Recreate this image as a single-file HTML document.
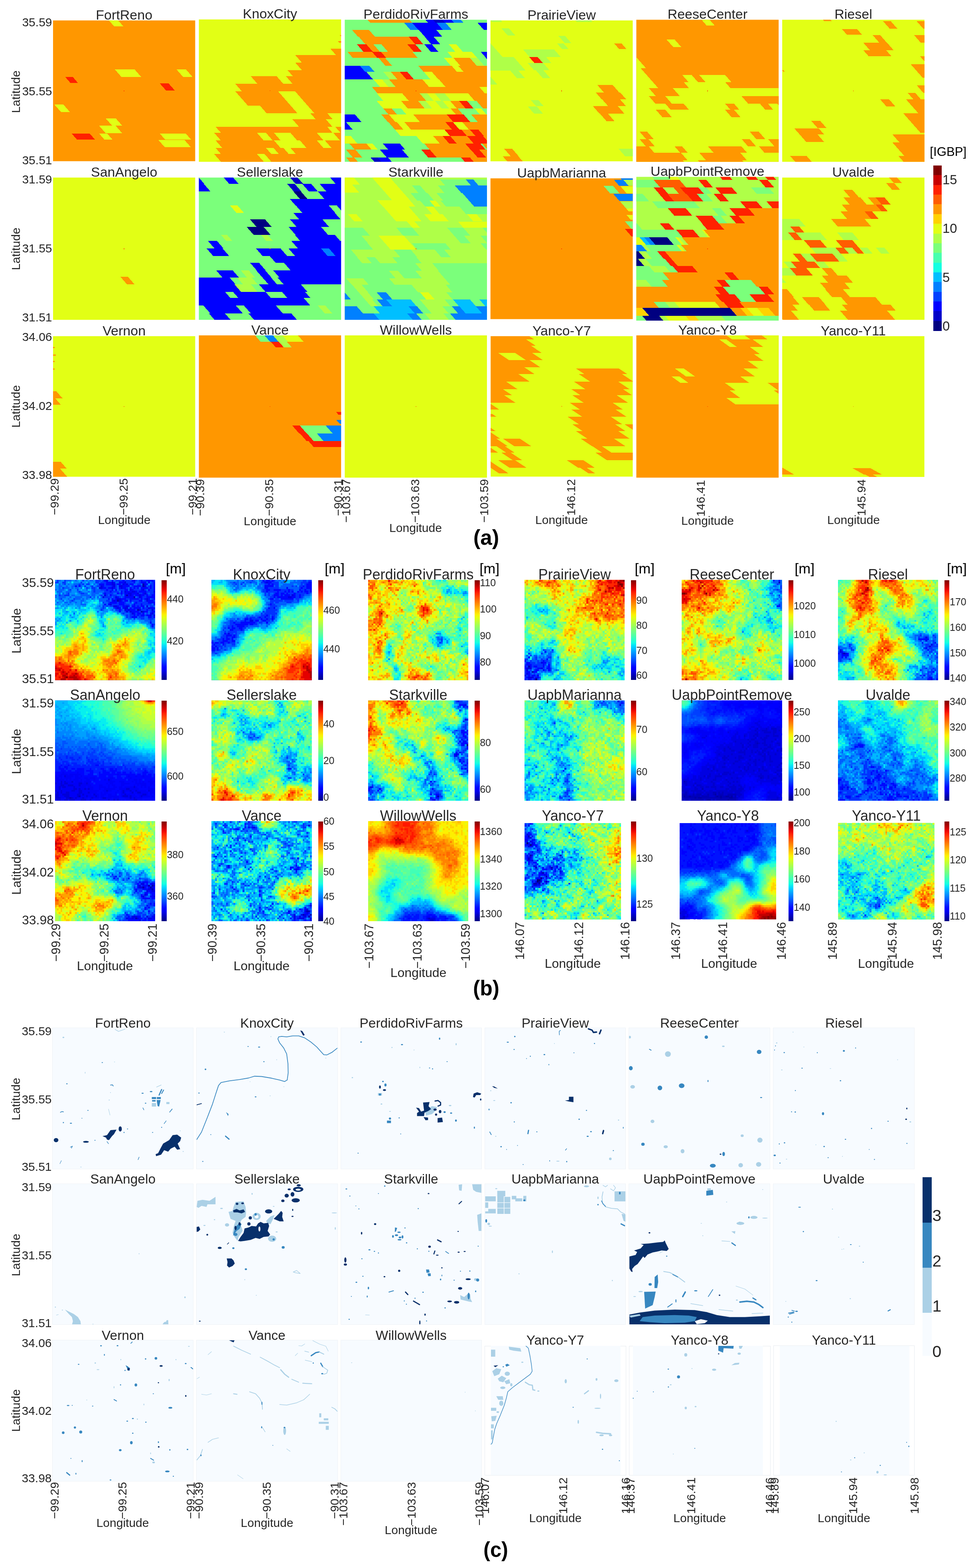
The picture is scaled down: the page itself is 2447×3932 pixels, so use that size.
<!DOCTYPE html>
<html><head><meta charset="utf-8"><title>Figure</title>
<style>html,body{margin:0;padding:0;background:#fff}svg{display:block}text{font-family:"Liberation Sans",Arial,sans-serif}</style>
</head><body>
<svg xmlns="http://www.w3.org/2000/svg" width="2447" height="3932" viewBox="0 0 2447 3932" shape-rendering="crispEdges">
<svg x="133" y="51.2" width="356.4" height="353.1" viewBox="0 0.8 1509.5 1495.5" preserveAspectRatio="none">
<rect x="-50" y="-50" width="1700" height="1700" fill="#ff9700"/>
<path fill="#e2ff15" d="M575 -20H673L748 65H650ZM655 520H865L935 600H725ZM1310 520H1410L1480 600H1380ZM15 895H110L178 972H83ZM558 1040H665L734 1118H627ZM490 1120H665L735 1200H560ZM490 1203H575L632 1268H547ZM1135 1203H1410L1467 1268H1192ZM1118 1270H1395L1464 1348H1187Z"/>
<path fill="#ff2100" d="M130 602H210L265 665H185ZM1132 668H1225L1293 745H1200ZM198 1203H390L447 1268H255Z"/>
<rect x="751.7" y="745.6" width="7" height="7" fill="#ff4000"/>
</svg>
<svg x="498.6" y="48.8" width="356.6" height="357" viewBox="2.5 -9.3 1510.3 1512" preserveAspectRatio="none">
<rect x="-50" y="-50" width="1700" height="1700" fill="#e2ff15"/>
<path fill="#ff9700" d="M1495 155H1600L1613 170H1508ZM1480 222H1600L1613 237H1493ZM1398 300H1600L1660 368H1458ZM1025 368H1600L1670 448H1095ZM1025 448H1600L1672 530H1097ZM945 530H1600L1657 595H1002ZM928 595H1600L1670 675H998ZM555 595H830L900 675H625ZM390 675H1600L1670 755H460ZM390 755H1600L1732 905H522ZM650 905H1600L1670 985H720ZM1185 985H1365L1422 1050H1242ZM995 1050H1350L1420 1130H1065ZM180 1130H1365L1422 1195H237ZM1450 1130H1600L1657 1195H1507ZM165 1195H1600L1670 1275H235ZM180 1275H1600L1670 1355H250ZM180 1355H1600L1657 1420H237ZM165 1420H1600L1701 1535H266Z"/>
<path fill="#e2ff15" d="M845 755H1025L1227 985H1047ZM620 1195H715L785 1275H690ZM800 1195H975L1045 1275H870ZM1255 1195H1430L1500 1275H1325ZM800 1275H1075L1145 1355H870ZM1255 1275H1340L1410 1355H1325ZM715 1355H795L852 1420H772ZM900 1355H975L1032 1420H957ZM620 1420H700L801 1535H721Z"/>
<rect x="754.7" y="743.7" width="7" height="7" fill="#ff4000"/>
</svg>
<svg x="864.4" y="49.5" width="356.5" height="356.3" viewBox="1.7 -2.1 1509.9 1509" preserveAspectRatio="none">
<rect x="-50" y="-50" width="1700" height="1700" fill="#7bff7b"/>
<path fill="#ff9700" d="M228 -20H673L715 28H270Z"/>
<path fill="#0000ff" d="M843 -20H923L965 28H885Z"/>
<path fill="#0000c8" d="M923 -20H1023L1065 28H965Z"/>
<path fill="#0000ff" d="M1023 -20H1118L1160 28H1065Z"/>
<path fill="#0080ff" d="M1118 -20H1218L1260 28H1160ZM630 28H715L785 108H700Z"/>
<path fill="#0000ff" d="M715 28H975L1045 108H785Z"/>
<path fill="#0080ff" d="M975 28H1070L1140 108H1045Z"/>
<path fill="#0000ff" d="M1410 28H1600L1670 108H1480Z"/>
<path fill="#ff9700" d="M80 108H260L322 178H142Z"/>
<path fill="#0000ff" d="M790 108H975L1037 178H852Z"/>
<path fill="#ff9700" d="M150 178H680L750 258H220Z"/>
<path fill="#ff2100" d="M680 178H765L835 258H750Z"/>
<path fill="#0000ff" d="M850 178H945L1015 258H920Z"/>
<path fill="#ff2100" d="M130 258H230L300 338H200Z"/>
<path fill="#ff9700" d="M230 258H305L375 338H300ZM390 258H665L735 338H460Z"/>
<path fill="#ff2100" d="M665 258H750L820 338H735Z"/>
<path fill="#0000ff" d="M845 258H925L995 338H915Z"/>
<path fill="#e2ff15" d="M1105 258H1185L1255 338H1175Z"/>
<path fill="#ff9700" d="M30 338H290L347 403H87Z"/>
<path fill="#ff2100" d="M290 338H385L442 403H347Z"/>
<path fill="#ff9700" d="M385 338H720L777 403H442Z"/>
<path fill="#e2ff15" d="M1090 338H1350L1407 403H1147Z"/>
<path fill="#0000ff" d="M1445 338H1600L1657 403H1502Z"/>
<path fill="#ff9700" d="M360 403H430L502 485H432Z"/>
<path fill="#e2ff15" d="M1055 403H1155L1227 485H1127Z"/>
<path fill="#ff9700" d="M1155 403H1330L1402 485H1227Z"/>
<path fill="#afff48" d="M1330 403H1410L1482 485H1402Z"/>
<path fill="#0000ff" d="M1500 403H1600L1672 485H1572ZM-80 485H160L217 550H-23Z"/>
<path fill="#0080ff" d="M160 485H260L317 550H217Z"/>
<path fill="#ff9700" d="M780 485H1135L1192 550H837Z"/>
<path fill="#e2ff15" d="M1135 485H1205L1262 550H1192Z"/>
<path fill="#ff9700" d="M1205 485H1600L1657 550H1262Z"/>
<path fill="#0000ff" d="M-80 550H230L300 630H-10Z"/>
<path fill="#afff48" d="M410 550H490L560 630H480Z"/>
<path fill="#ff9700" d="M490 550H585L655 630H560Z"/>
<path fill="#ff2100" d="M585 550H665L735 630H655Z"/>
<path fill="#e2ff15" d="M840 550H925L995 630H910Z"/>
<path fill="#ff9700" d="M925 550H1600L1670 630H995Z"/>
<path fill="#e2ff15" d="M305 630H395L467 712H377Z"/>
<path fill="#afff48" d="M395 630H470L542 712H467Z"/>
<path fill="#ff9700" d="M470 630H825L897 712H542Z"/>
<path fill="#e2ff15" d="M825 630H1000L1072 712H897Z"/>
<path fill="#ff9700" d="M1000 630H1600L1672 712H1072ZM290 712H1430L1488 778H348Z"/>
<path fill="#e2ff15" d="M1430 712H1600L1658 778H1488ZM340 778H610L682 860H412Z"/>
<path fill="#ff9700" d="M610 778H795L867 860H682Z"/>
<path fill="#afff48" d="M795 778H875L947 860H867Z"/>
<path fill="#e2ff15" d="M875 778H955L1027 860H947Z"/>
<path fill="#afff48" d="M955 778H1060L1132 860H1027Z"/>
<path fill="#e2ff15" d="M1060 778H1310L1382 860H1132Z"/>
<path fill="#ff9700" d="M1310 778H1600L1672 860H1382Z"/>
<path fill="#e2ff15" d="M340 860H600L670 940H410Z"/>
<path fill="#ff9700" d="M600 860H780L850 940H670Z"/>
<path fill="#afff48" d="M780 860H860L930 940H850Z"/>
<path fill="#e2ff15" d="M860 860H960L1030 940H930Z"/>
<path fill="#afff48" d="M960 860H1040L1110 940H1030Z"/>
<path fill="#e2ff15" d="M1040 860H1120L1190 940H1110Z"/>
<path fill="#ff9700" d="M1120 860H1215L1285 940H1190Z"/>
<path fill="#ff2100" d="M1215 860H1300L1370 940H1285Z"/>
<path fill="#ff9700" d="M1400 860H1600L1670 940H1470ZM410 940H500L557 1005H467Z"/>
<path fill="#e2ff15" d="M600 940H1125L1182 1005H657Z"/>
<path fill="#ff9700" d="M1125 940H1200L1257 1005H1182Z"/>
<path fill="#e2ff15" d="M1380 940H1450L1507 1005H1437Z"/>
<path fill="#0000ff" d="M-80 1005H110L180 1085H-10Z"/>
<path fill="#ff9700" d="M390 1005H470L540 1085H460Z"/>
<path fill="#e2ff15" d="M470 1005H730L800 1085H540Z"/>
<path fill="#ff9700" d="M730 1005H1085L1155 1085H800Z"/>
<path fill="#ff2100" d="M1085 1005H1265L1335 1085H1155Z"/>
<path fill="#ff9700" d="M1345 1005H1600L1670 1085H1415Z"/>
<path fill="#0000ff" d="M-80 1085H15L85 1165H-10Z"/>
<path fill="#ff9700" d="M465 1085H555L625 1165H535Z"/>
<path fill="#e2ff15" d="M555 1085H635L705 1165H625Z"/>
<path fill="#ff9700" d="M635 1085H1070L1140 1165H705Z"/>
<path fill="#ff2100" d="M1070 1085H1150L1220 1165H1140Z"/>
<path fill="#e2ff15" d="M1150 1085H1250L1320 1165H1220Z"/>
<path fill="#ff9700" d="M1250 1085H1600L1670 1165H1320Z"/>
<path fill="#e2ff15" d="M535 1165H1060L1119 1232H594Z"/>
<path fill="#ff2100" d="M1060 1165H1240L1299 1232H1119Z"/>
<path fill="#ff9700" d="M1240 1165H1330L1389 1232H1299Z"/>
<path fill="#ff2100" d="M1330 1165H1420L1479 1232H1389Z"/>
<path fill="#ff9700" d="M1420 1165H1600L1659 1232H1479Z"/>
<path fill="#e2ff15" d="M-80 1232H65L135 1312H-10ZM760 1232H940L1010 1312H830Z"/>
<path fill="#ff9700" d="M940 1232H1040L1110 1312H1010Z"/>
<path fill="#ff2100" d="M1040 1232H1120L1190 1312H1110Z"/>
<path fill="#ff9700" d="M1120 1232H1300L1370 1312H1190Z"/>
<path fill="#ff2100" d="M1300 1232H1470L1540 1312H1370Z"/>
<path fill="#ff9700" d="M1470 1232H1600L1670 1312H1540ZM50 1312H230L288 1378H108Z"/>
<path fill="#e2ff15" d="M230 1312H295L353 1378H288Z"/>
<path fill="#0000ff" d="M405 1312H585L643 1378H463Z"/>
<path fill="#ff9700" d="M845 1312H1280L1338 1378H903Z"/>
<path fill="#ff2100" d="M1280 1312H1440L1498 1378H1338Z"/>
<path fill="#ff9700" d="M1460 1312H1600L1658 1378H1518ZM15 1378H115L187 1460H87Z"/>
<path fill="#0000ff" d="M375 1378H610L682 1460H447Z"/>
<path fill="#ff2100" d="M815 1378H905L977 1460H887Z"/>
<path fill="#ff9700" d="M905 1378H1340L1412 1460H977Z"/>
<path fill="#ff2100" d="M1340 1378H1430L1502 1460H1412Z"/>
<path fill="#ff9700" d="M1430 1378H1600L1672 1460H1502ZM15 1460H100L166 1535H81Z"/>
<path fill="#0000c8" d="M275 1460H350L416 1535H341Z"/>
<path fill="#0000ff" d="M350 1460H460L526 1535H416Z"/>
<path fill="#ff2100" d="M1235 1460H1330L1396 1535H1301Z"/>
<path fill="#ff9700" d="M1330 1460H1600L1666 1535H1396Z"/>
<rect x="753.6" y="749.4" width="7" height="7" fill="#ff4000"/>
</svg>
<svg x="1229.7" y="51.3" width="356.7" height="353.3" viewBox="-1.3 1.3 1510.7 1496.3" preserveAspectRatio="none">
<rect x="-50" y="-50" width="1700" height="1700" fill="#e2ff15"/>
<path fill="#afff48" d="M-17 -20H93L124 15H14ZM883 -20H1048L1079 15H914ZM115 85H195L261 160H181ZM720 165H790L856 240H786ZM705 245H775L828 305H758ZM-300 245H0L128 390H-172ZM-300 390H245L373 535H-172ZM210 535H295L365 615H280ZM-80 600H0L70 680H-10ZM345 310H675L745 390H415ZM500 390H590L647 455H557ZM395 455H560L626 530H461ZM480 530H560L635 615H555ZM425 845H505L562 910H482ZM395 915H490L556 990H461ZM1360 1365H1600L1670 1445H1430Z"/>
<path fill="#ff2100" d="M410 390H500L557 455H467Z"/>
<path fill="#ff9700" d="M1312 245H1390L1443 305H1365ZM1132 685H1295L1365 765H1202ZM1115 765H1375L1441 840H1181ZM1185 840H1375L1437 910H1247ZM1085 910H1350L1420 990H1155ZM1160 990H1245L1315 1070H1230ZM145 1365H230L300 1445H215ZM130 1445H295L374 1535H209Z"/>
<rect x="751.1" y="746.4" width="7" height="7" fill="#ff4000"/>
</svg>
<svg x="1595.4" y="49.5" width="356.8" height="356.3" viewBox="-2.5 -6.4 1511.2 1509" preserveAspectRatio="none">
<rect x="-50" y="-50" width="1700" height="1700" fill="#ff9700"/>
<path fill="#e2ff15" d="M678 -20H763L829 55H744ZM320 205H405L473 282H388ZM-300 395H0L101 510H-199ZM-300 510H45L230 720H-115ZM485 580H585L651 655H551ZM665 580H940L1006 655H731ZM500 655H940L997 720H557ZM0 720H1512V1535H0Z"/>
<path fill="#ff9700" d="M130 720H385L460 805H205ZM130 805H305L375 885H200ZM1115 805H1600L1670 885H1185ZM305 885H500L557 950H362ZM940 885H1035L1092 950H997ZM1310 885H1395L1452 950H1367ZM1495 885H1600L1657 950H1552ZM205 950H305L375 1030H275ZM940 950H1035L1105 1030H1010ZM30 1180H110L180 1260H100ZM1200 1180H1295L1365 1260H1270ZM30 1260H125L195 1340H100ZM1115 1260H1200L1270 1340H1185ZM1395 1260H1600L1670 1340H1465ZM-80 1340H130L187 1405H-23ZM405 1340H485L542 1405H462ZM760 1340H1115L1172 1405H817ZM1300 1340H1600L1657 1405H1357ZM-80 1405H470L540 1485H-10ZM665 1405H1100L1170 1485H735ZM-80 1485H490L534 1535H-36ZM650 1485H1120L1164 1535H694Z"/>
<rect x="750" y="745.2" width="7" height="7" fill="#ff4000"/>
</svg>
<svg x="1961.1" y="49.5" width="356.7" height="356.3" viewBox="-3.8 -6.4 1510.7 1509" preserveAspectRatio="none">
<rect x="-50" y="-50" width="1700" height="1700" fill="#e2ff15"/>
<path fill="#ff9700" d="M418 -20H498L523 8H443ZM1068 10H1150L1219 88H1137ZM1425 10H1600L1669 88H1494ZM630 92H790L843 152H683ZM955 155H1035L1108 238H1028ZM1395 155H1600L1673 238H1468ZM858 238H1110L1180 318H928ZM858 318H1100L1155 380H913ZM1460 382H1600L1642 430H1502ZM1360 465H1600L1728 610H1488ZM1425 690H1600L1670 770H1495ZM1330 772H1410L1470 840H1390ZM1312 840H1600L1728 985H1440ZM1035 838H1130L1198 915H1103ZM1280 985H1600L1785 1195H1465ZM1165 1210H1600L1675 1295H1240ZM1165 1295H1600L1728 1440H1293ZM1230 1440H1600L1684 1535H1314ZM305 1068H400L468 1145H373ZM125 1148H385L440 1210H180ZM180 1210H370L442 1292H252ZM80 1440H255L339 1535H164ZM-5 530H10L23 545H8Z"/>
<rect x="748.6" y="745.2" width="7" height="7" fill="#ff4000"/>
</svg>
<svg x="133" y="445.2" width="356.4" height="356.9" viewBox="0 0.8 1509.5 1511.6" preserveAspectRatio="none">
<rect x="-50" y="-50" width="1700" height="1700" fill="#e2ff15"/>
<path fill="#ff9700" d="M715 1055H795L865 1135H785Z"/>
<rect x="751.7" y="753.6" width="7" height="7" fill="#ff4000"/>
</svg>
<svg x="498.6" y="445.2" width="356.6" height="356.9" viewBox="2.5 0.8 1510.3 1511.6" preserveAspectRatio="none">
<rect x="-50" y="-50" width="1700" height="1700" fill="#7bff7b"/>
<path fill="#0000ff" d="M-97 -20H-17L60 68H-20ZM248 -20H348L425 68H325Z"/>
<path fill="#0000c8" d="M953 -20H1033L1110 68H1030Z"/>
<path fill="#0000ff" d="M1378 -20H1583L1660 68H1455ZM-80 68H55L125 148H-10Z"/>
<path fill="#0000c8" d="M940 68H1020L1090 148H1010Z"/>
<path fill="#0000ff" d="M1100 68H1195L1265 148H1170ZM1285 68H1600L1670 148H1355Z"/>
<path fill="#000080" d="M1005 148H1085L1157 230H1077Z"/>
<path fill="#0000ff" d="M1265 148H1600L1672 230H1337ZM970 230H1600L1657 295H1027Z"/>
<path fill="#e2ff15" d="M330 295H410L480 375H400Z"/>
<path fill="#0000ff" d="M1030 295H1380L1450 375H1100ZM1465 295H1600L1670 375H1535ZM1005 375H1445L1507 445H1067ZM1530 375H1600L1662 445H1592Z"/>
<path fill="#000080" d="M545 445H705L775 525H615Z"/>
<path fill="#0000ff" d="M970 445H1315L1385 525H1040Z"/>
<path fill="#000080" d="M510 525H690L763 608H583Z"/>
<path fill="#0000ff" d="M955 525H1300L1373 608H1028Z"/>
<path fill="#afff48" d="M235 608H300L359 675H294ZM660 608H730L789 675H719Z"/>
<path fill="#0000ff" d="M1020 608H1445L1504 675H1079ZM100 675H195L265 755H170ZM985 675H1600L1670 755H1055ZM85 755H255L325 835H155ZM610 755H870L940 835H680ZM955 755H1300L1370 835H1025Z"/>
<path fill="#0080ff" d="M1300 755H1385L1455 835H1370Z"/>
<path fill="#0000ff" d="M1385 755H1600L1670 835H1455ZM755 835H1600L1662 905H817ZM545 905H640L710 985H615ZM905 905H1600L1670 985H975ZM185 985H360L430 1065H255Z"/>
<path fill="#afff48" d="M445 985H530L600 1065H515Z"/>
<path fill="#0000ff" d="M610 985H705L775 1065H680ZM790 985H1600L1670 1065H860ZM-80 1065H330L392 1135H-18Z"/>
<path fill="#afff48" d="M410 1065H565L627 1135H472Z"/>
<path fill="#0000ff" d="M680 1065H770L832 1135H742ZM840 1065H1600L1662 1135H902ZM-80 1135H380L450 1215H-10Z"/>
<path fill="#afff48" d="M380 1135H555L625 1215H450Z"/>
<path fill="#0000ff" d="M640 1135H1085L1155 1215H710ZM-80 1215H280L337 1280H-23ZM365 1215H710L767 1280H422ZM885 1215H1130L1187 1280H942ZM-80 1280H1115L1185 1360H-10ZM50 1360H395L470 1445H125ZM480 1360H820L895 1445H555Z"/>
<path fill="#afff48" d="M1265 1360H1345L1420 1445H1340Z"/>
<path fill="#0000ff" d="M110 1445H280L359 1535H189ZM530 1445H985L1064 1535H609Z"/>
<rect x="754.7" y="753.6" width="7" height="7" fill="#ff4000"/>
</svg>
<svg x="864.4" y="445.2" width="356.5" height="356.9" viewBox="1.7 0.8 1509.9 1511.6" preserveAspectRatio="none">
<rect x="-50" y="-50" width="1700" height="1700" fill="#afff48"/>
<path fill="#e2ff15" d="M-97 -20H78L162 75H-13ZM-80 75H80L155 160H-5ZM273 -20H463L692 240H502ZM345 240H690L752 310H407ZM410 310H680L750 390H480ZM480 390H750L816 465H546ZM660 465H740L802 535H722ZM875 245H965L1022 310H932ZM860 310H940L1010 390H930ZM845 390H1040L1106 465H911ZM35 390H125L191 465H101ZM1300 390H1400L1466 465H1366ZM1205 470H1600L1657 535H1262ZM360 620H630L758 765H488Z"/>
<path fill="#7bff7b" d="M1010 20H1285L1342 85H1067Z"/>
<path fill="#0080ff" d="M1285 20H1365L1422 85H1342Z"/>
<path fill="#7bff7b" d="M1365 20H1600L1657 85H1422ZM990 85H1170L1240 165H1060Z"/>
<path fill="#0080ff" d="M1170 85H1600L1670 165H1240Z"/>
<path fill="#7bff7b" d="M715 85H800L870 165H785ZM975 165H1250L1320 245H1045Z"/>
<path fill="#0080ff" d="M1250 165H1600L1670 245H1320Z"/>
<path fill="#7bff7b" d="M700 165H880L950 245H770ZM1020 245H1320L1377 310H1077Z"/>
<path fill="#0080ff" d="M1320 245H1600L1657 310H1377Z"/>
<path fill="#7bff7b" d="M800 245H900L957 310H857ZM1220 310H1600L1670 390H1290ZM-80 535H195L270 620H-5ZM550 535H720L795 620H625ZM1090 535H1260L1335 620H1165ZM1465 535H1600L1675 620H1540ZM-80 620H180L250 700H-10ZM1165 620H1270L1340 700H1235ZM1445 620H1600L1670 700H1515ZM-80 700H245L302 765H-23ZM715 700H1070L1127 765H772ZM1445 700H1600L1657 765H1502ZM-80 765H65L135 845H-10ZM520 765H700L770 845H590ZM955 765H1055L1125 845H1025ZM-80 845H130L187 910H-23ZM230 845H320L377 910H287ZM505 845H760L817 910H562ZM-80 910H750L820 990H-10ZM930 910H1600L1670 990H1000ZM-80 990H470L540 1070H-10ZM565 990H750L820 1070H635ZM990 990H1600L1670 1070H1060ZM-80 1070H15L77 1140H-18ZM195 1070H470L532 1140H257ZM1060 1070H1600L1662 1140H1122ZM-80 1140H80L150 1220H-10ZM180 1140H710L780 1220H250ZM1075 1140H1600L1670 1220H1145Z"/>
<path fill="#0080ff" d="M-80 1220H0L66 1295H-14Z"/>
<path fill="#7bff7b" d="M0 1220H150L216 1295H66ZM245 1220H340L406 1295H311Z"/>
<path fill="#0080ff" d="M340 1220H440L506 1295H406Z"/>
<path fill="#7bff7b" d="M440 1220H800L866 1295H506Z"/>
<path fill="#e2ff15" d="M800 1220H890L956 1295H866Z"/>
<path fill="#7bff7b" d="M1080 1220H1600L1666 1295H1146ZM-80 1295H215L281 1370H-14ZM290 1295H340L406 1370H356Z"/>
<path fill="#0080ff" d="M340 1295H440L506 1370H406Z"/>
<path fill="#00bfff" d="M440 1295H700L766 1370H506Z"/>
<path fill="#7bff7b" d="M700 1295H795L861 1370H766ZM1060 1295H1150L1216 1370H1126Z"/>
<path fill="#00bfff" d="M1150 1295H1330L1396 1370H1216Z"/>
<path fill="#7bff7b" d="M1330 1295H1430L1496 1370H1396Z"/>
<path fill="#00bfff" d="M1430 1295H1600L1666 1370H1496Z"/>
<path fill="#0080ff" d="M-80 1370H130L196 1445H-14Z"/>
<path fill="#7bff7b" d="M130 1370H310L376 1445H196Z"/>
<path fill="#00bfff" d="M310 1370H680L746 1445H376Z"/>
<path fill="#0080ff" d="M680 1370H770L836 1445H746Z"/>
<path fill="#7bff7b" d="M770 1370H860L926 1445H836ZM1040 1370H1140L1206 1445H1106Z"/>
<path fill="#0080ff" d="M1140 1370H1220L1286 1445H1206Z"/>
<path fill="#00bfff" d="M1220 1370H1395L1461 1445H1286Z"/>
<path fill="#0080ff" d="M1395 1370H1600L1666 1445H1461ZM-80 1445H310L389 1535H-1Z"/>
<path fill="#00bfff" d="M310 1445H665L744 1535H389Z"/>
<path fill="#0080ff" d="M665 1445H760L839 1535H744Z"/>
<path fill="#7bff7b" d="M760 1445H850L929 1535H839ZM1050 1445H1120L1199 1535H1129Z"/>
<path fill="#0080ff" d="M1120 1445H1600L1679 1535H1199Z"/>
<rect x="753.6" y="753.6" width="7" height="7" fill="#ff4000"/>
</svg>
<svg x="1229.7" y="447.2" width="356.7" height="353" viewBox="-1.3 9.3 1510.7 1495.1" preserveAspectRatio="none">
<rect x="-50" y="-50" width="1700" height="1700" fill="#ff9700"/>
<path fill="#0080ff" d="M1380 10H1600L1613 25H1393ZM1310 25H1410L1467 90H1367Z"/>
<path fill="#afff48" d="M1410 25H1600L1657 90H1467Z"/>
<path fill="#7bff7b" d="M1200 90H1300L1370 170H1270Z"/>
<path fill="#e2ff15" d="M1380 95H1600L1666 170H1446Z"/>
<path fill="#0080ff" d="M1300 172H1600L1669 250H1369Z"/>
<path fill="#afff48" d="M1375 255H1600L1666 330H1441Z"/>
<path fill="#e2ff15" d="M1440 330H1600L1626 360H1466ZM1445 400H1600L1644 450H1489Z"/>
<path fill="#7bff7b" d="M1425 465H1600L1670 545H1495Z"/>
<path fill="#ff2100" d="M1425 545H1600L1670 625H1495Z"/>
<rect x="751.1" y="753.8" width="7" height="7" fill="#ff4000"/>
</svg>
<svg x="1595.4" y="443.5" width="356.8" height="360.5" viewBox="-2.5 -6.4 1511.2 1526.8" preserveAspectRatio="none">
<rect x="-50" y="-50" width="1700" height="1700" fill="#afff48"/>
<path fill="#7bff7b" d="M153 -20H323L363 25H193Z"/>
<path fill="#e2ff15" d="M323 -20H423L463 25H363Z"/>
<path fill="#ff2100" d="M873 -20H978L1018 25H913ZM1148 -20H1253L1293 25H1188ZM1353 -20H1443L1483 25H1393Z"/>
<path fill="#7bff7b" d="M-80 25H180L250 105H-10Z"/>
<path fill="#ff5c00" d="M180 25H455L525 105H250Z"/>
<path fill="#ff2100" d="M655 25H740L810 105H725ZM1300 25H1390L1460 105H1370ZM180 105H275L337 175H242Z"/>
<path fill="#ff5c00" d="M390 105H460L522 175H452Z"/>
<path fill="#ff2100" d="M460 105H655L717 175H522Z"/>
<path fill="#7bff7b" d="M655 105H740L802 175H717Z"/>
<path fill="#ff2100" d="M835 105H1010L1072 175H897Z"/>
<path fill="#7bff7b" d="M1215 105H1400L1462 175H1277ZM-80 175H65L135 255H-10Z"/>
<path fill="#ff2100" d="M240 175H330L400 255H310Z"/>
<path fill="#ff5c00" d="M330 175H530L600 255H400Z"/>
<path fill="#ff2100" d="M530 175H640L710 255H600Z"/>
<path fill="#7bff7b" d="M640 175H740L810 255H710Z"/>
<path fill="#ff2100" d="M820 175H910L980 255H890Z"/>
<path fill="#7bff7b" d="M165 255H610L672 325H227Z"/>
<path fill="#ff2100" d="M1100 255H1275L1337 325H1162ZM1380 255H1600L1662 325H1442ZM330 325H520L590 405H400Z"/>
<path fill="#7bff7b" d="M800 325H890L960 405H870Z"/>
<path fill="#ff2100" d="M985 325H1185L1255 405H1055Z"/>
<path fill="#ff9700" d="M1185 325H1600L1670 405H1255Z"/>
<path fill="#ff2100" d="M625 405H800L870 485H695Z"/>
<path fill="#7bff7b" d="M800 405H890L960 485H870Z"/>
<path fill="#ff2100" d="M985 405H1080L1150 485H1055Z"/>
<path fill="#ff9700" d="M1080 405H1600L1670 485H1150Z"/>
<path fill="#7bff7b" d="M-80 485H0L62 555H-18Z"/>
<path fill="#ff2100" d="M245 485H340L402 555H307ZM690 485H870L932 555H752Z"/>
<path fill="#ff9700" d="M870 485H1600L1662 555H932Z"/>
<path fill="#7bff7b" d="M-80 555H420L490 635H-10Z"/>
<path fill="#ff2100" d="M420 555H600L670 635H490Z"/>
<path fill="#e2ff15" d="M690 555H720L790 635H760Z"/>
<path fill="#ff9700" d="M710 555H1600L1670 635H780Z"/>
<path fill="#e2ff15" d="M-80 635H30L100 715H-10Z"/>
<path fill="#00bfff" d="M30 635H80L150 715H100Z"/>
<path fill="#0080ff" d="M80 635H130L200 715H150Z"/>
<path fill="#000080" d="M130 635H325L395 715H200Z"/>
<path fill="#7bff7b" d="M325 635H410L480 715H395Z"/>
<path fill="#e2ff15" d="M410 635H440L510 715H480Z"/>
<path fill="#ff9700" d="M480 635H1600L1670 715H550Z"/>
<path fill="#0080ff" d="M-80 715H50L112 785H-18Z"/>
<path fill="#7bff7b" d="M90 715H420L482 785H152Z"/>
<path fill="#e2ff15" d="M420 715H450L512 785H482Z"/>
<path fill="#ff9700" d="M470 715H1600L1662 785H532Z"/>
<path fill="#000080" d="M-80 785H20L90 865H-10Z"/>
<path fill="#7bff7b" d="M95 785H220L290 865H165Z"/>
<path fill="#ff2100" d="M220 785H300L370 865H290Z"/>
<path fill="#ff9700" d="M300 785H1600L1670 865H370Z"/>
<path fill="#000080" d="M-80 865H15L81 940H-14Z"/>
<path fill="#7bff7b" d="M95 865H300L366 940H161Z"/>
<path fill="#ff2100" d="M300 865H370L436 940H366Z"/>
<path fill="#ff9700" d="M370 865H1600L1666 940H436Z"/>
<path fill="#7bff7b" d="M-80 940H130L192 1010H-18ZM300 940H380L442 1010H362Z"/>
<path fill="#ff2100" d="M380 940H590L652 1010H442Z"/>
<path fill="#ff9700" d="M590 940H1600L1662 1010H652Z"/>
<path fill="#7bff7b" d="M-80 1010H280L350 1090H-10Z"/>
<path fill="#ff9700" d="M280 1010H1600L1670 1090H350Z"/>
<path fill="#ff2100" d="M935 1010H1020L1090 1090H1005Z"/>
<path fill="#7bff7b" d="M100 1090H270L332 1160H162Z"/>
<path fill="#ff9700" d="M270 1090H1600L1662 1160H332Z"/>
<path fill="#ff2100" d="M850 1090H935L997 1160H912Z"/>
<path fill="#7bff7b" d="M935 1090H1215L1277 1160H997Z"/>
<path fill="#ff9700" d="M-80 1160H1600L1670 1240H-10Z"/>
<path fill="#ff2100" d="M820 1160H915L985 1240H890Z"/>
<path fill="#7bff7b" d="M915 1160H1295L1365 1240H985Z"/>
<path fill="#ff2100" d="M1295 1160H1390L1460 1240H1365Z"/>
<path fill="#ff9700" d="M-80 1240H1600L1670 1320H-10Z"/>
<path fill="#ff2100" d="M835 1240H1040L1110 1320H905Z"/>
<path fill="#7bff7b" d="M1040 1240H1195L1265 1320H1110Z"/>
<path fill="#ff2100" d="M1200 1240H1390L1460 1320H1270Z"/>
<path fill="#ff9700" d="M-80 1320H180L237 1385H-23Z"/>
<path fill="#7bff7b" d="M180 1320H300L357 1385H237Z"/>
<path fill="#e2ff15" d="M400 1320H830L887 1385H457Z"/>
<path fill="#ff9700" d="M830 1320H920L977 1385H887Z"/>
<path fill="#ff2100" d="M920 1320H1090L1147 1385H977Z"/>
<path fill="#ff9700" d="M1090 1320H1600L1657 1385H1147Z"/>
<path fill="#ffd200" d="M-80 1385H60L135 1470H-5Z"/>
<path fill="#000080" d="M60 1385H990L1065 1470H135Z"/>
<path fill="#ff9700" d="M990 1385H1100L1175 1470H1065Z"/>
<path fill="#ffd200" d="M1100 1385H1170L1245 1470H1175Z"/>
<path fill="#e2ff15" d="M1170 1385H1280L1355 1470H1245Z"/>
<path fill="#ffd200" d="M1280 1385H1400L1475 1470H1355Z"/>
<path fill="#ff9700" d="M1400 1385H1600L1675 1470H1475Z"/>
<path fill="#7bff7b" d="M-80 1470H60L117 1535H-23Z"/>
<path fill="#000080" d="M60 1470H240L297 1535H117Z"/>
<path fill="#e2ff15" d="M300 1470H520L577 1535H357Z"/>
<path fill="#ffd200" d="M520 1470H620L677 1535H577Z"/>
<path fill="#7bff7b" d="M900 1470H1600L1657 1535H957Z"/>
<rect x="750" y="754.1" width="7" height="7" fill="#ff4000"/>
</svg>
<svg x="1961.1" y="445.2" width="356.7" height="356.9" viewBox="-3.8 0.8 1510.7 1511.6" preserveAspectRatio="none">
<rect x="-50" y="-50" width="1700" height="1700" fill="#e2ff15"/>
<path fill="#ff9700" d="M1113 -20H1198L1268 60H1183ZM1100 60H1185L1247 130H1162ZM645 130H740L810 210H715ZM645 210H825L895 290H715ZM905 210H985L1055 290H975Z"/>
<path fill="#ff5c00" d="M985 210H1080L1150 290H1055Z"/>
<path fill="#ff9700" d="M630 290H990L1052 360H692Z"/>
<path fill="#ff5c00" d="M990 290H1055L1117 360H1052Z"/>
<path fill="#ff9700" d="M615 360H870L940 440H685Z"/>
<path fill="#ff5c00" d="M870 360H950L1020 440H940Z"/>
<path fill="#afff48" d="M-80 440H175L245 520H-10Z"/>
<path fill="#ff9700" d="M515 440H870L940 520H585Z"/>
<path fill="#afff48" d="M-80 520H80L137 585H-23Z"/>
<path fill="#ff5c00" d="M80 520H175L232 585H137Z"/>
<path fill="#afff48" d="M-80 585H60L130 665H-10Z"/>
<path fill="#ff5c00" d="M60 585H140L210 665H130Z"/>
<path fill="#afff48" d="M140 585H400L470 665H210ZM580 585H740L810 665H650Z"/>
<path fill="#ff5c00" d="M225 665H400L470 745H295ZM565 665H740L810 745H635Z"/>
<path fill="#afff48" d="M300 745H560L617 810H357Z"/>
<path fill="#ff5c00" d="M560 745H650L707 810H617Z"/>
<path fill="#afff48" d="M650 745H740L797 810H707Z"/>
<path fill="#ff5c00" d="M740 745H810L867 810H797Z"/>
<path fill="#afff48" d="M820 745H900L957 810H877ZM990 745H1080L1137 810H1047Z"/>
<path fill="#ff5c00" d="M110 810H190L265 895H185Z"/>
<path fill="#afff48" d="M190 810H290L365 895H265Z"/>
<path fill="#ff5c00" d="M290 810H530L605 895H365Z"/>
<path fill="#afff48" d="M530 810H620L695 895H605ZM10 895H90L147 960H67Z"/>
<path fill="#ff5c00" d="M90 895H340L397 960H147Z"/>
<path fill="#afff48" d="M350 895H440L497 960H407ZM-80 960H75L145 1040H-10Z"/>
<path fill="#ff5c00" d="M75 960H250L320 1040H145Z"/>
<path fill="#ff9700" d="M415 960H515L585 1040H485Z"/>
<path fill="#afff48" d="M-80 1040H-30L40 1120H-10Z"/>
<path fill="#ff9700" d="M415 1040H680L750 1120H485ZM400 1120H660L717 1185H457ZM-80 1185H45L120 1270H-5ZM450 1185H640L715 1270H525ZM-80 1270H110L180 1350H-10ZM205 1270H385L455 1350H275ZM620 1270H985L1055 1350H690ZM-80 1350H105L162 1415H-23ZM280 1350H450L507 1415H337ZM630 1350H1145L1202 1415H687ZM-80 1415H90L196 1535H26ZM610 1415H1110L1216 1535H716Z"/>
<rect x="748.6" y="753.6" width="7" height="7" fill="#ff4000"/>
</svg>
<svg x="133" y="843" width="356.4" height="352.6" viewBox="0 12.7 1509.5 1493.4" preserveAspectRatio="none">
<rect x="-50" y="-50" width="1700" height="1700" fill="#e2ff15"/>
<path fill="#ff9700" d="M-80 598H35L103 675H-12ZM-80 675H25L82 740H-23ZM-80 1345H80L146 1420H-14ZM-80 1420H75L176 1535H21ZM0 125H15V140H0ZM0 208H30V222H0ZM0 275H15V288H0ZM0 355H15V368H0Z"/>
<rect x="751.7" y="756.4" width="7" height="7" fill="#ff4000"/>
</svg>
<svg x="498.6" y="841" width="356.6" height="356.8" viewBox="2.5 4.2 1510.3 1511.2" preserveAspectRatio="none">
<rect x="-50" y="-50" width="1700" height="1700" fill="#ff9700"/>
<path fill="#7bff7b" d="M600 5H700L757 70H657Z"/>
<path fill="#0080ff" d="M700 5H790L847 70H757Z"/>
<path fill="#afff48" d="M790 5H890L947 70H847Z"/>
<path fill="#e2ff15" d="M890 5H1055L1112 70H947Z"/>
<path fill="#ff2100" d="M765 70H850L905 132H820Z"/>
<path fill="#afff48" d="M850 70H935L990 132H905Z"/>
<path fill="#ff2100" d="M1460 818H1600L1626 848H1486Z"/>
<path fill="#0080ff" d="M1460 900H1600L1640 945H1500Z"/>
<path fill="#ff2100" d="M995 963H1075L1147 1045H1067Z"/>
<path fill="#7bff7b" d="M1075 963H1350L1422 1045H1147Z"/>
<path fill="#0080ff" d="M1350 963H1600L1672 1045H1422Z"/>
<path fill="#ff2100" d="M1075 1045H1150L1220 1125H1145Z"/>
<path fill="#7bff7b" d="M1150 1045H1255L1325 1125H1220Z"/>
<path fill="#0080ff" d="M1255 1045H1600L1670 1125H1325Z"/>
<path fill="#ff2100" d="M1165 1125H1600L1657 1190H1222Z"/>
<rect x="754.7" y="756.8" width="7" height="7" fill="#ff4000"/>
</svg>
<svg x="864.4" y="841" width="356.5" height="356.8" viewBox="1.7 4.2 1509.9 1511.2" preserveAspectRatio="none">
<rect x="-50" y="-50" width="1700" height="1700" fill="#e2ff15"/>
<rect x="753.6" y="756.8" width="7" height="7" fill="#ff4000"/>
</svg>
<svg x="1230.2" y="843" width="356.2" height="352.3" viewBox="0.8 12.7 1508.6 1492.1" preserveAspectRatio="none">
<rect x="-50" y="-50" width="1700" height="1700" fill="#e2ff15"/>
<path fill="#ff9700" d="M-300 12H410L460 45H-250ZM-300 45H375L480 115H-195ZM-300 115H430L542 190H-188ZM-300 190H440L552 265H-188Z"/>
<path fill="#e2ff15" d="M80 190H260L372 265H192Z"/>
<path fill="#ff9700" d="M-300 265H410L530 345H-180ZM-300 345H360L465 415H-195ZM-300 415H295L415 495H-180ZM-300 495H165L285 575H-180ZM-300 575H130L228 640H-202ZM-300 640H145L265 720H-180ZM-300 720H-17L88 790H-195ZM-300 840H20L65 870H-255ZM-300 985H0L52 1020H-248ZM-300 1020H-20L100 1100H-180ZM-300 1100H60L180 1180H-180ZM130 1100H310L430 1180H250ZM-300 1180H-25L80 1250H-195ZM60 1180H150L255 1250H165ZM115 1250H215L335 1330H235ZM-300 1330H-20L100 1410H-180ZM80 1330H260L380 1410H200ZM0 1410H100L190 1470H90ZM905 355H1360L1450 415H995ZM935 415H1395L1515 495H1055ZM885 495H1355L1475 575H1005ZM855 575H1405L1503 640H953ZM870 640H1340L1460 720H990ZM840 720H1295L1400 790H945ZM855 790H1325L1445 870H975ZM820 870H1280L1400 950H940ZM870 950H1325L1430 1020H975ZM1425 950H1600L1705 1020H1530ZM905 1020H1355L1475 1100H1025ZM955 1100H1310L1430 1180H1075ZM1080 1180H1180L1285 1250H1185ZM1115 1250H1600L1720 1330H1235ZM810 1330H985L1105 1410H930ZM950 1410H1020L1110 1470H1040Z"/>
<rect x="752.2" y="755.8" width="7" height="7" fill="#ff4000"/>
</svg>
<svg x="1595.4" y="841" width="356.8" height="356.8" viewBox="-2.5 4.2 1511.2 1511.2" preserveAspectRatio="none">
<rect x="-50" y="-50" width="1700" height="1700" fill="#ff9700"/>
<path fill="#e2ff15" d="M955 5H1150L1206 45H1011ZM1330 5H1600L1656 45H1386ZM875 45H950L1062 125H987ZM1230 45H1600L1712 125H1342ZM1200 125H1600L1712 205H1312ZM1250 205H1600L1698 275H1348ZM1180 275H1600L1712 355H1292ZM1135 355H1600L1719 440H1254ZM405 355H500L619 440H524ZM1100 440H1600L1698 510H1198ZM370 440H455L553 510H468ZM940 510H1395L1507 590H1052ZM990 590H1460L1572 670H1102ZM955 670H1600L1691 735H1046Z"/>
<rect x="750" y="756.8" width="7" height="7" fill="#ff4000"/>
</svg>
<svg x="1961.1" y="843" width="356.5" height="353" viewBox="-3.8 12.7 1509.9 1495.1" preserveAspectRatio="none">
<rect x="-50" y="-50" width="1700" height="1700" fill="#e2ff15"/>
<path fill="#ff9700" d="M-300 1410H0L124 1483H-176ZM740 1413H930L1056 1483H866ZM880 1483H960L1054 1535H974Z"/>
<rect x="748.1" y="757.2" width="7" height="7" fill="#ff4000"/>
</svg>
<text x="311.2" y="48.800000000000004" font-size="34" text-anchor="middle" fill="#262626">FortReno</text>
<text x="676.9000000000001" y="46.4" font-size="34" text-anchor="middle" fill="#262626">KnoxCity</text>
<text x="1042.65" y="47.1" font-size="34" text-anchor="middle" fill="#262626">PerdidoRivFarms</text>
<text x="1408.0500000000002" y="48.9" font-size="34" text-anchor="middle" fill="#262626">PrairieView</text>
<text x="1773.8000000000002" y="47.1" font-size="34" text-anchor="middle" fill="#262626">ReeseCenter</text>
<text x="2139.45" y="47.1" font-size="34" text-anchor="middle" fill="#262626">Riesel</text>
<text x="311.2" y="442.8" font-size="34" text-anchor="middle" fill="#262626">SanAngelo</text>
<text x="676.9000000000001" y="442.8" font-size="34" text-anchor="middle" fill="#262626">Sellerslake</text>
<text x="1042.65" y="442.8" font-size="34" text-anchor="middle" fill="#262626">Starkville</text>
<text x="1408.0500000000002" y="444.8" font-size="34" text-anchor="middle" fill="#262626">UapbMarianna</text>
<text x="1773.8000000000002" y="441.1" font-size="34" text-anchor="middle" fill="#262626">UapbPointRemove</text>
<text x="2139.45" y="442.8" font-size="34" text-anchor="middle" fill="#262626">Uvalde</text>
<text x="311.2" y="840.6" font-size="34" text-anchor="middle" fill="#262626">Vernon</text>
<text x="676.9000000000001" y="838.6" font-size="34" text-anchor="middle" fill="#262626">Vance</text>
<text x="1042.65" y="838.6" font-size="34" text-anchor="middle" fill="#262626">WillowWells</text>
<text x="1408.3000000000002" y="840.6" font-size="34" text-anchor="middle" fill="#262626">Yanco-Y7</text>
<text x="1773.8000000000002" y="838.6" font-size="34" text-anchor="middle" fill="#262626">Yanco-Y8</text>
<text x="2139.35" y="840.6" font-size="34" text-anchor="middle" fill="#262626">Yanco-Y11</text>
<text x="130.5" y="65.5" font-size="30" text-anchor="end" fill="#262626">35.59</text>
<text x="130.5" y="238.7" font-size="30" text-anchor="end" fill="#262626">35.55</text>
<text x="130.5" y="411.7" font-size="30" text-anchor="end" fill="#262626">35.51</text>
<text x="49.5" y="230" font-size="30" text-anchor="middle" transform="rotate(-90 49.5 230)" fill="#262626">Latitude</text>
<text x="130.5" y="459.7" font-size="30" text-anchor="end" fill="#262626">31.59</text>
<text x="130.5" y="632.7" font-size="30" text-anchor="end" fill="#262626">31.55</text>
<text x="130.5" y="805.7" font-size="30" text-anchor="end" fill="#262626">31.51</text>
<text x="49.5" y="624" font-size="30" text-anchor="middle" transform="rotate(-90 49.5 624)" fill="#262626">Latitude</text>
<text x="130.5" y="854.7" font-size="30" text-anchor="end" fill="#262626">34.06</text>
<text x="130.5" y="1027.7" font-size="30" text-anchor="end" fill="#262626">34.02</text>
<text x="130.5" y="1200.7" font-size="30" text-anchor="end" fill="#262626">33.98</text>
<text x="49.5" y="1019" font-size="30" text-anchor="middle" transform="rotate(-90 49.5 1019)" fill="#262626">Latitude</text>
<text x="147" y="1199.1999999999998" font-size="30" text-anchor="end" transform="rotate(-90 147 1199.1999999999998)" fill="#262626">−99.29</text>
<text x="320" y="1199.1999999999998" font-size="30" text-anchor="end" transform="rotate(-90 320 1199.1999999999998)" fill="#262626">−99.25</text>
<text x="493" y="1199.1999999999998" font-size="30" text-anchor="end" transform="rotate(-90 493 1199.1999999999998)" fill="#262626">−99.21</text>
<text x="512.5" y="1201.3999999999999" font-size="30" text-anchor="end" transform="rotate(-90 512.5 1201.3999999999999)" fill="#262626">−90.39</text>
<text x="685.5" y="1201.3999999999999" font-size="30" text-anchor="end" transform="rotate(-90 685.5 1201.3999999999999)" fill="#262626">−90.35</text>
<text x="858.5" y="1201.3999999999999" font-size="30" text-anchor="end" transform="rotate(-90 858.5 1201.3999999999999)" fill="#262626">−90.31</text>
<text x="878.3" y="1201.3999999999999" font-size="30" text-anchor="end" transform="rotate(-90 878.3 1201.3999999999999)" fill="#262626">−103.67</text>
<text x="1051.3" y="1201.3999999999999" font-size="30" text-anchor="end" transform="rotate(-90 1051.3 1201.3999999999999)" fill="#262626">−103.63</text>
<text x="1224.3" y="1201.3999999999999" font-size="30" text-anchor="end" transform="rotate(-90 1224.3 1201.3999999999999)" fill="#262626">−103.59</text>
<text x="1441.9" y="1201.3" font-size="30" text-anchor="end" transform="rotate(-90 1441.9 1201.3)" fill="#262626">146.12</text>
<text x="1767.3" y="1203.8" font-size="30" text-anchor="end" transform="rotate(-90 1767.3 1203.8)" fill="#262626">146.41</text>
<text x="2169.7" y="1202" font-size="30" text-anchor="end" transform="rotate(-90 2169.7 1202)" fill="#262626">145.94</text>
<text x="311.6" y="1314" font-size="30" text-anchor="middle" fill="#262626">Longitude</text>
<text x="677" y="1316.7" font-size="30" text-anchor="middle" fill="#262626">Longitude</text>
<text x="1042" y="1333.5" font-size="30" text-anchor="middle" fill="#262626">Longitude</text>
<text x="1408" y="1314" font-size="30" text-anchor="middle" fill="#262626">Longitude</text>
<text x="1774" y="1316" font-size="30" text-anchor="middle" fill="#262626">Longitude</text>
<text x="2140" y="1314" font-size="30" text-anchor="middle" fill="#262626">Longitude</text>
<rect x="2340.3" y="415" width="20.3" height="24.9" fill="#800000"/>
<rect x="2340.3" y="439.4" width="20.3" height="24.9" fill="#c80000"/>
<rect x="2340.3" y="463.7" width="20.3" height="24.9" fill="#ff2100"/>
<rect x="2340.3" y="488.1" width="20.3" height="24.9" fill="#ff5c00"/>
<rect x="2340.3" y="512.4" width="20.3" height="24.9" fill="#ff9700"/>
<rect x="2340.3" y="536.8" width="20.3" height="24.9" fill="#ffd200"/>
<rect x="2340.3" y="561.1" width="20.3" height="24.9" fill="#e2ff15"/>
<rect x="2340.3" y="585.5" width="20.3" height="24.9" fill="#afff48"/>
<rect x="2340.3" y="609.8" width="20.3" height="24.9" fill="#7bff7b"/>
<rect x="2340.3" y="634.2" width="20.3" height="24.9" fill="#48ffaf"/>
<rect x="2340.3" y="658.5" width="20.3" height="24.9" fill="#15ffe2"/>
<rect x="2340.3" y="682.9" width="20.3" height="24.9" fill="#00bfff"/>
<rect x="2340.3" y="707.2" width="20.3" height="24.9" fill="#0080ff"/>
<rect x="2340.3" y="731.6" width="20.3" height="24.9" fill="#0040ff"/>
<rect x="2340.3" y="755.9" width="20.3" height="24.9" fill="#0000ff"/>
<rect x="2340.3" y="780.3" width="20.3" height="24.9" fill="#0000c8"/>
<rect x="2340.3" y="804.6" width="20.3" height="24.9" fill="#000080"/>
<text x="2363" y="461.8" font-size="33" text-anchor="start" fill="#262626">15</text>
<text x="2363" y="583.8" font-size="33" text-anchor="start" fill="#262626">10</text>
<text x="2363" y="706.8" font-size="33" text-anchor="start" fill="#262626">5</text>
<text x="2363" y="829.1999999999999" font-size="33" text-anchor="start" fill="#262626">0</text>
<text x="2377.3" y="391" font-size="31" text-anchor="middle" fill="#000" textLength="92" lengthAdjust="spacingAndGlyphs">[IGBP]</text>
<text x="1219" y="1366" font-size="54" text-anchor="middle" font-weight="bold" fill="#000" textLength="64.5" lengthAdjust="spacingAndGlyphs">(a)</text>
<defs><linearGradient id="jetg" x1="0" y1="1" x2="0" y2="0"><stop offset="0.0000" stop-color="#000080"/><stop offset="0.0312" stop-color="#0000a4"/><stop offset="0.0625" stop-color="#0000c8"/><stop offset="0.0938" stop-color="#0000ec"/><stop offset="0.1250" stop-color="#0000ff"/><stop offset="0.1562" stop-color="#0020ff"/><stop offset="0.1875" stop-color="#0040ff"/><stop offset="0.2188" stop-color="#0060ff"/><stop offset="0.2500" stop-color="#0080ff"/><stop offset="0.2812" stop-color="#009fff"/><stop offset="0.3125" stop-color="#00bfff"/><stop offset="0.3438" stop-color="#00dffc"/><stop offset="0.3750" stop-color="#15ffe2"/><stop offset="0.4062" stop-color="#2effc9"/><stop offset="0.4375" stop-color="#48ffaf"/><stop offset="0.4688" stop-color="#62ff95"/><stop offset="0.5000" stop-color="#7bff7b"/><stop offset="0.5312" stop-color="#95ff62"/><stop offset="0.5625" stop-color="#afff48"/><stop offset="0.5938" stop-color="#c9ff2e"/><stop offset="0.6250" stop-color="#e2ff15"/><stop offset="0.6562" stop-color="#fcf000"/><stop offset="0.6875" stop-color="#ffd200"/><stop offset="0.7188" stop-color="#ffb500"/><stop offset="0.7500" stop-color="#ff9700"/><stop offset="0.7812" stop-color="#ff7a00"/><stop offset="0.8125" stop-color="#ff5c00"/><stop offset="0.8438" stop-color="#ff3f00"/><stop offset="0.8750" stop-color="#ff2100"/><stop offset="0.9062" stop-color="#ec0400"/><stop offset="0.9375" stop-color="#c80000"/><stop offset="0.9688" stop-color="#a40000"/><stop offset="1.0000" stop-color="#800000"/></linearGradient></defs>
<svg x="137.9" y="1453.9" width="251.5" height="251.8" viewBox="0 0 55 55" preserveAspectRatio="none">
<rect width="55" height="55" fill="#0032ff"/>
<g transform="translate(0 .5)" stroke-width="1.06" fill="none">
<path stroke="#0000b2" d="M48 2h1M48 3h1M39 8h1M43 9h1M34 11h1M45 16h1M47 17h1"/>
<path stroke="#0000e4" d="M28 0h1M43 0h1M31 1h1M38 1h1M31 2h2M37 2h1M39 2h1M25 3h1M32 3h1M35 3h2M49 3h1M24 4h2M31 4h1M36 4h1M41 5h1M48 5h1M38 6h1M42 6h2M54 6h1M40 7h2M45 7h1M49 7h1M27 8h1M41 8h1M46 8h1M26 9h1M33 9h1M46 9h1M34 10h2M50 10h1M32 11h1M35 11h1M50 11h1M30 13h1M32 14h2M39 14h1M50 14h1M34 15h1M38 15h2M51 15h1M38 16h1M40 16h1M46 16h1M53 16h1M39 17h1M41 17h1M48 17h1M42 18h1M53 18h1M52 19h1M54 19h1"/>
<path stroke="#0006ff" d="M27 0h1M31 0h1M37 0h1M42 0h1M47 0h1M50 0h4M28 1h3M32 1h1M35 1h3M43 1h1M47 1h3M51 1h1M54 1h1M24 2h3M28 2h3M34 2h2M38 2h1M41 2h2M49 2h2M54 2h1M11 3h1M13 3h1M26 3h1M31 3h1M37 3h4M43 3h4M52 3h1M54 3h1M26 4h2M29 4h2M32 4h1M35 4h1M37 4h2M41 4h1M43 4h1M45 4h1M47 4h4M52 4h1M54 4h1M28 5h1M31 5h1M33 5h1M38 5h2M42 5h1M47 5h1M51 5h1M54 5h1M30 6h1M36 6h1M39 6h3M44 6h1M46 6h4M27 7h1M34 7h1M36 7h1M38 7h2M42 7h3M48 7h1M54 7h1M30 8h1M38 8h1M40 8h1M42 8h1M44 8h2M47 8h2M50 8h1M53 8h2M34 9h1M38 9h5M47 9h1M50 9h5M29 10h1M31 10h1M33 10h1M36 10h3M41 10h5M47 10h1M49 10h1M51 10h1M54 10h1M31 11h1M33 11h1M36 11h1M38 11h2M41 11h1M46 11h2M51 11h3M30 12h4M35 12h3M44 12h1M51 12h4M27 13h1M29 13h1M35 13h3M43 13h1M47 13h1M54 13h1M34 14h1M37 14h2M40 14h1M42 14h2M45 14h1M47 14h2M33 15h1M35 15h1M37 15h1M41 15h1M43 15h4M48 15h1M52 15h3M35 16h1M39 16h1M41 16h3M50 16h1M35 17h1M42 17h4M49 17h2M53 17h2M43 18h1M45 18h2M48 18h1M52 18h1M43 19h1M45 19h1M47 19h2M50 19h2M42 20h3M51 20h2M54 20h1M52 23h1M53 24h1M53 25h1"/>
<path stroke="#005eff" d="M2 0h1M6 0h3M11 0h1M17 0h1M19 0h2M25 0h1M29 0h2M32 0h1M45 0h1M18 1h1M24 1h1M33 1h2M44 1h2M50 1h1M52 1h1M2 2h1M4 2h1M7 2h1M10 2h3M14 2h1M21 2h1M23 2h1M43 2h2M47 2h1M2 3h2M6 3h1M9 3h2M12 3h1M14 3h1M19 3h1M22 3h1M34 3h1M41 3h1M50 3h1M2 4h1M5 4h3M9 4h1M11 4h2M14 4h1M18 4h1M22 4h1M34 4h1M40 4h1M46 4h1M0 5h1M2 5h3M7 5h1M17 5h1M20 5h1M22 5h3M32 5h1M34 5h1M40 5h1M50 5h1M1 6h3M6 6h3M12 6h1M14 6h1M18 6h1M20 6h1M22 6h5M35 6h1M2 7h1M4 7h1M6 7h1M13 7h1M16 7h2M20 7h4M32 7h2M51 7h1M0 8h1M3 8h2M9 8h2M14 8h5M20 8h2M24 8h1M26 8h1M29 8h1M34 8h2M37 8h1M0 9h1M2 9h4M8 9h1M11 9h4M17 9h2M21 9h1M23 9h1M25 9h1M31 9h1M36 9h1M44 9h1M2 10h1M7 10h1M11 10h3M15 10h1M17 10h1M20 10h1M24 10h5M30 10h1M52 10h1M4 11h1M8 11h1M10 11h1M14 11h2M24 11h4M30 11h1M40 11h1M48 11h1M1 12h1M5 12h2M8 12h1M11 12h1M14 12h1M27 12h2M39 12h2M7 13h1M14 13h3M26 13h1M28 13h1M41 13h1M53 13h1M24 14h1M27 14h1M29 14h1M41 14h1M49 14h1M51 14h1M54 14h1M25 15h1M27 15h1M36 15h1M40 15h1M47 15h1M26 16h1M31 16h1M37 16h1M23 17h1M34 17h1M36 17h2M51 17h1M10 18h1M36 18h1M38 18h3M49 18h1M51 18h1M38 19h1M40 19h1M40 20h1M45 20h1M49 20h2M40 21h2M45 21h2M49 21h2M54 21h1M49 22h3M53 22h2M51 23h1M53 23h2M52 24h1M52 25h1M54 25h1M53 26h2"/>
<path stroke="#008bff" d="M0 0h1M3 0h2M9 0h2M12 0h1M14 0h1M16 0h1M18 0h1M21 0h1M2 1h2M6 1h1M8 1h1M10 1h4M15 1h2M19 1h3M0 2h1M3 2h1M6 2h1M8 2h2M16 2h1M19 2h1M22 2h1M51 2h1M0 3h2M4 3h2M7 3h2M15 3h1M17 3h2M21 3h1M0 4h2M3 4h1M8 4h1M10 4h1M13 4h1M16 4h1M19 4h1M23 4h1M1 5h1M5 5h1M9 5h3M13 5h1M15 5h2M4 6h2M9 6h3M15 6h3M19 6h1M1 7h1M5 7h1M8 7h3M12 7h1M19 7h1M24 7h2M1 8h1M8 8h1M11 8h3M19 8h1M22 8h2M1 9h1M6 9h2M9 9h2M15 9h2M20 9h1M1 10h1M4 10h3M8 10h2M14 10h1M16 10h1M18 10h1M21 10h1M23 10h1M0 11h1M2 11h2M6 11h2M11 11h3M16 11h1M2 12h2M7 12h1M9 12h2M12 12h2M16 12h2M24 12h1M42 12h1M0 13h3M4 13h3M8 13h2M11 13h3M24 13h2M3 14h2M6 14h1M12 14h2M15 14h2M23 14h1M25 14h1M0 15h2M5 15h1M11 15h1M13 15h1M22 15h3M29 15h3M24 16h1M27 16h2M30 16h1M32 16h1M6 17h1M26 17h3M32 17h2M25 18h2M34 18h1M8 19h1M25 19h1M37 19h1M9 20h1M25 20h1M38 20h1M0 21h1M2 21h1M38 21h2M42 21h1M44 21h1M1 22h1M8 22h1M37 22h1M40 22h1M42 22h2M46 22h3M0 23h1M39 23h1M47 23h4M0 24h1M26 24h1M50 24h2M26 25h1M52 26h1"/>
<path stroke="#00b7ff" d="M13 0h1M7 1h1M17 1h1M1 2h1M20 2h1M6 5h1M14 5h1M18 5h2M0 6h1M3 7h1M11 7h1M18 7h1M22 9h1M24 9h1M0 10h1M19 10h1M22 10h1M1 11h1M5 11h1M17 11h3M21 11h1M0 12h1M4 12h1M15 12h1M18 12h1M25 12h1M3 13h1M10 13h1M17 13h1M20 13h2M23 13h1M1 14h1M5 14h1M7 14h5M14 14h1M19 14h2M22 14h1M2 15h2M6 15h1M9 15h1M12 15h1M18 15h1M21 15h1M4 16h2M13 16h4M22 16h2M29 16h1M4 17h2M7 17h1M9 17h3M14 17h1M24 17h2M31 17h1M2 18h1M5 18h2M13 18h1M23 18h2M27 18h1M35 18h1M4 19h1M10 19h1M12 19h1M23 19h2M26 19h1M36 19h1M1 20h1M3 20h1M8 20h1M10 20h1M1 21h1M11 21h1M37 21h1M0 22h1M2 22h2M12 22h1M24 22h2M39 22h1M41 22h1M44 22h2M6 23h1M25 23h2M40 23h4M46 23h1M37 24h1M27 25h1M50 25h2M51 26h1M53 27h2M54 28h1M24 29h1M52 29h1M54 31h1M54 34h1M52 35h1M54 35h1M53 37h1M53 38h2M51 39h2M54 39h1M51 40h1M46 47h1"/>
<path stroke="#00e3f9" d="M9 1h1M15 4h1M0 7h1M20 11h1M22 11h2M19 12h2M23 12h1M18 13h2M22 13h1M2 14h1M17 14h2M21 14h1M4 15h1M8 15h1M10 15h1M14 15h2M17 15h1M20 15h1M28 15h1M0 16h3M8 16h3M12 16h1M17 16h2M21 16h1M0 17h2M13 17h1M15 17h3M22 17h1M29 17h2M0 18h1M4 18h1M7 18h3M11 18h1M15 18h2M22 18h1M30 18h2M33 18h1M5 19h2M9 19h1M11 19h1M28 19h1M0 20h1M2 20h1M4 20h2M7 20h1M11 20h2M15 20h1M23 20h1M26 20h1M37 20h1M3 21h3M8 21h3M14 21h1M24 21h4M4 22h2M7 22h1M9 22h1M26 22h2M38 22h1M2 23h1M4 23h1M12 23h1M24 23h1M36 23h3M44 23h1M1 24h1M3 24h1M5 24h1M25 24h1M38 24h3M42 24h1M48 24h2M0 25h1M2 25h3M25 25h1M38 25h4M0 26h2M4 26h1M6 26h1M27 26h1M24 27h3M52 27h1M22 28h1M3 29h1M23 29h1M26 29h1M53 29h2M22 30h4M52 30h3M26 32h1M54 32h1M51 33h2M54 33h1M52 34h2M51 35h1M52 36h1M54 37h1M51 38h2M49 39h2M53 39h1M49 40h2M52 40h1M47 41h1M49 41h3M46 42h3M50 42h3M49 43h1M51 43h1M48 44h2M49 45h1"/>
<path stroke="#22ffd5" d="M21 12h2M0 14h1M7 15h1M16 15h1M19 15h1M3 16h1M6 16h2M11 16h1M19 16h2M2 17h2M8 17h1M12 17h1M18 17h1M21 17h1M1 18h1M3 18h1M12 18h1M14 18h1M28 18h2M32 18h1M0 19h4M7 19h1M13 19h2M22 19h1M27 19h1M29 19h2M33 19h3M6 20h1M24 20h1M28 20h1M35 20h1M6 21h2M12 21h2M23 21h1M36 21h1M10 22h2M13 22h1M15 22h1M23 22h1M36 22h1M1 23h1M3 23h1M5 23h1M7 23h1M11 23h1M13 23h2M28 23h1M45 23h1M12 24h1M24 24h1M27 24h1M36 24h1M41 24h1M43 24h1M45 24h1M5 25h1M11 25h1M24 25h1M36 25h2M43 25h1M45 25h1M49 25h1M2 26h2M5 26h1M24 26h3M28 26h1M33 26h1M36 26h1M40 26h1M50 26h1M0 27h7M23 27h1M27 27h1M34 27h2M51 27h1M0 28h1M3 28h1M5 28h1M23 28h3M27 28h1M31 28h1M52 28h2M2 29h1M4 29h1M22 29h1M25 29h1M32 29h1M21 30h1M26 30h2M51 30h1M23 31h1M25 31h2M52 31h2M27 32h1M50 32h4M26 33h1M53 33h1M51 34h1M53 35h1M51 36h1M53 36h2M52 37h1M49 38h2M47 40h1M53 40h2M45 41h2M52 41h3M45 42h1M49 42h1M53 42h1M45 43h4M50 43h1M52 43h1M46 44h2M50 44h1M44 45h1M46 45h2M50 45h1M43 46h1M45 46h3M49 46h1M44 47h1M47 47h2M43 48h1M44 49h1"/>
<path stroke="#46ffb1" d="M19 17h2M17 18h2M21 18h1M15 19h1M17 19h1M31 19h2M13 20h2M16 20h2M21 20h2M27 20h1M29 20h4M34 20h1M36 20h1M15 21h1M30 21h2M35 21h1M6 22h1M14 22h1M28 22h1M31 22h1M8 23h3M23 23h1M27 23h1M30 23h1M32 23h1M34 23h2M2 24h1M4 24h1M9 24h3M13 24h2M22 24h2M30 24h2M33 24h3M44 24h1M46 24h2M1 25h1M6 25h1M10 25h1M23 25h1M28 25h1M42 25h1M44 25h1M46 25h1M7 26h1M11 26h1M21 26h2M31 26h1M35 26h1M37 26h3M41 26h2M45 26h1M7 27h1M28 27h1M30 27h1M33 27h1M38 27h2M41 27h1M49 27h1M1 28h2M4 28h1M6 28h3M21 28h1M26 28h1M28 28h1M32 28h5M48 28h1M50 28h2M0 29h2M5 29h3M20 29h2M27 29h4M33 29h2M50 29h2M0 30h3M6 30h1M20 30h1M28 30h1M30 30h1M6 31h1M22 31h1M24 31h1M27 31h2M32 31h1M50 31h2M24 32h2M50 33h1M26 34h1M50 34h1M45 35h1M49 35h2M25 36h1M50 37h1M48 38h1M45 40h2M48 40h1M44 41h1M48 41h1M44 42h1M54 42h1M44 43h1M44 44h2M51 44h1M42 45h1M45 45h1M48 45h1M44 46h1M48 46h1M41 47h2M45 47h1M42 48h1M45 48h3M43 49h1M46 49h1M43 50h1M45 50h1"/>
<path stroke="#6aff8d" d="M19 18h2M16 19h1M20 20h1M33 20h1M16 21h1M18 21h1M22 21h1M28 21h1M34 21h1M22 22h1M29 22h2M32 22h4M15 23h1M21 23h2M31 23h1M6 24h2M28 24h2M32 24h1M7 25h3M12 25h1M19 25h4M29 25h7M47 25h2M9 26h1M20 26h1M23 26h1M30 26h1M32 26h1M34 26h1M43 26h2M46 26h2M8 27h1M20 27h3M29 27h1M31 27h2M36 27h2M9 28h1M29 28h2M37 28h3M49 28h1M8 29h2M19 29h1M31 29h1M35 29h2M48 29h1M3 30h2M7 30h3M19 30h1M29 30h1M31 30h5M39 30h1M0 31h1M2 31h1M5 31h1M7 31h1M18 31h2M21 31h1M29 31h1M31 31h1M33 31h2M2 32h1M4 32h2M20 32h4M28 32h1M31 32h3M49 32h1M5 33h1M22 33h4M27 33h1M25 34h1M27 34h1M45 34h2M49 34h1M20 35h2M24 35h2M48 35h1M1 36h1M24 36h1M48 36h1M50 36h1M24 37h2M46 37h2M49 37h1M51 37h1M21 38h1M25 38h2M45 39h2M48 39h1M44 40h1M43 41h1M43 42h1M42 43h2M54 43h1M43 44h1M52 44h2M43 45h1M51 45h1M53 45h1M40 46h1M42 46h1M52 46h1M40 47h1M43 47h1M49 47h1M40 48h2M44 48h1M48 48h1M41 49h2M42 50h1M44 51h1M46 51h1"/>
<path stroke="#8dff6a" d="M18 19h4M18 20h1M20 21h2M32 21h2M16 22h2M21 22h1M29 23h1M33 23h1M8 24h1M15 24h1M18 24h4M13 25h2M18 25h1M8 26h1M10 26h1M13 26h2M29 26h1M49 26h1M9 27h1M11 27h1M13 27h1M40 27h1M42 27h5M48 27h1M50 27h1M11 28h2M18 28h3M40 28h2M44 28h1M47 28h1M10 29h2M37 29h4M42 29h2M47 29h1M5 30h1M12 30h1M48 30h3M1 31h1M3 31h1M8 31h2M20 31h1M30 31h1M35 31h2M48 31h2M1 32h1M3 32h1M6 32h2M19 32h1M29 32h1M46 32h1M1 33h1M4 33h1M6 33h2M21 33h1M28 33h2M32 33h1M45 33h2M2 34h1M4 34h2M20 34h1M22 34h3M44 34h1M1 35h1M3 35h2M6 35h1M23 35h1M26 35h2M30 35h1M47 35h1M26 36h2M29 36h2M43 36h4M49 36h1M19 37h2M22 37h1M26 37h1M28 37h1M45 37h1M48 37h1M20 38h1M22 38h3M27 38h1M29 38h1M44 38h1M46 38h2M19 39h1M21 39h1M23 39h1M28 39h2M43 39h2M47 39h1M20 40h1M42 40h2M18 41h1M20 41h1M22 41h1M18 42h2M21 42h1M42 42h1M16 43h2M53 43h1M14 44h1M16 44h2M42 44h1M40 45h2M52 45h1M54 45h1M41 46h1M50 46h2M53 46h1M51 47h3M50 48h2M40 49h1M45 49h1M48 49h1M50 49h2M40 50h2M44 50h1M46 50h4M51 50h1M41 51h1M43 51h1M45 51h1M48 51h2M44 52h2M47 52h1M42 53h1M42 54h3M46 54h2"/>
<path stroke="#b1ff46" d="M19 20h1M17 21h1M29 21h1M16 23h3M20 23h1M15 25h1M12 26h1M15 26h2M19 26h1M48 26h1M10 27h1M12 27h1M17 27h1M19 27h1M47 27h1M42 28h1M45 28h2M12 29h1M41 29h1M45 29h1M49 29h1M10 30h2M18 30h1M36 30h3M41 30h2M45 30h3M4 31h1M11 31h1M40 31h1M44 31h4M0 32h1M8 32h1M10 32h1M34 32h1M36 32h1M45 32h1M47 32h2M0 33h1M2 33h2M8 33h1M19 33h2M30 33h2M33 33h1M44 33h1M47 33h1M49 33h1M0 34h2M3 34h1M6 34h3M18 34h2M28 34h2M42 34h2M47 34h2M0 35h1M2 35h1M7 35h2M22 35h1M28 35h2M43 35h2M46 35h1M19 36h4M28 36h1M42 36h1M47 36h1M2 37h1M21 37h1M23 37h1M27 37h1M29 37h2M43 37h2M0 38h2M3 38h1M28 38h1M30 38h1M43 38h1M45 38h1M0 39h2M3 39h1M20 39h1M24 39h1M26 39h2M40 39h1M16 40h1M19 40h1M21 40h2M24 40h1M29 40h1M16 41h2M19 41h1M29 41h1M41 41h2M15 42h1M17 42h1M20 42h1M22 42h1M41 42h1M12 43h2M18 43h3M41 43h1M15 44h1M18 44h1M20 44h2M41 44h1M54 44h1M14 45h5M22 45h1M37 45h1M17 46h1M20 46h2M38 46h2M54 46h1M19 47h2M37 47h1M50 47h1M54 47h1M37 48h3M49 48h1M52 48h3M37 49h3M47 49h1M49 49h1M38 50h2M50 50h1M52 50h2M47 51h1M51 51h1M41 52h1M43 52h1M46 52h1M54 52h1M43 53h4M40 54h2M48 54h1M51 54h1"/>
<path stroke="#d5ff22" d="M19 21h1M18 22h3M19 23h1M16 24h2M17 25h1M17 26h2M14 27h3M18 27h1M10 28h1M16 28h2M43 28h1M16 29h3M44 29h1M46 29h1M17 30h1M40 30h1M43 30h2M13 31h1M17 31h1M37 31h1M41 31h3M9 32h1M11 32h1M18 32h1M30 32h1M35 32h1M41 32h1M43 32h2M10 33h1M13 33h1M18 33h1M40 33h1M43 33h1M48 33h1M13 34h1M21 34h1M30 34h1M32 34h3M41 34h1M5 35h1M18 35h2M41 35h2M0 36h1M2 36h2M5 36h3M18 36h1M23 36h1M41 36h1M0 37h2M3 37h1M18 37h1M31 37h1M41 37h2M2 38h1M18 38h2M31 38h1M42 38h1M2 39h1M15 39h1M18 39h1M22 39h1M25 39h1M30 39h1M41 39h1M1 40h2M15 40h1M17 40h2M23 40h1M25 40h4M30 40h1M40 40h2M14 41h2M21 41h1M23 41h3M28 41h1M13 42h2M16 42h1M40 42h1M14 43h2M21 43h4M11 44h1M19 44h1M22 44h3M37 44h4M12 45h2M19 45h1M21 45h1M24 45h1M38 45h2M16 46h1M18 46h2M22 46h2M36 46h1M22 47h1M36 47h1M39 47h1M21 48h1M24 48h1M36 48h1M20 49h1M22 49h1M52 49h3M36 50h1M23 51h1M39 51h2M42 51h1M54 51h1M25 52h1M40 52h1M42 52h1M48 52h3M53 52h1M24 53h2M39 53h3M47 53h2M50 53h1M39 54h1M45 54h1M49 54h1M52 54h1"/>
<path stroke="#f9f400" d="M16 25h1M13 28h3M13 29h1M13 30h4M10 31h1M12 31h1M16 31h1M38 31h2M12 32h1M17 32h1M37 32h1M39 32h1M42 32h1M9 33h1M11 33h1M14 33h2M17 33h1M34 33h1M36 33h2M41 33h2M9 34h1M14 34h1M17 34h1M31 34h1M35 34h1M16 35h2M31 35h1M33 35h1M4 36h1M8 36h1M31 36h2M4 37h2M36 37h2M4 38h1M17 38h1M38 38h2M41 38h1M4 39h1M16 39h1M38 39h2M42 39h1M0 40h1M3 40h1M39 40h1M0 41h3M26 41h2M40 41h1M12 42h1M23 42h2M28 42h1M11 43h1M36 43h2M39 43h2M12 44h2M25 44h1M36 44h1M11 45h1M20 45h1M23 45h1M35 45h2M13 46h3M25 46h1M35 46h1M37 46h1M14 47h1M16 47h1M18 47h1M21 47h1M23 47h3M33 47h1M35 47h1M38 47h1M13 48h1M15 48h1M17 48h4M22 48h2M25 48h1M35 48h1M21 49h1M24 49h2M36 49h1M22 50h3M37 50h1M54 50h1M25 51h3M35 51h1M38 51h1M50 51h1M52 51h2M23 52h2M27 52h1M39 52h1M51 52h2M22 53h2M49 53h1M51 53h4M23 54h2M26 54h2M50 54h1M54 54h1"/>
<path stroke="#ffca00" d="M15 29h1M14 31h1M13 32h4M40 32h1M12 33h1M35 33h1M39 33h1M10 34h3M15 34h2M36 34h2M39 34h2M9 35h1M12 35h3M32 35h1M35 35h2M40 35h1M9 36h1M13 36h2M16 36h2M36 36h2M39 36h2M6 37h4M14 37h1M16 37h2M32 37h3M38 37h3M5 38h3M9 38h1M13 38h2M16 38h1M32 38h1M37 38h1M40 38h1M5 39h2M13 39h2M17 39h1M31 39h3M4 40h3M13 40h1M31 40h1M38 40h1M3 41h2M10 41h1M12 41h2M30 41h1M34 41h1M39 41h1M4 42h1M11 42h1M25 42h3M29 42h1M33 42h2M39 42h1M5 43h2M9 43h2M25 43h1M34 43h1M38 43h1M6 44h1M8 44h1M35 44h1M10 45h1M25 45h1M34 45h1M12 46h1M24 46h1M32 46h1M34 46h1M10 47h1M13 47h1M15 47h1M17 47h1M26 47h2M31 47h1M34 47h1M16 48h1M26 48h3M31 48h4M17 49h1M19 49h1M23 49h1M29 49h1M33 49h1M35 49h1M20 50h1M25 50h2M35 50h1M21 51h2M24 51h1M36 51h2M22 52h1M26 52h1M28 52h1M35 52h4M26 53h2M38 53h1M21 54h2M25 54h1M28 54h1M36 54h1M38 54h1M53 54h1"/>
<path stroke="#ffa100" d="M14 29h1M15 31h1M38 32h1M16 33h1M38 33h1M10 35h2M15 35h1M34 35h1M38 35h2M10 36h1M12 36h1M15 36h1M33 36h2M38 36h1M10 37h4M15 37h1M35 37h1M8 38h1M12 38h1M15 38h1M33 38h1M35 38h2M37 39h1M9 40h1M14 40h1M32 40h2M35 40h3M5 41h2M11 41h1M31 41h1M35 41h1M37 41h2M1 42h1M5 42h2M8 42h3M30 42h3M35 42h1M37 42h2M1 43h1M4 43h1M8 43h1M26 43h3M30 43h2M33 43h1M35 43h1M5 44h1M10 44h1M26 44h1M30 44h1M33 44h1M7 45h1M26 45h3M9 46h1M11 46h1M26 46h2M29 46h1M33 46h1M11 47h2M28 47h1M32 47h1M9 48h4M29 48h2M13 49h2M16 49h1M18 49h1M27 49h1M30 49h1M32 49h1M34 49h1M16 50h1M19 50h1M21 50h1M27 50h4M34 50h1M15 51h1M19 51h1M28 51h1M31 51h1M16 52h1M21 52h1M32 52h1M34 52h1M28 53h1M35 53h3M32 54h1M34 54h2M37 54h1"/>
<path stroke="#ff7800" d="M38 34h1M37 35h1M11 36h1M35 36h1M10 38h2M34 38h1M7 39h1M9 39h4M36 39h1M7 40h1M10 40h3M34 40h1M7 41h3M32 41h2M36 41h1M0 42h1M2 42h2M7 42h1M36 42h1M0 43h1M3 43h1M7 43h1M29 43h1M32 43h1M0 44h5M9 44h1M27 44h3M31 44h1M34 44h1M4 45h1M6 45h1M8 45h2M29 45h4M7 46h1M10 46h1M28 46h1M30 46h2M29 47h2M14 48h1M12 49h1M15 49h1M26 49h1M28 49h1M31 49h1M14 50h1M17 50h2M31 50h3M16 51h3M20 51h1M29 51h2M32 51h1M34 51h1M29 52h1M31 52h1M16 53h1M20 53h1M29 53h1M31 53h4M19 54h2M30 54h2M33 54h1"/>
<path stroke="#ff4f00" d="M8 39h1M34 39h2M8 40h1M2 43h1M7 44h1M32 44h1M0 45h2M3 45h1M5 45h1M33 45h1M5 46h2M8 46h1M2 47h1M9 47h1M8 48h1M9 49h2M12 50h2M15 50h1M2 51h1M13 51h1M33 51h1M15 52h1M17 52h4M30 52h1M33 52h1M17 53h3M21 53h1M15 54h1M18 54h1M29 54h1"/>
<path stroke="#ff2600" d="M0 46h5M1 47h1M3 47h5M4 48h4M3 49h1M5 49h3M0 50h3M6 50h1M8 50h4M7 51h2M14 51h1M1 52h3M7 52h1M13 52h2M0 53h2M3 53h1M14 53h2M30 53h1M0 54h3M6 54h1M14 54h1M17 54h1"/>
<path stroke="#e40000" d="M2 45h1M0 47h1M8 47h1M1 48h3M0 49h2M4 49h1M8 49h1M11 49h1M3 50h1M5 50h1M7 50h1M0 51h2M3 51h3M9 51h2M12 51h1M0 52h1M6 52h1M8 52h2M11 52h2M2 53h1M4 53h1M7 53h1M12 53h2M7 54h3M13 54h1M16 54h1"/>
<path stroke="#b20000" d="M0 48h1M2 49h1M4 50h1M6 51h1M11 51h1M4 52h2M10 52h1M5 53h1M8 53h4M3 54h3M10 54h3"/>
<path stroke="#800000" d="M6 53h1"/>
</g></svg>
<rect x="405.4" y="1454.9" width="12.3" height="250.5" fill="url(#jetg)"/>
<text x="418.4" y="1511.3" font-size="25" text-anchor="start" fill="#262626">440</text>
<text x="418.4" y="1616.4" font-size="25" text-anchor="start" fill="#262626">420</text>
<text x="263.6" y="1452.9" font-size="36" text-anchor="middle" fill="#262626">FortReno</text>
<svg x="530.2" y="1453.9" width="251.5" height="251.8" viewBox="0 0 55 55" preserveAspectRatio="none">
<rect width="55" height="55" fill="#0032ff"/>
<g transform="translate(0 .5)" stroke-width="1.06" fill="none">
<path stroke="#0000e4" d="M30 1h1M44 8h1M42 9h2M21 22h2M9 29h1"/>
<path stroke="#0006ff" d="M28 0h1M30 0h2M33 0h1M29 1h1M31 1h2M53 1h2M31 2h1M33 2h1M52 2h3M29 3h5M50 3h1M52 3h3M29 4h2M41 4h1M49 4h1M52 4h3M30 5h2M34 5h4M42 5h1M48 5h1M51 5h1M54 5h1M30 6h1M36 6h1M40 6h1M42 6h1M44 6h1M47 6h1M49 6h1M51 6h2M54 6h1M35 7h2M38 7h2M41 7h1M45 7h1M52 7h1M34 8h3M38 8h1M40 8h3M45 8h1M48 8h1M34 9h1M36 9h6M44 9h2M48 9h1M32 10h2M38 10h7M32 13h1M31 15h1M34 15h1M30 19h1M26 20h1M29 20h1M33 20h1M18 21h2M21 21h1M27 21h1M30 21h1M33 21h1M18 22h1M24 22h2M28 22h2M12 23h1M16 23h8M30 23h1M13 24h7M21 24h2M11 25h1M14 25h4M9 26h1M11 26h2M15 26h2M10 27h2M16 27h1M7 29h1M8 30h3M12 30h1M8 31h1M11 31h2M6 32h1M8 32h2M11 32h1M6 33h3M11 33h2M0 34h1M2 34h2M5 34h2M9 34h1M1 35h1M6 35h1M0 36h1M2 36h1M0 37h2M3 37h1M0 38h2M3 38h1"/>
<path stroke="#005eff" d="M14 0h1M18 0h4M23 0h1M26 0h2M35 0h3M39 0h1M45 0h1M47 0h3M52 0h1M10 1h2M13 1h2M16 1h1M19 1h2M22 1h3M38 1h1M43 1h6M11 2h2M14 2h1M18 2h1M24 2h1M26 2h3M39 2h6M47 2h2M50 2h1M12 3h1M14 3h1M17 3h2M25 3h2M28 3h1M34 3h1M38 3h6M45 3h1M13 4h2M25 4h4M37 4h4M42 4h6M12 5h2M27 5h1M45 5h3M27 6h1M45 6h2M30 7h1M32 7h2M54 7h1M30 8h1M32 8h1M51 8h3M30 9h2M50 9h1M34 10h1M37 10h1M45 10h1M48 10h2M39 11h1M45 11h2M30 12h2M34 12h1M37 12h4M44 12h4M30 13h1M35 13h6M31 14h1M36 14h2M29 15h2M35 15h2M36 16h1M29 17h1M35 17h2M28 18h1M19 19h2M22 19h1M24 19h3M32 19h1M35 19h1M18 20h1M20 20h1M24 20h1M32 20h1M35 20h1M8 21h1M10 21h3M15 21h1M17 21h1M9 22h1M12 22h1M14 22h2M26 22h1M32 22h1M7 23h3M25 23h1M28 23h2M31 23h2M8 24h2M25 24h1M27 24h1M30 24h2M6 25h3M20 25h6M30 25h1M6 26h1M8 26h1M20 26h1M7 27h3M5 28h2M8 28h1M14 28h4M5 29h2M12 29h1M14 29h2M5 30h1M14 30h1M2 31h1M14 31h1M2 32h1M12 32h2M1 33h3M14 34h1M5 35h1M8 35h3M6 36h1M8 36h5M4 37h1M6 37h3M10 37h1M5 38h2M8 38h1M2 39h4M0 40h2M3 40h1"/>
<path stroke="#008bff" d="M8 0h6M15 0h3M24 0h1M38 0h1M40 0h2M43 0h2M46 0h1M9 1h1M15 1h1M18 1h1M26 1h1M37 1h1M39 1h2M9 2h2M15 2h1M17 2h1M19 2h3M23 2h1M37 2h2M45 2h2M10 3h2M13 3h1M15 3h2M20 3h2M23 3h1M27 3h1M37 3h1M47 3h1M11 4h1M15 4h2M24 4h1M14 5h2M25 5h2M13 6h1M28 7h1M28 8h1M54 8h1M29 9h1M51 9h3M28 10h3M50 10h2M29 11h3M48 11h2M29 13h1M41 13h4M30 14h1M39 14h2M43 14h2M37 15h1M28 16h2M26 17h1M12 18h1M24 18h3M36 18h1M12 19h2M17 19h1M21 19h1M23 19h1M36 19h1M11 20h7M9 21h1M13 21h1M16 21h1M35 21h1M8 22h1M34 22h2M6 23h1M33 23h2M6 24h2M26 24h1M28 24h2M26 25h4M5 26h1M19 26h1M21 26h2M27 26h3M5 27h1M18 27h2M4 28h1M4 29h1M16 29h2M4 30h1M0 31h2M3 31h2M15 31h1M0 32h2M14 32h1M13 33h2M13 34h1M13 35h1M13 36h1M9 37h1M9 38h2M6 39h1M4 40h1M0 41h2M3 41h2"/>
<path stroke="#00b7ff" d="M0 0h2M5 0h1M7 0h1M25 0h1M42 0h1M0 1h1M4 1h2M8 1h1M25 1h1M41 1h2M8 2h1M22 2h1M25 2h1M8 3h2M19 3h1M22 3h1M24 3h1M10 4h1M12 4h1M17 4h6M10 5h2M16 5h1M19 5h1M23 5h2M10 6h3M14 6h1M24 6h1M26 6h1M26 7h2M27 8h1M27 9h2M54 9h1M52 10h3M51 11h2M54 11h1M29 12h1M48 12h2M51 12h1M53 12h1M45 13h3M28 14h2M38 14h1M41 14h2M45 14h1M28 15h1M38 15h2M41 15h3M45 15h1M37 16h1M13 17h1M27 17h1M37 17h1M10 18h2M15 18h1M17 18h2M23 18h1M37 18h1M10 19h2M14 19h3M18 19h1M7 20h4M36 20h2M7 21h1M36 21h1M6 22h2M5 23h1M5 24h1M32 24h2M5 25h1M31 25h2M23 26h1M25 26h1M30 26h3M35 26h1M21 27h2M28 27h2M3 28h1M3 29h1M0 30h4M15 30h3M16 31h1M15 32h3M15 33h1M15 34h1M14 35h2M14 36h1M11 37h2M7 39h4M5 40h2M8 40h1M2 41h1M0 43h1"/>
<path stroke="#00e3f9" d="M2 0h3M6 0h1M1 1h3M6 1h2M0 2h8M7 3h1M8 4h2M23 4h1M9 5h1M17 5h2M20 5h1M22 5h1M15 6h1M21 6h1M25 6h1M11 7h1M24 7h2M26 8h1M27 10h1M28 11h1M50 11h1M53 11h1M28 12h1M50 12h1M54 12h1M28 13h1M48 13h4M53 13h2M46 14h1M27 15h1M40 15h1M44 15h1M27 16h1M41 16h4M14 17h3M24 17h2M40 17h1M8 18h2M13 18h2M16 18h1M19 18h4M7 19h3M37 19h1M6 20h1M6 21h1M37 21h1M5 22h1M36 22h1M35 23h1M4 24h1M34 24h2M4 25h1M33 25h2M36 25h1M3 26h2M24 26h1M26 26h1M33 26h1M2 27h3M20 27h1M26 27h2M30 27h3M18 28h3M29 28h2M0 29h3M18 29h1M18 30h1M17 31h1M16 33h1M16 34h1M15 36h1M13 37h2M11 38h1M7 40h1M9 40h1M5 41h3M0 42h5M1 44h1"/>
<path stroke="#22ffd5" d="M0 3h3M1 4h1M21 5h1M9 6h1M16 6h2M20 6h1M23 6h1M10 7h1M12 7h1M14 7h2M25 8h1M27 11h1M27 12h1M52 12h1M52 13h1M47 14h2M50 14h3M46 15h1M12 16h4M26 16h1M38 16h3M45 16h2M9 17h4M17 17h4M23 17h1M39 17h1M41 17h2M44 17h2M7 18h1M38 18h4M6 19h1M38 19h1M41 19h1M45 19h1M38 20h1M45 20h1M5 21h1M53 21h1M4 22h1M37 22h1M4 23h1M36 23h1M38 23h1M44 23h1M47 23h1M36 24h1M38 24h1M43 24h1M45 24h1M48 24h1M3 25h1M35 25h1M37 25h1M42 25h1M34 26h1M1 27h1M23 27h3M33 27h2M1 28h2M21 28h8M32 28h1M35 28h1M19 29h2M29 29h1M33 29h1M19 30h1M33 30h1M18 32h1M21 32h1M17 33h1M23 33h1M17 34h1M16 35h1M15 37h1M12 38h3M17 38h1M11 39h2M10 40h1M11 41h1M5 42h1M7 42h1M1 43h5M0 44h1M2 44h2M0 45h1M3 45h1"/>
<path stroke="#46ffb1" d="M3 3h4M0 4h1M2 4h4M7 4h1M8 5h1M8 6h1M18 6h2M22 6h1M9 7h1M13 7h1M16 7h2M20 7h2M23 7h1M11 8h1M24 8h1M26 9h1M26 11h1M27 13h1M26 14h2M49 14h1M54 14h1M12 15h3M26 15h1M47 15h5M53 15h1M10 16h2M16 16h1M25 16h1M47 16h4M53 16h2M7 17h2M21 17h2M38 17h1M43 17h1M46 17h4M52 17h1M54 17h1M42 18h8M52 18h1M39 19h2M42 19h3M46 19h2M51 19h3M3 20h2M43 20h2M46 20h1M48 20h2M51 20h2M54 20h1M3 21h2M38 21h2M43 21h1M47 21h5M54 21h1M38 22h3M42 22h2M46 22h2M49 22h1M3 23h1M37 23h1M40 23h1M43 23h1M45 23h1M48 23h1M2 24h2M37 24h1M39 24h2M42 24h1M44 24h1M46 24h2M49 24h1M38 25h4M43 25h2M46 25h2M49 25h1M0 26h3M36 26h7M46 26h2M0 27h1M35 27h2M38 27h1M40 27h1M47 27h1M0 28h1M31 28h1M33 28h2M21 29h1M23 29h4M28 29h1M30 29h3M34 29h1M20 30h1M24 30h4M31 30h1M34 30h1M18 31h2M21 31h1M23 31h3M30 31h1M19 32h2M22 32h1M24 32h2M18 33h3M22 33h1M25 33h1M18 34h1M20 34h3M26 34h1M17 35h4M24 35h2M16 36h1M18 36h4M23 36h2M16 37h1M18 37h4M16 38h1M18 38h3M22 38h1M13 39h3M12 40h4M8 41h3M6 42h1M8 42h1M6 43h2M4 44h2M1 45h2M0 46h1M0 47h3M0 48h4M0 49h3M0 50h2M1 51h2M0 52h2M1 53h2M1 54h1"/>
<path stroke="#6aff8d" d="M6 4h1M1 5h3M5 5h3M8 7h1M19 7h1M22 7h1M12 8h4M23 8h1M12 9h2M24 9h2M26 10h1M26 12h1M25 13h2M24 14h2M53 14h1M9 15h3M15 15h2M23 15h3M52 15h1M54 15h1M7 16h3M17 16h4M23 16h2M51 16h2M6 17h1M50 17h2M53 17h1M6 18h1M50 18h2M53 18h2M4 19h2M48 19h2M5 20h1M39 20h4M47 20h1M50 20h1M53 20h1M40 21h1M42 21h1M44 21h3M52 21h1M0 22h1M2 22h2M41 22h1M44 22h2M48 22h1M50 22h5M0 23h3M39 23h1M41 23h2M46 23h1M49 23h1M52 23h1M0 24h2M41 24h1M0 25h3M45 25h1M48 25h1M50 25h1M43 26h1M45 26h1M48 26h2M37 27h1M39 27h1M41 27h6M48 27h1M36 28h2M45 28h2M53 28h1M22 29h1M27 29h1M35 29h3M22 30h2M28 30h1M30 30h1M32 30h1M20 31h1M22 31h1M26 31h4M31 31h5M37 31h1M23 32h1M26 32h2M29 32h1M34 32h1M21 33h1M24 33h1M26 33h4M19 34h1M23 34h3M28 34h1M21 35h3M26 35h2M17 36h1M22 36h1M25 36h1M17 37h1M22 37h3M15 38h1M21 38h1M23 38h1M16 39h7M11 40h1M16 40h1M18 40h1M21 40h1M12 41h4M20 41h1M29 41h1M10 42h1M19 42h2M8 43h1M10 43h1M20 43h1M6 44h2M4 45h3M1 46h4M3 47h2M5 48h1M3 49h2M2 50h2M0 51h1M2 52h1M0 53h1M0 54h1M2 54h2"/>
<path stroke="#8dff6a" d="M0 5h1M4 5h1M2 6h3M6 6h2M3 7h1M7 7h1M18 7h1M9 8h2M17 8h2M20 8h2M23 9h1M13 10h1M22 10h1M25 10h1M25 11h1M25 12h1M9 13h1M12 14h2M15 14h2M22 14h1M7 15h1M18 15h2M21 16h2M3 19h1M50 19h1M54 19h1M2 20h1M1 21h2M41 21h1M1 22h1M50 23h2M53 23h2M50 24h5M51 25h1M44 26h1M50 26h1M52 26h3M49 27h1M51 27h4M38 28h2M41 28h4M47 28h1M50 28h3M54 28h1M39 29h1M49 29h1M52 29h1M54 29h1M21 30h1M29 30h1M36 30h2M39 30h1M42 30h1M53 30h1M36 31h1M38 31h1M28 32h1M30 32h4M35 32h1M37 32h2M30 33h2M33 33h2M27 34h1M29 34h1M29 35h1M26 36h4M25 37h2M29 37h1M24 38h1M28 38h1M30 38h1M23 39h1M29 39h3M17 40h1M19 40h2M22 40h9M16 41h4M21 41h5M9 42h1M11 42h6M18 42h1M24 42h2M28 42h3M9 43h1M11 43h3M18 43h2M24 43h2M28 43h1M8 44h1M10 44h2M13 44h1M18 44h1M20 44h1M29 44h1M7 45h1M9 45h5M20 45h1M5 46h4M5 47h2M9 47h2M4 48h1M9 48h2M5 49h2M4 50h1M3 51h2M3 52h2M3 53h1"/>
<path stroke="#b1ff46" d="M0 6h2M5 6h1M4 7h1M6 7h1M6 8h3M16 8h1M19 8h1M22 8h1M9 9h3M14 9h2M17 9h1M19 9h1M21 9h2M12 10h1M23 10h2M18 11h1M24 11h1M23 12h1M19 13h1M22 13h3M7 14h5M14 14h1M17 14h2M21 14h1M23 14h1M6 15h1M8 15h1M17 15h1M20 15h3M6 16h1M5 17h1M4 18h2M1 19h2M0 20h2M0 21h1M52 25h3M51 26h1M50 27h1M40 28h1M48 28h2M38 29h1M40 29h9M50 29h2M53 29h1M35 30h1M38 30h1M41 30h1M44 30h1M46 30h2M51 30h2M54 30h1M39 31h1M41 31h3M46 31h1M52 31h1M54 31h1M36 32h1M40 32h2M43 32h1M47 32h1M52 32h1M54 32h1M32 33h1M35 33h4M40 33h1M50 33h1M30 34h1M32 34h6M39 34h1M28 35h1M30 35h1M32 35h2M35 35h4M31 36h8M41 36h1M27 37h2M30 37h7M25 38h2M29 38h1M31 38h7M41 38h1M24 39h2M27 39h2M32 39h2M35 39h1M31 40h5M26 41h3M30 41h2M33 41h2M17 42h1M21 42h3M26 42h1M14 43h4M21 43h1M23 43h1M29 43h2M9 44h1M12 44h1M15 44h1M19 44h1M21 44h5M27 44h2M8 45h1M15 45h2M21 45h2M24 45h1M27 45h1M9 46h4M19 46h1M7 47h2M11 47h4M6 48h1M11 48h3M8 49h3M5 50h1M8 50h1M7 51h1M5 52h1M4 53h1M4 54h1"/>
<path stroke="#d5ff22" d="M0 7h3M5 7h1M0 8h1M3 8h3M4 9h3M8 9h1M16 9h1M18 9h1M20 9h1M8 10h1M11 10h1M14 10h6M21 10h1M11 11h2M14 11h1M19 11h1M22 11h2M7 12h3M13 12h1M17 12h1M19 12h2M22 12h1M24 12h1M5 13h4M11 13h4M16 13h1M20 13h2M5 14h2M19 14h2M5 16h1M2 17h3M2 18h1M0 19h1M40 30h1M43 30h1M45 30h1M48 30h2M40 31h1M44 31h2M47 31h2M50 31h2M53 31h1M39 32h1M42 32h1M44 32h1M46 32h1M50 32h2M53 32h1M39 33h1M41 33h2M47 33h1M49 33h1M51 33h1M53 33h2M31 34h1M38 34h1M41 34h1M43 34h1M47 34h1M31 35h1M34 35h1M39 35h6M46 35h1M30 36h1M39 36h1M42 36h3M46 36h1M38 37h1M42 37h4M27 38h1M39 38h1M45 38h2M26 39h1M34 39h1M36 39h1M38 39h1M36 40h1M38 40h1M32 41h1M35 41h2M38 41h2M27 42h1M31 42h3M38 42h2M22 43h1M26 43h2M31 43h1M33 43h2M14 44h1M16 44h2M26 44h1M30 44h1M32 44h1M36 44h2M14 45h1M18 45h2M23 45h1M25 45h2M28 45h6M13 46h4M18 46h1M20 46h4M25 46h1M28 46h2M31 46h3M35 46h1M18 47h2M21 47h1M23 47h1M28 47h2M32 47h1M34 47h1M7 48h2M29 48h3M7 49h1M11 49h2M29 49h2M6 50h2M9 50h5M29 50h1M5 51h2M8 51h1M11 51h1M27 51h1M8 52h1M10 52h1M26 52h3M5 53h1M5 54h1"/>
<path stroke="#f9f400" d="M1 8h2M0 9h1M3 9h1M7 9h1M4 10h2M7 10h1M9 10h2M20 10h1M5 11h6M15 11h3M20 11h2M6 12h1M10 12h3M14 12h3M18 12h1M21 12h1M10 13h1M15 13h1M17 13h2M5 15h1M4 16h1M0 18h1M3 18h1M50 30h1M49 31h1M45 32h1M48 32h2M43 33h4M48 33h1M52 33h1M42 34h1M45 34h2M49 34h6M48 35h1M53 35h1M40 36h1M45 36h1M47 36h2M51 36h1M37 37h1M40 37h2M46 37h3M38 38h1M40 38h1M42 38h2M47 38h3M37 39h1M39 39h1M41 39h2M46 39h2M39 40h1M41 40h3M37 41h1M40 41h1M42 41h1M34 42h4M41 42h1M32 43h1M35 43h2M38 43h4M31 44h1M33 44h3M38 44h2M17 45h1M35 45h1M38 45h1M17 46h1M24 46h1M26 46h2M30 46h1M34 46h1M36 46h1M15 47h2M20 47h1M22 47h1M27 47h1M30 47h2M33 47h1M35 47h2M14 48h2M17 48h2M20 48h4M28 48h1M32 48h5M13 49h2M16 49h1M18 49h1M22 49h7M31 49h2M35 49h1M14 50h1M24 50h5M30 50h3M9 51h2M12 51h3M24 51h1M30 51h1M6 52h2M11 52h2M25 52h1M29 52h2M6 53h3M11 53h1M26 53h1M28 53h2M6 54h8M23 54h1M25 54h1M27 54h2M30 54h1"/>
<path stroke="#ffca00" d="M2 9h1M0 10h1M3 10h1M6 10h1M2 11h3M13 11h1M4 12h2M4 13h1M3 14h2M3 15h2M2 16h2M0 17h2M1 18h1M40 34h1M44 34h1M48 34h1M45 35h1M47 35h1M49 35h4M54 35h1M49 36h2M52 36h3M39 37h1M49 37h3M54 37h1M44 38h1M50 38h1M40 39h1M43 39h3M48 39h2M37 40h1M40 40h1M47 40h2M50 40h1M43 41h3M40 42h1M44 42h1M37 43h1M40 44h2M34 45h1M36 45h2M39 45h2M37 46h2M17 47h1M24 47h3M37 47h2M16 48h1M19 48h1M24 48h4M37 48h1M17 49h1M19 49h2M33 49h2M36 49h1M15 50h1M20 50h1M22 50h2M33 50h1M18 51h2M22 51h2M25 51h2M28 51h2M31 51h1M33 51h2M9 52h1M13 52h2M20 52h1M23 52h2M31 52h2M9 53h1M12 53h2M18 53h1M22 53h4M27 53h1M30 53h2M33 53h1M24 54h1M26 54h1M29 54h1M31 54h1"/>
<path stroke="#ffa100" d="M1 9h1M1 10h2M0 11h2M0 12h4M0 13h1M3 13h1M1 15h2M0 16h2M52 37h2M51 38h1M53 38h2M50 39h2M53 39h2M44 40h3M49 40h1M53 40h2M41 41h1M46 41h2M42 42h2M46 42h1M42 43h2M42 44h2M41 45h1M39 46h4M39 47h2M38 48h1M15 49h1M21 49h1M37 49h2M16 50h4M21 50h1M34 50h3M39 50h1M15 51h3M20 51h2M32 51h1M35 51h1M37 51h2M15 52h1M17 52h3M34 52h1M36 52h2M10 53h1M14 53h1M16 53h1M19 53h1M21 53h1M32 53h1M34 53h1M14 54h5M20 54h3M32 54h3M37 54h1M39 54h1"/>
<path stroke="#ff7800" d="M1 13h2M0 14h3M0 15h1M52 38h1M52 39h1M51 40h2M48 41h2M51 41h3M47 42h3M52 42h1M44 43h1M47 43h1M50 43h1M44 44h1M46 44h1M42 45h4M41 47h2M39 48h1M42 48h1M39 49h2M48 49h1M37 50h2M40 50h1M48 50h1M36 51h1M39 51h2M47 51h2M16 52h1M21 52h2M33 52h1M35 52h1M38 52h3M15 53h1M17 53h1M20 53h1M35 53h3M39 53h1M19 54h1M35 54h2M38 54h1M40 54h1M47 54h1"/>
<path stroke="#ff4f00" d="M50 41h1M54 41h1M45 42h1M50 42h2M53 42h2M45 43h1M48 43h1M51 43h2M45 44h1M47 44h1M52 44h2M46 45h1M48 45h1M43 46h1M45 46h1M47 46h2M46 47h3M40 48h2M48 48h1M41 49h1M46 49h2M41 50h1M45 50h2M49 50h1M41 51h5M41 52h4M46 52h3M38 53h1M40 53h6M47 53h2M41 54h3M45 54h2"/>
<path stroke="#ff2600" d="M46 43h1M49 43h1M53 43h2M48 44h4M54 44h1M47 45h1M49 45h3M53 45h2M44 46h1M46 46h1M49 46h1M52 46h1M54 46h1M43 47h1M45 47h1M49 47h1M54 47h1M43 48h5M49 48h1M42 49h4M49 49h3M42 50h3M47 50h1M46 51h1M49 51h1M45 52h1M49 52h1M46 53h1M44 54h1M48 54h3"/>
<path stroke="#e40000" d="M52 45h1M50 46h2M53 46h1M44 47h1M51 47h1M53 47h1M50 48h2M53 48h2M54 49h1M50 50h3M50 51h4M50 52h4M49 53h5M51 54h4"/>
<path stroke="#b20000" d="M50 47h1M52 47h1M52 48h1M52 49h2M53 50h2M54 51h1M54 52h1M54 53h1"/>
</g></svg>
<rect x="797.7" y="1454.9" width="12.3" height="250.5" fill="url(#jetg)"/>
<text x="810.7" y="1538.7" font-size="25" text-anchor="start" fill="#262626">460</text>
<text x="810.7" y="1635.9" font-size="25" text-anchor="start" fill="#262626">440</text>
<text x="656" y="1452.9" font-size="36" text-anchor="middle" fill="#262626">KnoxCity</text>
<svg x="922.7" y="1453.9" width="251.5" height="251.8" viewBox="0 0 55 55" preserveAspectRatio="none">
<rect width="55" height="55" fill="#b1ff46"/>
<g transform="translate(0 .5)" stroke-width="1.06" fill="none">
<path stroke="#0032ff" d="M40 32h1M40 33h1M39 34h1"/>
<path stroke="#005eff" d="M38 31h1M40 31h1M38 32h2M40 34h1"/>
<path stroke="#008bff" d="M44 5h1M43 6h1M53 6h1M52 7h2M37 29h3M37 31h1M39 31h1M42 32h1M38 33h2M43 33h1M43 34h1M38 35h1M38 36h1M51 36h1M11 39h1M54 40h1M11 43h1"/>
<path stroke="#00b7ff" d="M43 5h1M44 6h2M49 6h1M52 6h1M43 7h1M45 7h1M47 7h1M54 7h1M52 8h1M52 20h1M51 21h1M50 27h1M39 30h1M41 31h1M35 32h1M37 32h1M41 32h1M44 32h1M35 34h1M37 34h2M39 35h2M12 36h1M39 36h1M54 38h1M53 39h2M11 40h1M14 48h2M15 49h1"/>
<path stroke="#00e3f9" d="M39 0h1M41 0h2M43 3h1M46 3h1M44 4h2M41 5h1M45 5h1M47 5h2M51 5h1M41 6h1M47 6h2M51 6h1M54 6h1M42 7h1M48 7h4M44 8h1M53 8h2M54 11h1M50 23h1M49 26h2M38 28h2M36 30h1M38 30h1M40 30h1M50 30h1M34 31h1M42 31h2M43 32h1M35 33h3M41 33h2M44 33h1M41 34h2M44 34h1M53 34h1M11 35h1M36 35h2M41 35h1M44 35h1M52 35h3M11 36h1M52 36h1M11 37h1M40 37h1M54 37h1M12 38h1M53 38h1M10 39h1M12 39h1M10 40h1M11 41h1M13 41h1M10 42h1M10 44h1M14 47h2M34 47h1M16 48h1M14 49h1M16 49h1M15 50h1M17 51h1M17 52h1M16 53h1M14 54h3"/>
<path stroke="#22ffd5" d="M37 0h2M42 3h1M44 3h1M40 4h3M46 4h2M50 4h1M42 5h1M46 5h1M50 5h1M52 5h2M42 6h1M46 6h1M41 7h1M44 7h1M46 7h1M42 8h1M45 8h1M48 8h1M51 9h1M53 9h2M53 11h1M54 12h1M53 18h1M53 19h1M54 20h1M49 21h2M53 21h1M49 22h1M51 22h2M51 23h1M53 23h1M15 24h1M49 24h1M54 24h1M16 25h2M49 25h1M52 25h2M51 26h1M25 27h1M40 27h1M51 27h1M36 28h1M40 28h2M48 28h3M40 29h1M42 29h1M47 29h1M49 29h1M33 30h1M41 30h2M49 30h1M52 30h1M33 31h1M36 31h1M45 31h2M49 31h1M18 32h1M34 32h1M36 32h1M47 32h2M50 32h1M52 32h1M33 33h2M45 33h1M36 34h1M45 34h1M51 34h1M54 34h1M31 35h1M42 35h1M50 35h1M10 36h1M36 36h2M40 36h1M42 36h1M50 36h1M10 37h1M12 37h1M31 37h1M39 37h1M41 37h1M43 37h1M53 37h1M10 38h2M50 38h1M9 39h1M52 39h1M12 40h1M51 40h1M53 40h1M10 41h1M9 43h1M13 46h1M15 46h1M35 47h1M35 48h1M16 50h2M16 51h1M14 52h3M14 53h2M17 53h1M39 53h1"/>
<path stroke="#46ffb1" d="M30 1h1M37 1h7M30 2h1M35 2h1M38 2h1M43 2h1M45 3h1M51 3h2M51 4h4M49 5h1M54 5h1M40 6h1M50 6h1M18 7h1M40 7h1M43 8h1M46 8h1M49 8h3M42 9h1M45 9h1M49 9h1M46 10h1M53 10h2M42 11h1M50 11h1M52 12h1M23 14h1M24 15h1M22 16h1M39 16h1M44 16h1M39 17h1M54 18h1M50 19h1M54 19h1M43 20h1M51 20h1M53 20h1M45 22h1M53 22h2M40 23h1M44 23h1M52 23h1M37 24h1M39 24h1M42 24h2M50 24h1M53 24h1M12 25h1M25 25h1M42 25h1M48 25h1M50 25h1M54 25h1M15 26h2M47 26h2M54 26h1M14 27h1M16 27h1M35 27h1M41 27h2M44 27h1M49 27h1M53 27h1M27 28h1M37 28h1M44 28h1M51 28h1M28 29h1M35 29h1M41 29h1M46 29h1M51 29h1M53 29h1M17 30h1M34 30h2M37 30h1M43 30h2M48 30h1M16 31h2M35 31h1M44 31h1M47 31h2M50 31h1M54 31h1M33 32h1M45 32h1M49 32h1M53 32h2M13 33h1M48 33h3M52 33h2M11 34h3M34 34h1M50 34h1M30 35h1M35 35h1M43 35h1M45 35h1M49 35h1M51 35h1M32 36h1M41 36h1M49 36h1M53 36h2M13 37h1M36 37h2M44 37h2M48 37h1M50 37h3M30 38h1M51 38h2M45 39h1M50 39h1M13 40h1M52 40h1M12 41h1M14 41h1M54 41h1M12 42h2M26 42h1M23 43h1M45 43h1M9 44h1M11 44h2M45 44h1M47 44h1M11 45h1M13 45h1M11 46h2M18 46h1M29 46h1M33 46h1M40 46h1M13 47h1M32 47h1M36 47h1M43 47h1M9 48h1M32 48h2M36 48h2M32 49h1M37 49h1M45 49h1M14 50h1M38 50h3M13 51h2M38 51h1M42 52h1M38 53h1M43 53h1M17 54h1M37 54h2"/>
<path stroke="#6aff8d" d="M33 0h1M35 0h2M40 0h1M51 0h1M53 0h1M31 1h1M35 1h2M36 2h2M39 2h1M41 2h2M47 2h1M31 3h1M38 3h1M40 3h2M48 3h1M53 3h1M32 4h5M38 4h2M43 4h1M49 4h1M32 5h1M39 5h2M20 8h1M40 8h2M47 8h1M24 9h1M34 9h1M36 9h1M46 9h1M50 9h1M52 9h1M44 10h1M47 10h4M52 10h1M18 11h1M45 11h3M49 11h1M51 11h2M19 12h1M21 12h1M50 12h2M53 12h1M18 13h1M23 13h1M25 13h1M51 13h1M53 13h2M22 14h1M24 14h1M41 14h1M52 14h1M54 14h1M21 15h2M38 15h1M43 15h1M50 15h1M20 16h1M23 16h1M43 16h1M50 16h1M23 17h1M44 17h1M53 17h1M39 18h2M45 18h1M50 18h1M18 19h1M51 19h2M19 20h1M23 20h1M14 21h1M20 21h1M42 21h1M45 21h1M52 21h1M39 22h2M42 22h1M44 22h1M48 22h1M50 22h1M16 23h1M18 23h1M26 23h1M38 23h1M46 23h2M54 23h1M13 24h1M16 24h2M24 24h1M26 24h1M35 24h1M52 24h1M13 25h2M24 25h1M31 25h1M37 25h1M46 25h1M14 26h1M17 26h1M24 26h1M26 26h1M33 26h3M41 26h3M45 26h1M52 26h2M17 27h1M30 27h1M32 27h1M37 27h3M43 27h1M45 27h1M47 27h1M52 27h1M54 27h1M15 28h1M17 28h1M26 28h1M33 28h3M43 28h1M54 28h1M16 29h3M29 29h1M33 29h2M36 29h1M45 29h1M48 29h1M50 29h1M16 30h1M32 30h1M45 30h2M51 30h1M53 30h1M18 31h1M51 31h3M12 32h1M46 32h1M51 32h1M10 33h3M14 33h1M25 33h2M47 33h1M10 34h1M14 34h1M17 34h1M24 34h1M26 34h1M31 34h1M52 34h1M10 35h1M12 35h1M14 36h1M30 36h1M34 36h1M43 36h3M23 37h1M26 37h2M38 37h1M42 37h1M9 38h1M23 38h2M35 38h3M39 38h2M42 38h1M48 38h2M27 39h1M39 39h1M46 39h4M51 39h1M9 40h1M22 40h1M44 40h1M46 40h1M9 41h1M22 41h1M40 41h1M50 41h1M52 41h1M11 42h1M24 42h1M49 42h3M10 43h1M13 43h1M50 43h1M8 44h1M13 44h1M23 44h1M14 45h1M32 45h2M39 45h1M44 45h1M46 45h3M14 46h1M31 46h1M35 46h1M42 46h2M16 47h2M29 47h3M38 47h1M10 48h1M17 48h1M31 48h1M43 48h2M48 48h1M34 49h1M36 49h1M40 49h1M43 49h1M46 49h1M13 50h1M18 50h2M36 50h1M41 50h1M43 50h1M46 50h2M15 51h1M39 51h1M41 51h2M13 52h1M37 52h4M37 53h1M40 53h1M39 54h2"/>
<path stroke="#8dff6a" d="M31 0h1M34 0h1M43 0h1M46 0h3M52 0h1M44 1h1M47 1h1M31 2h1M40 2h1M44 2h3M30 3h1M32 3h2M37 3h1M39 3h1M47 3h1M50 3h1M54 3h1M31 4h1M48 4h1M7 5h1M19 5h1M36 5h1M18 6h3M38 6h2M20 7h1M13 8h1M17 8h1M19 8h1M34 8h1M22 9h1M25 9h1M27 9h1M31 9h1M41 9h1M43 9h1M47 9h2M17 10h1M19 10h1M22 10h1M25 10h1M35 10h1M41 10h2M45 10h1M20 11h1M22 11h1M34 11h1M43 11h1M48 11h1M23 12h1M42 12h1M46 12h4M20 13h1M36 13h1M42 13h1M46 13h1M19 14h1M21 14h1M37 14h1M39 14h1M45 14h1M48 14h3M53 14h1M23 15h1M40 15h3M44 15h2M49 15h1M52 15h1M19 16h1M21 16h1M24 16h1M38 16h1M40 16h2M45 16h1M0 17h1M21 17h2M46 17h1M50 17h1M54 17h1M20 18h1M43 18h2M47 18h1M49 18h1M52 18h1M17 19h1M20 19h1M24 19h1M39 19h2M42 19h1M45 19h2M49 19h1M14 20h1M17 20h1M22 20h1M25 20h1M41 20h2M44 20h1M50 20h1M15 21h4M23 21h2M28 21h1M43 21h1M46 21h3M54 21h1M10 22h1M15 22h1M17 22h1M22 22h1M25 22h1M27 22h2M43 22h1M14 23h2M33 23h1M36 23h2M39 23h1M43 23h1M48 23h2M14 24h1M20 24h2M27 24h1M30 24h1M36 24h1M38 24h1M40 24h2M45 24h3M51 24h1M15 25h1M18 25h1M20 25h1M26 25h2M33 25h1M36 25h1M38 25h1M40 25h1M43 25h2M47 25h1M51 25h1M18 26h1M21 26h1M25 26h1M31 26h2M36 26h5M44 26h1M13 27h1M15 27h1M18 27h1M24 27h1M27 27h2M31 27h1M34 27h1M46 27h1M48 27h1M7 28h1M14 28h1M16 28h1M18 28h2M28 28h5M42 28h1M45 28h3M52 28h1M25 29h3M31 29h2M43 29h2M52 29h1M54 29h1M24 30h2M27 30h2M30 30h1M54 30h1M14 31h2M24 31h2M29 31h1M32 31h1M14 32h1M16 32h2M24 32h1M32 32h1M24 33h1M46 33h1M51 33h1M54 33h1M15 34h2M21 34h1M25 34h1M27 34h1M29 34h1M32 34h1M48 34h2M14 35h2M26 35h1M28 35h1M32 35h3M48 35h1M9 36h1M13 36h1M15 36h1M25 36h1M27 36h1M31 36h1M33 36h1M35 36h1M46 36h3M9 37h1M16 37h1M25 37h1M49 37h1M8 38h1M13 38h2M21 38h2M26 38h1M33 38h1M45 38h2M13 39h2M21 39h1M25 39h2M29 39h1M2 40h1M14 40h1M21 40h1M24 40h2M32 40h1M34 40h1M39 40h1M45 40h1M21 41h1M23 41h1M26 41h1M39 41h1M41 41h1M47 41h1M49 41h1M9 42h1M14 42h1M21 42h1M23 42h1M28 42h1M39 42h1M41 42h1M48 42h1M53 42h1M12 43h1M20 43h1M24 43h2M31 43h1M39 43h1M42 43h1M47 43h1M49 43h1M16 44h1M24 44h1M29 44h1M31 44h1M35 44h1M40 44h2M46 44h1M49 44h1M10 45h1M12 45h1M15 45h1M28 45h3M41 45h1M16 46h1M27 46h2M30 46h1M32 46h1M34 46h1M36 46h3M44 46h1M48 46h2M1 47h2M12 47h1M18 47h1M25 47h1M37 47h1M40 47h1M42 47h1M44 47h1M48 47h1M13 48h1M38 48h1M40 48h1M45 48h1M11 49h1M13 49h1M17 49h3M35 49h1M39 49h1M41 49h1M44 49h1M48 49h1M5 50h1M12 50h1M34 50h1M37 50h1M42 50h1M37 51h1M40 51h1M43 51h1M46 51h2M49 51h1M18 52h1M36 52h1M41 52h1M44 52h1M47 52h1M36 53h1M41 53h2M44 53h1M47 53h1M51 53h1M42 54h1"/>
<path stroke="#d5ff22" d="M25 0h3M32 0h1M19 1h1M27 1h1M29 1h1M33 1h1M49 1h2M15 2h1M20 2h1M28 2h1M32 2h1M53 2h2M7 3h3M15 3h1M18 3h2M22 3h1M24 3h1M29 3h1M34 3h1M49 3h1M6 4h1M8 4h1M10 4h1M18 4h1M21 4h2M29 4h2M6 5h1M8 5h1M17 5h1M22 5h1M30 5h1M34 5h1M37 5h1M12 6h1M16 6h1M22 6h1M28 6h1M31 6h2M36 6h1M7 7h1M11 7h1M16 7h1M21 7h1M29 7h1M32 7h1M35 7h3M39 7h1M11 8h1M16 8h1M18 8h1M21 8h1M27 8h1M31 8h1M33 8h1M35 8h1M38 8h1M8 9h1M11 9h1M13 9h1M15 9h1M30 9h1M32 9h2M37 9h1M4 10h1M7 10h3M14 10h2M23 10h2M26 10h1M30 10h1M38 10h1M51 10h1M8 11h1M13 11h1M16 11h1M19 11h1M23 11h1M25 11h2M33 11h1M41 11h1M16 12h2M33 12h1M36 12h1M39 12h3M4 13h1M13 13h1M16 13h1M26 13h1M37 13h1M39 13h3M45 13h1M47 13h1M52 13h1M0 14h1M16 14h3M26 14h1M36 14h1M38 14h1M47 14h1M1 15h1M13 15h1M18 15h1M34 15h1M36 15h1M39 15h1M2 16h1M12 16h1M27 16h1M52 16h1M11 17h1M13 17h1M15 17h1M25 17h2M36 17h2M40 17h1M42 17h1M48 17h1M51 17h1M0 18h1M12 18h1M14 18h1M16 18h2M21 18h2M24 18h2M35 18h2M38 18h1M42 18h1M21 19h2M25 19h2M34 19h1M37 19h1M41 19h1M47 19h1M3 20h1M8 20h1M18 20h1M21 20h1M24 20h1M27 20h1M32 20h1M34 20h1M40 20h1M47 20h2M0 21h1M2 21h1M11 21h1M13 21h1M26 21h2M29 21h1M34 21h1M36 21h3M12 22h2M20 22h1M26 22h1M30 22h1M33 22h5M46 22h2M20 23h2M27 23h1M29 23h3M34 23h2M10 24h3M22 24h1M33 24h1M10 25h1M21 25h1M35 25h1M20 26h1M23 26h1M27 26h1M29 26h1M10 27h2M20 27h1M23 27h1M8 28h1M22 28h1M24 28h1M2 29h1M23 29h2M5 30h1M11 30h2M14 30h1M29 30h1M12 31h1M23 31h1M31 31h1M2 32h1M8 32h1M10 32h1M21 32h1M23 32h1M28 32h1M31 32h1M3 33h1M9 33h1M17 33h1M20 33h1M22 33h2M27 33h1M31 33h2M20 34h1M19 35h1M21 35h1M27 35h1M29 35h1M16 36h1M20 36h1M28 36h2M8 37h1M14 37h2M21 37h2M24 37h1M28 37h1M1 38h2M15 38h1M19 38h1M28 38h1M0 39h2M16 39h2M19 39h2M23 39h1M28 39h1M36 39h1M40 39h1M42 39h2M7 40h1M20 40h1M26 40h2M30 40h1M40 40h2M49 40h1M1 41h2M8 41h1M18 41h1M27 41h1M31 41h1M33 41h1M43 41h2M48 41h1M8 42h1M17 42h2M25 42h1M30 42h2M34 42h2M40 42h1M46 42h2M2 43h1M5 43h1M14 43h2M18 43h1M32 43h1M34 43h2M40 43h2M44 43h1M46 43h1M54 43h1M6 44h2M19 44h1M21 44h1M25 44h1M34 44h1M39 44h1M43 44h1M4 45h1M7 45h1M16 45h2M22 45h1M26 45h1M31 45h1M34 45h1M42 45h2M45 45h1M50 45h1M4 46h1M6 46h1M9 46h1M17 46h1M24 46h2M41 46h1M46 46h1M0 47h1M20 47h1M26 47h1M45 47h1M50 47h2M2 48h1M7 48h2M11 48h2M21 48h1M42 48h1M50 48h1M53 48h1M0 49h1M6 49h1M21 49h1M30 49h2M50 49h1M3 50h2M6 50h3M10 50h1M20 50h2M28 50h2M49 50h1M4 51h2M8 51h1M12 51h1M19 51h1M45 51h1M4 52h2M46 52h1M1 53h1M5 53h2M9 53h1M11 53h1M20 53h1M34 53h1M46 53h1M48 53h2M53 53h1M11 54h1M13 54h1M19 54h2M45 54h1M48 54h2M53 54h1"/>
<path stroke="#f9f400" d="M5 0h1M14 0h1M16 0h1M20 0h1M22 0h2M28 0h1M30 0h1M5 1h1M21 1h1M23 1h1M26 1h1M28 1h1M4 2h1M7 2h2M14 2h1M19 2h1M21 2h1M29 2h1M11 3h1M13 3h1M16 3h2M20 3h1M26 3h3M5 4h1M23 4h6M4 5h1M9 5h1M26 5h1M29 5h1M7 6h2M15 6h1M29 6h1M4 7h1M8 7h1M13 7h1M15 7h1M22 7h1M24 7h3M28 7h1M30 7h1M3 8h2M7 8h1M12 8h1M22 8h1M24 8h3M29 8h1M32 8h1M39 8h1M3 9h2M9 9h1M14 9h1M23 9h1M28 9h2M40 9h1M10 10h1M12 10h1M31 10h2M36 10h2M0 11h1M2 11h1M11 11h2M14 11h2M17 11h1M27 11h1M30 11h2M36 11h1M7 12h2M12 12h2M15 12h1M22 12h1M27 12h1M29 12h2M32 12h1M34 12h1M1 13h2M5 13h1M12 13h1M17 13h1M27 13h1M30 13h1M35 13h1M38 13h1M43 13h2M2 14h1M4 14h1M8 14h1M12 14h4M25 14h1M42 14h3M2 15h1M9 15h1M12 15h1M14 15h3M19 15h1M47 15h1M9 16h3M13 16h2M26 16h1M35 16h1M1 17h2M10 17h1M38 17h1M41 17h1M1 18h1M10 18h2M13 18h1M18 18h2M23 18h1M26 18h1M37 18h1M41 18h1M12 19h1M23 19h1M27 19h1M35 19h2M43 19h1M2 20h1M11 20h1M13 20h1M28 20h1M33 20h1M35 20h2M8 21h2M32 21h2M9 22h1M24 22h1M29 22h1M31 22h1M23 23h1M28 23h1M3 24h1M25 24h1M29 24h1M8 25h1M22 25h1M28 25h1M30 25h1M32 25h1M5 26h1M10 26h1M6 27h4M21 27h1M5 28h1M9 28h1M11 28h3M21 28h1M25 28h1M5 29h2M8 29h1M12 29h1M14 29h2M20 29h2M0 30h1M3 30h2M6 30h1M13 30h1M19 30h3M1 31h1M3 31h1M8 31h2M26 31h2M6 32h1M26 32h2M29 32h1M2 33h1M21 33h1M3 34h1M22 34h2M46 34h1M4 35h1M8 35h2M24 35h1M47 35h1M0 36h3M17 36h1M19 36h1M21 36h1M17 37h1M16 38h1M18 38h1M20 38h1M2 39h1M15 39h1M41 39h1M4 40h1M8 40h1M15 40h1M19 40h1M31 40h1M35 40h3M42 40h1M4 41h2M15 41h1M19 41h1M24 41h1M29 41h2M34 41h1M36 41h1M42 41h1M45 41h2M2 42h1M15 42h1M29 42h1M38 42h1M43 42h1M45 42h1M6 43h2M16 43h2M19 43h1M21 43h1M36 43h1M43 43h1M0 44h1M2 44h4M14 44h2M36 44h1M51 44h2M3 45h1M19 45h1M21 45h1M51 45h2M0 46h1M2 46h1M7 46h1M20 46h2M23 46h1M47 46h1M50 46h1M54 46h1M3 47h1M7 47h1M52 47h2M0 48h2M5 48h2M25 48h1M27 48h2M52 48h1M54 48h1M3 49h2M7 49h1M10 49h1M23 49h1M26 49h1M29 49h1M49 49h1M51 49h1M53 49h2M1 50h2M9 50h1M22 50h1M31 50h2M51 50h1M0 51h3M6 51h2M9 51h1M20 51h2M25 51h1M30 51h1M34 51h1M44 51h1M50 51h1M54 51h1M0 52h4M50 52h3M7 53h1M12 53h1M21 53h1M45 53h1M52 53h1M1 54h2M4 54h1M8 54h2M12 54h1M18 54h1M35 54h1M46 54h1M50 54h3"/>
<path stroke="#ffca00" d="M6 0h3M18 0h1M21 0h1M24 0h1M4 1h1M6 1h1M10 1h1M17 1h1M20 1h1M22 1h1M24 1h1M1 2h1M5 2h2M9 2h2M13 2h1M16 2h1M18 2h1M22 2h2M27 2h1M33 2h1M0 3h1M4 3h2M12 3h1M14 3h1M21 3h1M23 3h1M14 4h1M16 4h1M19 4h2M1 5h1M3 5h1M5 5h1M10 5h2M14 5h1M24 5h2M27 5h2M0 6h4M5 6h2M9 6h3M14 6h1M25 6h2M1 7h2M9 7h2M23 7h1M31 7h1M5 8h2M9 8h2M28 8h1M2 9h1M6 9h2M10 9h1M12 9h1M38 9h1M2 10h1M11 10h1M13 10h1M27 10h1M39 10h1M1 11h1M5 11h2M9 11h2M24 11h1M28 11h2M32 11h1M38 11h1M0 12h1M11 12h1M31 12h1M3 13h1M6 13h1M8 13h3M15 13h1M28 13h2M32 13h3M1 14h1M5 14h1M7 14h1M9 14h3M28 14h1M34 14h1M4 15h1M6 15h3M10 15h2M27 15h1M35 15h1M3 16h2M8 16h1M15 16h1M17 16h1M37 16h1M9 17h1M12 17h1M14 17h1M16 17h2M19 17h1M35 17h1M3 18h1M15 18h1M3 19h1M9 19h1M11 19h1M16 19h1M5 20h1M12 20h1M37 20h1M1 21h1M12 21h1M31 21h1M8 22h1M8 23h2M7 24h1M23 24h1M4 25h1M6 25h1M1 26h1M3 26h1M6 26h4M28 26h1M0 28h4M6 28h1M10 28h1M20 28h1M23 28h1M0 29h2M11 29h1M13 29h1M22 29h1M2 30h1M8 30h1M23 30h1M2 31h1M4 31h2M7 31h1M11 31h1M20 31h1M22 31h1M0 32h2M3 32h1M5 32h1M7 32h1M20 32h1M0 33h2M4 33h1M8 33h1M19 33h1M0 34h3M4 34h1M8 34h2M19 34h1M0 35h1M2 35h1M20 35h1M3 36h1M7 36h2M0 37h2M3 37h1M7 37h1M19 37h1M0 38h1M3 38h1M17 38h1M18 39h1M31 39h1M0 40h1M18 40h1M3 41h1M6 41h2M16 41h2M28 41h1M35 41h1M37 41h1M1 42h1M3 42h1M7 42h1M36 42h2M42 42h1M0 43h2M3 43h1M33 43h1M38 43h1M53 43h1M1 44h1M18 44h1M27 44h1M37 44h2M0 45h2M5 45h1M20 45h1M53 45h1M1 46h1M22 46h1M53 46h1M22 47h2M54 47h1M22 48h3M26 48h1M51 48h1M1 49h1M27 49h2M52 49h1M24 50h2M33 50h1M50 50h1M52 50h1M11 51h1M22 51h1M28 51h1M31 51h1M52 51h2M6 52h1M8 52h1M21 52h1M33 52h1M49 52h1M53 52h1M3 53h2M33 53h1M0 54h1M3 54h1M7 54h1M21 54h2M26 54h1M34 54h1M44 54h1M47 54h1"/>
<path stroke="#ffa100" d="M1 0h4M9 0h2M13 0h1M15 0h1M19 0h1M0 1h1M7 1h1M9 1h1M12 1h2M16 1h1M25 1h1M17 2h1M24 2h2M10 3h1M3 4h1M9 4h1M13 4h1M15 4h1M17 4h1M0 5h1M13 5h1M4 6h1M13 6h1M23 6h1M30 6h1M0 7h1M3 7h1M5 7h2M14 7h1M1 8h2M8 8h1M15 8h1M5 9h1M39 9h1M0 10h1M5 10h2M16 10h1M3 11h2M37 11h1M1 12h3M5 12h2M10 12h1M28 12h1M0 13h1M27 14h1M33 14h1M5 15h1M17 15h1M26 15h1M6 16h1M34 16h1M36 16h1M3 17h2M18 17h1M27 17h1M2 18h1M8 18h2M27 18h3M1 19h2M4 19h1M8 19h1M31 19h3M0 20h1M9 20h1M30 20h2M30 21h1M2 22h1M0 23h3M24 23h1M32 23h1M1 24h1M5 24h1M8 24h1M2 25h2M0 26h1M2 26h1M2 27h1M4 27h2M4 28h1M3 29h2M10 29h1M1 30h1M7 30h1M10 30h1M22 30h1M21 31h1M5 33h1M7 33h1M6 34h1M5 35h1M4 36h1M18 36h1M4 37h1M18 37h1M7 38h1M3 39h2M7 39h1M3 40h1M5 40h1M16 40h1M0 41h1M0 42h1M4 42h3M16 42h1M32 42h2M37 43h1M23 45h1M6 47h1M22 49h1M25 49h1M26 50h2M53 50h1M10 51h1M24 51h1M27 51h1M51 51h1M7 52h1M9 52h3M20 52h1M23 52h3M29 52h3M34 52h1M54 52h1M0 53h1M2 53h1M8 53h1M10 53h1M23 53h1M28 53h1M30 53h1M32 53h1M54 53h1M5 54h2M29 54h1M33 54h1M54 54h1"/>
<path stroke="#ff7800" d="M12 0h1M1 1h3M8 1h1M11 1h1M14 1h2M18 1h1M2 2h1M11 2h1M26 2h1M3 3h1M0 4h1M4 4h1M12 4h1M12 5h1M15 5h1M24 6h1M27 6h1M27 7h1M0 9h1M4 12h1M7 13h1M11 13h1M30 14h1M32 14h1M28 15h1M33 15h1M5 16h1M18 16h1M28 16h1M5 17h1M28 17h1M31 17h1M33 17h2M4 18h2M33 18h2M5 19h1M28 19h1M4 20h1M7 20h1M10 20h1M29 20h1M5 21h1M7 21h1M0 22h2M3 22h3M32 22h1M4 23h1M7 23h1M0 24h1M4 24h1M0 25h2M7 25h1M4 26h1M0 27h1M9 29h1M6 31h1M10 31h1M4 32h1M9 32h1M3 35h1M6 35h2M6 36h1M6 37h1M4 38h2M5 39h2M6 40h1M2 45h1M52 46h1M2 49h1M24 49h1M23 50h1M54 50h1M23 51h1M26 51h1M32 51h2M22 52h1M28 52h1M27 53h1M23 54h2M27 54h2M32 54h1"/>
<path stroke="#ff4f00" d="M0 0h1M0 2h1M3 2h1M1 3h2M25 3h1M1 4h2M11 4h1M2 5h1M16 5h1M0 8h1M1 9h1M1 10h1M31 13h1M6 14h1M31 14h1M29 15h1M7 16h1M29 16h1M33 16h1M7 17h2M29 17h1M31 18h2M7 19h1M10 19h1M29 19h1M6 20h1M3 21h2M6 21h1M6 22h2M3 23h1M5 23h2M2 24h1M5 25h1M1 27h1M9 30h1M6 33h1M7 34h1M5 36h1M6 38h1M26 52h1M32 52h1M22 53h1M24 53h1M29 53h1M31 53h1M25 54h1M30 54h2"/>
<path stroke="#ff2600" d="M12 2h1M29 14h1M31 15h2M31 16h1M6 17h1M30 17h1M32 17h1M6 18h1M30 18h1M6 19h1M30 19h1M6 24h1M3 27h1M5 34h1M5 37h1M27 52h1M25 53h2"/>
<path stroke="#e40000" d="M11 0h1M30 15h1M30 16h1M32 16h1"/>
<path stroke="#b20000" d="M7 18h1"/>
</g></svg>
<rect x="1190.2" y="1454.9" width="12.3" height="250.5" fill="url(#jetg)"/>
<text x="1203.2" y="1469.9" font-size="25" text-anchor="start" fill="#262626">110</text>
<text x="1203.2" y="1536.2" font-size="25" text-anchor="start" fill="#262626">100</text>
<text x="1203.2" y="1602.6" font-size="25" text-anchor="start" fill="#262626">90</text>
<text x="1203.2" y="1668.9" font-size="25" text-anchor="start" fill="#262626">80</text>
<text x="1048.5" y="1452.9" font-size="36" text-anchor="middle" fill="#262626">PerdidoRivFarms</text>
<svg x="1314.8" y="1453.9" width="251.5" height="251.8" viewBox="0 0 55 55" preserveAspectRatio="none">
<rect width="55" height="55" fill="#b1ff46"/>
<g transform="translate(0 .5)" stroke-width="1.06" fill="none">
<path stroke="#000080" d="M6 54h1"/>
<path stroke="#0000b2" d="M2 47h1M4 50h1"/>
<path stroke="#0000e4" d="M9 45h1M1 48h3M9 48h1M1 49h1M1 51h1M0 52h1M7 52h1M2 53h3M2 54h1"/>
<path stroke="#0006ff" d="M11 39h1M2 42h1M12 43h1M0 44h1M10 44h1M1 45h2M10 45h2M1 46h3M10 46h1M13 46h1M0 47h1M3 47h1M5 47h2M10 47h1M13 47h1M0 48h1M7 48h2M12 48h2M6 49h2M10 49h1M13 49h1M1 50h2M5 50h2M2 51h1M2 52h1M4 52h2M1 53h1M6 53h2M0 54h1M3 54h1M5 54h1"/>
<path stroke="#0032ff" d="M10 38h1M15 38h1M2 40h1M9 40h1M3 41h1M6 42h1M13 42h2M0 43h2M6 43h1M9 43h1M3 44h1M7 44h1M9 44h1M11 44h2M3 45h3M7 45h2M13 45h1M0 46h1M4 46h6M11 46h1M1 47h1M4 47h1M7 47h3M12 47h1M6 48h1M10 48h1M14 48h1M0 49h1M3 49h1M5 49h1M11 49h1M14 49h1M0 50h1M0 51h1M3 51h1M5 51h1M7 51h1M1 52h1M3 52h1M6 52h1M0 53h1M5 53h1M8 53h1M1 54h1M4 54h1M7 54h1"/>
<path stroke="#005eff" d="M11 38h1M14 39h2M13 40h2M1 41h1M5 41h2M12 41h3M5 42h1M8 42h1M10 42h1M12 42h1M4 43h2M10 43h2M14 43h1M1 44h1M4 44h3M8 44h1M13 44h2M0 45h1M6 45h1M12 45h1M14 45h1M14 46h1M11 47h1M14 47h1M4 48h2M11 48h1M2 49h1M8 49h2M12 49h1M17 49h1M3 50h1M9 50h1M11 50h1M13 50h2M4 51h1M6 51h1M8 51h1M8 54h1"/>
<path stroke="#008bff" d="M10 16h1M9 17h1M2 38h1M12 38h2M9 39h1M12 39h2M3 40h1M10 40h2M8 41h3M1 42h1M4 42h1M7 42h1M9 42h1M11 42h1M18 42h1M7 43h2M13 43h1M2 44h1M43 44h1M45 44h1M18 45h1M43 45h2M12 46h1M17 46h1M15 48h1M42 48h1M4 49h1M16 49h1M18 49h1M8 50h1M10 50h1M12 50h1M15 50h1M46 50h1M54 50h1M15 51h1M52 51h1M8 52h1M53 52h1M16 54h1"/>
<path stroke="#00b7ff" d="M7 16h2M12 16h1M8 17h1M11 17h2M12 18h1M1 20h1M16 23h1M15 33h2M14 34h2M9 35h1M3 37h1M9 37h1M12 37h1M14 37h1M9 38h1M14 38h1M1 39h3M8 39h1M10 39h1M16 39h1M6 40h1M12 40h1M15 40h1M0 41h1M2 41h1M4 41h1M7 41h1M11 41h1M15 41h1M0 42h1M15 42h1M46 42h1M2 43h1M15 43h1M18 43h1M45 43h1M50 43h2M15 44h1M17 44h1M44 44h1M46 44h1M17 45h1M45 45h1M49 45h1M18 46h1M40 46h1M42 46h1M44 46h1M48 46h1M15 47h1M17 47h1M39 47h1M41 47h1M43 47h1M50 47h2M16 48h2M38 48h1M45 48h2M53 48h1M15 49h1M53 49h2M7 50h1M16 50h1M52 50h2M9 51h1M11 51h2M14 51h1M19 51h3M51 51h1M54 51h1M9 52h1M13 52h2M18 52h1M52 52h1M17 53h1M19 53h1M17 54h2"/>
<path stroke="#00e3f9" d="M6 13h1M6 14h1M11 14h1M6 15h1M8 15h2M11 15h2M9 16h1M11 16h1M13 16h1M4 17h1M10 17h1M6 18h1M10 18h2M16 18h1M1 21h1M11 24h1M13 25h2M16 25h1M15 26h1M9 34h1M13 34h1M10 35h1M13 35h1M16 35h2M1 36h2M9 36h1M1 37h1M7 37h1M10 37h1M13 37h1M0 38h1M6 38h1M16 38h1M0 39h1M4 39h1M6 39h1M43 39h1M0 40h1M4 40h2M7 40h2M16 40h2M43 40h1M16 41h1M18 41h1M44 41h1M17 42h1M42 42h1M45 42h1M49 42h1M16 43h2M42 43h3M47 43h3M54 43h1M16 44h1M18 44h2M35 44h1M49 44h1M52 44h1M15 45h1M19 45h1M42 45h1M50 45h1M52 45h1M15 46h1M19 46h1M34 46h1M38 46h1M41 46h1M43 46h1M47 46h1M52 46h3M16 47h1M18 47h2M37 47h1M42 47h1M44 47h4M19 48h1M37 48h1M39 48h2M44 48h1M47 48h1M52 48h1M54 48h1M38 49h1M42 49h1M46 49h2M17 50h1M19 50h3M43 50h1M51 50h1M10 51h1M13 51h1M44 51h1M11 52h1M15 52h1M17 52h1M19 52h1M22 52h1M54 52h1M9 53h1M18 53h1M48 53h1M53 53h1M19 54h2M42 54h1M53 54h2"/>
<path stroke="#22ffd5" d="M0 10h1M7 13h1M4 14h2M12 14h1M3 15h3M7 15h1M10 15h1M1 16h1M3 16h4M5 17h3M13 17h3M1 18h1M5 18h1M7 18h3M13 18h1M6 19h3M11 19h2M2 20h1M7 20h1M16 20h1M5 21h1M8 21h1M15 21h1M13 22h1M15 22h1M10 23h1M12 23h2M12 24h2M15 24h1M15 25h1M14 26h1M16 26h1M1 27h1M0 28h1M2 30h1M1 31h3M2 32h1M14 32h2M2 33h1M10 33h1M14 33h1M7 34h1M10 34h1M16 34h3M0 35h1M8 35h1M14 35h2M0 36h1M4 36h1M7 36h2M10 36h2M14 36h2M2 37h1M6 37h1M8 37h1M15 37h2M45 37h1M1 38h1M4 38h2M7 38h2M36 38h1M7 39h1M17 39h1M44 39h1M1 40h1M18 40h1M33 40h1M44 40h1M39 41h1M42 41h1M47 41h1M3 42h1M36 42h1M43 42h2M48 42h1M50 42h2M3 43h1M19 43h1M23 43h1M35 43h1M33 44h1M42 44h1M47 44h2M50 44h2M53 44h2M16 45h1M46 45h3M51 45h1M53 45h1M16 46h1M33 46h1M37 46h1M39 46h1M45 46h2M50 46h2M36 47h1M38 47h1M40 47h1M48 47h2M52 47h2M18 48h1M35 48h1M41 48h1M43 48h1M49 48h3M19 49h1M40 49h2M43 49h1M45 49h1M48 49h3M52 49h1M22 50h1M38 50h2M41 50h1M44 50h1M16 51h2M40 51h1M46 51h2M53 51h1M10 52h1M20 52h2M24 52h1M38 52h1M50 52h2M10 53h1M12 53h5M23 53h1M50 53h1M52 53h1M54 53h1M9 54h3M15 54h1M22 54h1M24 54h1M39 54h1M51 54h2"/>
<path stroke="#46ffb1" d="M5 6h1M7 6h1M2 7h1M4 7h1M0 13h1M4 13h1M8 13h1M12 13h1M0 14h1M7 14h2M10 14h1M2 15h1M14 15h1M0 16h1M14 16h1M19 16h1M0 17h4M16 17h1M2 18h3M15 18h1M1 19h3M5 19h1M15 19h1M18 19h1M4 20h1M6 20h1M14 20h2M17 20h1M3 21h1M11 21h4M16 21h1M0 22h1M5 22h1M12 22h1M14 22h1M0 23h1M9 23h1M14 23h2M16 24h1M19 24h1M12 25h1M17 25h1M1 26h2M12 26h1M17 26h1M15 27h1M1 28h1M1 29h1M1 30h1M3 30h1M15 31h1M51 31h1M1 32h1M3 32h1M7 32h1M11 32h1M16 32h1M34 32h1M9 33h1M12 33h2M18 33h1M39 33h1M1 34h1M8 34h1M11 34h2M43 34h1M2 35h1M4 35h1M6 35h2M11 35h2M36 35h1M40 35h1M44 35h1M5 36h2M12 36h2M17 36h1M0 37h1M4 37h2M11 37h1M17 37h1M46 37h1M17 38h1M41 38h1M45 38h1M5 39h1M18 39h1M35 39h2M38 39h1M42 39h1M19 40h1M36 40h1M38 40h1M47 40h1M51 40h1M17 41h1M19 41h1M35 41h2M41 41h1M43 41h1M45 41h1M49 41h2M52 41h1M16 42h1M34 42h2M41 42h1M47 42h1M52 42h2M20 43h2M33 43h2M36 43h1M46 43h1M22 44h2M32 44h1M36 44h2M39 44h3M34 45h5M40 45h2M54 45h1M20 46h1M32 46h1M49 46h1M34 47h2M54 47h1M20 48h1M29 48h1M36 48h1M48 48h1M20 49h1M22 49h1M29 49h1M35 49h3M39 49h1M44 49h1M51 49h1M18 50h1M34 50h1M37 50h1M40 50h1M42 50h1M45 50h1M47 50h2M50 50h1M22 51h3M28 51h1M38 51h1M43 51h1M45 51h1M48 51h1M12 52h1M16 52h1M23 52h1M27 52h1M40 52h3M45 52h1M47 52h1M49 52h1M11 53h1M20 53h1M22 53h1M24 53h1M26 53h1M40 53h2M43 53h1M47 53h1M49 53h1M51 53h1M12 54h3M21 54h1M23 54h1M25 54h2M41 54h1M44 54h1M47 54h2"/>
<path stroke="#6aff8d" d="M28 5h1M4 6h1M0 7h1M3 8h1M11 8h1M0 9h1M1 10h1M1 11h1M5 11h1M1 12h1M3 12h1M8 12h1M1 13h1M3 13h1M9 13h1M11 13h1M15 13h1M1 14h2M9 14h1M13 14h1M15 14h2M0 15h1M13 15h1M15 15h2M18 15h1M2 16h1M15 16h1M17 16h2M0 18h1M14 18h1M17 18h2M0 19h1M4 19h1M13 19h2M16 19h2M0 20h1M3 20h1M5 20h1M8 20h4M13 20h1M19 20h1M2 21h1M6 21h2M9 21h2M1 22h3M6 22h3M10 22h2M16 22h2M7 23h2M11 23h1M17 23h1M21 23h2M8 24h3M14 24h1M17 24h1M36 24h1M1 25h1M9 25h1M11 25h1M20 25h1M11 26h1M13 26h1M18 26h1M0 27h1M8 27h1M14 27h1M18 27h1M20 27h1M48 27h1M43 28h1M0 29h1M2 29h2M17 29h1M0 30h1M4 30h1M6 30h1M10 30h1M14 30h1M0 31h1M16 31h1M29 31h1M38 31h1M41 31h2M46 31h1M4 32h2M12 32h1M35 32h1M39 32h1M41 32h1M47 32h1M51 32h2M0 33h1M5 33h1M8 33h1M11 33h1M35 33h1M40 33h1M51 33h1M0 34h1M2 34h1M4 34h1M6 34h1M35 34h1M39 34h1M44 34h1M48 34h1M54 34h1M1 35h1M3 35h1M18 35h1M35 35h1M38 35h1M53 35h1M3 36h1M21 36h1M35 36h2M42 36h1M18 37h1M20 37h2M34 37h1M37 37h1M39 37h2M3 38h1M18 38h4M34 38h2M40 38h1M42 38h3M52 38h1M19 39h2M32 39h3M40 39h2M48 39h1M51 39h1M53 39h2M34 40h2M37 40h1M39 40h1M41 40h2M45 40h2M49 40h1M52 40h1M32 41h3M37 41h1M46 41h1M48 41h1M51 41h1M53 41h1M19 42h1M23 42h1M37 42h1M40 42h1M29 43h2M32 43h1M37 43h1M39 43h3M52 43h2M20 44h1M34 44h1M24 45h1M29 45h1M31 45h1M33 45h1M39 45h1M22 46h1M26 46h1M35 46h2M20 47h1M22 47h2M26 47h1M28 47h5M22 48h1M24 48h1M32 48h1M21 49h1M28 49h1M23 50h1M26 50h4M35 50h2M18 51h1M25 51h2M39 51h1M41 51h1M49 51h2M25 52h1M39 52h1M43 52h2M46 52h1M48 52h1M21 53h1M25 53h1M32 53h2M38 53h2M44 53h3M27 54h1M32 54h1M43 54h1M45 54h2M49 54h2"/>
<path stroke="#8dff6a" d="M33 0h1M28 1h1M32 1h1M28 2h2M1 4h2M6 4h2M6 5h1M27 5h1M30 5h2M0 6h2M3 6h1M21 6h1M30 6h2M5 7h3M28 7h1M0 8h1M9 8h2M29 8h2M2 9h1M8 9h4M21 9h1M27 9h1M3 10h1M6 10h1M14 10h1M0 11h1M2 11h3M7 11h1M10 11h2M2 12h1M4 12h1M6 12h1M12 12h1M14 12h1M2 13h1M5 13h1M10 13h1M22 13h1M3 14h1M17 14h1M1 15h1M17 15h1M20 15h1M17 17h2M22 17h1M10 19h1M19 19h1M12 20h1M22 20h1M0 21h1M4 21h1M4 22h1M9 22h1M18 22h1M2 23h1M4 23h1M6 23h1M18 23h3M0 24h1M2 24h1M5 24h1M18 24h1M20 24h1M2 25h1M5 25h2M10 25h1M19 25h1M33 25h1M0 26h1M6 26h5M19 26h1M41 26h1M2 27h1M4 27h2M7 27h1M9 27h1M12 27h2M19 27h1M33 27h1M36 27h1M44 27h1M6 28h3M14 28h1M19 28h2M32 28h1M47 28h1M49 28h1M8 29h2M13 29h1M15 29h1M18 29h1M39 29h1M43 29h2M47 29h1M49 29h2M5 30h1M12 30h1M15 30h2M32 30h1M37 30h2M41 30h1M43 30h1M47 30h5M53 30h1M5 31h2M11 31h1M14 31h1M17 31h1M28 31h1M35 31h2M44 31h1M48 31h1M50 31h1M52 31h3M0 32h1M6 32h1M9 32h2M13 32h1M17 32h1M22 32h1M36 32h1M40 32h1M42 32h2M48 32h1M50 32h1M53 32h1M1 33h1M3 33h2M6 33h1M17 33h1M19 33h1M33 33h2M41 33h2M52 33h1M3 34h1M5 34h1M19 34h1M32 34h3M38 34h1M42 34h1M45 34h1M49 34h2M5 35h1M37 35h1M41 35h3M45 35h1M48 35h1M50 35h1M16 36h1M19 36h2M29 36h1M33 36h1M39 36h3M43 36h1M49 36h2M19 37h1M33 37h1M35 37h1M41 37h4M49 37h1M54 37h1M32 38h2M37 38h1M39 38h1M48 38h1M51 38h1M53 38h2M37 39h1M39 39h1M45 39h1M49 39h2M52 39h1M21 40h1M31 40h2M40 40h1M50 40h1M53 40h2M22 41h1M26 41h1M38 41h1M40 41h1M54 41h1M22 42h1M24 42h2M29 42h5M38 42h2M54 42h1M22 43h1M25 43h1M27 43h2M31 43h1M38 43h1M21 44h1M24 44h1M27 44h2M30 44h1M38 44h1M20 45h2M23 45h1M25 45h1M27 45h1M23 46h1M27 46h3M21 47h1M33 47h1M21 48h1M23 48h1M25 48h1M27 48h2M30 48h1M33 48h1M23 49h1M31 49h1M34 49h1M24 50h2M30 50h1M49 50h1M27 51h1M29 51h1M33 51h3M37 51h1M42 51h1M37 52h1M28 53h3M35 53h3M42 53h1M30 54h2M34 54h3M40 54h1"/>
<path stroke="#d5ff22" d="M2 0h1M25 0h3M29 0h1M32 0h1M34 0h1M20 1h1M27 1h1M29 1h1M33 1h1M35 1h1M0 2h1M4 2h1M22 2h1M31 2h1M33 2h1M35 2h1M0 3h1M2 3h2M6 3h2M20 3h1M22 3h1M29 3h1M35 3h1M3 4h3M8 4h1M20 4h1M22 4h1M24 4h1M27 4h4M32 4h3M2 5h2M5 5h1M9 5h2M12 5h2M20 5h1M22 5h1M32 5h1M34 5h1M12 6h1M20 6h1M22 6h1M26 6h1M34 6h3M1 7h1M8 7h2M11 7h2M14 7h1M22 7h1M27 7h1M30 7h2M34 7h1M36 7h1M1 8h2M6 8h1M18 8h1M22 8h1M25 8h1M34 8h1M6 9h1M13 9h3M19 9h2M25 9h1M29 9h1M2 10h1M10 10h2M17 10h1M21 10h1M24 10h3M13 11h2M18 11h1M22 11h1M25 11h2M5 12h1M13 12h1M16 12h1M19 12h2M24 12h2M19 13h2M23 13h1M25 13h1M29 13h1M20 14h2M24 14h1M27 14h1M22 15h1M24 15h1M26 15h1M16 16h1M22 16h1M20 17h2M23 17h1M20 18h1M22 18h3M26 18h1M30 18h2M34 18h2M20 19h3M26 19h1M20 20h2M24 21h1M29 21h1M33 21h1M19 22h2M24 22h1M30 22h4M27 23h1M32 23h1M35 23h3M44 23h1M52 23h1M4 24h1M6 24h1M23 24h1M29 24h1M38 24h1M42 24h2M48 24h1M51 24h1M0 25h1M7 25h2M22 25h1M27 25h1M30 25h1M38 25h1M41 25h5M51 25h1M4 26h1M29 26h1M33 26h2M39 26h1M42 26h1M44 26h2M47 26h1M52 26h1M10 27h2M21 27h1M29 27h1M37 27h1M39 27h1M43 27h1M45 27h2M53 27h1M3 28h3M10 28h1M15 28h1M29 28h1M31 28h1M33 28h1M36 28h1M40 28h2M44 28h1M46 28h1M52 28h3M4 29h1M11 29h1M14 29h1M20 29h1M28 29h1M34 29h3M38 29h1M45 29h2M52 29h1M8 30h1M11 30h1M19 30h1M21 30h1M23 30h1M27 30h1M34 30h1M39 30h2M9 31h1M18 31h1M21 31h1M31 31h1M37 31h1M39 31h1M19 32h2M27 32h2M44 32h2M7 33h1M20 33h1M26 33h1M29 33h1M31 33h1M37 33h1M43 33h2M25 34h4M30 34h2M19 35h1M24 35h1M28 35h4M39 35h1M47 35h1M23 36h1M27 36h2M30 36h1M37 36h1M45 36h2M54 36h1M28 37h2M31 37h2M47 37h1M50 37h1M52 37h2M27 38h1M31 38h1M46 38h2M49 38h1M22 39h1M26 39h1M25 40h6M21 41h1M23 41h2M30 41h1M27 42h2M25 44h2M32 45h1M21 46h1M24 46h1M26 48h1M26 49h1M32 49h2M32 51h1M33 54h1"/>
<path stroke="#f9f400" d="M0 0h1M4 0h1M6 0h2M19 0h1M23 0h1M31 0h1M2 1h1M4 1h1M21 1h2M25 1h1M31 1h1M34 1h1M37 1h1M3 2h1M30 2h1M34 2h1M37 2h1M5 3h1M10 3h1M21 3h1M23 3h2M30 3h1M9 4h3M18 4h2M21 4h1M23 4h1M31 4h1M11 5h1M15 5h1M19 5h1M24 5h1M14 6h1M24 6h1M29 6h1M37 6h1M17 7h1M19 7h2M25 7h2M33 7h1M14 8h1M17 8h1M20 8h2M31 8h2M36 8h1M18 9h1M23 9h1M26 9h1M30 9h1M19 10h1M22 10h1M27 10h2M32 10h1M12 11h1M15 11h1M20 11h1M23 11h1M29 11h1M18 12h1M22 12h1M28 12h2M31 12h1M21 13h1M24 13h1M32 13h1M34 13h1M46 13h1M25 14h1M32 14h1M23 15h1M25 15h1M27 15h1M40 15h1M51 15h1M25 16h3M43 16h1M19 17h1M25 17h1M27 17h1M34 17h1M36 17h1M21 18h1M25 18h1M27 18h1M24 19h2M32 19h1M24 20h2M29 20h2M32 20h2M20 21h1M23 21h1M26 21h1M28 21h1M31 21h1M34 21h1M41 21h2M21 22h3M36 22h2M42 22h1M47 22h1M51 22h3M23 23h1M25 23h2M30 23h2M34 23h1M38 23h2M42 23h2M46 23h1M49 23h3M24 24h1M26 24h1M28 24h1M30 24h2M39 24h2M46 24h2M49 24h1M52 24h3M4 25h1M23 25h2M26 25h1M28 25h2M31 25h1M37 25h1M39 25h1M48 25h1M52 25h3M22 26h3M28 26h1M37 26h2M43 26h1M51 26h1M6 27h1M23 27h1M30 27h1M38 27h1M40 27h1M50 27h1M54 27h1M13 28h1M21 28h1M25 28h1M34 28h1M21 29h1M24 29h3M33 29h1M53 29h1M18 30h1M24 30h1M35 30h1M44 30h1M46 30h1M19 31h2M22 31h3M27 31h1M45 31h1M23 32h2M46 32h1M22 33h1M24 33h2M27 33h1M47 33h1M21 34h2M24 34h1M46 34h1M21 35h1M25 35h3M32 35h1M46 35h1M49 35h1M24 36h1M26 36h1M23 37h1M26 37h1M23 38h1M25 38h1M28 38h2M28 39h2M23 40h1M29 41h1M27 49h1M30 51h2M29 54h1"/>
<path stroke="#ffca00" d="M3 0h1M5 0h1M12 0h1M18 0h1M21 0h2M24 0h1M30 0h1M35 0h2M38 0h1M1 1h1M5 1h1M8 1h1M18 1h2M23 1h2M5 2h2M9 2h2M16 2h1M19 2h2M23 2h1M25 2h1M4 3h1M8 3h1M17 3h1M25 3h3M31 3h2M36 3h1M38 3h1M12 4h3M16 4h1M26 4h1M35 4h2M14 5h1M17 5h2M23 5h1M35 5h4M17 6h1M25 6h1M13 7h1M15 7h2M18 7h1M32 7h1M35 7h1M40 7h1M15 8h1M26 8h1M33 8h1M35 8h1M31 9h1M33 9h1M18 10h1M31 10h1M36 10h1M19 11h1M27 11h2M30 11h3M50 11h1M23 12h1M30 12h1M33 12h1M36 12h1M17 13h1M27 13h2M31 13h1M39 13h1M26 14h1M28 14h4M40 14h1M28 15h1M38 15h1M23 16h1M45 16h1M24 17h1M30 17h2M33 17h1M37 17h1M40 17h1M28 18h2M48 18h1M51 18h1M27 19h2M30 19h2M34 19h2M23 20h1M26 20h3M31 20h1M41 20h2M22 21h1M25 21h1M27 21h1M32 21h1M35 21h1M37 21h1M51 21h4M25 22h1M27 22h1M29 22h1M34 22h2M38 22h1M43 22h1M48 22h3M24 23h1M28 23h1M45 23h1M47 23h1M53 23h1M27 24h1M40 25h1M46 25h1M25 26h3M40 26h1M46 26h1M53 26h1M22 27h1M27 27h2M22 28h3M26 28h1M30 28h1M22 29h1M26 30h1M25 31h1M25 32h2M29 34h1M25 36h1M24 37h2M27 37h1M26 38h1M30 38h1M25 39h1M35 52h1"/>
<path stroke="#ffa100" d="M1 0h1M10 0h2M14 0h1M17 0h1M37 0h1M43 0h1M0 1h1M36 1h1M38 1h1M1 2h1M7 2h1M11 2h1M14 2h1M26 2h1M36 2h1M38 2h2M9 3h1M14 3h1M16 3h1M33 3h1M37 3h1M17 4h1M25 4h1M37 4h1M25 5h2M15 6h2M19 6h1M21 7h1M37 7h1M52 7h1M16 8h1M19 8h1M16 9h2M32 9h1M34 9h3M38 9h1M49 9h1M51 9h1M15 10h2M30 10h1M33 10h1M37 10h1M43 10h1M48 10h1M53 10h1M33 11h1M35 11h1M43 11h2M32 12h1M40 12h1M30 13h1M37 13h1M40 13h2M47 13h1M50 13h1M33 14h1M37 14h3M43 14h1M45 14h1M47 14h1M50 14h1M30 15h1M39 15h1M42 15h2M48 15h2M52 15h1M54 15h1M28 16h3M32 16h2M37 16h4M44 16h1M49 16h4M29 17h1M32 17h1M35 17h1M39 17h1M41 17h1M44 17h1M50 17h2M32 18h2M39 18h1M50 18h1M54 18h1M29 19h1M33 19h1M37 19h1M40 19h1M42 19h1M49 19h1M53 19h1M35 20h1M37 20h1M40 20h1M51 20h1M36 21h1M43 21h2M47 21h1M26 22h1M44 22h2M54 22h1M29 23h1M40 23h2M48 23h1M54 23h1M25 24h1M41 24h1M45 24h1M24 27h3M27 28h1M23 29h1M27 29h1M22 30h1M25 30h1M27 39h1"/>
<path stroke="#ff7800" d="M13 0h1M15 0h1M39 0h1M42 0h1M6 1h2M9 1h3M15 1h3M39 1h1M8 2h1M13 2h1M15 2h1M17 2h2M40 2h1M11 3h2M15 3h1M19 3h1M41 3h3M15 4h1M38 4h2M42 4h2M16 5h1M39 5h1M42 5h2M54 5h1M18 6h1M38 6h1M40 6h3M48 6h1M39 7h1M41 7h1M46 7h1M37 8h5M44 8h1M46 8h1M48 8h1M51 8h1M37 9h1M39 9h1M41 9h1M52 9h2M38 10h4M45 10h1M47 10h1M50 10h3M38 11h1M40 11h1M45 11h4M53 11h1M35 12h1M37 12h1M39 12h1M42 12h1M44 12h1M46 12h3M52 12h2M33 13h1M35 13h2M42 13h2M49 13h1M54 13h1M34 14h3M41 14h1M44 14h1M46 14h1M49 14h1M51 14h1M54 14h1M31 15h1M34 15h2M41 15h1M44 15h1M47 15h1M50 15h1M24 16h1M31 16h1M34 16h3M41 16h1M47 16h2M53 16h1M28 17h1M38 17h1M43 17h1M46 17h3M52 17h3M36 18h1M41 18h1M43 18h2M46 18h2M49 18h1M52 18h1M36 19h1M39 19h1M41 19h1M43 19h1M45 19h1M50 19h1M52 19h1M36 20h1M38 20h2M43 20h1M47 20h4M52 20h1M54 20h1M40 21h1M45 21h1M49 21h2M40 22h2M46 22h1M24 38h1"/>
<path stroke="#ff4f00" d="M9 0h1M40 0h1M44 0h1M12 1h1M14 1h1M41 1h1M43 2h1M45 2h1M13 3h1M18 3h1M39 3h1M44 3h1M41 4h1M44 4h1M49 4h1M45 5h1M49 5h1M39 6h1M43 6h1M50 6h1M52 6h1M38 7h1M45 7h1M43 8h1M45 8h1M50 8h1M52 8h1M40 9h1M44 9h1M46 9h3M54 9h1M35 10h1M44 10h1M46 10h1M36 11h1M41 11h1M49 11h1M51 11h1M38 12h1M41 12h1M43 12h1M45 12h1M49 12h3M54 12h1M38 13h1M51 13h1M53 13h1M42 14h1M48 14h1M52 14h2M29 15h1M32 15h1M36 15h1M45 15h2M53 15h1M54 16h1M42 17h1M45 17h1M49 17h1M37 18h1M40 18h1M42 18h1M53 18h1M38 19h1M46 19h3M51 19h1M54 19h1M44 20h3M53 20h1M38 21h1M46 21h1M48 21h1M39 22h1"/>
<path stroke="#ff2600" d="M8 0h1M16 0h1M48 0h2M51 0h1M13 1h1M42 1h4M48 1h1M50 1h1M12 2h1M41 2h1M44 2h1M46 2h5M40 3h1M46 3h3M54 3h1M40 4h1M45 4h1M53 4h1M40 5h1M44 5h1M47 5h2M53 5h1M45 6h1M49 6h1M51 6h1M53 6h2M42 7h3M47 7h1M49 7h3M53 7h2M42 8h1M47 8h1M49 8h1M42 9h2M45 9h1M50 9h1M34 10h1M42 10h1M49 10h1M54 10h1M34 11h1M37 11h1M39 11h1M42 11h1M52 11h1M54 11h1M34 12h1M44 13h2M48 13h1M33 15h1M37 15h1M42 16h1M46 16h1M38 18h1M44 19h1"/>
<path stroke="#e40000" d="M41 0h1M45 0h3M50 0h1M40 1h1M46 1h2M49 1h1M53 1h2M42 2h1M54 2h1M45 3h1M49 3h2M52 3h1M47 4h1M50 4h3M41 5h1M46 5h1M50 5h3M46 6h2M48 7h1M53 8h1M52 13h1M45 18h1M39 21h1"/>
<path stroke="#b20000" d="M52 0h2M52 1h1M51 2h1M51 3h1M46 4h1M48 4h1M54 4h1M44 6h1M54 8h1"/>
<path stroke="#800000" d="M54 0h1M51 1h1M52 2h2M53 3h1"/>
</g></svg>
<rect x="1582.3" y="1454.9" width="12.3" height="250.5" fill="url(#jetg)"/>
<text x="1595.3" y="1514.4" font-size="25" text-anchor="start" fill="#262626">90</text>
<text x="1595.3" y="1576.7" font-size="25" text-anchor="start" fill="#262626">80</text>
<text x="1595.3" y="1639.9" font-size="25" text-anchor="start" fill="#262626">70</text>
<text x="1595.3" y="1702.2" font-size="25" text-anchor="start" fill="#262626">60</text>
<text x="1440.5" y="1452.9" font-size="36" text-anchor="middle" fill="#262626">PrairieView</text>
<svg x="1709.2" y="1453.9" width="251.5" height="251.8" viewBox="0 0 55 55" preserveAspectRatio="none">
<rect width="55" height="55" fill="#b1ff46"/>
<g transform="translate(0 .5)" stroke-width="1.06" fill="none">
<path stroke="#0000b2" d="M53 1h1"/>
<path stroke="#0006ff" d="M50 0h1M53 0h1M52 14h2"/>
<path stroke="#0032ff" d="M52 2h1M54 3h1M54 4h1M52 5h1M54 6h1M53 8h1M53 13h1"/>
<path stroke="#005eff" d="M51 0h2M54 0h1M50 1h3M54 1h1M53 2h2M50 3h2M50 5h2M53 5h2M53 6h1M48 7h2M54 7h1M53 9h1M52 10h1M54 10h1M54 12h1M54 13h1M54 14h1M54 15h1"/>
<path stroke="#008bff" d="M49 1h1M51 2h1M52 3h1M48 4h2M51 4h2M48 5h1M49 6h2M52 6h1M49 8h2M52 8h1M54 9h1M50 10h2M50 11h2M53 11h2M53 12h1M51 13h2M52 15h2M54 16h1M46 17h1M45 20h1M48 21h1M47 22h2M49 23h1M33 28h1M32 54h1"/>
<path stroke="#00b7ff" d="M49 0h1M50 2h1M48 3h2M53 3h1M47 4h1M50 4h1M53 4h1M46 5h1M49 5h1M48 6h1M51 6h1M51 7h3M46 8h3M54 8h1M49 9h2M52 9h1M53 10h1M49 11h1M52 11h1M50 12h1M52 12h1M47 13h1M50 14h1M47 18h1M47 19h1M40 20h1M48 20h1M47 21h1M49 21h1M46 22h1M47 23h1M48 26h1M51 26h1M50 27h1M50 28h1"/>
<path stroke="#00e3f9" d="M48 0h1M48 1h1M47 2h3M46 3h1M45 4h2M37 5h1M44 5h1M47 5h1M50 7h1M44 8h1M51 8h1M45 9h1M47 9h2M51 9h1M48 10h2M39 11h1M45 12h1M51 12h1M48 14h1M51 14h1M40 15h1M43 15h1M48 15h4M47 16h1M53 16h1M47 17h1M51 17h1M53 17h1M40 18h1M39 19h1M43 19h1M46 19h1M42 20h1M46 20h1M42 21h1M44 21h1M46 21h1M20 22h1M42 22h1M50 22h1M43 23h1M46 23h1M48 23h1M51 23h1M38 24h1M48 24h2M52 24h1M19 25h1M36 25h1M38 25h1M47 25h3M51 25h1M53 25h2M34 26h1M49 26h2M52 26h1M33 27h2M49 28h1M34 29h1M36 29h1M37 30h1M53 30h1M10 35h1M53 45h1M36 52h1M32 53h2M48 53h1M35 54h1M49 54h2"/>
<path stroke="#22ffd5" d="M33 0h1M44 1h1M47 1h1M36 2h1M43 2h2M36 3h1M44 3h1M47 3h1M41 5h1M43 5h1M45 5h1M38 6h1M45 6h1M47 6h1M41 7h1M45 7h1M47 7h1M41 8h1M45 8h1M41 9h1M44 9h1M47 11h1M37 12h1M49 12h1M49 13h2M36 14h1M40 14h1M45 14h2M47 15h1M51 16h1M39 17h1M50 17h1M39 18h1M41 18h1M45 18h1M48 18h1M52 18h1M41 19h1M44 19h1M48 19h1M41 20h1M43 20h2M47 20h1M49 20h1M51 20h1M39 21h1M43 21h1M45 21h1M54 21h1M39 22h1M43 22h1M45 22h1M49 22h1M51 22h1M23 23h1M36 23h1M44 23h2M53 23h1M35 24h1M39 24h1M44 24h1M46 24h1M54 24h1M21 25h1M37 25h1M43 25h1M50 25h1M52 25h1M31 26h1M33 26h1M35 26h2M47 26h1M54 26h1M35 27h2M45 27h5M34 28h4M32 29h1M35 29h1M52 29h1M35 30h1M35 31h1M33 32h1M32 38h1M33 39h1M33 40h1M52 42h1M54 42h1M54 45h1M35 49h1M34 50h1M36 50h1M37 51h1M49 51h1M47 52h2M52 52h1M54 52h1M31 53h1M34 53h2M47 53h1M50 53h2M31 54h1M33 54h2M36 54h1M51 54h1"/>
<path stroke="#46ffb1" d="M32 0h1M34 0h2M42 0h1M44 0h3M32 1h3M36 1h1M45 1h2M32 2h1M35 2h1M45 2h2M45 3h1M34 4h1M42 4h3M36 5h1M39 5h1M40 6h1M37 7h1M39 7h2M44 7h1M46 7h1M37 8h1M39 8h2M42 8h1M38 9h1M42 9h2M46 9h1M36 10h1M39 10h2M40 11h1M44 11h2M48 11h1M38 12h1M43 12h2M46 12h1M48 12h1M33 13h1M36 13h1M39 13h1M41 13h1M44 13h3M42 14h1M44 14h1M49 14h1M39 15h1M41 15h1M46 15h1M41 16h2M45 16h2M49 16h2M52 16h1M42 17h1M44 17h2M49 17h1M42 18h1M44 18h1M46 18h1M49 18h3M53 18h2M22 19h1M40 19h1M45 19h1M49 19h3M19 20h1M23 20h1M35 20h1M39 20h1M54 20h1M21 21h1M38 21h1M40 21h2M50 21h1M53 21h1M17 22h1M19 22h1M21 22h2M37 22h2M40 22h1M44 22h1M52 22h2M19 23h4M31 23h1M37 23h6M50 23h1M54 23h1M22 24h1M36 24h2M40 24h1M43 24h1M47 24h1M50 24h1M53 24h1M20 25h1M35 25h1M44 25h3M22 26h1M37 26h1M42 26h5M53 26h1M32 27h1M37 27h1M41 27h1M51 27h1M53 27h2M41 28h1M45 28h1M52 28h3M31 29h1M33 29h1M37 29h2M49 29h1M54 29h1M32 30h1M34 30h1M36 30h1M38 30h1M47 30h1M51 30h2M33 31h1M36 31h2M50 31h1M52 31h1M51 32h1M51 33h1M10 36h2M35 36h1M35 37h1M37 37h1M27 38h2M33 38h1M24 39h1M31 39h2M38 39h1M36 40h1M28 41h1M51 41h3M16 42h1M51 42h1M53 42h1M19 43h1M48 43h1M46 44h1M53 44h1M52 45h1M25 46h1M40 46h1M54 46h1M30 47h1M39 47h1M43 47h1M29 48h1M33 49h2M31 50h2M39 50h2M44 50h1M47 50h1M50 50h1M29 51h4M36 51h1M45 51h1M28 52h2M32 52h3M37 52h1M46 52h1M49 52h2M53 52h1M30 53h1M36 53h2M49 53h1M52 53h1M54 53h1M30 54h1M48 54h1M53 54h1"/>
<path stroke="#6aff8d" d="M43 0h1M47 0h1M35 1h1M37 1h1M41 1h1M43 1h1M30 2h2M33 3h3M42 3h2M35 4h3M38 5h1M42 5h1M34 6h1M37 6h1M39 6h1M42 6h1M44 6h1M46 6h1M38 7h1M42 7h1M34 8h1M38 8h1M43 8h1M30 9h1M36 9h1M34 10h1M38 10h1M41 10h2M44 10h4M37 11h1M41 11h3M46 11h1M40 12h3M47 12h1M35 13h1M40 13h1M42 13h1M35 14h1M39 14h1M41 14h1M47 14h1M37 15h1M42 15h1M45 15h1M35 16h2M38 16h3M43 16h1M48 16h1M22 17h1M28 17h1M35 17h1M43 17h1M48 17h1M52 17h1M54 17h1M34 18h1M38 18h1M43 18h1M23 19h2M28 19h1M35 19h1M42 19h1M52 19h3M24 20h1M26 20h2M38 20h1M50 20h1M18 21h3M22 21h1M25 21h1M34 21h2M37 21h1M52 21h1M18 22h1M27 22h1M35 22h2M41 22h1M54 22h1M0 23h1M16 23h3M34 23h2M52 23h1M18 24h1M20 24h2M25 24h1M30 24h3M34 24h1M41 24h2M45 24h1M51 24h1M17 25h2M23 25h1M30 25h1M33 25h2M39 25h2M42 25h1M0 26h1M18 26h1M21 26h1M26 26h1M32 26h1M38 26h1M40 26h2M22 27h1M26 27h1M30 27h2M38 27h3M44 27h1M52 27h1M30 28h3M39 28h1M44 28h1M48 28h1M51 28h1M30 29h1M40 29h2M44 29h1M50 29h1M53 29h1M31 30h1M33 30h1M49 30h2M54 30h1M8 31h1M34 31h1M39 31h2M47 31h2M51 31h1M53 31h2M32 32h1M34 32h1M47 32h1M49 32h2M54 32h1M9 33h2M12 33h1M40 33h1M46 33h1M9 34h4M34 34h1M9 35h1M11 35h1M34 35h1M36 35h1M12 36h1M26 36h1M33 36h2M36 36h2M48 36h1M10 37h1M26 37h1M33 37h2M38 37h1M49 37h2M52 37h1M10 38h1M23 38h2M26 38h1M34 38h4M10 39h1M21 39h3M25 39h1M27 39h2M35 39h1M37 39h1M21 40h1M24 40h1M27 40h1M29 40h1M32 40h1M34 40h1M37 40h1M17 41h1M21 41h1M27 41h1M20 42h1M37 42h2M48 42h1M50 42h1M1 43h1M25 43h1M54 43h1M1 44h1M48 44h1M52 44h1M54 44h1M21 45h2M24 45h2M38 45h2M50 45h2M28 46h1M38 46h1M50 46h1M53 46h1M19 47h1M27 47h1M36 47h1M38 47h1M54 47h1M33 48h1M36 48h1M48 48h1M54 48h1M36 49h1M39 49h2M42 49h1M44 49h1M49 49h1M29 50h2M33 50h1M35 50h1M43 50h1M45 50h1M48 50h1M54 50h1M26 51h1M33 51h1M35 51h1M38 51h2M43 51h1M47 51h2M50 51h3M31 52h1M35 52h1M40 52h1M45 52h1M44 53h3M53 53h1M26 54h1M29 54h1M37 54h2M47 54h1M52 54h1M54 54h1"/>
<path stroke="#8dff6a" d="M27 0h1M37 0h1M41 0h1M26 1h1M30 1h2M40 1h1M42 1h1M28 2h2M33 2h2M37 2h2M41 2h2M30 3h2M37 3h2M41 3h1M26 4h1M33 4h1M38 4h1M40 4h2M33 5h1M40 5h1M36 6h1M41 6h1M43 6h1M30 7h1M35 7h1M29 8h1M35 8h2M31 9h1M34 9h2M37 9h1M39 9h2M37 10h1M43 10h1M34 11h1M38 11h1M34 12h1M36 12h1M39 12h1M37 13h2M48 13h1M29 14h1M37 14h2M43 14h1M30 15h1M33 15h1M38 15h1M44 15h1M21 16h1M37 16h1M44 16h1M21 17h1M34 17h1M36 17h1M40 17h2M0 18h1M21 18h3M27 18h1M29 18h5M35 18h1M19 19h2M27 19h1M33 19h2M38 19h1M18 20h1M21 20h1M25 20h1M28 20h1M36 20h1M53 20h1M17 21h1M23 21h2M26 21h3M36 21h1M51 21h1M0 22h1M2 22h1M14 22h3M23 22h2M26 22h1M31 22h1M24 23h1M26 23h1M30 23h1M32 23h1M0 24h1M19 24h1M24 24h1M27 24h1M33 24h1M13 25h1M15 25h1M22 25h1M25 25h3M31 25h2M41 25h1M17 26h1M20 26h1M39 26h1M0 27h1M6 27h1M21 27h1M42 27h2M38 28h1M40 28h1M46 28h2M18 29h1M22 29h1M24 29h1M29 29h1M45 29h3M51 29h1M8 30h1M24 30h1M30 30h1M40 30h1M44 30h1M48 30h1M10 31h1M30 31h3M41 31h1M45 31h1M49 31h1M7 32h1M9 32h2M12 32h1M14 32h1M30 32h1M35 32h6M42 32h1M44 32h1M46 32h1M52 32h1M11 33h1M34 33h2M37 33h3M47 33h1M50 33h1M52 33h2M35 34h1M39 34h1M50 34h3M54 34h1M12 35h2M18 35h1M32 35h1M35 35h1M40 35h1M48 35h1M54 35h1M8 36h2M38 36h1M42 36h1M49 36h1M51 36h1M9 37h1M11 37h1M24 37h2M27 37h1M29 37h1M36 37h1M9 38h1M11 38h1M22 38h1M25 38h1M30 38h1M38 38h2M50 38h2M53 38h1M11 39h1M26 39h1M36 39h1M39 39h2M54 39h1M10 40h1M22 40h2M25 40h1M28 40h1M35 40h1M38 40h1M47 40h1M54 40h1M0 41h1M10 41h1M16 41h1M22 41h2M25 41h1M32 41h2M35 41h1M37 41h2M50 41h1M54 41h1M0 42h1M5 42h2M10 42h1M14 42h2M19 42h1M21 42h1M26 42h3M40 42h1M47 42h1M49 42h1M0 43h1M6 43h1M14 43h5M21 43h1M23 43h1M27 43h3M31 43h1M39 43h1M41 43h1M49 43h2M52 43h2M14 44h2M17 44h1M20 44h1M22 44h1M26 44h3M43 44h1M51 44h1M1 45h1M20 45h1M23 45h1M27 45h2M32 45h1M35 45h2M40 45h2M43 45h1M45 45h3M49 45h1M9 46h1M19 46h1M21 46h4M27 46h1M31 46h1M37 46h1M39 46h1M42 46h1M44 46h1M47 46h1M22 47h1M26 47h1M28 47h1M31 47h1M34 47h1M40 47h3M51 47h1M23 48h1M35 48h1M37 48h5M46 48h1M51 48h2M25 49h1M28 49h3M38 49h1M41 49h1M43 49h1M45 49h1M51 49h1M23 50h1M27 50h2M46 50h1M49 50h1M51 50h2M27 51h1M34 51h1M40 51h2M44 51h1M46 51h1M54 51h1M21 52h1M30 52h1M44 52h1M51 52h1M27 53h1M20 54h1M27 54h1M44 54h3"/>
<path stroke="#d5ff22" d="M26 0h1M28 0h1M38 0h1M28 1h2M23 2h1M26 2h1M26 3h1M28 3h2M28 4h1M24 5h3M32 5h1M25 6h2M31 6h3M29 7h1M34 7h1M36 7h1M25 8h3M31 8h3M26 9h1M28 9h1M32 9h1M15 10h1M23 10h1M25 10h2M29 10h3M15 11h2M24 11h3M28 11h1M33 11h1M22 12h1M25 12h1M35 12h1M26 13h1M32 13h1M34 13h1M18 14h1M20 14h1M33 14h1M22 15h1M29 15h1M32 15h1M20 16h1M29 16h2M32 16h2M19 17h2M24 17h1M8 18h1M19 18h1M24 18h3M0 19h2M5 19h1M7 19h1M10 19h1M14 19h2M26 19h1M36 19h1M6 20h1M12 20h1M31 20h1M12 21h2M15 21h1M29 21h2M33 21h1M5 22h1M9 22h1M13 22h1M25 22h1M29 22h1M2 23h1M4 23h1M6 23h1M12 23h2M15 23h1M25 23h1M28 23h1M1 24h1M3 24h2M7 24h3M12 24h2M15 24h1M17 24h1M23 24h1M2 25h2M10 25h1M16 25h1M28 25h2M5 26h2M12 26h1M14 26h1M24 26h1M29 26h1M5 27h1M14 27h1M23 27h1M27 27h3M0 28h1M11 28h1M13 28h1M15 28h1M18 28h1M22 28h1M25 28h2M28 28h1M43 28h1M1 29h1M7 29h1M17 29h1M20 29h1M23 29h1M43 29h1M48 29h1M0 30h1M3 30h1M6 30h1M11 30h1M23 30h1M28 30h1M42 30h1M45 30h2M0 31h1M3 31h1M24 31h1M46 31h1M5 32h1M11 32h1M15 32h1M21 32h1M0 33h1M3 33h1M5 33h1M8 33h1M14 33h1M27 33h1M29 33h2M36 33h1M2 34h1M23 34h1M28 34h1M31 34h1M40 34h1M42 34h1M46 34h1M6 35h1M14 35h2M22 35h1M25 35h2M33 35h1M37 35h1M39 35h1M42 35h1M45 35h2M0 36h1M5 36h1M7 36h1M20 36h1M23 36h2M32 36h1M40 36h1M47 36h1M54 36h1M0 37h4M8 37h1M13 37h3M17 37h2M20 37h1M39 37h1M47 37h2M53 37h2M1 38h1M8 38h1M13 38h3M19 38h1M46 38h1M48 38h1M52 38h1M3 39h1M7 39h1M14 39h2M17 39h1M19 39h1M49 39h1M53 39h1M3 40h1M12 40h1M14 40h1M16 40h1M18 40h1M40 40h2M43 40h2M49 40h2M3 41h1M5 41h1M9 41h1M12 41h2M18 41h1M24 41h1M41 41h2M47 41h1M8 42h1M13 42h1M22 42h1M25 42h1M31 42h1M35 42h2M3 43h1M10 43h1M12 43h2M26 43h1M40 43h1M43 43h1M46 43h1M2 44h1M5 44h1M29 44h1M32 44h1M36 44h1M45 44h1M47 44h1M5 45h1M7 45h2M14 45h2M18 45h2M29 45h1M37 45h1M44 45h1M48 45h1M1 46h3M5 46h1M8 46h1M15 46h1M17 46h1M30 46h1M35 46h1M41 46h1M46 46h1M3 47h2M17 47h1M21 47h1M29 47h1M47 47h2M50 47h1M53 47h1M4 48h1M6 48h1M10 48h1M19 48h1M25 48h1M42 48h1M45 48h1M5 49h1M11 49h1M21 49h1M23 49h1M32 49h1M37 49h1M50 49h1M52 49h2M19 50h1M25 50h1M38 50h1M42 50h1M20 51h2M23 51h1M25 51h1M10 52h1M14 52h2M19 52h1M38 52h1M42 52h1M14 53h2M17 53h1M19 53h2M24 53h1M39 53h1M42 53h1M12 54h1M16 54h3M21 54h2M39 54h2"/>
<path stroke="#f9f400" d="M0 0h1M2 0h1M25 0h1M29 0h1M40 0h1M23 1h1M25 2h1M1 3h1M23 3h3M24 4h1M27 4h1M27 5h2M24 6h1M29 6h2M24 7h1M27 7h1M22 9h1M27 9h1M33 9h1M16 10h2M20 10h1M27 10h1M17 11h1M22 11h1M30 11h1M32 11h1M19 12h1M23 12h2M26 12h2M29 12h1M17 13h3M23 13h1M25 13h1M28 13h1M30 13h2M24 14h1M23 15h1M31 15h1M3 16h1M18 16h1M22 16h2M25 16h1M27 16h2M0 17h3M8 17h1M11 17h1M17 17h2M27 17h1M32 17h1M1 18h1M4 18h1M6 18h2M9 18h1M13 18h1M15 18h1M17 18h1M16 19h1M32 19h1M0 20h1M2 20h1M7 20h1M9 20h3M13 20h4M0 21h1M2 21h1M5 21h1M7 21h1M10 21h1M1 22h1M7 22h1M12 22h1M5 23h1M8 23h2M10 24h1M7 25h3M11 25h1M2 26h1M7 26h2M10 26h2M15 26h1M28 26h1M7 27h1M10 27h3M15 27h1M25 27h1M5 28h1M7 28h1M10 28h1M16 28h1M0 29h1M2 29h1M5 29h1M12 29h3M19 29h1M21 29h1M42 29h1M5 30h1M12 30h2M16 30h4M1 31h1M4 31h1M6 31h1M12 31h2M23 31h1M26 31h2M29 31h1M42 31h1M44 31h1M2 32h1M4 32h1M16 32h2M20 32h1M22 32h1M28 32h2M45 32h1M48 32h1M2 33h1M4 33h1M23 33h2M44 33h1M49 33h1M3 34h3M14 34h1M21 34h1M27 34h1M29 34h1M32 34h1M44 34h1M0 35h1M3 35h2M23 35h1M27 35h1M29 35h1M2 36h3M15 36h1M21 36h2M28 36h2M45 36h2M6 37h2M16 37h1M19 37h1M43 37h3M0 38h1M4 38h1M12 38h1M16 38h1M18 38h1M40 38h2M44 38h1M54 38h1M1 39h1M5 39h2M20 39h1M41 39h1M44 39h1M46 39h1M0 40h1M6 40h2M13 40h1M19 40h1M42 40h1M1 41h1M4 41h1M6 41h1M31 41h1M40 41h1M44 41h1M3 42h1M9 42h1M12 42h1M23 42h1M30 42h1M43 42h1M45 42h1M7 43h3M11 43h1M22 43h1M35 43h2M3 44h1M9 44h1M12 44h2M30 44h2M33 44h2M41 44h1M49 44h1M3 45h1M6 45h1M10 45h1M12 45h1M16 45h1M30 45h1M42 45h1M4 46h1M6 46h2M10 46h1M14 46h1M16 46h1M33 46h2M45 46h1M0 47h1M5 47h2M8 47h3M13 47h4M2 48h2M5 48h1M15 48h4M31 48h2M53 48h1M6 49h2M10 49h1M13 49h1M16 49h1M18 49h3M13 50h2M18 50h1M53 50h1M10 51h4M19 51h1M1 52h1M4 52h2M9 52h1M11 52h1M16 52h3M23 52h2M0 53h1M13 53h1M16 53h1M25 53h1M13 54h2M19 54h1M23 54h2M41 54h1"/>
<path stroke="#ffca00" d="M21 0h2M24 0h1M0 1h2M22 1h1M24 1h1M24 2h1M2 3h1M21 4h2M30 5h1M18 7h1M23 7h1M31 7h1M23 8h1M18 9h1M20 9h2M25 9h1M8 10h1M11 10h1M14 10h1M22 10h1M24 10h1M28 10h1M12 11h1M14 11h1M20 11h1M27 11h1M29 11h1M31 11h1M4 12h1M6 12h3M13 12h1M16 12h1M18 12h1M21 12h1M31 12h1M14 13h1M16 13h1M21 13h2M24 13h1M27 13h1M4 14h1M11 14h3M15 14h1M19 14h1M21 14h1M23 14h1M25 14h1M27 14h1M3 15h1M12 15h1M21 15h1M24 15h5M2 16h1M5 16h1M7 16h1M14 16h1M24 16h1M5 17h1M13 17h1M26 17h1M3 18h1M5 18h1M14 18h1M16 18h1M4 19h1M6 19h1M8 19h2M13 19h1M3 20h2M4 21h1M6 21h1M8 21h2M11 21h1M4 22h1M6 22h1M8 22h1M11 22h1M6 24h1M11 24h1M4 25h1M6 25h1M2 27h3M2 28h1M8 28h1M12 28h1M4 29h1M9 29h3M15 29h2M1 30h1M4 30h1M9 30h1M15 30h1M21 30h2M2 31h1M5 31h1M14 31h4M19 31h1M21 31h1M13 32h1M19 32h1M24 32h1M1 33h1M15 33h1M20 33h1M22 33h1M0 34h1M17 34h3M22 34h1M25 34h2M43 34h1M16 35h1M19 35h3M24 35h1M44 35h1M16 36h1M44 36h1M4 37h2M42 37h1M2 38h1M7 38h1M45 38h1M47 38h1M0 39h1M4 39h1M42 39h2M5 40h1M2 41h1M30 41h1M33 42h1M4 45h1M13 45h1M34 45h1M11 46h1M13 46h1M1 47h2M7 47h1M11 47h2M0 48h2M7 48h3M11 48h1M13 48h2M22 48h1M3 49h2M12 49h1M15 49h1M17 49h1M27 49h1M31 49h1M3 50h2M9 50h1M12 50h1M20 50h1M3 51h1M15 51h4M3 52h1M9 53h1M12 53h1M18 53h1M22 53h2M41 53h1M9 54h2"/>
<path stroke="#ffa100" d="M1 0h1M3 0h1M17 0h1M23 0h1M5 1h1M21 1h1M1 2h1M11 2h1M0 3h1M3 3h1M12 3h1M19 3h4M2 4h1M23 4h1M21 5h1M23 5h1M19 6h5M28 6h1M6 7h1M10 7h1M19 7h1M21 7h2M5 8h1M19 8h1M24 8h1M12 9h1M14 9h3M19 9h1M23 9h2M13 10h1M18 10h2M21 10h1M7 11h1M9 11h2M13 11h1M19 11h1M10 12h1M14 12h2M17 12h1M20 12h1M30 12h1M4 13h2M7 13h2M11 13h1M15 13h1M20 13h1M1 14h1M14 14h1M16 14h2M26 14h1M28 14h1M2 15h1M4 15h4M13 15h1M15 15h6M1 16h1M10 16h1M13 16h1M15 16h1M17 16h1M26 16h1M3 17h2M6 17h2M9 17h1M12 17h1M14 17h1M25 17h1M2 18h1M12 18h1M12 19h1M1 20h1M3 21h1M10 22h1M7 23h1M10 23h2M5 24h1M5 25h1M3 26h2M9 26h1M8 27h2M4 28h1M3 29h1M14 30h1M20 30h1M18 31h1M20 31h1M28 31h1M0 32h2M3 32h1M18 32h1M25 32h3M16 33h4M21 33h1M26 33h1M15 34h2M24 34h1M5 35h1M17 35h1M17 36h2M41 37h1M3 38h1M5 38h2M43 38h1M2 39h1M18 39h1M1 40h2M33 43h2M11 44h1M11 45h1M33 45h1M12 46h1M12 48h1M1 49h2M8 49h2M14 49h1M1 50h2M11 50h1M15 50h3M1 51h1M8 51h2M14 51h1M0 52h1M2 52h1M8 52h1M12 52h2M1 53h1M3 53h1M8 53h1M10 53h2M4 54h1M8 54h1M11 54h1"/>
<path stroke="#ff7800" d="M4 0h1M18 0h2M4 1h1M6 1h1M18 1h1M0 2h1M2 2h1M7 2h1M14 2h1M19 2h2M22 2h1M10 3h1M15 3h1M18 3h1M0 4h1M3 4h1M11 4h1M13 4h1M19 4h2M7 5h1M11 5h1M22 5h1M7 6h1M5 7h1M7 7h1M12 8h1M16 8h3M20 8h3M6 9h1M9 9h1M11 9h1M13 9h1M17 9h1M5 10h3M9 10h1M12 10h1M4 11h1M6 11h1M8 11h1M18 11h1M3 12h1M5 12h1M9 12h1M11 12h1M28 12h1M0 13h2M3 13h1M6 13h1M10 13h1M13 13h1M0 14h1M2 14h2M7 14h1M9 14h2M0 15h2M10 15h2M0 16h1M4 16h1M6 16h1M12 16h1M16 16h1M19 16h1M10 17h1M15 17h2M11 18h1M2 19h2M5 20h1M3 28h1M9 28h1M8 29h1M25 33h1M20 34h1M10 44h1M0 49h1M6 50h3M10 50h1M2 51h1M4 51h1M6 52h2M2 53h1M4 53h2M7 53h1M1 54h1M5 54h2"/>
<path stroke="#ff4f00" d="M5 0h1M7 0h1M20 0h1M3 1h1M9 1h1M12 1h1M15 1h3M19 1h2M4 2h3M8 2h1M10 2h1M13 2h1M15 2h1M17 2h2M21 2h1M5 3h4M13 3h1M16 3h1M1 4h1M7 4h2M14 4h1M17 4h1M1 5h1M6 5h1M10 5h1M12 5h2M16 5h1M20 5h1M5 6h2M8 6h1M10 6h2M13 6h1M17 6h2M8 7h2M11 7h1M14 7h1M16 7h2M20 7h1M4 8h1M6 8h6M14 8h1M4 9h2M7 9h2M10 9h1M10 10h1M5 11h1M11 11h1M2 13h1M9 13h1M12 13h1M5 14h2M8 14h1M8 15h1M14 15h1M8 16h2M11 16h1M42 38h1M0 50h1M5 50h1M0 51h1M5 51h3M6 53h1M0 54h1M3 54h1M7 54h1"/>
<path stroke="#ff2600" d="M10 0h6M2 1h1M7 1h2M13 1h2M3 2h1M9 2h1M16 2h1M4 3h1M14 3h1M4 4h1M6 4h1M12 4h1M15 4h2M3 5h1M5 5h1M8 5h1M14 5h2M18 5h1M9 6h1M14 6h3M3 7h2M2 8h2M13 8h1M1 9h1M3 9h1M3 11h1M1 12h1M12 12h1"/>
<path stroke="#e40000" d="M6 0h1M8 0h2M16 0h1M11 1h1M12 2h1M9 3h1M17 3h1M5 4h1M9 4h1M18 4h1M0 5h1M2 5h1M9 5h1M19 5h1M0 6h5M12 6h1M12 7h1M15 7h1M0 8h2M15 8h1M0 9h1M2 9h1M0 10h1M2 10h3M0 11h3M0 12h1M2 12h1M9 15h1"/>
<path stroke="#b20000" d="M10 1h1M11 3h1M10 4h1M4 5h1M17 5h1M2 7h1M1 10h1M2 54h1"/>
<path stroke="#800000" d="M0 7h2M13 7h1"/>
</g></svg>
<rect x="1976.7" y="1454.9" width="12.3" height="250.5" fill="url(#jetg)"/>
<text x="1989.7" y="1528.1" font-size="25" text-anchor="start" fill="#262626">1020</text>
<text x="1989.7" y="1600.2" font-size="25" text-anchor="start" fill="#262626">1010</text>
<text x="1989.7" y="1672.2" font-size="25" text-anchor="start" fill="#262626">1000</text>
<text x="1835" y="1452.9" font-size="36" text-anchor="middle" fill="#262626">ReeseCenter</text>
<svg x="2100.5" y="1453.9" width="251.5" height="251.8" viewBox="0 0 55 55" preserveAspectRatio="none">
<rect width="55" height="55" fill="#b1ff46"/>
<g transform="translate(0 .5)" stroke-width="1.06" fill="none">
<path stroke="#0000b2" d="M3 40h1"/>
<path stroke="#0000e4" d="M48 31h1M48 33h1M51 35h1M50 36h1M1 38h1M1 39h1M2 40h1M4 40h1M51 54h1"/>
<path stroke="#0006ff" d="M44 32h6M46 34h1M53 34h1M48 37h1M49 38h1M2 39h1M0 40h1M5 40h1M2 41h4M2 42h1M4 42h1M52 50h1M47 52h1M50 53h2M49 54h2M54 54h1"/>
<path stroke="#0032ff" d="M45 30h1M52 30h1M44 31h1M47 31h1M49 31h1M53 31h1M45 33h1M52 33h1M52 34h1M6 35h1M48 35h2M52 35h1M54 35h1M6 36h1M48 36h2M51 36h4M0 37h1M7 37h1M47 37h1M50 37h2M2 38h1M7 38h2M51 38h2M0 39h1M3 39h1M50 39h2M1 40h1M54 40h1M0 41h2M49 41h1M0 42h2M54 42h1M0 43h2M6 43h1M1 44h1M54 45h1M48 48h1M52 48h1M45 49h1M51 49h1M53 49h1M49 50h3M49 51h1M51 51h1M54 51h1M45 52h1M49 52h2M54 52h1M46 53h1M49 53h1M54 53h1M52 54h1"/>
<path stroke="#005eff" d="M45 29h1M42 30h3M47 30h3M53 30h1M42 31h1M45 31h2M52 31h1M42 32h1M52 32h2M44 33h1M47 33h1M49 33h3M53 33h1M49 34h2M7 35h1M46 35h2M50 35h1M53 35h1M0 36h2M46 36h1M1 37h4M6 37h1M49 37h1M52 37h3M0 38h1M46 38h1M48 38h1M50 38h1M53 38h1M4 39h1M47 39h2M53 39h2M47 40h1M50 40h1M52 40h1M51 41h1M53 41h2M3 42h1M5 42h1M51 42h1M53 42h1M2 43h4M50 43h1M53 43h2M0 44h1M2 44h1M51 44h1M54 44h1M51 45h1M46 47h2M50 47h2M54 47h1M46 48h2M50 48h2M53 48h2M46 49h1M49 49h1M52 49h1M54 49h1M46 50h1M54 50h1M43 51h1M46 51h3M50 51h1M46 52h1M51 52h1M53 52h1M43 53h2M48 53h1M53 53h1M42 54h7M53 54h1"/>
<path stroke="#008bff" d="M33 23h1M36 26h1M44 28h1M41 29h1M44 29h1M46 29h2M53 29h1M41 30h1M46 30h1M54 30h1M39 31h3M43 31h1M50 31h2M54 31h1M41 32h1M43 32h1M50 32h1M54 32h1M42 33h2M46 33h1M54 33h1M1 34h1M5 34h1M44 34h2M47 34h2M51 34h1M54 34h1M3 35h1M5 35h1M42 35h1M44 35h2M2 36h1M5 36h1M7 36h2M45 36h1M47 36h1M5 37h1M8 37h2M45 37h1M4 38h1M47 38h1M5 39h4M49 39h1M52 39h1M6 40h1M46 40h1M48 40h2M6 41h1M46 41h3M52 41h1M6 42h1M48 42h3M52 42h1M7 43h1M51 43h2M3 44h2M6 44h2M52 44h1M49 46h3M54 46h1M39 47h1M41 47h3M52 47h1M43 48h1M49 48h1M38 49h1M47 49h2M50 49h1M47 50h1M44 51h1M52 51h1M42 52h3M48 52h1M52 52h1M8 53h1M45 53h1M47 53h1M52 53h1M5 54h1"/>
<path stroke="#00b7ff" d="M50 17h1M47 18h1M47 19h1M49 19h1M48 20h1M32 24h2M33 25h1M35 25h2M38 25h1M40 25h2M37 26h1M39 26h1M38 28h1M45 28h2M48 28h1M51 28h1M37 29h1M42 29h2M48 29h2M51 29h2M54 29h1M37 30h4M50 30h2M8 31h1M7 32h1M40 32h1M51 32h1M4 33h1M2 34h1M4 34h1M6 34h2M41 34h3M0 35h3M4 35h1M8 35h1M43 35h1M3 36h2M9 36h1M43 36h2M44 37h1M46 37h1M3 38h1M5 38h2M9 38h1M45 38h1M54 38h1M46 39h1M7 40h2M51 40h1M7 41h2M50 41h1M7 42h2M47 42h1M48 43h1M5 44h1M44 44h1M49 44h2M53 44h1M0 45h3M4 45h1M7 45h1M45 45h1M47 45h1M49 45h2M0 46h1M3 46h1M42 46h1M46 46h1M48 46h1M52 46h2M0 47h1M40 47h1M48 47h2M53 47h1M39 48h2M42 48h1M45 48h1M0 49h1M43 49h1M4 50h1M42 50h1M44 50h2M48 50h1M53 50h1M1 51h1M41 51h2M53 51h1M4 53h4M6 54h3M41 54h1"/>
<path stroke="#00e3f9" d="M47 11h2M26 14h1M51 16h1M2 17h1M49 17h1M50 18h2M0 20h1M49 20h1M53 20h1M47 21h1M49 21h1M52 21h1M33 22h1M36 22h1M42 22h1M46 22h1M53 22h1M32 23h1M36 23h1M47 23h2M34 24h2M38 24h2M32 25h1M52 25h1M34 26h1M38 26h1M41 26h1M45 26h1M49 26h1M51 26h1M39 27h2M43 27h2M48 27h1M52 27h1M36 28h1M41 28h2M38 29h3M1 31h1M5 31h1M7 31h1M38 31h1M0 32h1M2 32h1M4 32h3M38 32h2M0 33h2M5 33h1M7 33h2M40 33h2M0 34h1M10 34h1M39 34h2M9 35h1M44 38h1M9 39h2M44 39h2M53 40h1M9 41h1M45 41h1M46 42h1M47 43h1M49 43h1M45 44h2M48 44h1M3 45h1M5 45h1M46 45h1M48 45h1M52 45h2M7 46h2M39 46h2M45 46h1M45 47h1M0 48h1M41 48h1M44 48h1M1 49h1M36 49h1M40 49h1M42 49h1M44 49h1M0 50h1M3 50h1M5 50h2M8 50h1M11 50h1M37 50h1M39 50h2M3 51h3M7 51h2M45 51h1M0 52h7M40 52h1M1 53h3M9 53h1M39 53h1M41 53h2M2 54h1M4 54h1M39 54h2"/>
<path stroke="#22ffd5" d="M1 0h1M0 1h1M46 12h3M50 13h1M45 14h1M50 14h1M25 15h1M50 15h1M1 16h1M49 16h1M46 17h1M48 17h1M51 17h1M48 18h1M52 18h1M44 19h1M46 19h1M50 19h2M1 20h1M31 20h1M50 20h1M0 21h1M32 21h2M35 21h1M46 21h1M50 21h1M2 22h1M32 22h1M34 22h1M48 22h3M34 23h2M39 23h1M45 23h1M51 23h1M31 24h1M36 24h2M40 24h3M47 24h2M50 24h1M0 25h1M34 25h1M37 25h1M39 25h1M43 25h1M45 25h1M48 25h1M50 25h1M33 26h1M35 26h1M40 26h1M42 26h1M46 26h3M0 27h1M34 27h1M36 27h1M38 27h1M42 27h1M45 27h1M47 27h1M50 27h1M54 27h1M34 28h1M37 28h1M39 28h2M43 28h1M49 28h2M52 28h3M36 29h1M50 29h1M4 30h1M7 30h1M36 30h1M2 31h2M6 31h1M9 31h2M37 31h1M1 32h1M8 32h1M37 32h1M2 33h2M6 33h1M39 33h1M10 35h2M41 35h1M10 36h1M40 36h1M42 36h1M10 37h1M42 37h2M9 40h2M45 40h1M44 41h1M10 42h1M8 43h1M31 43h2M46 43h1M6 45h1M8 45h1M43 45h2M1 46h1M38 46h1M41 46h1M44 46h1M47 46h1M1 47h2M7 47h1M11 47h1M38 47h1M44 47h1M1 48h2M37 48h2M2 49h2M11 49h2M37 49h1M39 49h1M41 49h1M2 50h1M7 50h1M12 50h1M41 50h1M43 50h1M0 51h1M39 51h1M7 52h1M9 52h1M13 52h1M37 52h1M39 52h1M0 53h1M38 53h1M0 54h2M3 54h1M10 54h1M38 54h1"/>
<path stroke="#46ffb1" d="M0 0h1M2 0h1M4 0h1M52 0h1M2 1h1M4 1h2M53 1h1M0 2h2M0 3h1M0 6h1M0 10h2M48 10h2M2 11h1M28 11h1M49 11h2M49 12h1M54 12h1M26 13h2M44 13h3M48 13h1M51 13h2M54 13h1M24 14h1M44 14h1M49 14h1M51 14h4M1 15h2M47 15h1M51 15h2M0 16h1M3 16h1M25 16h2M45 16h1M47 16h2M50 16h1M52 16h3M0 17h1M3 17h1M24 17h1M27 17h1M45 17h1M47 17h1M52 17h1M54 17h1M0 18h2M3 18h1M45 18h2M49 18h1M0 19h1M2 19h1M30 19h1M43 19h1M45 19h1M48 19h1M52 19h3M2 20h1M30 20h1M32 20h1M35 20h2M46 20h2M51 20h2M1 21h2M28 21h1M30 21h2M34 21h1M36 21h1M39 21h1M45 21h1M48 21h1M51 21h1M53 21h2M0 22h1M3 22h1M31 22h1M35 22h1M39 22h3M45 22h1M47 22h1M51 22h2M1 23h2M30 23h2M37 23h2M44 23h1M46 23h1M49 23h2M52 23h1M54 23h1M44 24h1M46 24h1M49 24h1M51 24h1M31 25h1M42 25h1M47 25h1M49 25h1M51 25h1M54 25h1M0 26h1M43 26h2M50 26h1M52 26h1M2 27h2M10 27h1M35 27h1M37 27h1M41 27h1M46 27h1M51 27h1M53 27h1M0 28h4M35 28h1M47 28h1M1 29h2M33 29h1M1 30h1M6 30h1M8 30h1M10 30h1M4 31h1M36 31h1M9 32h1M13 32h1M9 33h5M37 33h2M3 34h1M8 34h2M13 34h2M38 34h1M39 35h2M12 37h1M39 37h1M11 38h2M42 38h2M12 39h1M13 40h1M43 40h2M10 41h1M42 41h1M9 42h1M11 42h1M38 42h2M43 42h2M9 43h2M30 43h1M44 43h1M9 44h1M33 44h2M41 44h1M47 44h1M41 45h2M2 46h1M4 46h1M6 46h1M9 46h1M37 46h1M43 46h1M3 47h4M8 47h3M37 47h1M3 48h1M5 48h1M8 48h1M10 48h3M5 49h4M13 49h1M1 50h1M10 50h1M2 51h1M6 51h1M9 51h1M12 51h2M38 51h1M40 51h1M8 52h1M10 52h3M38 52h1M41 52h1M10 53h2M40 53h1M9 54h1"/>
<path stroke="#6aff8d" d="M3 0h1M5 0h2M49 0h1M54 0h1M1 1h1M3 1h1M6 1h1M4 2h1M6 2h1M2 3h1M5 3h1M0 4h2M3 4h1M0 5h2M21 5h1M44 5h1M53 5h2M44 6h1M53 6h1M2 7h2M23 7h1M41 7h2M44 7h1M24 8h1M43 8h2M52 8h1M0 9h1M46 9h2M49 9h1M53 9h1M27 10h1M29 10h1M44 10h4M54 10h1M30 11h1M45 11h1M54 11h1M24 12h1M27 12h4M50 12h3M2 13h1M25 13h1M28 13h1M30 13h1M43 13h1M49 13h1M53 13h1M25 14h1M46 14h1M0 15h1M3 15h2M23 15h1M26 15h1M29 15h1M43 15h2M46 15h1M48 15h2M53 15h2M2 16h1M23 16h2M44 16h1M1 17h1M4 17h1M23 17h1M26 17h1M28 17h2M43 17h2M2 18h1M4 18h1M24 18h2M27 18h1M29 18h1M32 18h1M42 18h1M44 18h1M53 18h2M1 19h1M24 19h1M28 19h2M31 19h2M35 19h1M42 19h1M25 20h1M29 20h1M33 20h1M42 20h4M54 20h1M26 21h2M29 21h1M40 21h5M1 22h1M28 22h2M37 22h2M43 22h2M54 22h1M0 23h1M3 23h1M28 23h1M40 23h2M53 23h1M0 24h3M30 24h1M43 24h1M45 24h1M52 24h3M1 25h2M30 25h1M44 25h1M53 25h1M1 26h1M3 26h1M28 26h1M31 26h2M53 26h2M4 27h1M12 27h1M32 27h2M49 27h1M4 28h1M8 28h2M11 28h1M29 28h1M32 28h2M0 29h1M10 29h2M32 29h1M34 29h2M2 30h1M5 30h1M9 30h1M11 30h1M35 30h1M0 31h1M11 31h2M14 31h1M29 31h1M3 32h1M10 32h3M11 34h1M12 35h2M15 35h1M11 36h1M39 36h1M41 36h1M11 37h1M13 37h1M38 37h1M10 38h1M13 38h1M39 38h1M41 38h1M11 39h1M13 39h1M42 39h2M11 41h1M36 41h1M43 41h1M37 42h1M42 42h1M45 42h1M11 43h1M33 43h2M38 43h3M42 43h2M45 43h1M8 44h1M10 44h1M12 44h1M30 44h1M35 44h1M37 44h1M42 44h1M9 45h1M11 45h1M34 45h1M36 45h5M5 46h1M10 46h1M36 46h1M12 47h1M4 48h1M6 48h2M9 48h1M13 48h1M4 49h1M10 49h1M9 50h1M13 50h2M36 50h1M38 50h1M10 51h2M14 51h1M36 51h2M14 52h1M35 52h1M12 53h2M15 53h1M35 53h3M13 54h3M34 54h1M36 54h1"/>
<path stroke="#8dff6a" d="M8 0h1M53 0h1M36 1h1M50 1h1M52 1h1M3 2h1M5 2h1M53 2h1M1 3h1M4 3h1M52 3h1M5 4h1M53 4h2M2 5h1M43 5h1M45 5h1M50 5h1M52 5h1M1 6h1M3 6h1M22 6h1M24 6h1M45 6h1M1 7h1M24 7h1M45 7h2M54 7h1M1 8h3M20 8h1M25 8h2M42 8h1M48 8h1M23 9h4M43 9h3M48 9h1M51 9h1M54 9h1M25 10h1M28 10h1M50 10h1M53 10h1M0 11h2M24 11h2M44 11h1M46 11h1M51 11h1M0 12h2M25 12h2M31 12h1M45 12h1M53 12h1M0 13h1M24 13h1M29 13h1M42 13h1M47 13h1M1 14h3M23 14h1M27 14h2M24 15h1M27 15h2M45 15h1M4 16h1M27 16h2M33 16h2M43 16h1M46 16h1M25 17h1M30 17h1M33 17h3M53 17h1M5 18h1M23 18h1M28 18h1M30 18h2M35 18h1M37 18h1M43 18h1M3 19h1M26 19h2M34 19h1M36 19h1M41 19h1M3 20h1M23 20h2M26 20h3M34 20h1M37 20h1M41 20h1M3 21h1M37 21h2M5 22h1M23 22h1M26 22h1M30 22h1M25 23h1M42 23h1M3 24h1M29 24h1M9 25h1M27 25h3M46 25h1M2 26h1M4 26h1M9 26h1M30 26h1M1 27h1M11 27h1M29 27h2M10 28h1M30 28h1M3 29h6M18 29h1M28 29h2M31 29h1M0 30h1M3 30h1M29 30h2M33 30h1M21 31h1M30 31h1M14 32h1M36 32h1M14 33h2M12 34h1M15 34h2M36 34h2M14 35h1M37 35h2M12 36h2M14 37h1M40 37h2M14 39h1M11 40h1M35 40h1M41 40h1M38 41h1M31 42h1M33 42h2M41 42h1M12 43h1M29 43h1M37 43h1M41 43h1M11 44h1M32 44h1M40 44h1M43 44h1M10 45h1M35 45h1M11 46h1M35 46h1M34 47h1M36 47h1M35 48h2M9 49h1M33 49h3M17 50h1M33 50h2M35 51h1M17 52h1M36 52h1M14 53h1M16 53h2M34 53h1M11 54h2M16 54h2M19 54h1M37 54h1"/>
<path stroke="#d5ff22" d="M34 0h3M42 0h1M47 0h2M37 1h2M40 1h1M42 1h3M47 1h3M7 2h1M36 2h1M39 2h1M42 2h1M52 2h1M21 3h1M36 3h1M41 3h1M43 3h2M4 4h1M6 4h1M19 4h2M22 4h1M37 4h3M42 4h3M46 4h1M51 4h2M20 5h1M22 5h1M38 5h3M46 5h2M51 5h1M2 6h1M6 6h1M20 6h1M26 6h1M43 6h1M46 6h2M49 6h2M52 6h1M4 7h1M21 7h1M49 7h2M52 7h2M4 8h2M21 8h1M23 8h1M28 8h1M50 8h2M2 9h1M20 9h1M22 9h1M29 9h1M41 9h1M20 10h3M24 10h1M31 10h1M42 10h1M3 11h1M21 11h2M4 12h1M5 13h1M22 13h2M5 14h1M29 14h1M31 14h1M36 14h1M5 15h3M31 15h1M33 15h1M42 15h1M5 16h2M35 16h2M38 16h1M40 16h1M42 16h1M5 17h4M21 17h2M32 17h1M36 17h1M38 17h3M7 18h1M9 18h1M21 18h1M36 18h1M40 18h2M7 19h1M15 19h1M17 19h1M19 19h4M40 19h1M4 20h1M6 20h2M15 20h4M20 20h1M5 21h2M12 21h1M14 21h2M23 21h1M4 22h1M10 22h4M15 22h2M22 22h1M25 22h1M4 23h1M8 23h3M13 23h1M22 23h1M24 23h1M27 23h1M26 24h1M11 25h1M16 25h1M6 26h1M13 26h1M19 26h1M5 27h1M14 27h2M5 28h2M12 28h1M20 28h3M13 29h1M15 29h2M19 29h1M26 29h1M21 30h1M25 30h1M27 30h2M17 31h1M20 31h1M22 31h1M34 31h2M15 32h1M19 32h1M21 32h1M28 32h2M35 32h1M20 33h2M33 33h1M35 33h1M18 34h1M35 34h1M17 35h2M34 35h2M36 37h1M14 38h1M34 38h1M16 39h1M32 39h2M37 39h4M15 40h1M32 40h2M39 40h2M14 41h2M29 41h1M31 41h3M37 41h1M41 41h1M13 42h2M30 42h1M13 43h1M16 43h1M13 44h1M15 44h3M27 44h1M31 44h1M36 44h1M13 45h1M15 45h2M28 45h1M31 46h1M14 47h3M16 48h1M18 49h2M16 50h1M18 50h2M25 50h1M16 51h1M33 51h1M16 52h1M32 52h2M20 53h2M32 53h1M18 54h1M21 54h1M24 54h1M32 54h1"/>
<path stroke="#f9f400" d="M19 0h1M21 0h2M33 0h1M37 0h2M41 0h1M46 0h1M8 1h2M20 1h2M41 1h1M45 1h1M51 1h1M9 2h1M20 2h2M35 2h1M38 2h1M40 2h1M44 2h2M48 2h1M50 2h1M8 3h1M19 3h2M35 3h1M37 3h3M42 3h1M46 3h2M7 4h2M23 4h1M26 4h1M36 4h1M40 4h2M48 4h2M5 5h1M7 5h1M24 5h3M36 5h2M8 6h1M21 6h1M27 6h1M37 6h1M39 6h1M5 7h1M27 7h1M38 7h1M47 7h1M19 8h1M29 8h1M33 8h1M39 8h1M6 9h1M19 9h1M31 9h2M5 10h1M23 10h1M30 10h1M32 10h1M39 10h1M31 11h1M37 11h1M41 11h1M5 12h1M19 12h1M22 12h1M32 12h1M37 12h1M41 12h1M31 13h1M37 13h2M41 13h1M19 14h1M21 14h1M34 14h1M37 14h1M40 14h1M34 15h1M36 15h3M8 16h1M21 16h1M31 16h1M37 16h1M39 16h1M37 17h1M8 18h1M10 18h1M16 18h1M10 19h1M16 19h1M5 20h1M14 20h1M13 21h1M18 21h5M19 22h2M14 23h2M19 23h2M4 24h1M6 24h1M9 24h1M14 24h2M17 24h1M21 24h4M8 25h1M12 25h2M22 25h2M25 25h2M7 26h2M15 26h1M18 26h1M20 26h1M23 26h2M27 26h1M18 27h1M25 27h1M27 27h1M13 28h1M15 28h1M18 28h2M27 28h1M14 29h1M25 29h1M13 30h1M17 30h2M22 30h1M26 30h1M16 31h1M18 31h1M26 31h1M28 31h1M33 31h1M25 32h1M32 32h1M34 32h1M23 33h1M30 33h3M17 34h1M20 34h2M19 35h2M32 35h1M15 36h1M17 36h2M31 36h2M36 36h2M16 37h1M19 37h1M31 37h5M16 38h1M20 38h1M33 38h1M37 38h1M15 39h1M18 39h2M31 39h1M34 39h1M36 39h1M14 40h1M16 40h2M30 40h1M37 40h2M16 41h2M27 41h1M34 41h1M15 42h1M26 42h3M15 43h1M26 43h1M14 44h1M25 44h1M29 44h1M25 45h1M29 45h2M14 46h3M28 46h1M32 46h1M31 47h1M15 48h1M19 48h1M22 48h1M32 48h1M15 49h1M17 49h1M30 49h2M15 50h1M20 50h1M30 50h1M32 50h1M19 51h1M23 51h2M32 51h1M19 52h1M27 52h1M19 53h1M23 53h1M27 53h1M22 54h1"/>
<path stroke="#ffca00" d="M9 0h1M18 0h1M20 0h1M43 0h3M10 1h1M22 1h1M34 1h1M46 1h1M8 2h1M18 2h2M22 2h1M37 2h1M41 2h1M46 2h2M18 3h1M22 3h1M40 3h1M45 3h1M50 3h1M9 4h1M24 4h1M34 4h1M6 5h1M8 5h1M28 5h1M5 6h1M7 6h1M28 6h2M36 6h1M6 7h1M8 7h1M28 7h2M37 7h1M51 7h1M7 8h1M30 8h2M40 8h1M5 9h1M7 9h1M18 9h1M40 9h1M11 10h1M18 10h2M35 10h2M38 10h1M4 11h1M6 11h1M8 11h1M19 11h2M32 11h2M40 11h1M7 12h2M20 12h1M39 12h2M6 13h1M19 13h3M32 13h2M39 13h2M6 14h1M20 14h1M39 14h1M18 15h1M20 15h2M35 15h1M39 15h1M9 16h1M20 16h1M22 16h1M18 17h1M20 17h1M17 18h1M19 18h1M8 19h2M14 19h1M18 19h1M13 20h1M19 20h1M21 20h1M7 21h3M17 21h1M6 22h1M9 22h1M14 22h1M17 22h2M5 23h1M18 23h1M21 23h1M5 24h1M7 24h2M19 24h1M7 25h1M14 25h1M19 25h2M24 25h1M16 26h1M21 26h2M25 26h2M6 27h1M17 27h1M19 27h4M24 27h1M23 28h4M22 29h1M25 31h1M27 31h1M23 32h1M22 33h1M28 33h2M34 33h1M29 34h1M32 34h1M21 35h1M30 35h1M33 35h1M19 36h2M33 36h2M17 37h2M20 37h1M24 37h1M30 37h1M17 38h1M19 38h1M21 38h1M30 38h3M17 39h1M20 39h1M30 39h1M18 40h1M20 40h1M26 40h1M28 40h2M23 41h1M26 41h1M28 41h1M16 42h2M14 43h1M17 43h1M21 43h1M24 43h1M26 44h1M28 44h1M24 45h1M26 45h2M20 46h1M29 46h2M17 47h1M19 47h1M21 47h2M27 47h2M30 47h1M32 47h1M26 48h3M31 48h1M16 49h1M21 49h1M23 49h1M26 49h1M32 49h1M29 50h1M31 50h1M15 51h1M20 51h1M30 51h1M20 52h3M25 52h2M28 52h2M31 52h1M24 53h2M25 54h2M28 54h2M31 54h1"/>
<path stroke="#ffa100" d="M23 0h1M17 1h1M19 1h1M33 1h1M35 1h1M10 2h1M32 2h3M9 3h2M23 3h3M28 3h1M31 3h1M48 3h1M25 4h1M27 4h1M30 4h1M9 5h2M12 5h1M48 5h2M9 6h1M19 6h1M34 6h2M7 7h1M9 7h1M17 7h1M19 7h1M30 7h1M34 7h1M6 8h1M17 8h1M32 8h1M36 8h1M38 8h1M17 9h1M36 9h4M33 10h1M37 10h1M40 10h1M5 11h1M7 11h1M34 11h1M38 11h2M21 12h1M34 12h1M36 12h1M38 12h1M7 13h2M17 13h2M34 13h1M36 13h1M7 14h1M18 14h1M32 14h2M38 14h1M11 16h1M15 16h2M19 16h1M9 17h2M14 17h4M19 17h1M13 18h3M13 19h1M8 20h3M10 21h1M7 22h2M6 23h2M17 23h1M18 24h1M20 24h1M6 25h1M17 25h2M16 27h1M23 27h1M16 28h2M23 29h2M24 31h1M26 32h2M33 32h1M23 34h1M28 34h1M30 34h2M22 35h1M26 35h1M31 35h1M21 36h1M30 36h1M21 37h1M29 37h1M18 38h1M25 38h1M29 38h1M21 39h2M25 39h1M27 39h1M29 39h1M21 40h2M19 41h1M21 41h1M25 41h1M18 42h1M25 42h1M18 43h2M25 43h1M22 44h3M17 45h1M20 45h1M17 46h1M24 46h1M27 46h1M18 47h1M25 47h1M29 47h1M17 48h1M21 48h1M23 48h1M25 48h1M29 48h2M20 49h1M25 49h1M28 49h1M21 50h2M21 51h1M25 51h1M29 51h1M31 51h1M23 52h2M30 52h1M22 53h1M28 53h3M23 54h1"/>
<path stroke="#ff7800" d="M10 0h1M17 0h1M32 0h1M11 1h1M13 1h1M18 1h1M23 1h1M25 1h1M30 1h1M32 1h1M11 2h2M17 2h1M23 2h2M26 2h4M16 3h2M29 3h2M33 3h2M10 4h1M17 4h2M31 4h3M35 4h1M18 5h1M29 5h2M32 5h2M35 5h1M10 6h1M12 6h1M17 6h1M30 6h1M32 6h2M18 7h1M31 7h3M35 7h2M8 8h2M13 8h1M34 8h1M8 9h1M10 9h4M33 9h3M6 10h2M12 10h1M34 10h1M9 11h2M13 11h2M16 11h1M18 11h1M35 11h2M6 12h1M9 12h1M11 12h2M15 12h1M17 12h2M33 12h1M35 12h1M9 13h2M14 13h1M16 13h1M35 13h1M8 14h2M13 14h2M16 14h1M35 14h1M8 15h2M15 15h3M19 15h1M11 17h3M11 18h1M18 18h1M11 19h1M11 20h2M17 26h1M26 27h1M23 30h2M23 31h1M25 33h1M27 33h1M22 34h1M24 34h1M23 35h2M27 35h3M22 36h2M25 36h1M29 36h1M22 37h1M28 37h1M26 38h1M23 39h1M28 39h1M19 40h1M24 40h2M27 40h1M18 41h1M20 41h1M22 41h1M24 41h1M19 42h1M21 42h4M21 45h3M18 46h2M21 46h3M25 46h2M23 47h2M26 47h1M18 48h1M20 48h1M24 48h1M22 49h1M24 49h1M27 49h1M29 49h1M23 50h2M26 50h1M22 51h1M27 51h2M26 53h1M27 54h1M30 54h1"/>
<path stroke="#ff4f00" d="M11 0h2M27 0h1M31 0h1M24 1h1M26 1h4M31 1h1M13 2h3M25 2h1M30 2h2M11 3h2M15 3h1M26 3h2M32 3h1M11 4h1M28 4h2M31 5h1M34 5h1M11 6h1M13 6h1M18 6h1M31 6h1M10 7h2M15 7h2M11 8h1M14 8h1M18 8h1M35 8h1M37 8h1M16 9h1M8 10h3M13 10h1M17 10h1M17 11h1M10 12h1M11 13h3M15 13h1M10 14h1M15 14h1M17 14h1M10 15h1M13 15h1M14 16h1M17 16h2M12 18h1M12 19h1M11 21h1M24 32h1M24 33h1M26 33h1M25 34h3M25 35h1M24 36h1M26 36h3M23 37h1M27 37h1M23 38h1M28 38h1M24 39h1M26 39h1M23 40h1M20 42h1M22 43h1M18 44h4M18 45h2M20 47h1M27 50h2M26 51h1"/>
<path stroke="#ff2600" d="M14 0h1M16 0h1M24 0h2M30 0h1M12 1h1M14 1h1M16 1h1M16 2h1M13 3h2M12 4h3M11 5h1M13 5h2M17 5h1M16 6h1M12 7h1M10 8h1M12 8h1M16 8h1M9 9h1M14 9h2M14 10h3M11 11h2M15 11h1M14 12h1M16 12h1M11 14h2M11 15h1M14 15h1M10 16h1M12 16h2M25 37h2M22 38h1M24 38h1M20 43h1M23 43h1"/>
<path stroke="#e40000" d="M15 0h1M26 0h1M28 0h2M15 4h1M14 6h2M14 7h1M15 8h1M13 12h1M12 15h1M27 38h1"/>
<path stroke="#b20000" d="M13 0h1M15 1h1M15 5h2M13 7h1"/>
<path stroke="#800000" d="M16 4h1"/>
</g></svg>
<rect x="2368" y="1454.9" width="12.3" height="250.5" fill="url(#jetg)"/>
<text x="2381" y="1518.4" font-size="25" text-anchor="start" fill="#262626">170</text>
<text x="2381" y="1582.4" font-size="25" text-anchor="start" fill="#262626">160</text>
<text x="2381" y="1645.5" font-size="25" text-anchor="start" fill="#262626">150</text>
<text x="2381" y="1708.7" font-size="25" text-anchor="start" fill="#262626">140</text>
<text x="2226.2" y="1452.9" font-size="36" text-anchor="middle" fill="#262626">Riesel</text>
<svg x="137.9" y="1756.4" width="251.5" height="251.8" viewBox="0 0 55 55" preserveAspectRatio="none">
<rect width="55" height="55" fill="#0000f6"/>
<g transform="translate(0 .5)" stroke-width="1.06" fill="none">
<path stroke="#0000bb" d="M13 52h1M8 53h1"/>
<path stroke="#0000d9" d="M5 41h1M29 43h1M3 44h1M5 44h1M9 44h1M0 45h1M3 45h1M5 45h2M13 45h2M17 45h1M3 46h2M7 46h3M13 46h1M2 47h1M4 47h2M10 47h1M43 47h1M2 48h1M10 48h2M13 48h1M16 48h1M18 48h1M39 48h2M0 49h1M3 49h1M9 49h2M13 49h2M28 49h1M37 49h1M41 49h1M44 49h1M51 49h1M1 50h1M3 50h1M6 50h2M13 50h2M18 50h1M37 50h1M42 50h1M45 50h2M0 51h2M4 51h4M12 51h2M15 51h1M21 51h1M38 51h1M48 51h2M0 52h2M5 52h3M12 52h1M17 52h1M22 52h1M37 52h3M41 52h1M47 52h1M0 53h3M6 53h2M9 53h1M11 53h1M15 53h1M20 53h1M26 53h2M41 53h1M43 53h1M1 54h2M5 54h2M8 54h3M14 54h3M19 54h1M29 54h1M32 54h1M34 54h1M43 54h2"/>
<path stroke="#0003ff" d="M3 35h1M7 35h1M22 35h2M2 36h1M6 36h1M2 37h3M6 37h1M9 37h2M12 37h4M19 37h1M25 37h2M30 37h2M33 37h1M3 38h3M7 38h2M11 38h5M17 38h4M26 38h2M30 38h4M49 38h1M0 39h4M5 39h7M13 39h3M19 39h2M24 39h1M26 39h4M31 39h2M34 39h2M37 39h2M41 39h1M48 39h3M0 40h3M7 40h1M14 40h2M18 40h3M24 40h10M35 40h9M45 40h2M48 40h2M51 40h2M54 40h1M1 41h1M4 41h1M10 41h1M13 41h1M15 41h8M24 41h4M29 41h3M34 41h2M39 41h1M41 41h3M45 41h3M49 41h4M54 41h1M2 42h1M4 42h1M9 42h2M14 42h2M18 42h1M22 42h8M32 42h1M34 42h3M38 42h3M42 42h13M5 43h1M7 43h1M9 43h1M13 43h1M15 43h2M19 43h2M22 43h2M25 43h2M28 43h1M31 43h8M41 43h2M45 43h1M47 43h1M49 43h3M53 43h2M2 44h1M10 44h1M15 44h1M21 44h8M33 44h2M38 44h4M43 44h1M45 44h1M47 44h1M49 44h2M19 45h2M22 45h6M29 45h1M32 45h4M41 45h3M50 45h2M54 45h1M20 46h4M26 46h3M30 46h1M33 46h3M38 46h5M44 46h1M46 46h1M50 46h2M53 46h1M17 47h1M21 47h3M28 47h1M30 47h2M34 47h1M37 47h1M45 47h2M48 47h1M50 47h1M52 47h3M3 48h1M21 48h3M25 48h2M33 48h2M46 48h5M24 49h2M31 49h3M35 49h1M50 49h1M23 50h2M26 50h1M29 50h4M34 50h2M39 50h2M43 50h1M51 50h1M20 51h1M24 51h1M28 51h1M31 51h2M35 51h1M44 51h1M51 51h1M53 51h1M24 52h1M27 52h2M35 52h1M45 52h1M52 52h1M54 52h1M5 53h1M18 53h1M24 53h1M31 53h1M35 53h3M48 53h7M20 54h2M36 54h1M38 54h1M48 54h1M52 54h1M54 54h1"/>
<path stroke="#001dff" d="M6 30h1M2 31h1M6 31h1M8 31h2M13 31h1M17 31h1M0 32h1M3 32h1M9 32h2M12 32h1M18 32h1M20 32h1M22 32h1M0 33h2M4 33h3M18 33h3M23 33h1M26 33h1M0 34h3M4 34h1M6 34h2M9 34h3M17 34h1M19 34h6M26 34h1M30 34h1M0 35h3M4 35h3M8 35h1M10 35h4M15 35h2M18 35h1M20 35h2M25 35h2M37 35h1M0 36h2M3 36h2M7 36h26M34 36h3M38 36h1M54 36h1M0 37h2M5 37h1M7 37h2M11 37h1M16 37h3M20 37h2M23 37h2M27 37h1M29 37h1M32 37h1M34 37h3M38 37h2M41 37h1M45 37h2M48 37h2M0 38h3M6 38h1M9 38h2M16 38h1M21 38h5M28 38h2M34 38h2M37 38h6M44 38h5M50 38h1M52 38h2M16 39h3M21 39h3M25 39h1M30 39h1M33 39h1M36 39h1M39 39h2M42 39h2M45 39h3M51 39h3M16 40h2M23 40h1M44 40h1M47 40h1M50 40h1M53 40h1M23 41h1M28 41h1M32 41h2M36 41h3M53 41h1M33 42h1M37 42h1M24 43h1M39 43h1M48 43h1M20 44h1M21 45h1M34 51h1"/>
<path stroke="#0038ff" d="M3 26h1M20 26h1M1 27h1M8 27h1M21 27h1M0 28h1M7 28h1M11 28h1M15 28h1M18 28h1M20 28h2M25 28h1M0 29h1M2 29h2M5 29h1M7 29h1M9 29h1M11 29h2M15 29h1M18 29h3M24 29h1M26 29h1M0 30h6M7 30h8M17 30h1M19 30h4M25 30h1M27 30h1M0 31h1M3 31h3M7 31h1M10 31h3M14 31h1M18 31h6M28 31h3M1 32h2M4 32h5M11 32h1M13 32h2M17 32h1M19 32h1M21 32h1M23 32h1M25 32h3M29 32h2M2 33h2M7 33h1M9 33h5M15 33h1M17 33h1M21 33h2M24 33h2M29 33h1M3 34h1M5 34h1M8 34h1M12 34h4M18 34h1M25 34h1M27 34h3M33 34h1M37 34h1M40 34h1M42 34h2M9 35h1M14 35h1M17 35h1M19 35h1M24 35h1M27 35h8M38 35h6M47 35h2M33 36h1M37 36h1M39 36h12M53 36h1M22 37h1M28 37h1M37 37h1M40 37h1M42 37h3M50 37h5M36 38h1M43 38h1M51 38h1M54 38h1M44 39h1M54 39h1M21 40h2"/>
<path stroke="#0052ff" d="M4 22h2M0 23h2M4 23h3M18 23h1M24 23h1M0 24h1M2 24h1M4 24h1M18 24h1M25 24h1M0 25h2M3 25h2M7 25h1M9 25h1M11 25h1M13 25h1M16 25h1M19 25h1M23 25h1M25 25h1M0 26h3M4 26h5M10 26h1M12 26h6M19 26h1M21 26h3M25 26h3M0 27h1M2 27h6M9 27h1M12 27h5M18 27h3M22 27h2M25 27h3M2 28h4M8 28h3M14 28h1M16 28h2M19 28h1M22 28h1M24 28h1M26 28h1M29 28h2M1 29h1M4 29h1M6 29h1M8 29h1M10 29h1M13 29h2M16 29h2M21 29h3M25 29h1M27 29h2M31 29h2M15 30h2M18 30h1M23 30h2M26 30h1M28 30h4M1 31h1M15 31h2M24 31h4M31 31h1M33 31h1M35 31h1M15 32h2M24 32h1M28 32h1M31 32h8M41 32h1M8 33h1M14 33h1M16 33h1M27 33h2M30 33h5M36 33h6M43 33h2M16 34h1M31 34h2M34 34h3M38 34h2M41 34h1M46 34h3M51 34h1M53 34h1M35 35h1M44 35h3M49 35h6M51 36h2M47 37h1"/>
<path stroke="#006cff" d="M1 17h1M4 19h1M9 19h1M1 20h2M4 20h3M8 20h1M21 20h1M0 21h4M6 21h3M11 21h1M18 21h1M0 22h4M6 22h5M13 22h5M19 22h5M2 23h2M7 23h4M12 23h6M19 23h3M23 23h1M25 23h2M1 24h1M3 24h1M5 24h11M17 24h1M19 24h3M23 24h2M27 24h1M2 25h1M5 25h2M8 25h1M10 25h1M12 25h1M14 25h2M17 25h2M20 25h3M24 25h1M26 25h2M9 26h1M11 26h1M18 26h1M24 26h1M28 26h1M33 26h2M10 27h2M17 27h1M24 27h1M28 27h3M32 27h2M1 28h1M6 28h1M12 28h2M23 28h1M27 28h2M31 28h3M29 29h2M33 29h3M32 30h10M32 31h1M34 31h1M36 31h9M39 32h2M42 32h4M35 33h1M42 33h1M45 33h4M50 33h3M54 33h1M44 34h2M49 34h2M52 34h1M54 34h1M36 35h1"/>
<path stroke="#0086ff" d="M3 8h1M0 10h1M0 11h1M0 12h1M3 12h1M5 12h2M0 13h2M4 13h1M6 13h1M8 13h1M5 14h1M7 14h2M1 15h1M3 15h1M5 15h1M8 15h1M21 15h1M0 16h2M4 16h2M7 16h2M2 17h8M11 17h1M17 17h1M0 18h5M6 18h2M9 18h2M12 18h1M17 18h2M0 19h4M5 19h4M10 19h1M17 19h2M20 19h2M0 20h1M3 20h1M7 20h1M9 20h5M15 20h1M18 20h3M22 20h1M24 20h1M4 21h2M9 21h2M12 21h6M19 21h7M11 22h2M18 22h1M24 22h5M11 23h1M22 23h1M27 23h3M31 23h1M16 24h1M22 24h1M26 24h1M28 24h2M31 24h1M28 25h5M34 25h1M29 26h1M31 26h2M35 26h1M37 26h1M31 27h1M34 27h3M38 27h1M34 28h6M36 29h5M42 30h6M45 31h6M46 32h6M54 32h1M49 33h1M53 33h1"/>
<path stroke="#00a0ff" d="M4 1h1M0 2h1M0 3h2M2 4h1M1 5h1M6 5h1M0 6h1M2 6h2M5 6h1M1 7h2M0 8h1M2 8h1M6 8h2M3 9h1M5 9h1M1 10h2M5 10h1M9 10h2M1 11h2M4 11h1M6 11h4M1 12h2M4 12h1M7 12h5M2 13h2M5 13h1M7 13h1M9 13h4M0 14h5M6 14h1M9 14h1M11 14h2M15 14h2M0 15h1M2 15h1M4 15h1M6 15h2M9 15h7M20 15h1M2 16h2M6 16h1M9 16h2M12 16h3M16 16h3M22 16h1M0 17h1M10 17h1M12 17h5M18 17h3M22 17h1M5 18h1M8 18h1M11 18h1M13 18h4M19 18h5M11 19h6M19 19h1M22 19h5M14 20h1M16 20h2M23 20h1M25 20h4M26 21h5M29 22h1M32 22h1M30 24h1M32 24h1M35 24h1M33 25h1M35 25h1M30 26h1M36 26h1M38 26h2M37 27h1M39 27h3M40 28h4M41 29h7M50 29h2M48 30h4M53 30h2M51 31h4M52 32h2"/>
<path stroke="#00baff" d="M1 0h6M0 1h4M5 1h2M1 2h7M2 3h3M7 3h2M0 4h2M3 4h1M6 4h3M0 5h1M2 5h4M7 5h1M9 5h1M1 6h1M4 6h1M6 6h2M0 7h1M3 7h8M12 7h1M1 8h1M4 8h2M9 8h1M11 8h1M0 9h3M4 9h1M6 9h5M12 9h2M3 10h2M6 10h3M11 10h3M3 11h1M5 11h1M10 11h4M12 12h2M18 12h1M13 13h5M19 13h1M21 13h1M10 14h1M13 14h2M17 14h1M19 14h4M16 15h3M22 15h1M11 16h1M15 16h1M19 16h3M23 16h2M21 17h1M23 17h2M27 17h1M24 18h2M27 18h1M29 18h1M27 19h3M29 20h3M31 21h4M30 22h2M33 22h2M30 23h1M32 23h5M33 24h2M36 24h2M36 25h3M40 25h1M41 26h2M42 27h3M44 28h4M50 28h1M48 29h2M52 29h3M52 30h1"/>
<path stroke="#00d4ff" d="M0 0h1M7 0h6M14 0h1M7 1h4M12 1h2M8 2h2M11 2h1M5 3h2M9 3h2M14 3h1M16 3h1M4 4h2M9 4h2M13 4h1M8 5h1M10 5h2M8 6h6M11 7h1M13 7h1M18 7h1M8 8h1M10 8h1M12 8h3M19 8h1M11 9h1M14 9h1M16 9h1M19 9h1M14 10h3M18 10h2M14 11h3M18 11h3M24 11h1M14 12h4M19 12h5M18 13h1M20 13h1M22 13h2M26 13h1M18 14h1M23 14h2M19 15h1M23 15h2M28 15h1M25 16h5M25 17h2M28 17h2M33 17h1M26 18h1M28 18h1M30 18h3M34 18h1M30 19h2M33 19h1M32 20h4M35 21h1M35 22h5M37 23h3M38 24h4M39 25h1M41 25h2M44 25h1M40 26h1M43 26h3M48 26h1M45 27h7M53 27h1M48 28h2M51 28h4"/>
<path stroke="#07efef" d="M13 0h1M15 0h2M11 1h1M14 1h1M10 2h1M12 2h4M11 3h3M15 3h1M17 3h1M20 3h1M11 4h2M14 4h6M12 5h8M14 6h3M18 6h3M22 6h1M14 7h4M19 7h2M22 7h1M15 8h1M17 8h2M20 8h1M15 9h1M17 9h2M20 9h1M26 9h1M17 10h1M20 10h3M25 10h3M17 11h1M21 11h3M25 11h3M24 12h5M24 13h2M27 13h1M25 14h5M31 14h1M25 15h3M29 15h2M32 15h1M34 15h1M30 16h4M30 17h3M35 17h1M37 17h1M33 18h1M35 18h2M32 19h1M34 19h3M36 20h1M36 21h1M39 21h1M40 22h2M40 23h3M44 23h2M42 24h3M43 25h1M45 25h2M48 25h1M46 26h2M49 26h6M52 27h1M54 27h1"/>
<path stroke="#1cffda" d="M17 0h5M15 1h7M23 1h1M16 2h3M20 2h1M22 2h2M18 3h2M21 3h1M23 3h1M20 4h1M22 4h1M21 5h4M17 6h1M21 6h1M23 6h2M21 7h1M23 7h2M16 8h1M21 8h5M21 9h5M27 9h1M23 10h2M28 10h1M28 11h3M29 12h1M31 12h1M28 13h5M30 14h1M32 14h2M31 15h1M33 15h1M35 16h2M34 17h1M36 17h1M38 17h1M37 18h2M37 19h2M37 20h4M37 21h2M40 21h3M42 22h3M46 22h1M43 23h1M47 23h1M49 23h1M51 23h1M45 24h1M48 24h5M47 25h1M49 25h6"/>
<path stroke="#32ffc5" d="M22 0h4M22 1h1M24 1h2M19 2h1M21 2h1M24 2h2M22 3h1M24 3h3M21 4h1M23 4h3M20 5h1M25 5h1M28 5h1M25 6h3M29 6h1M25 7h3M29 7h1M26 8h3M30 8h2M28 9h1M30 9h1M29 10h3M31 11h1M30 12h1M32 12h2M33 13h1M34 14h2M35 15h3M34 16h1M37 16h1M40 17h1M39 18h1M41 18h1M39 19h4M41 20h2M45 20h1M43 21h3M45 22h1M48 22h1M50 22h2M54 22h1M46 23h1M48 23h1M50 23h1M52 23h1M46 24h2M53 24h2"/>
<path stroke="#47ffb0" d="M26 0h3M26 1h4M27 2h4M27 3h4M26 4h3M30 4h3M26 5h2M30 5h1M28 6h1M30 6h1M28 7h1M30 7h2M29 8h1M32 8h1M29 9h1M31 9h2M32 10h1M32 11h2M35 11h1M34 12h2M34 13h3M36 14h2M38 15h1M38 16h3M39 17h1M41 17h1M40 18h1M42 18h3M43 19h2M43 20h2M46 20h3M46 21h1M48 21h4M47 22h1M49 22h1M52 22h2M53 23h2"/>
<path stroke="#5cff9b" d="M29 0h5M30 1h4M26 2h1M31 2h3M31 3h2M29 4h1M33 4h1M29 5h1M31 5h4M31 6h4M32 7h3M33 8h2M33 9h2M33 10h2M36 10h1M39 10h1M34 11h1M36 11h1M36 12h2M37 13h1M39 13h1M38 14h2M41 14h2M39 15h2M42 15h1M41 16h3M42 17h3M45 18h1M47 18h1M45 19h3M51 19h1M54 19h1M49 20h1M51 20h1M53 20h2M47 21h1M52 21h3"/>
<path stroke="#71ff86" d="M34 0h1M36 0h1M34 1h3M35 2h1M33 3h2M34 4h2M35 5h3M35 6h2M35 7h2M35 8h3M35 9h4M35 10h1M37 10h1M37 11h2M38 12h1M40 12h1M38 13h1M40 13h2M40 14h1M41 15h1M43 15h2M44 16h3M49 16h1M45 17h4M50 17h3M54 17h1M46 18h1M48 18h7M48 19h3M52 19h2M50 20h1M52 20h1"/>
<path stroke="#86ff71" d="M35 0h1M37 0h1M34 2h1M36 2h1M35 3h2M36 4h2M40 4h2M38 5h2M37 6h2M37 7h2M40 7h1M38 8h2M39 9h4M38 10h1M40 10h2M39 11h2M44 11h2M39 12h1M41 12h2M45 12h1M42 13h2M45 13h1M43 14h3M45 15h3M49 15h1M47 16h2M50 16h5M49 17h1M53 17h1"/>
<path stroke="#9bff5c" d="M38 0h1M37 1h3M41 1h2M37 2h2M41 2h2M37 3h4M38 4h2M40 5h2M39 6h4M39 7h1M41 7h1M44 7h2M40 8h5M46 8h1M43 9h3M42 10h5M41 11h3M46 11h1M43 12h2M46 12h2M44 13h1M46 13h7M46 14h6M48 15h1M50 15h5"/>
<path stroke="#b0ff47" d="M39 0h4M40 1h1M45 1h1M39 2h2M43 2h1M41 3h6M42 4h2M48 4h1M42 5h2M45 5h1M48 5h1M43 6h2M47 6h1M42 7h2M46 7h2M45 8h1M47 8h1M46 9h3M47 10h3M54 10h1M47 11h7M48 12h7M53 13h2M52 14h3"/>
<path stroke="#c5ff32" d="M43 0h3M43 1h2M46 1h1M44 2h5M47 3h2M52 3h2M44 4h4M49 4h1M52 4h2M44 5h1M46 5h2M49 5h1M53 5h2M45 6h2M50 6h2M53 6h1M48 7h4M53 7h2M48 8h7M49 9h6M50 10h4M54 11h1"/>
<path stroke="#daff1c" d="M46 0h1M47 1h1M49 2h1M49 3h3M54 3h1M50 4h2M54 4h1M50 5h3M48 6h2M52 6h1M54 6h1M52 7h1"/>
<path stroke="#effe07" d="M48 1h1M50 2h2M53 2h2"/>
<path stroke="#ffe600" d="M47 0h1M52 2h1"/>
<path stroke="#ffce00" d="M48 0h1M49 1h1M54 1h1"/>
<path stroke="#ffb500" d="M50 1h1"/>
<path stroke="#ff9d00" d="M51 1h3"/>
<path stroke="#ff8500" d="M49 0h1"/>
<path stroke="#ff5500" d="M54 0h1"/>
<path stroke="#ff3c00" d="M50 0h1M53 0h1"/>
<path stroke="#d90000" d="M51 0h2"/>
</g></svg>
<rect x="405.4" y="1757.4" width="12.3" height="250.5" fill="url(#jetg)"/>
<text x="418.4" y="1843" font-size="25" text-anchor="start" fill="#262626">650</text>
<text x="418.4" y="1954.8" font-size="25" text-anchor="start" fill="#262626">600</text>
<text x="263.6" y="1755.4" font-size="36" text-anchor="middle" fill="#262626">SanAngelo</text>
<svg x="530.2" y="1756.4" width="251.5" height="251.8" viewBox="0 0 55 55" preserveAspectRatio="none">
<rect width="55" height="55" fill="#6aff8d"/>
<g transform="translate(0 .5)" stroke-width="1.06" fill="none">
<path stroke="#0006ff" d="M42 37h2"/>
<path stroke="#0032ff" d="M23 19h1M21 20h1M25 20h1M41 31h1M42 35h1M50 40h1M42 42h2"/>
<path stroke="#005eff" d="M31 13h1M17 17h1M21 17h1M21 18h3M20 19h1M20 20h1M22 20h1M24 20h1M22 21h1M41 30h1M44 32h1M41 33h2M44 33h2M42 34h2M42 36h1M44 36h1M41 37h1M45 37h1M42 38h1M44 39h2M54 39h1M45 40h1M52 41h1M51 42h1M53 42h1M50 43h2"/>
<path stroke="#008bff" d="M37 1h1M38 2h1M7 4h1M6 7h1M16 10h1M18 10h1M18 12h1M17 13h1M32 13h1M29 14h1M32 14h1M16 16h1M18 18h3M47 18h1M21 19h2M26 19h1M23 20h1M26 20h1M20 21h2M23 21h2M42 25h1M43 28h1M43 29h1M45 29h2M38 30h1M42 30h2M46 30h1M40 31h1M42 31h2M39 32h3M43 32h1M45 32h2M39 33h2M41 34h1M44 34h1M41 35h1M43 35h4M43 36h1M45 36h1M46 37h1M51 37h1M53 37h2M43 38h2M46 38h1M51 38h1M54 38h1M49 39h1M51 39h1M44 40h1M52 40h2M40 41h2M50 41h2M53 41h1M45 42h1M48 42h1M52 42h1M54 42h1M45 43h1M52 43h1M54 43h1M52 44h1"/>
<path stroke="#00b7ff" d="M36 2h1M37 3h2M17 5h1M39 5h1M38 6h1M41 6h1M7 7h1M14 7h1M5 8h2M16 8h1M48 8h1M15 9h1M17 9h1M19 9h2M51 9h1M15 11h5M37 11h1M51 11h1M12 12h1M16 12h1M19 12h2M29 12h2M32 12h2M16 13h1M23 13h1M29 13h1M34 13h1M24 14h1M28 14h1M31 14h1M17 15h1M19 15h3M23 15h1M19 16h1M21 16h1M14 17h2M18 17h1M22 17h2M26 17h1M47 17h1M14 18h1M17 18h1M24 18h1M27 18h1M48 18h1M17 19h1M19 19h1M24 19h2M27 19h1M49 19h1M18 20h2M49 20h2M15 21h1M25 21h2M48 21h1M50 21h1M34 23h1M38 23h1M34 25h1M53 25h1M39 26h1M41 26h2M35 27h1M39 27h1M42 27h2M10 28h1M12 28h1M35 28h1M40 28h1M42 28h1M44 28h1M46 28h1M11 29h2M39 29h1M41 29h2M44 29h1M40 30h1M44 30h2M37 31h3M45 31h1M38 32h1M42 32h1M37 33h2M40 34h1M49 34h1M41 36h1M46 36h1M51 36h3M44 37h1M50 37h1M41 38h1M45 38h1M47 38h1M53 38h1M41 39h1M50 39h1M52 39h2M42 40h1M46 40h2M51 40h1M54 40h1M42 41h5M49 41h1M54 41h1M41 42h1M44 42h1M50 42h1M39 43h1M41 43h2M46 43h1M14 44h1M20 44h1M40 44h1M43 44h1M50 44h2M53 44h2M39 45h1"/>
<path stroke="#00e3f9" d="M35 0h2M38 1h1M39 3h1M39 4h1M6 5h2M11 5h3M37 5h1M6 6h2M37 6h1M39 6h1M5 7h1M8 7h1M16 7h1M36 7h2M40 7h1M50 7h1M7 8h1M9 8h1M15 8h1M17 8h2M37 8h1M47 8h1M1 9h2M7 9h1M14 9h1M16 9h1M18 9h1M30 9h1M14 10h1M19 10h1M24 10h1M36 10h1M45 10h1M1 11h1M20 11h2M26 11h2M29 11h1M31 11h1M36 11h1M44 11h1M21 12h1M23 12h1M25 12h1M28 12h1M34 12h3M53 12h1M15 13h1M18 13h1M20 13h2M26 13h3M30 13h1M33 13h1M46 13h2M14 14h1M16 14h1M18 14h3M22 14h1M27 14h1M33 14h2M36 14h1M43 14h1M13 15h1M15 15h2M24 15h2M28 15h5M14 16h1M17 16h2M24 16h3M28 16h1M48 16h1M19 17h2M24 17h2M30 17h1M13 18h1M25 18h2M28 18h1M28 19h1M47 19h2M15 20h1M17 20h1M27 20h2M38 20h1M43 20h1M47 20h2M14 21h1M16 21h1M19 21h1M27 21h1M35 21h2M49 21h1M14 22h1M17 22h1M21 22h2M25 22h1M46 22h1M48 22h1M36 23h1M47 23h1M14 24h1M12 25h1M39 25h1M43 26h1M47 26h1M53 26h1M11 27h1M38 27h1M40 27h1M46 27h1M11 28h1M13 28h1M34 28h1M38 28h2M45 28h1M47 28h1M38 29h1M40 29h1M34 30h1M39 30h1M35 31h1M44 31h1M48 31h1M50 31h1M37 32h1M50 32h1M43 33h1M48 33h1M36 34h1M39 34h1M45 34h2M50 34h1M38 35h1M52 35h1M54 35h1M47 36h1M49 36h2M54 36h1M27 37h1M48 37h1M52 37h1M31 38h1M40 38h1M48 38h1M50 38h1M52 38h1M42 39h2M46 39h1M40 40h2M48 40h2M39 41h1M47 41h2M19 42h1M21 42h1M38 42h1M40 42h1M47 42h1M20 43h2M38 43h1M40 43h1M44 43h1M49 43h1M53 43h1M21 44h2M49 44h1M17 45h1M22 45h2M40 45h1M51 45h2M22 46h1M54 46h1"/>
<path stroke="#22ffd5" d="M34 0h1M37 0h5M35 1h1M37 2h1M35 3h1M40 3h1M8 4h1M16 4h1M36 4h2M5 5h1M8 5h1M10 5h1M14 5h1M35 5h2M38 5h1M5 6h1M13 6h3M18 6h1M51 6h2M10 7h1M13 7h1M15 7h1M17 7h1M38 7h2M41 7h1M49 7h1M51 7h1M54 7h1M2 8h1M8 8h1M12 8h2M19 8h1M27 8h1M30 8h1M39 8h2M49 8h2M52 8h1M0 9h1M3 9h3M11 9h1M13 9h1M22 9h1M26 9h4M35 9h2M45 9h2M50 9h1M52 9h1M1 10h1M3 10h1M12 10h2M15 10h1M20 10h4M25 10h6M32 10h1M34 10h1M37 10h1M12 11h2M22 11h1M24 11h1M28 11h1M33 11h3M43 11h1M45 11h2M0 12h1M3 12h1M5 12h1M11 12h1M15 12h1M17 12h1M24 12h1M27 12h1M31 12h1M41 12h2M44 12h2M11 13h1M14 13h1M19 13h1M35 13h2M39 13h1M42 13h1M50 13h1M52 13h1M17 14h1M21 14h1M26 14h1M30 14h1M35 14h1M40 14h1M48 14h1M53 14h2M11 15h1M14 15h1M18 15h1M22 15h1M27 15h1M34 15h3M44 15h1M12 16h2M15 16h1M20 16h1M22 16h2M27 16h1M29 16h2M32 16h2M36 16h1M13 17h1M16 17h1M27 17h2M31 17h1M37 17h1M40 17h1M48 17h2M15 18h2M29 18h1M37 18h1M49 18h1M13 19h2M16 19h1M18 19h1M38 19h1M50 19h2M14 20h1M34 20h1M36 20h2M44 20h1M51 20h1M13 21h1M18 21h1M32 21h1M37 21h1M39 21h4M46 21h1M15 22h2M19 22h2M23 22h1M32 22h1M35 22h3M39 22h2M50 22h1M54 22h1M16 23h1M20 23h3M0 24h1M12 24h1M34 24h2M41 24h1M46 24h1M49 24h2M13 25h2M16 25h1M33 25h1M40 25h1M46 25h1M48 25h3M52 25h1M10 26h2M13 26h3M17 26h1M34 26h1M44 26h3M49 26h1M51 26h2M10 27h1M12 27h2M32 27h1M34 27h1M44 27h2M47 27h1M53 27h1M18 28h1M33 28h1M36 28h1M41 28h1M10 29h1M13 29h1M17 29h1M35 29h1M47 29h1M49 29h1M11 30h2M14 30h1M11 31h1M14 31h1M46 31h2M49 31h1M34 32h1M47 32h2M52 32h1M1 33h1M46 33h2M50 33h1M0 34h1M6 34h1M38 34h1M47 34h2M52 34h2M3 35h1M39 35h1M47 35h2M50 35h1M53 35h1M28 36h1M40 36h1M48 36h1M40 37h1M47 37h1M49 37h1M32 38h1M49 38h1M15 39h1M28 39h2M35 39h3M39 39h1M48 39h1M11 40h1M29 40h1M37 40h1M39 40h1M43 40h1M17 41h1M21 41h1M24 41h1M26 41h2M37 41h1M17 42h1M20 42h1M23 42h1M39 42h1M46 42h1M49 42h1M14 43h1M18 43h1M23 43h3M43 43h1M16 44h1M18 44h2M23 44h2M41 44h1M48 44h1M14 45h1M16 45h1M18 45h1M21 45h1M41 45h1M45 45h1M47 45h1M53 45h1M16 46h1M21 46h1M40 46h1M53 46h1M14 47h1M20 47h4M27 47h1M14 48h2M16 49h1"/>
<path stroke="#46ffb1" d="M52 0h1M31 1h1M39 1h1M42 1h1M34 2h1M39 2h1M17 3h1M36 3h1M5 4h2M11 4h1M35 4h1M38 4h1M40 4h1M0 5h1M4 5h1M15 5h1M28 5h1M40 5h1M48 5h1M50 5h1M53 5h1M0 6h1M8 6h1M11 6h2M16 6h2M20 6h1M34 6h3M40 6h1M47 6h1M50 6h1M53 6h1M0 7h2M4 7h1M9 7h1M12 7h1M35 7h1M46 7h2M53 7h1M0 8h1M3 8h2M11 8h1M20 8h1M26 8h1M35 8h2M38 8h1M41 8h1M54 8h1M6 9h1M12 9h1M23 9h1M34 9h1M37 9h2M40 9h1M43 9h1M49 9h1M17 10h1M31 10h1M33 10h1M35 10h1M40 10h1M42 10h1M44 10h1M48 10h2M51 10h4M2 11h1M5 11h2M14 11h1M23 11h1M25 11h1M30 11h1M32 11h1M39 11h4M48 11h1M50 11h1M52 11h1M54 11h1M1 12h1M4 12h1M13 12h2M22 12h1M37 12h1M39 12h2M46 12h2M49 12h4M54 12h1M1 13h1M10 13h1M13 13h1M22 13h1M24 13h2M40 13h1M43 13h1M45 13h1M49 13h1M0 14h1M2 14h1M23 14h1M25 14h1M37 14h1M41 14h1M45 14h1M47 14h1M49 14h1M51 14h1M0 15h1M12 15h1M33 15h1M37 15h1M40 15h2M48 15h1M53 15h2M0 16h1M10 16h2M31 16h1M34 16h1M37 16h2M41 16h1M44 16h2M49 16h4M2 17h1M29 17h1M33 17h1M35 17h1M41 17h1M45 17h1M51 17h2M2 18h1M32 18h2M38 18h4M46 18h1M50 18h3M54 18h1M10 19h1M15 19h1M33 19h1M36 19h2M39 19h1M43 19h1M13 20h1M16 20h1M35 20h1M41 20h1M46 20h1M54 20h1M17 21h1M28 21h1M31 21h1M34 21h1M43 21h3M47 21h1M51 21h1M53 21h1M0 22h1M13 22h1M26 22h1M33 22h1M42 22h2M47 22h1M0 23h1M15 23h1M17 23h1M19 23h1M24 23h2M33 23h1M35 23h1M37 23h1M39 23h2M48 23h3M54 23h1M1 24h2M13 24h1M15 24h1M20 24h2M36 24h2M39 24h2M47 24h1M52 24h1M9 25h3M15 25h1M17 25h2M36 25h3M41 25h1M51 25h1M54 25h1M4 26h1M12 26h1M16 26h1M33 26h1M35 26h1M37 26h2M40 26h1M48 26h1M54 26h1M14 27h2M17 27h1M33 27h1M41 27h1M49 27h1M51 27h2M54 27h1M0 28h1M9 28h1M14 28h1M32 28h1M37 28h1M49 28h1M51 28h4M15 29h1M34 29h1M37 29h1M48 29h1M0 30h1M10 30h1M13 30h1M15 30h3M36 30h2M47 30h3M53 30h2M2 31h1M10 31h1M13 31h1M15 31h1M33 31h2M36 31h1M51 31h2M1 32h2M17 32h1M32 32h2M36 32h1M49 32h1M51 32h1M54 32h1M2 33h1M8 33h1M35 33h2M49 33h1M51 33h1M53 33h1M26 34h1M31 34h1M34 34h2M37 34h1M54 34h1M2 35h1M36 35h2M40 35h1M49 35h1M51 35h1M3 36h1M6 36h1M30 36h1M37 36h1M4 37h1M28 37h1M33 37h1M35 37h2M39 37h1M15 38h1M17 38h1M26 38h3M33 38h1M38 38h1M11 39h1M26 39h2M32 39h2M38 39h1M40 39h1M47 39h1M16 40h2M22 40h2M25 40h2M28 40h1M30 40h1M34 40h3M38 40h1M16 41h1M18 41h2M23 41h1M28 41h2M36 41h1M38 41h1M12 42h1M14 42h3M18 42h1M22 42h1M24 42h1M26 42h3M11 43h1M15 43h3M19 43h1M22 43h1M47 43h1M12 44h1M17 44h1M25 44h1M38 44h2M42 44h1M44 44h3M11 45h1M13 45h1M20 45h1M24 45h1M36 45h1M43 45h2M46 45h1M48 45h1M50 45h1M54 45h1M12 46h1M17 46h3M23 46h2M39 46h1M51 46h1M16 47h1M18 47h2M24 47h1M28 47h1M40 47h1M21 48h1M24 48h2M18 49h2M19 50h2"/>
<path stroke="#8dff6a" d="M12 0h1M17 0h2M21 0h4M31 0h1M33 0h1M42 0h1M17 1h1M24 1h1M29 1h2M32 1h1M40 1h1M47 1h1M51 1h1M12 2h1M14 2h1M16 2h1M18 2h3M27 2h2M33 2h1M43 2h1M51 2h2M54 2h1M1 3h1M5 3h1M7 3h1M15 3h2M21 3h1M27 3h1M33 3h2M42 3h1M45 3h1M49 3h2M1 4h4M10 4h1M20 4h1M26 4h1M29 4h1M41 4h1M44 4h1M48 4h2M53 4h1M21 5h1M25 5h1M31 5h1M34 5h1M42 5h1M44 5h1M51 5h1M4 6h1M25 6h1M28 6h2M44 6h2M2 7h1M11 7h1M18 7h1M21 7h2M24 7h1M26 7h4M31 7h1M34 7h1M44 7h2M52 7h1M22 8h1M24 8h1M31 8h1M34 8h1M42 8h1M44 8h1M46 8h1M4 10h3M10 10h2M39 10h1M41 10h1M46 10h2M50 10h1M3 11h1M53 11h1M8 12h2M0 13h1M2 13h1M4 13h1M6 13h3M38 13h1M51 13h1M54 13h1M4 14h1M11 14h1M46 14h1M52 14h1M3 15h1M6 15h2M47 15h1M49 15h1M9 16h1M39 16h1M42 16h1M47 16h1M0 17h2M7 17h1M12 17h1M42 17h1M0 18h1M3 18h1M30 18h1M34 18h1M43 18h1M1 19h2M30 19h1M35 19h1M44 19h1M52 19h1M54 19h1M0 20h1M2 20h2M10 20h1M30 20h1M32 20h1M42 20h1M10 21h2M33 21h1M5 22h1M11 22h2M28 22h2M38 22h1M45 22h1M2 23h1M4 23h2M12 23h2M23 23h1M41 23h1M44 23h1M3 24h1M5 24h1M7 24h1M9 24h1M23 24h1M25 24h1M28 24h1M31 24h1M43 24h1M0 25h3M4 25h1M7 25h1M19 25h2M28 25h3M6 26h4M18 26h2M31 26h1M36 26h1M2 27h1M6 27h3M16 27h1M23 27h1M25 27h1M27 27h1M36 27h1M1 28h2M21 28h1M26 28h4M31 28h1M1 29h1M19 29h1M28 29h2M31 29h1M51 29h1M54 29h1M9 30h1M19 30h1M24 30h1M28 30h1M30 30h1M33 30h1M52 30h1M1 31h1M16 31h1M22 31h2M31 31h2M53 31h1M8 32h1M11 32h2M14 32h3M18 32h1M24 32h1M26 32h4M3 33h1M6 33h1M10 33h1M15 33h2M25 33h1M28 33h1M33 33h1M2 34h1M5 34h1M7 34h1M10 34h1M15 34h1M19 34h1M21 34h1M25 34h1M27 34h1M0 35h1M4 35h1M6 35h1M16 35h1M24 35h1M26 35h1M28 35h1M30 35h2M33 35h1M5 36h1M13 36h1M16 36h2M22 36h1M24 36h3M29 36h1M33 36h2M39 36h1M3 37h1M5 37h1M9 37h1M22 37h1M24 37h1M26 37h1M30 37h2M37 37h1M1 38h1M7 38h1M10 38h1M13 38h1M16 38h1M21 38h1M23 38h2M30 38h1M39 38h1M1 39h1M6 39h1M18 39h1M22 39h1M25 39h1M30 39h1M6 40h1M12 40h1M19 40h1M21 40h1M32 40h1M5 41h2M8 41h1M13 41h1M31 41h1M35 41h1M5 42h1M9 42h1M13 42h1M30 42h3M5 43h2M27 43h2M30 43h1M32 43h1M37 43h1M48 43h1M13 44h1M28 44h1M32 44h1M35 44h1M47 44h1M26 45h2M29 45h1M38 45h1M10 46h1M20 46h1M25 46h1M27 46h4M41 46h1M44 46h2M49 46h1M52 46h1M11 47h3M39 47h1M48 47h1M50 47h4M18 48h2M29 48h1M32 48h1M36 48h1M40 48h1M52 48h3M17 49h1M22 49h2M27 49h2M33 49h1M51 49h1M16 50h2M23 50h1M27 50h1M34 50h1M36 50h1M21 51h1M23 54h1"/>
<path stroke="#b1ff46" d="M8 0h1M11 0h1M13 0h4M20 0h1M25 0h2M28 0h2M43 0h3M47 0h3M53 0h2M6 1h1M8 1h4M13 1h2M18 1h1M20 1h2M23 1h1M25 1h1M27 1h2M48 1h1M50 1h1M53 1h2M2 2h2M8 2h2M13 2h1M15 2h1M25 2h2M30 2h3M44 2h1M53 2h1M2 3h2M10 3h1M13 3h2M18 3h1M28 3h2M32 3h1M0 4h1M12 4h1M14 4h1M19 4h1M25 4h1M27 4h2M32 4h1M46 4h2M2 5h1M20 5h1M23 5h1M27 5h1M30 5h1M33 5h1M43 5h1M45 5h3M3 6h1M22 6h3M27 6h1M30 6h1M33 6h1M43 6h1M32 7h1M43 7h1M25 8h1M45 8h1M42 9h1M38 10h1M7 11h3M47 11h1M5 13h1M3 14h1M5 14h4M50 14h1M5 15h1M8 15h1M4 16h1M8 16h1M3 17h2M6 17h1M9 17h1M38 17h1M5 18h1M10 18h3M45 18h1M5 19h2M8 19h1M34 19h1M42 19h1M1 20h1M7 20h1M9 20h1M11 20h1M2 21h3M7 21h1M9 21h1M1 22h1M9 22h1M30 22h1M3 23h1M7 23h4M28 23h3M43 23h1M4 24h1M6 24h1M8 24h1M26 24h1M44 24h1M3 25h1M8 25h1M21 25h1M23 25h3M27 25h1M0 26h2M21 26h1M25 26h3M29 26h2M4 27h2M20 27h2M31 27h1M4 28h2M7 28h2M19 28h2M23 28h2M2 29h1M8 29h1M20 29h3M25 29h3M30 29h1M2 30h1M6 30h1M23 30h1M25 30h2M29 30h1M32 30h1M3 31h1M8 31h2M19 31h2M27 31h2M30 31h1M13 32h1M19 32h1M23 32h1M30 32h1M9 33h1M13 33h1M24 33h1M27 33h1M31 33h1M4 34h1M8 34h2M13 34h2M24 34h1M28 34h2M33 34h1M8 35h1M14 35h2M17 35h1M23 35h1M25 35h1M27 35h1M29 35h1M0 36h1M7 36h1M12 36h1M18 36h1M21 36h1M23 36h1M31 36h1M0 37h1M7 37h2M11 37h1M13 37h1M17 37h1M21 37h1M23 37h1M2 38h5M8 38h1M19 38h1M2 39h1M4 39h1M8 39h1M10 39h1M12 39h3M20 39h2M1 40h1M5 40h1M7 40h3M13 40h1M0 41h1M7 41h1M9 41h2M12 41h1M32 41h2M6 42h1M8 42h1M33 42h4M4 43h1M8 43h3M29 43h1M33 43h2M36 43h1M4 44h1M6 44h1M8 44h2M11 44h1M31 44h1M34 44h1M3 45h1M8 45h3M33 45h3M8 46h1M15 46h1M31 46h1M33 46h1M42 46h2M48 46h1M26 47h1M29 47h3M33 47h1M38 47h1M49 47h1M2 48h1M13 48h1M16 48h1M26 48h1M31 48h1M34 48h2M37 48h3M50 48h1M13 49h1M15 49h1M29 49h1M31 49h2M34 49h1M36 49h1M40 49h1M12 50h1M15 50h1M18 50h1M26 50h1M32 50h1M35 50h1M39 50h1M18 51h1M20 51h1M22 51h1M24 51h1M26 51h1M35 51h1M51 51h1M17 52h1M35 52h1M51 52h1M16 53h1M22 53h1M24 53h2M34 53h1M49 53h1M25 54h1"/>
<path stroke="#d5ff22" d="M4 0h4M9 0h2M27 0h1M30 0h1M3 1h1M7 1h1M12 1h1M16 1h1M19 1h1M26 1h1M45 1h1M49 1h1M1 2h1M5 2h3M21 2h2M46 2h3M50 2h1M20 3h1M22 3h3M30 3h1M41 3h1M44 3h1M46 3h3M22 4h3M31 4h1M33 4h1M43 4h1M22 5h1M24 5h1M21 6h1M31 6h2M23 7h1M25 7h1M30 7h1M33 7h1M49 11h1M6 12h1M6 16h2M5 17h1M8 17h1M10 17h1M4 18h1M7 18h1M9 18h1M4 19h1M9 19h1M11 19h1M0 21h2M5 21h2M8 21h1M3 22h2M6 22h1M8 22h1M6 23h1M26 25h1M20 26h1M24 26h1M28 26h1M26 27h1M28 27h1M30 27h1M3 28h1M22 28h1M25 28h1M30 28h1M3 29h1M7 29h1M23 29h1M8 30h1M20 30h2M27 30h1M4 31h4M17 31h1M21 31h1M25 31h2M4 32h3M10 32h1M20 32h1M11 33h2M18 33h1M20 33h1M11 34h2M17 34h1M20 34h1M12 35h1M19 35h2M22 35h1M9 36h1M11 36h1M15 36h1M19 36h2M27 36h1M6 37h1M10 37h1M12 37h1M9 38h1M11 38h2M20 38h1M22 38h1M36 38h1M9 39h1M19 39h1M0 40h1M3 40h1M3 41h2M4 42h1M7 42h1M35 43h1M7 44h1M10 44h1M29 44h2M31 45h2M6 46h1M9 46h1M34 46h1M1 47h3M6 47h1M9 47h2M32 47h1M35 47h1M41 47h1M45 47h2M12 48h1M27 48h1M30 48h1M33 48h1M41 48h1M51 48h1M2 49h1M12 49h1M25 49h1M30 49h1M37 49h2M41 49h1M52 49h1M54 49h1M24 50h1M30 50h1M33 50h1M37 50h2M50 50h1M52 50h1M19 51h1M23 51h1M25 51h1M27 51h1M36 51h3M19 52h1M23 52h4M37 52h1M52 52h1M15 53h1M23 53h1M26 53h1M28 53h1M36 53h1M47 53h1M50 53h1M52 53h1M21 54h1M24 54h1M33 54h3M48 54h3"/>
<path stroke="#f9f400" d="M1 0h1M2 1h1M4 1h2M15 1h1M46 1h1M4 2h1M45 2h1M0 3h1M4 3h1M21 4h1M26 6h1M8 18h1M7 19h1M4 20h1M6 20h1M8 20h1M2 22h1M7 22h1M29 27h1M4 29h1M24 29h1M3 30h1M7 30h1M22 32h1M14 33h1M21 33h1M23 33h1M18 34h1M22 34h2M9 35h2M18 35h1M21 35h1M8 36h1M10 36h1M14 36h1M20 37h1M2 40h1M1 41h2M3 43h1M7 43h1M31 43h1M2 44h2M5 44h1M33 44h1M2 45h1M4 45h2M7 45h1M2 46h1M4 46h2M35 46h1M42 47h3M47 47h1M1 48h1M10 48h2M42 48h1M46 48h1M1 49h1M11 49h1M50 49h1M53 49h1M1 50h1M28 50h2M31 50h1M40 50h1M49 50h1M51 50h1M53 50h2M1 51h2M17 51h1M31 51h1M39 51h1M41 51h1M50 51h1M13 52h1M15 52h2M20 52h1M22 52h1M27 52h1M34 52h1M36 52h1M46 52h1M49 52h2M53 52h1M35 53h1M37 53h1M39 53h1M51 53h1M54 53h1M16 54h2M20 54h1M22 54h1M26 54h1M32 54h1M36 54h1M38 54h3M45 54h2M51 54h1M53 54h1"/>
<path stroke="#ffca00" d="M0 0h1M2 0h2M1 1h1M0 2h1M5 29h2M4 30h2M22 30h1M21 32h1M22 33h1M11 35h1M0 42h4M0 43h1M0 44h1M0 45h2M6 45h1M0 46h1M3 46h1M4 47h1M8 47h1M34 47h1M0 48h1M3 48h1M6 48h1M9 48h1M44 48h2M47 48h3M3 49h1M10 49h1M46 49h1M48 49h1M2 50h1M11 50h1M13 50h2M41 50h2M46 50h1M48 50h1M3 51h1M14 51h3M32 51h3M46 51h1M52 51h3M0 52h1M2 52h1M18 52h1M21 52h1M33 52h1M38 52h4M48 52h1M54 52h1M2 53h1M14 53h1M17 53h1M19 53h2M27 53h1M33 53h1M38 53h1M40 53h1M46 53h1M48 53h1M1 54h2M15 54h1M19 54h1M27 54h1M47 54h1M52 54h1"/>
<path stroke="#ffa100" d="M0 1h1M6 28h1M19 33h1M1 43h1M1 44h1M1 46h1M7 46h1M0 47h1M5 47h1M7 47h1M4 48h2M7 48h1M43 48h1M0 49h1M5 49h1M9 49h1M42 49h1M47 49h1M0 50h1M4 51h1M10 51h1M12 51h2M28 51h2M40 51h1M45 51h1M47 51h3M1 52h1M14 52h1M28 52h1M30 52h1M45 52h1M47 52h1M0 53h2M13 53h1M18 53h1M21 53h1M32 53h1M43 53h3M53 53h1M3 54h1M18 54h1M31 54h1M41 54h2M54 54h1"/>
<path stroke="#ff7800" d="M2 43h1M8 49h1M43 49h3M49 49h1M3 50h2M6 50h1M9 50h2M47 50h1M5 51h2M9 51h1M11 51h1M30 51h1M43 51h1M3 52h3M9 52h2M31 52h2M43 52h2M3 53h3M8 53h1M11 53h2M29 53h3M41 53h2M12 54h3M28 54h3M37 54h1M43 54h1"/>
<path stroke="#ff4f00" d="M8 48h1M4 49h1M6 49h1M5 50h1M43 50h1M45 50h1M0 51h1M7 51h1M44 51h1M6 52h3M12 52h1M29 52h1M7 53h1M9 53h1M0 54h1M4 54h1M8 54h1M11 54h1M44 54h1"/>
<path stroke="#ff2600" d="M7 49h1M8 50h1M44 50h1M42 51h1M42 52h1M10 53h1M7 54h1M9 54h2"/>
<path stroke="#e40000" d="M7 50h1M8 51h1M11 52h1M6 53h1M5 54h2"/>
</g></svg>
<rect x="797.7" y="1757.4" width="12.3" height="250.5" fill="url(#jetg)"/>
<text x="810.7" y="1824.4" font-size="25" text-anchor="start" fill="#262626">40</text>
<text x="810.7" y="1915.9" font-size="25" text-anchor="start" fill="#262626">20</text>
<text x="810.7" y="2008.2" font-size="25" text-anchor="start" fill="#262626">0</text>
<text x="656" y="1755.4" font-size="36" text-anchor="middle" fill="#262626">Sellerslake</text>
<svg x="922.7" y="1756.4" width="251.5" height="251.8" viewBox="0 0 55 55" preserveAspectRatio="none">
<rect width="55" height="55" fill="#6aff8d"/>
<g transform="translate(0 .5)" stroke-width="1.06" fill="none">
<path stroke="#000080" d="M54 24h1"/>
<path stroke="#0000b2" d="M38 52h1"/>
<path stroke="#0000e4" d="M49 0h1M53 2h1M53 10h1M48 29h1M48 30h1M54 38h1M1 47h1M36 54h1"/>
<path stroke="#0006ff" d="M50 2h3M52 3h1M54 3h1M54 10h1M51 16h2M54 16h1M51 17h3M52 18h1M54 18h1M52 19h2M53 20h1M51 21h1M54 21h1M50 22h1M52 22h2M51 23h4M51 24h2M54 25h1M54 26h1M48 28h1M50 28h1M47 29h1M49 29h1M47 30h1M50 32h1M50 33h1M52 33h1M51 34h1M54 34h1M53 35h1M51 37h1M53 37h1M34 44h1M2 47h1M0 48h1M6 48h1M35 48h1M0 49h1M5 49h1M34 51h1M37 51h2M37 52h1M34 53h1M37 53h2M35 54h1"/>
<path stroke="#0032ff" d="M48 0h1M50 0h2M50 1h4M49 3h2M53 3h1M50 5h1M52 11h1M53 13h1M52 14h2M53 15h1M48 16h1M54 17h1M51 18h1M50 20h3M54 20h1M52 21h1M49 23h1M53 26h1M49 27h1M52 27h2M51 28h2M51 29h1M54 30h1M49 31h1M51 31h2M51 32h2M54 32h1M51 33h1M54 33h1M52 35h1M54 35h1M51 36h1M54 36h1M52 37h1M54 37h1M34 39h1M54 39h1M33 40h1M36 40h1M51 40h1M36 44h1M35 45h1M2 46h1M34 46h1M0 47h1M1 48h1M1 49h2M7 49h1M36 49h1M1 50h2M34 50h1M37 50h2M1 51h1M36 51h1M39 51h1M39 52h2M0 53h1M35 53h1M1 54h2M34 54h1M38 54h1"/>
<path stroke="#005eff" d="M52 0h3M48 1h2M54 1h1M49 4h1M53 4h2M53 11h1M53 12h2M52 13h1M54 13h1M51 14h1M51 15h2M47 16h1M49 16h2M46 17h2M50 17h1M47 18h1M49 18h2M53 18h1M48 19h1M50 19h2M54 19h1M48 20h2M49 21h1M53 21h1M51 22h1M54 22h1M50 23h1M50 24h1M51 25h3M51 26h2M48 27h1M51 27h1M49 28h1M53 29h2M29 30h1M49 30h1M53 30h1M47 31h1M49 32h1M53 32h1M34 33h1M53 33h1M31 34h2M52 34h2M33 36h1M52 36h2M35 37h1M34 38h1M36 39h1M52 39h2M34 40h1M37 40h1M52 40h1M35 41h1M32 42h1M31 43h2M31 44h1M31 45h1M33 45h2M35 46h1M38 46h1M4 47h2M5 48h1M7 48h1M34 48h1M36 48h1M3 49h1M34 49h2M37 49h4M0 50h1M4 50h1M6 50h1M35 50h2M39 50h1M2 52h2M8 52h1M2 53h1M36 53h1M39 53h2M0 54h1M3 54h1M37 54h1"/>
<path stroke="#008bff" d="M47 0h1M47 1h1M49 2h1M54 2h1M47 3h2M48 4h1M51 4h1M51 5h1M53 7h1M53 9h1M52 10h1M54 11h1M51 13h1M54 14h1M43 15h2M49 15h2M54 15h1M42 16h1M53 16h1M48 17h2M49 19h1M50 21h1M48 22h2M24 24h1M49 24h1M53 24h1M48 26h2M50 27h1M25 28h1M46 28h1M53 28h1M46 29h1M52 29h1M30 30h1M45 30h2M52 30h1M48 31h1M50 31h1M53 31h2M47 32h2M32 33h2M47 33h1M49 33h1M34 34h1M32 35h2M49 35h3M35 36h1M49 36h2M33 37h1M50 37h1M35 38h2M51 38h3M33 39h1M35 39h1M37 39h1M35 40h1M50 40h1M53 40h2M2 41h1M32 41h3M37 41h1M26 42h1M33 42h1M35 42h1M33 43h1M35 43h1M1 44h2M35 44h1M37 44h1M0 45h1M2 45h1M30 45h1M36 45h1M0 46h2M3 46h1M5 46h2M30 46h3M36 46h2M3 47h1M6 47h1M8 47h1M30 47h1M35 47h1M37 47h2M2 48h3M8 48h1M37 48h1M4 49h1M6 49h1M32 49h2M3 50h1M5 50h1M7 50h1M40 50h1M3 51h2M33 51h1M35 51h1M40 51h1M1 52h1M7 52h1M34 52h2M1 53h1M3 53h1M5 54h1M33 54h1M39 54h1"/>
<path stroke="#00b7ff" d="M47 2h2M51 3h1M50 4h1M52 4h1M53 5h1M50 6h1M53 6h1M49 7h1M52 9h1M54 9h1M51 12h2M42 14h1M44 14h1M49 14h2M41 15h1M45 16h2M48 18h1M47 21h1M21 23h1M20 24h1M48 24h1M25 25h1M49 25h2M25 26h2M50 26h1M24 27h2M54 27h1M26 28h1M47 28h1M43 29h1M45 29h1M50 29h1M50 30h2M28 31h1M46 31h1M30 32h2M33 32h1M46 32h1M31 33h1M35 34h1M47 34h4M31 35h1M35 35h1M48 35h1M32 36h1M34 36h1M36 36h1M34 37h1M36 37h1M37 38h1M50 38h1M0 39h1M51 39h1M23 41h1M25 41h1M36 41h1M40 41h1M52 41h2M23 42h1M25 42h1M28 42h2M34 42h1M37 42h1M39 42h1M54 42h1M1 43h1M22 43h1M26 43h3M37 43h3M29 44h2M33 44h1M38 44h1M1 45h1M7 45h1M32 45h1M37 45h2M4 46h1M29 46h1M42 46h1M7 47h1M29 47h1M31 47h2M34 47h1M36 47h1M39 47h2M42 47h1M29 48h1M31 48h1M38 48h3M8 49h1M42 49h3M31 50h1M33 50h1M0 51h1M2 51h1M6 51h1M8 51h1M41 51h1M0 52h1M4 52h1M13 52h1M21 52h1M33 52h1M36 52h1M41 52h1M48 52h1M4 53h1M6 53h3M14 53h1M16 53h1M41 53h1M4 54h1M16 54h1M32 54h1M40 54h1"/>
<path stroke="#00e3f9" d="M46 2h1M46 3h1M49 6h1M51 6h1M54 6h1M52 7h1M54 7h1M50 8h1M52 8h3M51 11h1M42 12h1M39 13h1M41 13h1M49 13h2M38 14h1M43 14h1M46 14h1M37 15h1M42 15h1M45 15h4M43 16h2M44 17h1M46 19h2M16 20h1M47 20h1M20 21h1M48 21h1M17 22h2M22 22h1M24 22h1M47 22h1M16 23h1M20 23h1M21 24h3M21 25h1M24 25h1M19 26h1M22 26h1M45 26h3M45 27h3M30 28h1M54 28h1M29 29h3M34 29h2M31 30h1M25 31h3M29 31h1M31 31h2M45 31h1M25 32h1M27 32h1M34 32h1M45 32h1M30 33h1M36 33h1M45 33h2M48 33h1M2 34h1M33 34h1M36 34h1M0 35h1M30 35h1M36 35h1M27 36h1M37 36h1M2 37h1M38 37h1M45 37h1M24 38h1M26 38h1M31 38h3M39 38h1M46 38h1M49 38h1M1 39h1M24 39h1M31 39h2M38 39h1M1 40h2M23 40h1M25 40h1M28 40h1M31 40h2M38 40h1M3 41h3M24 41h1M26 41h1M38 41h1M54 41h1M3 42h2M22 42h1M24 42h1M27 42h1M30 42h1M36 42h1M38 42h1M0 43h1M2 43h2M21 43h1M30 43h1M34 43h1M36 43h1M40 43h2M54 43h1M0 44h1M3 44h1M26 44h1M28 44h1M32 44h1M39 44h1M3 45h2M8 45h1M28 45h2M39 45h1M8 46h3M27 46h2M39 46h2M44 46h1M9 47h3M41 47h1M43 47h3M27 48h2M32 48h2M41 48h1M43 48h1M45 48h1M47 48h1M10 49h1M12 49h1M20 49h1M29 49h3M41 49h1M46 49h1M10 50h1M12 50h3M21 50h1M30 50h1M32 50h1M45 50h1M50 50h1M7 51h1M9 51h1M12 51h1M17 51h1M30 51h1M32 51h1M45 51h1M6 52h1M9 52h1M14 52h3M22 52h2M32 52h1M47 52h1M10 53h1M15 53h1M17 53h1M19 53h2M31 53h1M42 53h1M50 53h1M6 54h2M13 54h1M21 54h1M31 54h1M41 54h1M48 54h3"/>
<path stroke="#22ffd5" d="M27 0h1M35 0h1M46 0h1M31 3h1M36 3h1M38 3h2M31 4h1M47 4h1M35 5h1M47 5h2M52 5h1M54 5h1M35 6h1M52 6h1M48 7h1M50 7h1M51 9h1M42 10h1M51 10h1M50 11h1M38 12h1M41 12h1M43 12h1M40 13h1M42 13h1M45 13h1M47 13h1M37 14h1M39 14h3M45 14h1M47 14h2M40 15h1M40 16h2M41 17h1M45 17h1M45 18h2M15 20h1M17 20h1M45 20h1M18 21h1M22 23h1M24 23h2M46 23h3M16 24h1M19 24h1M47 24h1M18 25h2M23 25h1M46 25h3M23 26h2M33 26h1M23 27h1M27 27h2M44 27h1M24 28h1M28 28h1M31 28h1M34 28h1M45 28h1M26 29h1M44 29h1M23 30h1M26 30h1M28 30h1M34 30h1M44 30h1M30 31h1M29 32h1M35 32h1M29 33h1M35 33h1M43 33h1M29 34h2M42 34h1M1 35h1M28 35h1M34 35h1M37 35h1M42 35h2M45 35h1M47 35h1M0 36h2M38 36h1M42 36h2M46 36h1M48 36h1M0 37h1M23 37h1M26 37h1M32 37h1M37 37h1M39 37h1M48 37h2M1 38h1M19 38h1M23 38h1M38 38h1M40 38h1M4 39h1M23 39h1M29 39h1M40 39h1M43 39h1M49 39h2M0 40h1M3 40h2M20 40h1M22 40h1M24 40h1M30 40h1M41 40h1M0 41h1M21 41h2M28 41h4M39 41h1M42 41h1M51 41h1M1 42h1M5 42h1M20 42h1M40 42h1M52 42h2M4 43h1M23 43h2M29 43h1M45 43h1M4 44h1M8 44h1M42 44h1M54 44h1M5 45h2M9 45h2M22 45h1M25 45h1M27 45h1M40 45h1M7 46h1M11 46h2M19 46h1M33 46h1M41 46h1M43 46h1M12 47h2M20 47h2M28 47h1M33 47h1M46 47h1M49 47h1M52 47h1M9 48h1M13 48h1M20 48h1M23 48h1M26 48h1M30 48h1M44 48h1M49 48h1M52 48h2M9 49h1M13 49h1M23 49h1M26 49h3M49 49h5M8 50h2M11 50h1M17 50h2M20 50h1M28 50h1M41 50h1M43 50h2M48 50h2M5 51h1M10 51h2M14 51h3M21 51h2M27 51h1M29 51h1M31 51h1M42 51h3M47 51h2M50 51h2M10 52h3M17 52h2M26 52h1M28 52h4M43 52h2M49 52h3M11 53h2M18 53h1M22 53h1M32 53h2M48 53h2M8 54h1M15 54h1M17 54h1M19 54h1M23 54h1M42 54h1M44 54h3M51 54h1M53 54h2"/>
<path stroke="#46ffb1" d="M37 0h1M45 0h1M44 1h3M26 2h1M33 2h1M37 2h2M45 2h1M27 3h1M33 3h1M40 3h1M45 3h1M32 4h2M45 4h1M31 5h2M43 5h1M45 5h1M49 5h1M30 6h1M32 6h1M34 6h1M36 6h1M38 6h1M44 6h1M30 7h3M34 7h1M38 7h1M51 7h1M35 8h1M37 8h1M49 8h1M51 8h1M6 9h1M36 10h1M43 10h1M50 10h1M40 11h2M43 11h1M40 12h1M44 12h1M50 12h1M37 13h2M43 13h1M46 13h1M38 15h2M12 16h1M20 16h1M36 16h1M12 17h2M15 17h1M40 17h1M42 17h2M15 18h1M43 18h1M16 19h2M21 19h1M21 20h1M29 20h1M16 21h1M19 21h1M21 21h3M45 21h2M16 22h1M19 22h1M21 22h1M23 22h1M46 22h1M15 23h1M17 23h3M23 23h1M15 24h1M17 24h1M25 24h3M33 24h1M35 24h1M42 24h1M45 24h1M15 25h2M20 25h1M22 25h1M26 25h2M32 25h3M43 25h3M16 26h1M18 26h1M20 26h1M27 26h1M31 26h2M43 26h2M19 27h1M22 27h1M26 27h1M29 27h1M19 28h1M23 28h1M27 28h1M33 28h1M35 28h1M23 29h3M27 29h2M42 29h1M25 30h1M27 30h1M33 30h1M35 30h1M24 31h1M33 31h2M42 31h3M26 32h1M32 32h1M36 32h1M43 32h2M1 33h1M25 33h2M38 33h1M42 33h1M44 33h1M0 34h2M27 34h1M37 34h2M43 34h4M2 35h1M38 35h2M41 35h1M2 36h2M29 36h3M40 36h2M45 36h1M47 36h1M1 37h1M5 37h1M10 37h1M28 37h1M30 37h2M40 37h1M42 37h1M44 37h1M46 37h2M0 38h1M2 38h1M9 38h1M21 38h1M27 38h1M43 38h1M48 38h1M2 39h2M5 39h1M9 39h2M18 39h2M21 39h2M26 39h3M39 39h1M41 39h2M5 40h2M19 40h1M21 40h1M27 40h1M29 40h1M39 40h2M42 40h1M48 40h1M19 41h1M27 41h1M43 41h1M50 41h1M0 42h1M2 42h1M6 42h1M21 42h1M31 42h1M41 42h2M45 42h1M5 43h1M25 43h1M43 43h2M46 43h1M53 43h1M6 44h2M9 44h1M22 44h2M25 44h1M40 44h1M43 44h1M26 45h1M41 45h1M43 45h1M45 45h1M54 45h1M21 46h1M23 46h4M45 46h1M50 46h1M53 46h1M22 47h2M26 47h2M53 47h1M10 48h3M21 48h1M25 48h1M42 48h1M46 48h1M50 48h2M54 48h1M19 49h1M21 49h2M45 49h1M48 49h1M54 49h1M16 50h1M19 50h1M27 50h1M46 50h1M51 50h2M13 51h1M18 51h1M20 51h1M23 51h3M28 51h1M49 51h1M52 51h1M20 52h1M25 52h1M27 52h1M42 52h1M45 52h1M52 52h2M5 53h1M9 53h1M13 53h1M21 53h1M23 53h4M28 53h3M45 53h3M51 53h1M54 53h1M9 54h1M11 54h2M14 54h1M18 54h1M20 54h1M24 54h2M30 54h1M43 54h1M47 54h1M52 54h1"/>
<path stroke="#8dff6a" d="M23 0h3M32 0h1M39 0h2M42 0h1M30 1h2M34 1h3M39 1h1M42 1h2M27 2h4M34 2h2M40 2h1M44 2h1M29 3h1M35 3h1M42 3h3M25 4h2M30 4h1M36 4h1M40 4h1M6 5h1M28 5h1M37 5h1M39 5h1M41 5h1M6 6h1M28 6h1M31 6h1M40 6h1M43 6h1M46 6h1M5 7h1M8 7h1M24 7h1M29 7h1M37 7h1M42 7h1M6 8h3M24 8h1M29 8h1M36 8h1M38 8h3M43 8h1M47 8h2M5 9h1M7 9h1M21 9h1M31 9h1M38 9h2M41 9h1M43 9h2M49 9h1M7 10h1M38 10h2M44 10h3M49 10h1M8 11h1M30 11h2M34 11h2M38 11h1M44 11h2M48 11h1M34 12h1M46 12h2M34 13h3M10 14h1M12 14h1M23 14h3M31 14h1M34 14h1M36 14h1M9 15h1M11 15h2M21 15h1M26 15h1M28 15h1M31 15h1M36 15h1M9 16h3M14 16h1M31 16h1M34 16h2M10 17h1M18 17h1M21 17h2M32 17h2M38 17h1M9 18h3M13 18h1M17 18h1M19 18h1M23 18h2M27 18h1M30 18h2M35 18h1M39 18h2M44 18h1M11 19h1M14 19h1M25 19h1M30 19h1M32 19h1M35 19h1M42 19h2M45 19h1M7 20h1M28 20h1M30 20h1M32 20h2M43 20h2M14 21h1M24 21h2M27 21h3M32 21h1M34 21h1M43 21h1M13 22h2M36 22h1M39 22h1M12 23h3M26 23h1M37 23h1M43 23h1M45 23h1M14 24h1M32 24h1M37 24h2M44 24h1M46 24h1M31 25h1M36 25h1M40 25h2M15 26h1M17 26h1M30 26h1M36 26h1M41 26h1M6 27h1M16 27h1M31 27h1M34 27h2M37 27h1M42 27h1M8 28h1M17 28h2M32 28h1M41 28h1M22 29h1M36 29h1M41 29h1M0 30h1M4 30h1M7 30h1M18 30h1M38 30h2M41 30h1M1 31h1M4 31h2M36 31h1M40 31h1M3 32h2M6 32h1M11 32h1M38 32h1M41 32h1M6 33h1M8 33h1M11 33h1M23 33h1M28 33h1M41 33h1M3 34h2M7 34h1M11 34h1M25 34h1M40 34h1M4 35h3M8 35h2M22 35h1M46 35h1M7 36h1M10 36h1M13 36h1M21 36h1M25 36h2M4 37h1M8 37h2M13 37h1M16 37h2M19 37h1M21 37h1M29 37h1M41 37h1M6 38h2M13 38h1M15 38h1M18 38h1M28 38h1M7 39h2M11 39h1M14 39h1M16 39h1M30 39h1M46 39h3M8 40h1M10 40h1M16 40h2M45 40h1M47 40h1M9 41h1M15 41h3M41 41h1M49 41h1M7 42h1M50 42h2M7 43h1M11 43h1M20 43h1M48 43h1M12 44h1M18 44h2M48 44h1M52 44h1M11 45h1M13 45h2M47 45h2M50 45h4M13 46h3M51 46h2M54 46h1M16 47h1M18 47h1M47 47h2M51 47h1M14 48h1M17 48h1M22 48h1M16 49h1M25 49h1M26 50h1M47 50h1M53 51h1M24 52h1M52 53h1M26 54h2M29 54h1"/>
<path stroke="#b1ff46" d="M30 0h1M33 0h1M41 0h1M24 1h1M26 1h1M28 1h2M32 1h2M41 1h1M22 2h1M24 2h2M31 2h1M41 2h2M6 3h1M30 3h1M41 3h1M5 4h1M27 4h3M43 4h1M5 5h1M7 5h1M13 5h1M24 5h4M36 5h1M40 5h1M42 5h1M46 5h1M7 6h1M9 6h1M42 6h1M47 6h1M7 7h1M27 7h2M41 7h1M44 7h1M47 7h1M9 8h1M28 8h1M41 8h1M8 9h1M28 9h1M33 9h1M45 9h2M5 10h1M8 10h2M15 10h1M19 10h2M30 10h2M33 10h2M37 10h1M47 10h2M9 11h1M13 11h1M23 11h1M32 11h1M36 11h2M9 12h1M27 12h1M31 12h1M45 12h1M6 13h5M19 13h1M24 13h1M26 13h1M29 13h2M33 13h1M9 14h1M11 14h1M17 14h1M27 14h2M33 14h1M35 14h1M10 15h1M16 15h2M19 15h1M23 15h1M25 15h1M29 15h1M16 16h2M21 16h1M23 16h1M26 16h1M29 16h1M33 16h1M37 16h1M17 17h1M23 17h2M27 17h4M35 17h1M37 17h1M8 18h1M18 18h1M25 18h2M28 18h2M33 18h1M36 18h1M38 18h1M9 19h2M13 19h1M22 19h3M29 19h1M36 19h1M40 19h2M13 20h1M22 20h2M25 20h2M4 21h1M8 21h2M12 21h1M26 21h1M31 21h1M35 21h1M40 21h1M5 22h1M15 22h1M26 22h1M28 22h1M32 22h1M35 22h1M37 22h1M41 22h1M6 23h1M11 23h1M28 23h1M35 23h2M40 23h1M42 23h1M31 24h1M36 24h1M39 24h2M28 25h1M30 25h1M35 25h1M37 25h1M5 26h1M7 26h1M14 26h1M28 26h1M38 26h3M4 27h1M12 27h2M15 27h1M36 27h1M39 27h3M4 28h3M12 28h1M14 28h1M16 28h1M1 29h1M4 29h1M17 29h2M21 29h1M37 29h1M40 29h1M1 30h1M3 30h1M6 30h1M16 30h1M22 30h1M36 30h1M40 30h1M43 30h1M2 31h2M6 31h1M16 31h2M37 31h2M41 31h1M0 32h1M5 32h1M8 32h1M10 32h1M16 32h1M4 33h1M7 33h1M10 33h1M5 34h2M10 34h1M12 34h2M24 34h1M10 35h1M17 35h1M20 35h2M25 35h1M6 36h1M14 36h4M20 36h1M22 36h1M24 36h1M12 37h1M14 37h1M18 37h1M20 37h1M24 37h1M43 37h1M8 38h1M11 38h2M20 38h1M17 39h1M44 39h1M13 40h3M8 41h1M14 41h1M48 41h1M9 42h3M16 42h1M18 42h1M9 43h2M18 43h1M50 43h1M11 44h1M13 44h1M15 44h1M46 44h2M50 44h1M15 45h2M46 45h1M49 45h1M17 46h2M15 47h1M17 47h1M19 47h1M15 48h1M18 48h1M24 48h1M18 49h1M54 52h1"/>
<path stroke="#d5ff22" d="M6 0h1M29 0h1M31 0h1M23 1h1M25 1h1M5 2h1M7 2h1M23 2h1M4 3h1M9 3h1M22 3h2M26 3h1M3 4h2M6 4h1M11 5h1M5 6h1M8 6h1M10 6h3M18 6h1M25 6h3M41 6h1M10 7h1M20 7h1M25 7h1M40 7h1M4 8h1M11 8h1M26 8h1M45 8h2M20 9h1M24 9h3M30 9h1M34 9h1M48 9h1M4 10h1M10 10h1M14 10h1M18 10h1M23 10h3M32 10h1M35 10h1M5 11h2M10 11h1M12 11h1M14 11h1M16 11h2M19 11h1M24 11h2M33 11h1M5 12h2M8 12h1M12 12h1M19 12h1M22 12h5M29 12h2M32 12h2M36 12h1M15 13h1M20 13h1M23 13h1M25 13h1M31 13h2M7 14h1M15 14h2M19 14h1M26 14h1M29 14h2M14 15h2M22 15h1M24 15h1M27 15h1M8 16h1M22 16h1M24 16h2M27 16h2M9 17h1M25 17h2M36 17h1M12 18h1M5 19h1M8 19h1M12 19h1M26 19h1M28 19h1M37 19h1M8 20h1M12 20h1M24 20h1M27 20h1M35 20h2M40 20h1M42 20h1M6 21h1M10 21h2M13 21h1M30 21h1M36 21h1M39 21h1M42 21h1M7 22h1M11 22h1M30 22h2M40 22h1M7 23h1M31 23h1M6 24h1M10 24h1M12 24h2M1 25h1M5 25h3M29 25h1M38 25h1M11 26h2M37 26h1M3 27h1M7 27h2M14 27h1M38 27h1M2 28h2M7 28h1M10 28h2M21 28h2M0 29h1M2 29h2M5 29h4M13 29h2M19 29h1M39 29h1M2 30h1M5 30h1M8 30h1M14 30h2M20 30h1M37 30h1M0 31h1M8 31h2M11 31h1M13 31h1M15 31h1M22 31h2M39 31h1M1 32h1M7 32h1M9 32h1M20 32h1M23 32h1M15 33h1M21 33h1M8 34h2M14 34h1M16 34h1M22 34h2M7 35h1M11 35h1M13 35h1M23 35h2M8 36h1M11 37h1M14 38h1M16 38h1M13 39h1M9 40h1M11 40h1M10 41h4M44 41h1M47 41h1M8 42h1M12 42h1M15 42h1M12 43h1M14 43h4M14 44h1M16 44h2M16 46h1M16 48h1M24 49h1"/>
<path stroke="#f9f400" d="M7 0h1M22 0h1M4 1h2M8 1h1M21 1h2M4 2h1M8 2h1M5 3h1M7 3h1M10 3h1M24 3h1M7 4h3M11 4h1M13 4h1M23 4h1M4 5h1M8 5h3M12 5h1M14 6h1M19 6h1M24 6h1M1 7h1M3 7h2M15 7h1M23 7h1M46 7h1M3 8h1M5 8h1M10 8h1M20 8h1M22 8h1M25 8h1M27 8h1M42 8h1M4 9h1M10 9h1M15 9h1M19 9h1M22 9h2M27 9h1M29 9h1M3 10h1M11 10h2M16 10h1M22 10h1M26 10h1M29 10h1M4 11h1M11 11h1M18 11h1M20 11h3M27 11h1M29 11h1M3 12h1M10 12h1M15 12h2M18 12h1M20 12h1M28 12h1M3 13h1M5 13h1M11 13h4M17 13h2M21 13h2M27 13h2M5 14h2M8 14h1M13 14h2M18 14h1M20 14h3M8 15h1M20 15h1M30 15h1M7 16h1M30 16h1M8 17h1M6 19h2M38 19h2M5 20h1M9 20h2M39 20h1M41 20h1M7 21h1M37 21h2M6 22h1M9 22h2M29 22h1M38 22h1M42 22h1M1 23h1M4 23h2M9 23h2M29 23h2M38 23h2M41 23h1M0 24h1M5 24h1M7 24h1M11 24h1M29 24h2M2 25h2M8 25h1M11 25h3M0 26h5M8 26h1M13 26h1M9 27h2M0 28h2M9 28h1M13 28h1M37 28h4M10 29h2M20 29h1M38 29h1M9 30h1M17 30h1M21 30h1M7 31h1M10 31h1M14 31h1M20 31h2M14 32h1M19 32h1M21 32h1M40 32h1M9 33h1M13 33h1M19 33h2M22 33h1M20 34h1M12 35h1M15 35h2M18 35h1M12 36h1M18 36h2M12 40h1M13 42h2M17 42h1M17 45h1M28 54h1"/>
<path stroke="#ffca00" d="M2 0h1M4 0h1M0 1h2M6 1h2M9 1h1M11 1h1M6 2h1M9 2h3M8 3h1M11 3h1M21 3h1M10 4h1M12 4h1M22 4h1M2 5h2M20 5h1M23 5h1M1 6h1M4 6h1M20 6h1M11 7h2M18 7h1M2 8h1M15 8h2M19 8h1M21 8h1M23 8h1M2 9h2M11 9h1M14 9h1M16 9h2M47 9h1M13 10h1M17 10h1M21 10h1M28 10h1M0 11h1M15 11h1M28 11h1M0 12h1M4 12h1M11 12h1M13 12h2M17 12h1M21 12h1M4 13h1M16 13h1M6 15h2M7 17h1M1 20h4M11 20h1M37 20h1M2 21h1M5 21h1M41 21h1M1 22h4M8 22h1M12 22h1M2 23h2M1 24h1M4 24h1M8 24h1M0 25h1M4 25h1M10 25h1M9 26h2M0 27h1M2 27h1M11 27h1M9 29h1M12 29h1M10 30h3M19 30h1M18 31h2M12 32h1M15 32h1M17 32h2M22 32h1M12 33h1M14 33h1M16 33h3M15 34h1M18 34h2M21 34h1M19 35h1M15 37h1M13 43h1"/>
<path stroke="#ffa100" d="M0 0h2M3 0h1M5 0h1M8 0h1M10 0h1M20 0h1M2 1h1M12 1h1M17 1h1M3 2h1M21 2h1M3 3h1M12 3h1M17 3h1M2 4h1M14 4h2M17 4h1M20 4h1M0 5h1M14 5h2M19 5h1M22 5h1M0 6h1M2 6h2M13 6h1M15 6h2M21 6h1M23 6h1M0 7h1M2 7h1M16 7h1M19 7h1M26 7h1M14 8h1M17 8h2M12 9h2M18 9h1M1 10h2M27 10h1M1 11h1M26 11h1M2 12h1M0 13h1M2 13h1M3 15h1M5 15h1M4 16h2M2 17h1M6 18h1M1 19h4M6 20h1M38 20h1M0 23h1M8 23h1M2 24h1M9 25h1M1 27h1M13 30h1M12 31h1M13 32h1M17 34h1"/>
<path stroke="#ff7800" d="M9 0h1M14 0h2M3 1h1M13 1h1M20 1h1M0 2h3M12 2h2M0 3h3M13 3h1M15 3h1M0 4h1M16 4h1M18 4h2M21 4h1M1 5h1M21 5h1M13 7h2M17 7h1M22 7h1M0 8h2M12 8h2M0 9h1M0 10h1M2 11h2M0 14h1M2 14h3M4 15h1M2 16h1M6 16h1M3 17h4M2 18h4M7 18h1M0 21h1M3 21h1M0 22h1M3 24h1M9 24h1"/>
<path stroke="#ff4f00" d="M11 0h3M18 0h1M21 0h1M14 1h3M19 1h1M14 2h1M18 2h3M14 3h1M18 3h3M1 4h1M16 5h1M18 5h1M17 6h1M22 6h1M21 7h1M1 12h1M1 13h1M1 15h1M1 16h1M0 17h2M1 18h1M0 20h1M1 21h1"/>
<path stroke="#ff2600" d="M16 0h2M19 0h1M10 1h1M15 2h3M16 3h1M17 5h1M1 9h1M1 14h1M0 15h1M2 15h1M3 16h1M0 18h1M0 19h1"/>
<path stroke="#e40000" d="M18 1h1M0 16h1"/>
</g></svg>
<rect x="1190.2" y="1757.4" width="12.3" height="250.5" fill="url(#jetg)"/>
<text x="1203.2" y="1870.6" font-size="25" text-anchor="start" fill="#262626">80</text>
<text x="1203.2" y="1987.9" font-size="25" text-anchor="start" fill="#262626">60</text>
<text x="1048.5" y="1755.4" font-size="36" text-anchor="middle" fill="#262626">Starkville</text>
<svg x="1314.8" y="1756.4" width="251.5" height="251.8" viewBox="0 0 55 55" preserveAspectRatio="none">
<rect width="55" height="55" fill="#6aff8d"/>
<g transform="translate(0 .5)" stroke-width="1.06" fill="none">
<path stroke="#0000e4" d="M51 0h1M52 2h1"/>
<path stroke="#0006ff" d="M53 1h1M22 37h1M21 38h1M24 54h1"/>
<path stroke="#0032ff" d="M43 0h1M53 0h1M42 1h1M52 1h1M54 1h1M40 2h1M16 12h1M24 40h1M23 43h1M22 44h2M23 49h2M22 50h2M23 51h1M19 52h1M22 52h1M24 52h1M19 53h2"/>
<path stroke="#005eff" d="M41 0h1M49 0h1M52 0h1M54 0h1M41 1h1M43 1h2M46 1h1M50 1h2M42 2h4M51 2h1M53 2h2M45 3h1M51 3h3M47 4h1M52 4h3M52 5h1M54 5h1M49 6h1M54 6h1M53 7h1M13 17h1M25 19h1M24 21h1M20 24h1M18 26h1M15 32h1M20 34h1M19 35h1M21 35h1M24 35h1M6 36h1M2 39h1M2 40h1M17 40h1M23 40h1M23 41h1M17 42h1M22 42h2M15 43h1M18 43h1M22 43h1M24 44h1M15 45h1M21 45h1M23 45h1M13 48h1M23 48h2M3 49h1M26 49h1M0 50h1M22 51h1M21 52h1M23 52h1M25 53h1M1 54h1M21 54h1M23 54h1"/>
<path stroke="#008bff" d="M39 0h2M44 0h5M50 0h1M39 1h1M47 1h1M49 1h1M16 2h1M38 2h1M47 2h1M50 2h1M39 3h2M42 3h1M47 3h1M50 3h1M54 3h1M9 4h1M49 4h1M51 4h1M49 5h1M51 5h1M53 5h1M50 6h4M16 11h1M19 11h1M15 12h1M7 14h1M11 16h1M19 17h1M9 18h1M12 18h2M15 18h1M22 18h1M13 19h1M16 19h1M22 19h1M28 19h1M23 20h1M25 20h1M11 21h1M23 22h1M9 23h2M18 24h1M18 27h1M12 29h1M17 30h1M16 31h2M19 31h1M2 32h1M18 32h2M23 32h1M18 33h1M20 33h1M17 34h1M21 34h2M0 35h1M5 35h1M20 35h1M23 35h1M20 36h1M22 36h1M4 37h1M20 38h1M17 39h1M20 39h1M6 40h1M18 40h1M1 41h2M17 41h1M24 41h1M1 42h1M14 42h1M16 42h1M19 42h1M24 42h1M0 43h1M27 43h1M18 44h1M22 45h1M25 45h1M1 46h1M3 46h1M16 46h1M22 46h5M0 47h1M2 47h3M9 47h1M11 47h1M20 47h1M23 47h2M2 48h3M29 48h1M1 49h2M10 49h1M25 49h1M1 50h1M3 50h1M6 50h1M21 50h1M24 50h2M0 51h3M4 51h1M12 51h1M21 51h1M1 52h1M5 52h1M15 52h2M20 52h1M1 53h2M22 53h3M2 54h1M9 54h1M19 54h2M22 54h1M25 54h2"/>
<path stroke="#00b7ff" d="M38 0h1M42 0h1M11 1h2M15 1h2M38 1h1M40 1h1M45 1h1M48 1h1M15 2h1M39 2h1M41 2h1M46 2h1M48 2h2M8 3h1M14 3h1M38 3h1M41 3h1M44 3h1M46 3h1M48 3h1M38 4h2M45 4h2M48 4h1M48 5h1M50 5h1M11 6h1M32 6h1M41 6h1M48 7h1M50 7h1M9 8h1M14 9h1M14 10h2M18 10h1M15 11h1M20 11h1M10 12h1M22 12h1M7 13h1M14 13h3M19 13h1M23 13h1M9 14h1M11 14h1M16 14h1M24 14h1M10 15h1M12 15h1M17 15h1M12 16h1M20 16h1M12 17h1M14 17h1M19 18h1M21 18h1M26 18h1M7 19h1M12 19h1M17 19h2M20 19h1M23 19h1M26 19h1M12 20h1M22 20h1M24 20h1M26 20h1M12 21h1M22 21h1M25 21h1M14 22h2M22 22h1M7 23h1M14 23h1M18 23h1M22 23h2M10 24h1M14 24h1M19 24h1M21 24h3M2 25h1M12 25h1M14 25h1M18 25h3M2 26h1M15 26h1M17 26h1M5 27h1M13 27h1M29 27h1M13 28h1M20 28h1M14 29h1M15 30h1M15 31h1M18 31h1M21 31h3M17 32h1M21 32h1M14 33h1M19 33h1M23 33h2M7 34h1M18 34h2M1 35h3M6 35h1M10 35h1M17 35h2M22 35h1M25 35h1M18 36h2M21 36h1M23 36h2M16 37h1M18 37h1M23 37h2M2 38h1M5 38h1M9 38h1M17 38h3M22 38h1M25 38h1M29 38h1M8 39h1M16 39h1M18 39h2M21 39h2M24 39h1M1 40h1M20 40h2M25 40h1M4 41h1M19 41h1M22 41h1M25 41h1M0 42h1M2 42h1M7 42h1M21 42h1M25 42h1M10 43h1M17 43h1M21 43h1M24 43h1M10 44h1M14 44h3M19 44h1M21 44h1M26 44h1M0 45h1M13 45h2M17 45h1M24 45h1M0 46h1M4 46h1M8 46h1M21 46h1M5 47h1M8 47h1M22 47h1M25 47h4M0 48h1M10 48h1M25 48h2M0 49h1M11 49h1M13 49h1M21 49h2M4 50h2M7 50h1M9 50h1M13 50h1M16 50h1M20 50h1M26 50h1M3 51h1M5 51h1M7 51h1M17 51h1M19 51h1M24 51h2M0 52h1M2 52h1M25 52h2M0 53h1M3 53h2M18 53h1M21 53h1M26 53h1M12 54h2M27 54h1"/>
<path stroke="#00e3f9" d="M9 0h2M13 0h2M9 1h1M37 1h1M10 2h3M9 3h1M11 3h1M15 3h1M43 3h1M49 3h1M8 4h1M11 4h2M14 4h1M16 4h1M37 4h1M40 4h2M13 5h1M16 5h1M18 5h1M44 5h1M3 6h1M5 6h1M8 6h1M48 6h1M7 7h1M12 7h1M14 7h1M30 7h1M33 7h1M52 7h1M54 7h1M2 8h2M8 8h1M14 8h2M49 8h1M52 8h2M0 9h1M2 9h1M8 9h1M12 9h1M15 9h1M26 9h1M50 9h3M1 10h1M13 10h1M16 10h1M19 10h1M26 10h1M51 10h1M54 10h1M7 11h1M9 11h1M11 11h1M13 11h2M17 11h2M26 11h1M54 11h1M5 12h5M12 12h3M20 12h2M23 12h1M6 13h1M8 13h1M10 13h1M22 13h1M24 13h1M5 14h1M8 14h1M14 14h1M29 14h1M6 15h1M16 15h1M20 15h2M23 15h1M6 16h2M10 16h1M13 16h3M17 16h1M19 16h1M6 17h3M10 17h2M18 17h1M20 17h2M23 17h1M25 17h2M6 18h1M8 18h1M17 18h2M20 18h1M23 18h1M27 18h1M5 19h2M9 19h2M15 19h1M19 19h1M27 19h1M0 20h1M5 20h2M10 20h2M16 20h2M21 20h1M29 20h1M5 21h1M10 21h1M13 21h1M16 21h2M19 21h1M21 21h1M23 21h1M26 21h2M5 22h2M16 22h1M18 22h1M20 22h2M6 23h1M15 23h1M17 23h1M19 23h1M21 23h1M24 23h1M27 23h1M0 24h1M3 24h1M8 24h2M11 24h1M17 24h1M24 24h1M3 25h1M8 25h4M13 25h1M15 25h1M17 25h1M22 25h1M27 25h2M30 25h1M0 26h2M11 26h1M14 26h1M16 26h1M19 26h1M21 26h2M28 26h2M0 27h1M2 27h3M14 27h4M19 27h1M0 28h1M17 28h1M13 29h1M16 29h3M20 29h2M10 30h2M13 30h2M18 30h2M21 30h2M2 31h1M14 31h1M24 31h1M1 32h1M12 32h3M22 32h1M24 32h2M1 33h1M6 33h2M21 33h2M0 34h6M23 34h6M32 34h1M16 35h1M0 36h1M4 36h2M7 36h1M10 36h1M17 36h1M25 36h2M2 37h2M5 37h1M19 37h3M26 37h1M1 38h1M3 38h1M10 38h1M14 38h3M23 38h1M3 39h5M12 39h1M15 39h1M23 39h1M25 39h1M0 40h1M3 40h1M5 40h1M7 40h1M12 40h1M16 40h1M22 40h1M0 41h1M5 41h1M7 41h1M11 41h1M14 41h1M16 41h1M20 41h1M11 42h3M18 42h1M20 42h1M26 42h1M2 43h1M11 43h1M14 43h1M16 43h1M19 43h2M25 43h2M0 44h1M9 44h1M12 44h1M17 44h1M20 44h1M25 44h1M28 44h1M1 45h4M11 45h2M16 45h1M20 45h1M27 45h1M29 45h2M34 45h1M2 46h1M5 46h1M11 46h1M14 46h2M17 46h1M19 46h2M6 47h2M10 47h1M14 47h3M19 47h1M21 47h1M1 48h1M6 48h1M9 48h1M17 48h1M20 48h1M4 49h4M9 49h1M14 49h1M19 49h1M28 49h1M2 50h1M8 50h1M12 50h1M15 50h1M17 50h2M27 50h1M9 51h2M13 51h4M20 51h1M3 52h2M7 52h1M11 52h3M18 52h1M27 52h1M5 53h1M7 53h1M9 53h1M11 53h3M17 53h1M4 54h1M6 54h2M10 54h1M17 54h2M28 54h1"/>
<path stroke="#22ffd5" d="M2 0h1M5 0h1M8 0h1M11 0h2M15 0h3M4 1h1M8 1h1M10 1h1M13 1h2M17 1h1M28 1h2M36 1h1M7 2h2M13 2h2M1 3h1M7 3h1M10 3h1M12 3h2M16 3h2M29 3h2M1 4h1M6 4h1M10 4h1M13 4h1M33 4h1M35 4h1M43 4h2M50 4h1M2 5h1M5 5h1M7 5h2M11 5h1M15 5h1M29 5h1M37 5h2M40 5h1M42 5h1M47 5h1M9 6h2M12 6h1M29 6h2M38 6h1M46 6h1M4 7h1M9 7h2M13 7h1M31 7h1M38 7h4M51 7h1M1 8h1M6 8h1M10 8h2M13 8h1M25 8h1M33 8h1M48 8h1M51 8h1M1 9h1M3 9h2M6 9h2M10 9h2M13 9h1M18 9h1M20 9h2M24 9h2M29 9h1M45 9h1M53 9h1M4 10h1M7 10h2M12 10h1M17 10h1M20 10h1M24 10h1M27 10h1M30 10h1M42 10h1M53 10h1M4 11h3M10 11h1M12 11h1M22 11h1M31 11h1M39 11h1M42 11h1M3 12h1M17 12h3M24 12h1M27 12h1M53 12h2M2 13h1M9 13h1M11 13h3M18 13h1M20 13h2M30 13h1M51 13h1M3 14h2M6 14h1M10 14h1M12 14h2M15 14h1M17 14h2M20 14h4M25 14h1M5 15h1M7 15h3M11 15h1M13 15h3M18 15h1M24 15h2M29 15h1M8 16h1M18 16h1M22 16h2M30 16h1M15 17h1M17 17h1M22 17h1M1 18h1M7 18h1M10 18h2M14 18h1M16 18h1M24 18h2M28 18h2M4 19h1M14 19h1M21 19h1M24 19h1M29 19h1M33 19h1M3 20h2M7 20h1M13 20h1M18 20h1M20 20h1M28 20h1M42 20h1M9 21h1M15 21h1M18 21h1M20 21h1M32 21h1M46 21h1M0 22h1M4 22h1M9 22h2M13 22h1M17 22h1M19 22h1M24 22h3M30 22h1M3 23h1M8 23h1M16 23h1M20 23h1M28 23h1M2 24h1M4 24h3M15 24h2M26 24h1M28 24h1M0 25h2M6 25h1M16 25h1M21 25h1M23 25h4M29 25h1M5 26h2M8 26h3M12 26h2M26 26h1M30 26h1M1 27h1M6 27h1M8 27h1M12 27h1M20 27h1M25 27h1M1 28h1M4 28h1M10 28h1M12 28h1M15 28h2M18 28h1M21 28h1M9 29h2M15 29h1M19 29h1M22 29h2M27 29h1M0 30h2M16 30h1M20 30h1M23 30h1M29 30h1M3 31h1M9 31h1M12 31h2M29 31h2M3 32h2M6 32h1M9 32h3M16 32h1M20 32h1M28 32h1M0 33h1M3 33h3M8 33h1M10 33h1M13 33h1M15 33h3M25 33h2M29 33h1M31 33h1M8 34h1M13 34h4M42 34h1M4 35h1M7 35h1M9 35h1M26 35h4M31 35h1M1 36h1M3 36h1M8 36h1M13 36h1M15 36h2M28 36h1M0 37h2M6 37h4M11 37h1M14 37h2M17 37h1M27 37h2M30 37h1M0 38h1M4 38h1M8 38h1M11 38h1M13 38h1M24 38h1M28 38h1M0 39h2M11 39h1M13 39h2M26 39h2M4 40h1M8 40h2M11 40h1M13 40h1M32 40h1M3 41h1M12 41h1M18 41h1M21 41h1M28 41h2M41 41h1M3 42h2M6 42h1M15 42h1M27 42h1M1 43h1M3 43h1M6 43h1M9 43h1M12 43h2M1 44h2M8 44h1M11 44h1M13 44h1M30 44h1M5 45h1M7 45h1M9 45h2M18 45h2M26 45h1M28 45h1M10 46h1M13 46h1M18 46h1M28 46h1M30 46h1M33 46h2M1 47h1M12 47h2M17 47h1M29 47h1M33 47h1M5 48h1M7 48h2M11 48h2M14 48h2M18 48h1M21 48h1M27 48h2M47 48h1M8 49h1M12 49h1M15 49h4M20 49h1M10 50h2M14 50h1M19 50h1M28 50h2M31 50h3M6 51h1M8 51h1M11 51h1M18 51h1M26 51h2M31 51h2M6 52h1M9 52h2M17 52h1M6 53h1M10 53h1M15 53h2M0 54h1M3 54h1M5 54h1M8 54h1M11 54h1M16 54h1M29 54h2M33 54h1"/>
<path stroke="#46ffb1" d="M1 0h1M6 0h2M30 0h1M36 0h2M0 1h1M7 1h1M30 1h1M0 2h2M4 2h1M9 2h1M17 2h1M30 2h2M35 2h1M37 2h1M4 3h1M31 3h1M36 3h2M0 4h1M3 4h3M15 4h1M17 4h1M29 4h1M42 4h1M1 5h1M4 5h1M9 5h2M12 5h1M14 5h1M17 5h1M30 5h2M33 5h1M41 5h1M43 5h1M45 5h2M0 6h1M4 6h1M6 6h1M13 6h3M17 6h1M28 6h1M33 6h2M39 6h2M43 6h1M45 6h1M47 6h1M0 7h2M3 7h1M5 7h2M8 7h1M11 7h1M15 7h1M17 7h1M24 7h1M29 7h1M32 7h1M34 7h2M45 7h2M49 7h1M7 8h1M12 8h1M16 8h1M20 8h3M32 8h1M34 8h2M40 8h2M43 8h3M50 8h1M54 8h1M5 9h1M9 9h1M16 9h1M22 9h1M31 9h1M40 9h1M47 9h1M54 9h1M0 10h1M5 10h2M9 10h3M22 10h1M25 10h1M29 10h1M31 10h2M41 10h1M50 10h1M52 10h1M2 11h2M8 11h1M21 11h1M23 11h1M25 11h1M30 11h1M43 11h1M51 11h1M4 12h1M26 12h1M40 12h1M42 12h2M3 13h3M17 13h1M25 13h1M43 13h1M52 13h1M19 14h1M26 14h1M35 14h1M3 15h2M19 15h1M22 15h1M27 15h1M0 16h1M4 16h1M9 16h1M16 16h1M21 16h1M24 16h3M28 16h2M45 16h1M51 16h1M5 17h1M9 17h1M24 17h1M27 17h2M30 17h1M32 17h1M5 18h1M0 19h1M3 19h1M8 19h1M11 19h1M43 19h1M48 19h1M8 20h2M15 20h1M19 20h1M27 20h1M33 20h1M46 20h1M1 21h2M4 21h1M8 21h1M14 21h1M39 21h1M49 21h1M2 22h2M7 22h2M11 22h2M27 22h1M29 22h1M31 22h1M45 22h1M0 23h3M4 23h2M11 23h3M25 23h2M30 23h1M44 23h1M47 23h1M1 24h1M7 24h1M12 24h2M25 24h1M27 24h1M29 24h1M47 24h2M51 24h1M7 25h1M31 25h1M47 25h2M54 25h1M3 26h2M7 26h1M20 26h1M23 26h2M31 26h1M50 26h1M53 26h1M9 27h3M21 27h3M26 27h2M31 27h1M50 27h2M53 27h2M2 28h1M6 28h1M8 28h2M11 28h1M14 28h1M22 28h3M27 28h2M31 28h2M48 28h1M50 28h1M4 29h1M8 29h1M11 29h1M24 29h1M29 29h1M48 29h1M50 29h1M3 30h1M24 30h1M27 30h2M0 31h2M4 31h2M10 31h2M20 31h1M26 31h3M0 32h1M5 32h1M26 32h2M29 32h1M38 32h1M40 32h1M2 33h1M9 33h1M12 33h1M30 33h1M6 34h1M9 34h3M30 34h2M11 35h1M13 35h1M15 35h1M32 35h1M35 35h1M2 36h1M11 36h2M14 36h1M27 36h1M29 36h2M10 37h1M25 37h1M29 37h1M42 37h1M7 38h1M12 38h1M26 38h1M9 39h2M29 39h1M19 40h1M26 40h1M28 40h1M31 40h1M35 40h1M41 40h1M13 41h1M26 41h2M30 41h1M8 42h3M28 42h1M30 42h1M42 42h1M5 43h1M7 43h2M28 43h1M32 43h1M35 43h1M3 44h2M6 44h2M27 44h1M29 44h1M33 44h2M6 45h1M8 45h1M31 45h3M47 45h1M6 46h1M9 46h1M12 46h1M27 46h1M29 46h1M31 46h2M35 46h1M44 46h1M31 47h2M34 47h1M36 47h1M16 48h1M19 48h1M22 48h1M35 48h1M40 48h4M29 49h1M35 49h1M41 49h1M44 49h1M30 50h1M34 50h1M37 50h1M54 50h1M28 51h1M34 51h1M8 52h1M14 52h1M29 52h1M34 52h2M49 52h1M8 53h1M14 53h1M27 53h1M30 53h1M36 53h2M48 53h1M14 54h1M35 54h1M37 54h1M43 54h2"/>
<path stroke="#8dff6a" d="M0 0h1M19 0h1M31 0h3M27 1h1M31 1h5M18 2h1M34 2h1M36 2h1M18 3h1M28 3h1M34 3h2M18 4h1M26 4h1M28 4h1M31 4h1M22 5h4M18 6h1M20 6h1M23 6h1M44 6h1M18 7h1M20 7h1M23 7h1M25 7h1M36 7h1M44 7h1M5 8h1M26 8h3M36 8h2M39 8h1M46 8h1M27 9h1M33 9h1M42 9h2M33 10h2M38 10h1M43 10h1M45 10h1M48 10h1M0 11h2M28 11h2M33 11h1M38 11h1M41 11h1M46 11h1M48 11h2M0 12h2M29 12h1M32 12h1M36 12h3M41 12h1M47 12h1M49 12h2M52 12h1M0 13h1M32 13h1M37 13h2M40 13h1M50 13h1M0 14h1M2 14h1M31 14h1M41 14h1M44 14h1M46 14h2M49 14h5M1 15h2M30 15h2M35 15h1M40 15h3M44 15h2M48 15h1M50 15h1M52 15h1M54 15h1M2 16h2M33 16h1M36 16h2M40 16h1M42 16h1M44 16h1M48 16h1M53 16h1M0 17h1M31 17h1M38 17h2M41 17h4M46 17h1M49 17h1M54 17h1M2 18h1M47 18h2M52 18h2M2 19h1M37 19h1M40 19h1M42 19h1M44 19h1M32 20h1M38 20h2M43 20h1M47 20h1M51 20h1M3 21h1M30 21h1M35 21h2M40 21h2M47 21h1M33 22h1M37 22h2M42 22h1M48 22h1M51 22h1M33 23h1M50 23h1M52 23h3M31 24h2M39 24h1M42 24h2M45 24h1M49 24h1M54 24h1M32 25h1M46 25h1M49 25h1M51 25h1M33 26h2M42 26h1M47 26h1M51 26h1M7 27h1M32 27h2M38 27h1M42 27h1M44 27h3M48 27h1M39 28h1M42 28h1M49 28h1M51 28h1M7 29h1M25 29h2M37 29h2M40 29h1M42 29h2M47 29h1M7 30h1M9 30h1M32 30h1M35 30h1M38 30h1M43 30h1M47 30h1M50 30h1M54 30h1M8 31h1M35 31h2M39 31h1M45 31h1M35 32h2M39 32h1M41 32h1M44 32h1M34 33h1M36 33h1M39 33h2M42 33h2M12 34h1M33 34h1M36 34h1M39 34h1M41 34h1M43 34h1M46 34h1M33 35h1M39 35h1M41 35h1M43 35h1M51 35h1M31 36h2M35 36h1M51 36h1M12 37h1M31 37h1M38 37h1M41 37h1M42 38h2M30 39h1M32 39h4M39 39h3M45 39h1M48 39h2M29 40h1M34 40h1M36 40h2M40 40h1M46 40h1M32 41h4M37 41h1M43 41h1M45 41h1M49 41h1M29 42h1M32 42h2M36 42h1M38 42h1M40 42h1M45 42h1M47 42h1M50 42h1M54 42h1M34 43h1M37 43h1M39 43h1M44 43h1M46 43h2M51 43h1M35 44h1M38 44h3M42 44h1M44 44h1M46 44h1M49 44h1M51 44h1M54 44h1M36 45h1M40 45h2M43 45h3M50 45h1M52 45h3M38 46h3M43 46h1M49 46h1M52 46h1M30 47h1M37 47h3M43 47h2M51 47h1M54 47h1M32 48h1M37 48h3M45 48h1M48 48h2M51 48h1M54 48h1M31 49h4M40 49h1M43 49h1M45 49h1M47 49h2M53 49h1M35 50h2M39 50h1M41 50h3M46 50h2M51 50h2M29 51h1M35 51h2M38 51h1M40 51h1M51 51h1M37 52h1M41 52h2M46 52h1M53 52h1M32 53h3M38 53h1M42 53h3M32 54h1M38 54h1M40 54h1M42 54h1M48 54h1M50 54h1M53 54h2"/>
<path stroke="#b1ff46" d="M24 0h1M26 0h2M34 0h1M19 1h1M21 2h1M23 2h1M28 2h1M19 3h1M21 3h1M26 3h1M25 4h1M27 4h1M19 5h1M21 5h1M22 6h1M24 6h2M26 7h2M30 9h1M35 9h1M35 10h2M44 10h1M46 10h2M34 11h3M45 11h1M47 11h1M34 12h1M45 12h1M51 12h1M31 13h1M33 13h2M44 13h1M47 13h2M53 13h1M1 14h1M27 14h1M34 14h1M36 14h2M42 14h2M45 14h1M48 14h1M34 15h1M36 15h3M43 15h1M47 15h1M49 15h1M53 15h1M32 16h1M34 16h1M39 16h1M47 16h1M52 16h1M54 16h1M35 17h3M40 17h1M47 17h1M52 17h2M35 18h1M39 18h2M46 18h1M39 19h1M45 19h1M47 19h1M49 19h3M35 20h2M44 20h1M48 20h1M50 20h1M52 20h1M37 21h2M44 21h1M48 21h1M35 22h1M40 22h1M47 22h1M49 22h1M53 22h1M32 23h1M34 23h2M37 23h1M40 23h2M45 23h1M33 24h2M36 24h3M41 24h1M34 25h1M36 25h1M40 25h4M45 25h1M52 25h2M32 26h1M35 26h2M41 26h1M46 26h1M37 27h1M39 27h1M41 27h1M30 28h1M33 28h3M37 28h1M44 28h2M52 28h2M30 29h1M33 29h1M35 29h1M39 29h1M44 29h1M46 29h1M51 29h1M4 30h2M36 30h2M39 30h4M46 30h1M49 30h1M52 30h1M37 31h2M43 31h2M52 31h1M33 32h2M37 32h1M42 32h2M45 32h1M53 32h1M38 33h1M54 33h1M48 34h1M50 34h1M52 34h1M54 34h1M30 35h1M36 35h1M38 35h1M42 35h1M33 36h2M37 36h1M40 36h2M43 36h3M34 37h4M40 37h1M43 37h1M45 37h3M32 38h1M34 38h1M45 38h2M48 38h1M51 38h2M38 39h1M43 39h1M47 39h1M51 39h1M53 39h1M27 40h1M38 40h1M42 40h1M44 40h1M48 40h1M50 40h3M54 40h1M36 41h1M38 41h3M47 41h1M50 41h5M46 42h1M49 42h1M53 42h1M33 43h1M38 43h1M40 43h3M48 43h2M54 43h1M37 44h1M43 44h1M50 44h1M52 44h1M38 45h1M48 45h2M51 45h1M47 46h1M40 47h1M47 47h1M52 47h2M39 49h1M54 49h1M48 50h1M50 50h1M53 50h1M37 51h1M39 51h1M41 51h2M47 51h2M52 51h1M30 52h2M40 52h1M47 52h1M50 52h1M54 52h1M47 53h1M52 53h2M39 54h1M41 54h1M45 54h1M51 54h1"/>
<path stroke="#d5ff22" d="M20 0h1M20 1h1M19 2h2M22 2h1M26 2h1M22 3h1M20 4h3M20 5h1M19 6h1M27 6h1M46 12h1M32 14h1M54 14h1M33 15h1M38 16h1M44 18h2M54 18h1M46 19h1M52 19h1M54 19h1M37 20h1M52 21h3M41 22h1M43 22h1M39 23h1M42 23h2M51 23h1M40 24h1M44 24h1M52 24h1M35 25h1M37 25h2M37 26h1M39 26h2M44 26h2M36 27h1M40 27h1M36 28h1M40 28h2M43 28h1M32 29h1M34 29h1M36 29h1M45 29h1M53 29h1M44 30h2M48 30h1M53 30h1M32 31h2M41 31h1M46 31h1M48 31h2M51 31h1M54 31h1M49 32h1M52 32h1M54 32h1M44 33h1M46 33h3M50 33h1M52 33h2M38 34h1M40 34h1M44 34h2M47 34h1M49 34h1M51 34h1M53 34h1M44 35h2M47 35h1M52 35h2M39 36h1M42 36h1M48 36h1M33 37h1M44 37h1M51 37h1M33 38h1M37 38h1M39 38h1M44 38h1M47 38h1M49 38h1M53 38h2M36 39h2M42 39h1M44 39h1M46 39h1M52 39h1M54 39h1M39 40h1M43 40h1M47 40h1M53 40h1M48 41h1M39 42h1M41 42h1M51 42h1M42 45h1M46 49h1M50 49h1M49 50h1M49 51h1M53 51h2M43 52h1M40 53h2M50 53h2M54 53h1M46 54h1"/>
<path stroke="#f9f400" d="M21 0h1M25 0h1M21 1h1M25 1h2M20 3h1M23 3h1M24 4h1M43 16h1M53 20h2M54 22h1M36 23h1M44 25h1M41 29h1M52 29h1M33 30h2M42 31h1M50 31h1M48 32h1M50 32h2M49 33h1M51 33h1M37 34h1M40 35h1M46 35h1M49 35h2M54 35h1M50 36h1M53 36h2M48 37h1M50 37h1M54 37h1M35 38h1M50 38h1M49 40h1M52 42h1M45 43h1M41 44h1M49 49h1"/>
<path stroke="#ffca00" d="M24 1h1M25 3h1M23 4h1M46 15h1M48 35h1M46 36h2M49 36h1M52 36h1M49 37h1M52 37h2M36 38h1M48 42h1"/>
<path stroke="#ffa100" d="M22 0h2M22 1h2M24 2h2M24 3h1"/>
</g></svg>
<rect x="1582.3" y="1757.4" width="12.3" height="250.5" fill="url(#jetg)"/>
<text x="1595.3" y="1838.2" font-size="25" text-anchor="start" fill="#262626">70</text>
<text x="1595.3" y="1944.2" font-size="25" text-anchor="start" fill="#262626">60</text>
<text x="1440.5" y="1755.4" font-size="36" text-anchor="middle" fill="#262626">UapbMarianna</text>
<svg x="1709.2" y="1756.4" width="251.5" height="251.8" viewBox="0 0 55 55" preserveAspectRatio="none">
<rect width="55" height="55" fill="#0000e2"/>
<g transform="translate(0 .5)" stroke-width="1.06" fill="none">
<path stroke="#0000a7" d="M18 51h1M1 52h1M4 52h1M19 52h1M21 52h1M24 52h2M27 52h1M7 53h1M9 53h2M21 53h1M26 53h2M14 54h2M25 54h1"/>
<path stroke="#0000ba" d="M41 23h1M43 42h1M1 44h1M11 48h1M0 49h1M2 50h1M17 50h2M20 50h1M22 50h1M0 51h3M6 51h1M8 51h3M14 51h1M17 51h1M20 51h3M25 51h5M0 52h1M2 52h2M5 52h5M11 52h4M18 52h1M20 52h1M22 52h2M26 52h1M29 52h1M0 53h7M8 53h1M11 53h10M22 53h4M28 53h2M0 54h1M2 54h2M5 54h7M13 54h1M17 54h1M19 54h6M26 54h4"/>
<path stroke="#0000ce" d="M41 15h1M46 15h1M49 15h3M40 16h1M44 16h3M50 16h2M53 16h1M41 17h1M45 17h4M50 17h2M40 18h2M50 18h1M34 19h1M39 19h1M41 19h1M46 19h2M50 19h3M40 20h1M43 20h1M45 20h2M36 21h1M38 21h2M44 21h2M51 21h1M29 22h1M37 22h1M40 22h2M45 22h1M49 22h1M32 23h1M36 23h1M40 23h1M42 23h1M44 23h2M52 23h2M33 24h1M37 24h1M39 24h3M45 24h2M48 24h1M53 24h1M25 25h1M33 25h1M36 25h1M39 25h3M47 25h2M23 26h1M26 26h1M35 26h1M43 26h1M45 26h2M49 26h1M54 26h1M23 27h1M27 27h2M32 27h1M34 27h1M38 27h1M41 27h1M44 27h2M52 27h1M54 27h1M31 28h4M38 28h1M40 28h1M42 28h1M44 28h1M47 28h1M20 29h1M27 29h1M34 29h1M42 29h2M45 29h1M47 29h1M51 29h1M23 30h1M25 30h1M31 30h2M37 30h1M44 30h2M48 30h1M22 31h3M29 31h1M31 31h3M45 31h1M48 31h1M54 31h1M23 32h1M25 32h1M31 32h1M37 32h1M40 32h1M42 32h1M45 32h1M48 32h1M29 33h2M39 33h2M44 33h1M48 33h2M23 34h1M28 34h1M36 34h1M40 34h1M54 34h1M37 35h1M40 35h1M48 35h1M53 35h1M17 36h1M22 36h2M31 36h1M34 36h1M36 36h1M44 36h1M52 36h1M14 37h1M17 37h1M34 37h1M36 37h1M42 37h1M44 37h1M54 37h1M16 38h1M19 38h1M32 38h1M35 38h1M39 38h1M42 38h1M45 38h2M52 38h3M23 39h3M28 39h1M51 39h1M15 40h1M20 40h1M22 40h3M26 40h1M43 40h1M52 40h1M54 40h1M12 41h1M14 41h2M18 41h4M42 41h3M47 41h1M53 41h2M10 42h1M14 42h1M18 42h1M27 42h1M30 42h1M44 42h1M47 42h1M50 42h2M54 42h1M10 43h1M17 43h2M24 43h1M49 43h1M54 43h1M2 44h1M16 44h1M25 44h1M28 44h1M30 44h1M1 45h2M7 45h1M17 45h1M26 45h1M2 46h1M6 46h1M8 46h3M17 46h1M25 46h1M28 46h1M31 46h1M0 47h1M7 47h1M10 47h2M13 47h2M16 47h3M21 47h2M26 47h4M32 47h1M0 48h1M7 48h2M18 48h1M24 48h2M27 48h3M31 48h3M1 49h3M5 49h6M12 49h1M15 49h2M19 49h6M26 49h7M0 50h2M3 50h1M6 50h1M8 50h4M13 50h4M19 50h1M21 50h1M23 50h5M29 50h3M3 51h3M7 51h1M12 51h2M15 51h2M19 51h1M23 51h2M30 51h3M10 52h1M15 52h3M28 52h1M31 52h1M30 53h1M52 53h1M1 54h1M4 54h1M12 54h1M16 54h1M18 54h1M30 54h1M49 54h4"/>
<path stroke="#0000f5" d="M31 0h2M38 0h3M46 0h2M49 0h1M53 0h2M27 1h1M37 1h1M39 1h1M41 1h2M47 1h3M53 1h1M25 2h1M32 2h2M42 2h2M54 2h1M31 3h1M42 3h1M53 3h1M29 4h1M42 4h1M51 4h2M43 5h1M52 5h3M52 6h3M43 7h1M44 8h1M44 9h1M53 9h1M40 10h1M42 10h1M48 10h1M50 10h1M54 10h1M39 11h1M41 11h1M43 11h2M47 11h1M51 11h1M38 12h2M42 12h3M46 12h2M49 12h1M37 13h4M43 13h4M51 13h4M36 14h2M40 14h2M44 14h3M48 14h1M51 14h1M54 14h1M9 15h1M36 15h1M38 15h2M42 15h1M48 15h1M6 16h1M8 16h4M20 16h3M26 16h1M29 16h6M36 16h2M8 17h8M17 17h1M21 17h2M26 17h1M28 17h2M31 17h3M35 17h1M42 17h1M9 18h1M11 18h4M20 18h3M26 18h3M31 18h3M36 18h1M54 18h1M10 19h3M17 19h1M22 19h1M24 19h1M26 19h2M30 19h1M32 19h2M36 19h1M17 20h2M20 20h1M23 20h1M25 20h1M30 20h1M32 20h2M35 20h2M41 20h1M13 21h1M22 21h3M26 21h1M52 21h1M13 22h1M16 22h1M19 22h1M21 22h3M25 22h3M51 22h1M7 23h1M9 23h3M17 23h2M20 23h3M24 23h2M28 23h1M50 23h1M7 24h2M10 24h2M18 24h3M23 24h1M28 24h1M34 24h1M50 24h1M1 25h1M8 25h2M17 25h2M52 25h2M0 26h2M16 26h4M36 26h1M51 26h1M0 27h1M2 27h1M17 27h2M21 27h1M43 27h1M49 27h1M51 27h1M0 28h3M17 28h1M22 28h1M29 28h1M1 29h1M18 29h1M40 29h1M46 29h1M54 29h1M0 30h1M18 30h1M38 30h1M12 31h1M16 31h2M20 31h2M39 31h1M14 32h1M16 32h1M18 32h1M21 32h1M35 32h1M12 33h7M20 33h1M25 33h1M33 33h2M11 34h3M15 34h3M45 34h1M11 35h2M19 35h1M24 35h1M26 35h1M34 35h1M38 35h1M10 36h1M14 36h1M19 36h1M25 36h1M42 36h1M46 36h1M50 36h1M9 37h2M16 37h1M32 37h1M7 38h4M27 38h1M33 38h1M41 38h1M48 38h1M8 39h2M18 39h1M29 39h2M40 39h1M48 39h2M5 40h2M8 40h2M21 40h1M35 40h1M37 40h1M50 40h2M2 41h4M8 41h1M13 41h1M31 41h2M34 41h3M38 41h2M0 42h3M4 42h2M8 42h1M24 42h1M33 42h2M37 42h1M39 42h3M4 43h1M12 43h1M22 43h1M32 43h3M36 43h1M39 43h2M45 43h1M6 44h1M11 44h1M21 44h1M32 44h2M37 44h2M40 44h1M42 44h1M53 44h1M12 45h2M19 45h2M32 45h3M36 45h1M38 45h2M42 45h1M44 45h5M54 45h1M7 46h1M23 46h1M33 46h1M35 46h2M38 46h7M46 46h5M53 46h1M2 47h3M35 47h2M38 47h1M40 47h1M47 47h1M50 47h3M34 48h3M39 48h1M46 48h1M48 48h1M51 48h3M35 49h2M47 49h1M49 49h4M54 49h1M34 50h2M52 50h3M46 51h2M52 51h1M46 52h1M53 52h1M46 53h1M54 53h1M33 54h2"/>
<path stroke="#0000ff" d="M22 0h9M33 0h5M41 0h5M48 0h1M50 0h3M23 1h4M28 1h9M38 1h1M40 1h1M43 1h1M46 1h1M50 1h3M54 1h1M23 2h2M26 2h1M28 2h4M36 2h6M44 2h10M25 3h2M29 3h2M32 3h9M43 3h4M48 3h5M54 3h1M27 4h1M30 4h2M33 4h1M41 4h1M43 4h2M48 4h3M53 4h2M29 5h2M32 5h1M42 5h1M44 5h1M47 5h2M51 5h1M41 6h1M43 6h2M49 6h1M42 7h1M51 7h2M54 7h1M41 8h3M53 8h2M38 9h5M45 9h2M52 9h1M54 9h1M38 10h2M41 10h1M43 10h5M49 10h1M51 10h2M38 11h1M40 11h1M48 11h3M52 11h3M36 12h2M45 12h1M48 12h1M50 12h5M35 13h2M47 13h1M49 13h2M16 14h1M34 14h2M4 15h2M7 15h2M15 15h2M20 15h3M30 15h6M5 16h1M7 16h1M12 16h2M15 16h3M19 16h1M23 16h1M25 16h1M27 16h2M35 16h1M5 17h3M16 17h1M18 17h3M23 17h2M27 17h1M34 17h1M7 18h1M10 18h1M15 18h3M19 18h1M23 18h3M14 19h1M16 19h1M18 19h4M23 19h1M25 19h1M8 20h3M13 20h4M19 20h1M21 20h2M24 20h1M26 20h1M9 21h4M14 21h8M25 21h1M8 22h1M10 22h1M12 22h1M14 22h2M17 22h2M20 22h1M24 22h1M3 23h1M5 23h2M8 23h1M12 23h5M19 23h1M0 24h3M5 24h2M9 24h1M13 24h5M0 25h1M2 25h1M4 25h4M10 25h3M14 25h1M16 25h1M2 26h9M12 26h1M15 26h1M1 27h1M3 27h1M5 27h1M13 27h4M3 28h1M13 28h1M16 28h1M0 29h1M2 29h2M14 29h1M16 29h2M1 30h3M14 30h4M1 31h3M13 31h3M11 32h3M11 33h1M9 34h2M8 35h3M45 35h1M7 36h3M6 37h3M5 38h2M4 39h1M6 39h2M3 40h2M7 40h1M0 41h2M35 42h2M38 42h1M35 43h1M37 43h2M34 44h3M39 44h1M35 45h1M37 45h1M40 45h2M37 46h1M45 46h1M52 46h1M54 46h1M41 47h6M48 47h2M53 47h2M38 48h1M40 48h3M45 48h1M47 48h1M49 48h2M54 48h1M37 49h3M44 49h3M53 49h1M36 50h2M46 50h1M34 51h4M45 51h1M34 52h2M44 52h2M34 53h1M35 54h1"/>
<path stroke="#000bff" d="M17 0h1M21 1h2M44 1h2M21 2h2M27 2h1M34 2h2M18 3h1M22 3h3M27 3h2M41 3h1M47 3h1M14 4h1M18 4h1M22 4h5M28 4h1M32 4h1M34 4h7M45 4h3M19 5h3M23 5h2M26 5h2M31 5h1M33 5h2M40 5h2M45 5h2M49 5h2M17 6h2M20 6h1M23 6h1M27 6h1M30 6h3M35 6h1M38 6h1M40 6h1M42 6h1M45 6h3M50 6h2M16 7h2M32 7h2M35 7h2M39 7h3M44 7h4M49 7h2M53 7h1M36 8h5M45 8h8M35 9h3M43 9h1M47 9h5M34 10h4M53 10h1M34 11h4M45 11h2M32 12h1M34 12h2M31 13h4M7 14h4M12 14h1M15 14h1M17 14h1M21 14h5M28 14h6M6 15h1M10 15h5M17 15h3M23 15h1M25 15h5M2 16h3M14 16h1M18 16h1M24 16h1M2 17h3M5 18h2M8 18h1M18 18h1M7 19h3M15 19h1M7 20h1M6 21h3M3 22h1M5 22h3M9 22h1M11 22h1M0 23h3M4 23h1M3 24h2M12 24h1M3 25h1M13 25h1M15 25h1M11 26h1M13 26h2M4 27h1M6 27h4M11 27h2M4 28h2M8 28h2M11 28h2M14 28h2M4 29h2M7 29h2M13 29h1M15 29h1M4 30h1M12 30h2M0 31h1M4 31h1M9 31h1M0 32h4M10 32h1M0 33h5M6 33h1M9 33h2M0 34h1M3 34h4M8 34h1M4 35h1M7 35h1M3 36h1M5 36h2M0 37h1M4 37h2M3 38h2M2 39h2M5 39h1M0 40h3M43 48h2M40 49h4M38 50h4M43 50h3M38 51h2M42 51h3M36 52h3M41 52h1M43 52h1M35 53h5M42 53h2M45 53h1M36 54h2M44 54h2"/>
<path stroke="#001cff" d="M14 0h3M18 0h2M21 0h1M14 1h1M16 1h5M14 2h2M19 2h2M14 3h4M19 3h3M13 4h1M15 4h3M19 4h3M13 5h3M17 5h2M22 5h1M25 5h1M28 5h1M35 5h5M14 6h3M19 6h1M21 6h2M24 6h3M28 6h2M33 6h2M36 6h2M39 6h1M48 6h1M15 7h1M18 7h3M23 7h6M30 7h2M37 7h2M48 7h1M15 8h1M17 8h1M22 8h1M24 8h1M27 8h1M31 8h5M31 9h1M32 11h2M31 12h1M33 12h1M9 13h2M13 13h1M15 13h3M19 13h1M22 13h6M29 13h2M0 14h1M5 14h2M11 14h1M13 14h2M18 14h3M26 14h2M0 15h4M24 15h1M0 16h2M0 17h2M2 18h3M2 19h1M4 19h1M6 19h1M3 20h1M5 20h2M3 21h3M1 22h2M4 22h1M10 27h1M6 28h2M10 28h1M6 29h1M9 29h4M5 30h7M5 31h1M7 31h2M10 31h2M4 32h6M5 33h1M7 33h2M1 34h2M7 34h1M0 35h4M5 35h2M0 36h3M1 37h3M1 38h2M0 39h2M42 50h1M40 51h2M39 52h2M42 52h1M40 53h2M44 53h1M38 54h3M42 54h2"/>
<path stroke="#002dff" d="M12 0h2M20 0h1M12 1h2M15 1h1M12 2h2M16 2h3M11 3h3M11 4h2M10 5h3M16 5h1M10 6h1M13 6h1M12 7h3M21 7h2M29 7h1M34 7h1M12 8h3M16 8h1M18 8h2M21 8h1M23 8h1M25 8h2M28 8h2M14 9h4M25 9h6M32 9h3M14 10h3M25 10h2M28 10h1M30 10h1M32 10h2M16 11h1M24 11h1M29 11h1M31 11h1M6 12h1M15 12h3M24 12h7M5 13h2M8 13h1M11 13h2M14 13h1M18 13h1M20 13h2M28 13h1M1 14h4M0 18h2M1 19h1M3 19h1M5 19h1M1 20h2M4 20h1M1 21h2M0 22h1M6 31h1M4 36h1M0 38h1M41 54h1"/>
<path stroke="#003fff" d="M9 0h1M11 0h1M9 1h1M11 1h1M10 2h2M9 3h2M9 4h2M7 5h3M6 6h4M11 6h2M5 7h7M2 8h1M5 8h1M8 8h3M20 8h1M30 8h1M5 9h2M13 9h1M18 9h3M22 9h3M17 10h2M23 10h2M27 10h1M29 10h1M31 10h1M7 11h2M14 11h2M17 11h1M25 11h4M30 11h1M4 12h1M7 12h3M11 12h4M18 12h1M22 12h2M0 13h2M3 13h2M7 13h1M0 19h1M0 20h1M0 21h1"/>
<path stroke="#0050ff" d="M10 0h1M10 1h1M8 2h2M8 3h1M7 4h1M6 5h1M5 6h1M0 7h1M2 7h3M0 8h2M4 8h1M6 8h2M11 8h1M0 9h3M4 9h1M7 9h6M21 9h1M0 10h3M4 10h1M6 10h1M8 10h2M12 10h2M19 10h1M22 10h1M0 11h3M4 11h3M9 11h5M18 11h3M22 11h2M0 12h4M5 12h1M10 12h1M19 12h3M2 13h1"/>
<path stroke="#0061ff" d="M7 0h2M8 1h1M7 2h1M7 3h1M6 4h1M8 4h1M5 5h1M2 6h1M4 6h1M1 7h1M3 8h1M3 9h1M3 10h1M5 10h1M7 10h1M10 10h2M20 10h2M3 11h1M21 11h1"/>
<path stroke="#0073ff" d="M6 3h1M0 6h2M3 6h1"/>
<path stroke="#0084ff" d="M6 1h2M6 2h1M4 4h2M3 5h2"/>
<path stroke="#0095ff" d="M6 0h1M5 3h1M1 5h2"/>
<path stroke="#00a6ff" d="M5 2h1M4 3h1M3 4h1M0 5h1"/>
<path stroke="#00b8ff" d="M5 0h1M5 1h1"/>
<path stroke="#00c9ff" d="M0 4h1M2 4h1"/>
<path stroke="#00daff" d="M4 2h1M3 3h1M1 4h1"/>
<path stroke="#05ecf2" d="M4 0h1M2 3h1"/>
<path stroke="#13fde4" d="M4 1h1M3 2h1"/>
<path stroke="#21ffd6" d="M0 3h2"/>
<path stroke="#2fffc8" d="M3 0h1M3 1h1M2 2h1"/>
<path stroke="#3dffba" d="M2 1h1M0 2h2"/>
<path stroke="#4bffac" d="M1 0h2M1 1h1"/>
<path stroke="#59ff9e" d="M0 1h1"/>
<path stroke="#66ff90" d="M0 0h1"/>
</g></svg>
<rect x="1976.7" y="1757.4" width="12.3" height="250.5" fill="url(#jetg)"/>
<text x="1989.7" y="1793.7" font-size="25" text-anchor="start" fill="#262626">250</text>
<text x="1989.7" y="1860.9" font-size="25" text-anchor="start" fill="#262626">200</text>
<text x="1989.7" y="1928" font-size="25" text-anchor="start" fill="#262626">150</text>
<text x="1989.7" y="1995.2" font-size="25" text-anchor="start" fill="#262626">100</text>
<text x="1835" y="1755.4" font-size="36" text-anchor="middle" fill="#262626">UapbPointRemove</text>
<svg x="2100.5" y="1756.4" width="251.5" height="251.8" viewBox="0 0 55 55" preserveAspectRatio="none">
<rect width="55" height="55" fill="#008bff"/>
<g transform="translate(0 .5)" stroke-width="1.06" fill="none">
<path stroke="#0000e4" d="M22 40h1M5 47h1M2 48h1M33 51h1M30 54h1"/>
<path stroke="#0006ff" d="M11 24h3M9 25h2M12 25h2M16 32h1M18 36h2M19 38h1M21 38h1M26 38h1M18 39h1M21 39h1M18 40h1M21 41h3M15 42h1M20 42h3M25 42h1M0 43h2M16 43h2M19 43h1M22 43h1M0 44h1M16 44h2M19 44h1M26 44h1M0 45h1M16 45h3M24 45h2M29 45h2M2 46h1M4 46h1M23 46h4M30 46h2M1 47h3M17 47h1M20 47h1M25 47h1M28 47h2M31 47h1M1 48h1M5 48h1M7 48h1M16 48h1M18 48h1M20 48h1M23 48h1M25 48h1M28 48h2M36 48h1M15 49h2M30 49h1M1 50h1M14 50h1M23 50h1M32 50h1M41 50h1M12 51h1M23 51h2M26 51h1M28 51h1M30 51h1M32 51h1M4 52h3M10 52h2M28 52h2M32 52h3M36 52h3M43 52h1M5 53h2M27 53h3M31 53h1M38 53h1M49 53h1M1 54h3M22 54h1M27 54h3M41 54h1M44 54h1"/>
<path stroke="#0032ff" d="M11 20h1M11 23h2M9 24h2M14 24h1M11 25h1M26 25h1M7 26h3M17 27h1M28 27h1M16 28h1M12 29h1M13 30h1M12 31h1M31 31h1M31 32h1M15 33h1M17 33h1M13 34h1M15 34h1M17 34h1M33 34h1M14 35h2M18 35h1M30 35h1M7 36h1M14 36h2M17 36h1M20 36h1M22 36h2M9 37h1M14 37h3M21 37h2M14 38h1M16 38h3M20 38h1M23 38h1M27 38h1M40 38h1M14 39h1M16 39h2M19 39h2M22 39h5M13 40h5M19 40h3M23 40h2M26 40h1M43 40h1M16 41h2M20 41h1M25 41h2M46 41h1M0 42h3M13 42h1M16 42h3M23 42h2M26 42h2M3 43h1M20 43h2M23 43h1M25 43h4M1 44h5M14 44h2M18 44h1M21 44h2M24 44h1M27 44h2M30 44h1M41 44h1M1 45h2M4 45h2M14 45h2M19 45h1M22 45h1M26 45h3M31 45h1M39 45h1M41 45h1M0 46h2M3 46h1M5 46h1M16 46h4M22 46h1M28 46h2M32 46h1M39 46h1M0 47h1M4 47h1M6 47h1M19 47h1M22 47h3M26 47h1M30 47h1M36 47h1M38 47h1M0 48h1M3 48h2M8 48h2M17 48h1M19 48h1M22 48h1M26 48h2M30 48h4M35 48h1M37 48h3M1 49h6M8 49h2M13 49h2M17 49h3M21 49h1M23 49h2M26 49h1M29 49h1M31 49h12M0 50h1M2 50h1M5 50h6M13 50h1M16 50h1M20 50h1M22 50h1M24 50h4M29 50h2M33 50h1M35 50h1M38 50h3M42 50h1M44 50h1M47 50h2M0 51h9M11 51h1M13 51h1M15 51h1M18 51h1M21 51h2M31 51h1M34 51h7M42 51h2M45 51h1M47 51h2M50 51h1M0 52h1M2 52h1M7 52h1M9 52h1M12 52h1M17 52h2M20 52h1M25 52h3M30 52h1M35 52h1M40 52h3M45 52h1M47 52h5M1 53h2M4 53h1M7 53h5M17 53h2M21 53h1M24 53h3M30 53h1M32 53h4M37 53h1M40 53h1M42 53h3M46 53h3M0 54h1M6 54h7M16 54h1M19 54h2M23 54h1M25 54h2M31 54h2M36 54h2M39 54h2M42 54h2M46 54h4"/>
<path stroke="#005eff" d="M1 10h1M3 10h1M16 10h2M0 11h1M2 11h1M0 12h1M0 13h1M4 13h1M0 14h2M4 14h2M4 15h2M5 18h1M7 18h1M9 18h1M11 18h2M4 19h2M24 19h2M8 20h3M12 20h1M28 20h2M6 21h1M9 21h2M27 21h3M8 22h1M10 22h1M12 22h1M26 22h1M28 22h2M31 22h1M6 23h1M9 23h2M13 23h1M27 23h3M7 24h2M28 24h1M8 25h1M14 25h1M25 25h1M6 26h1M10 26h5M16 26h1M24 26h2M28 26h1M2 27h1M4 27h2M7 27h2M11 27h3M15 27h1M19 27h1M26 27h2M29 27h1M2 28h1M9 28h1M11 28h4M25 28h1M30 28h1M32 28h1M10 29h2M13 29h2M18 29h1M23 29h1M29 29h5M35 29h1M0 30h2M4 30h2M7 30h2M12 30h1M14 30h2M30 30h2M33 30h2M0 31h1M4 31h1M6 31h2M13 31h2M17 31h1M23 31h1M30 31h1M34 31h1M1 32h3M11 32h1M15 32h1M17 32h1M30 32h1M1 33h2M6 33h2M10 33h1M13 33h2M16 33h1M18 33h2M29 33h1M32 33h2M42 33h1M1 34h1M7 34h3M12 34h1M14 34h1M16 34h1M18 34h1M22 34h1M25 34h1M27 34h1M29 34h3M34 34h1M0 35h1M4 35h1M6 35h2M16 35h1M19 35h4M28 35h2M32 35h4M42 35h2M0 36h1M4 36h1M9 36h2M16 36h1M21 36h1M30 36h1M32 36h1M34 36h1M42 36h1M45 36h1M10 37h2M17 37h4M23 37h1M25 37h1M32 37h1M41 37h4M47 37h1M2 38h1M4 38h2M8 38h1M13 38h1M15 38h1M22 38h1M24 38h1M28 38h2M39 38h1M41 38h4M2 39h1M5 39h1M7 39h1M10 39h1M12 39h1M15 39h1M27 39h2M30 39h1M35 39h2M38 39h1M43 39h3M0 40h1M3 40h1M9 40h2M12 40h1M25 40h1M28 40h1M34 40h1M37 40h4M42 40h1M44 40h1M46 40h2M2 41h3M9 41h1M13 41h3M18 41h2M24 41h1M27 41h3M31 41h1M39 41h5M45 41h1M48 41h1M3 42h2M6 42h1M8 42h1M10 42h1M12 42h1M14 42h1M19 42h1M28 42h3M40 42h1M42 42h2M46 42h2M49 42h2M52 42h2M2 43h1M8 43h1M14 43h2M18 43h1M24 43h1M29 43h3M41 43h2M44 43h1M46 43h2M50 43h3M54 43h1M10 44h1M13 44h1M20 44h1M23 44h1M25 44h1M29 44h1M31 44h1M38 44h1M45 44h1M47 44h1M49 44h2M52 44h1M3 45h1M7 45h3M20 45h2M23 45h1M32 45h2M37 45h2M40 45h1M42 45h1M45 45h2M48 45h2M51 45h1M6 46h1M9 46h2M14 46h2M20 46h2M27 46h1M34 46h1M38 46h1M41 46h2M49 46h1M8 47h1M11 47h1M14 47h3M18 47h1M21 47h1M32 47h4M37 47h1M39 47h3M6 48h1M11 48h2M14 48h2M21 48h1M24 48h1M34 48h1M40 48h1M43 48h1M48 48h1M0 49h1M7 49h1M10 49h1M20 49h1M22 49h1M25 49h1M27 49h2M43 49h1M46 49h3M50 49h1M3 50h2M15 50h1M17 50h3M21 50h1M31 50h1M34 50h1M36 50h2M43 50h1M45 50h2M9 51h2M14 51h1M16 51h2M19 51h2M25 51h1M27 51h1M29 51h1M41 51h1M44 51h1M46 51h1M49 51h1M51 51h1M1 52h1M3 52h1M8 52h1M13 52h4M19 52h1M21 52h4M31 52h1M39 52h1M44 52h1M46 52h1M0 53h1M3 53h1M12 53h5M19 53h2M22 53h2M36 53h1M39 53h1M41 53h1M45 53h1M50 53h1M4 54h2M13 54h2M17 54h2M21 54h1M24 54h1M33 54h3M38 54h1M45 54h1M50 54h3M54 54h1"/>
<path stroke="#00b7ff" d="M16 0h1M15 1h3M1 2h2M18 2h1M0 3h1M2 3h2M16 3h1M0 4h1M2 4h3M17 4h1M1 5h3M17 5h1M22 5h1M0 6h2M3 6h1M7 6h1M22 6h4M1 7h4M16 7h2M20 7h3M25 7h1M0 8h3M7 8h1M20 8h1M22 8h1M24 8h1M1 9h1M3 9h3M13 9h1M15 9h1M17 9h1M21 9h1M23 9h1M25 9h1M2 10h1M13 10h3M19 10h1M25 10h2M31 10h1M33 10h1M4 11h2M12 11h2M18 11h1M21 11h1M33 11h1M2 12h1M4 12h1M6 12h3M10 12h2M14 12h1M16 12h3M26 12h2M7 13h6M14 13h1M16 13h1M18 13h3M24 13h2M27 13h1M33 13h1M8 14h3M12 14h1M21 14h1M23 14h1M27 14h2M32 14h1M2 15h1M9 15h1M11 15h1M20 15h1M23 15h1M25 15h1M28 15h4M2 16h2M5 16h1M9 16h1M11 16h2M20 16h1M25 16h1M27 16h6M9 17h1M12 17h3M23 17h1M25 17h1M29 17h2M33 17h2M0 18h1M2 18h2M13 18h2M22 18h1M26 18h1M28 18h4M34 18h2M0 19h1M2 19h1M6 19h1M29 19h2M32 19h1M3 20h1M18 20h1M21 20h2M24 20h1M26 20h1M33 20h1M3 21h2M13 21h3M18 21h1M21 21h1M23 21h1M26 21h1M31 21h1M4 22h2M15 22h3M22 22h2M25 22h1M32 22h1M4 23h2M7 23h1M15 23h3M20 23h1M25 23h2M31 23h1M33 23h1M17 24h2M20 24h3M24 24h1M30 24h3M34 24h1M2 25h1M19 25h1M21 25h1M31 25h1M34 25h1M39 25h2M1 26h3M19 26h2M22 26h2M30 26h1M33 26h3M37 26h3M41 26h1M45 26h1M1 27h1M3 27h1M18 27h1M20 27h1M31 27h1M33 27h1M43 27h1M0 28h1M3 28h3M8 28h1M21 28h1M23 28h1M29 28h1M34 28h2M40 28h2M47 28h1M1 29h1M4 29h1M6 29h1M19 29h4M28 29h1M37 29h2M40 29h2M6 30h1M16 30h1M19 30h2M22 30h1M28 30h1M41 30h1M44 30h2M1 31h1M11 31h1M18 31h5M25 31h3M35 31h3M41 31h3M45 31h3M0 32h1M10 32h1M20 32h1M24 32h2M28 32h2M33 32h1M36 32h1M38 32h1M44 32h1M46 32h1M8 33h2M21 33h1M28 33h1M39 33h1M41 33h1M44 33h1M47 33h1M3 34h1M23 34h2M37 34h2M40 34h2M45 34h1M47 34h1M2 35h2M26 35h1M38 35h3M47 35h2M2 36h1M5 36h1M35 36h4M40 36h1M47 36h4M6 37h2M12 37h1M36 37h1M38 37h1M45 37h2M48 37h1M50 37h2M31 38h2M34 38h3M48 38h1M52 38h1M4 39h1M32 39h1M51 39h1M5 40h1M7 40h1M11 40h1M30 40h1M33 40h1M49 40h2M52 40h2M8 41h1M34 41h3M50 41h2M54 41h1M33 42h2M38 42h1M51 42h1M54 42h1M10 43h1M32 43h2M35 43h2M38 43h1M49 43h1M7 44h1M11 44h2M32 44h2M35 44h1M53 44h2M36 45h1M11 46h1M47 47h2M50 47h3M10 48h1M47 48h1M51 48h1M54 48h1M52 49h1M49 50h1M52 50h1M54 51h1M54 52h1"/>
<path stroke="#00e3f9" d="M0 0h1M2 0h1M14 0h2M17 0h4M0 1h2M13 1h2M18 1h2M21 1h2M0 2h1M11 2h1M15 2h3M19 2h3M1 3h1M4 3h1M15 3h1M17 3h1M19 3h1M21 3h2M29 3h1M1 4h1M5 4h2M16 4h1M18 4h2M21 4h1M24 4h1M0 5h1M5 5h1M7 5h1M15 5h2M18 5h4M23 5h2M28 5h1M5 6h2M8 6h2M15 6h7M26 6h1M5 7h4M12 7h1M15 7h1M18 7h1M24 7h1M26 7h1M5 8h2M8 8h2M11 8h1M13 8h7M25 8h2M6 9h1M10 9h1M18 9h2M22 9h1M24 9h1M26 9h4M5 10h1M9 10h1M11 10h2M20 10h3M24 10h1M27 10h1M29 10h2M35 10h1M41 10h1M7 11h5M19 11h2M22 11h3M27 11h4M32 11h1M34 11h2M12 12h2M19 12h1M21 12h5M28 12h2M31 12h2M35 12h2M13 13h1M15 13h1M17 13h1M21 13h3M26 13h1M28 13h1M31 13h1M34 13h1M37 13h1M13 14h1M16 14h1M18 14h1M20 14h1M22 14h1M24 14h3M29 14h3M33 14h2M12 15h1M19 15h1M21 15h1M24 15h1M26 15h2M32 15h1M34 15h1M36 15h1M13 16h1M21 16h4M26 16h1M33 16h2M20 17h3M24 17h1M27 17h2M32 17h1M36 17h1M15 18h2M20 18h2M32 18h2M37 18h1M1 19h1M3 19h1M13 19h3M17 19h2M21 19h2M33 19h4M1 20h2M4 20h1M14 20h2M17 20h1M19 20h2M23 20h1M32 20h1M34 20h1M36 20h1M47 20h1M0 21h2M16 21h1M19 21h1M22 21h1M33 21h1M36 21h1M0 22h1M2 22h2M18 22h1M20 22h2M33 22h1M36 22h1M1 23h1M18 23h2M21 23h1M34 23h1M36 23h2M2 24h4M19 24h1M33 24h1M35 24h1M37 24h2M43 24h2M1 25h1M3 25h1M20 25h1M33 25h1M38 25h1M41 25h1M43 25h2M0 26h1M40 26h1M42 26h3M35 27h8M45 27h1M36 28h2M44 28h2M48 28h1M5 29h1M27 29h1M36 29h1M39 29h1M42 29h4M48 29h1M26 30h1M37 30h4M43 30h1M46 30h4M38 31h3M44 31h1M48 31h4M37 32h1M39 32h1M45 32h1M47 32h2M50 32h1M36 33h2M48 33h2M36 34h1M39 34h1M48 34h1M25 35h1M37 35h1M49 35h1M25 36h1M51 36h1M49 37h1M53 37h1M50 38h2M53 38h2M49 39h1M53 39h1M51 40h1M35 42h1M34 43h1M53 45h2M52 46h1M54 46h1M53 47h2M52 48h1M53 49h1M54 50h1"/>
<path stroke="#22ffd5" d="M1 0h1M3 0h3M21 0h2M43 0h1M2 1h5M10 1h1M12 1h1M20 1h1M23 1h1M26 1h2M45 1h1M3 2h4M12 2h3M22 2h1M24 2h1M26 2h1M28 2h1M44 2h2M6 3h1M10 3h1M12 3h3M20 3h1M23 3h5M7 4h1M10 4h2M13 4h3M20 4h1M22 4h2M26 4h3M41 4h1M4 5h1M6 5h1M8 5h1M10 5h1M25 5h3M38 5h3M4 6h1M14 6h1M27 6h1M29 6h1M43 6h1M9 7h3M14 7h1M19 7h1M27 7h1M31 7h1M35 7h1M38 7h1M42 7h2M10 8h1M12 8h1M21 8h1M23 8h1M27 8h2M30 8h7M39 8h1M42 8h1M7 9h3M11 9h2M20 9h1M30 9h7M40 9h2M6 10h2M10 10h1M23 10h1M28 10h1M32 10h1M36 10h2M52 10h1M6 11h1M25 11h2M31 11h1M37 11h1M41 11h1M52 11h3M9 12h1M20 12h1M30 12h1M33 12h2M29 13h2M32 13h1M35 13h1M39 13h2M14 14h2M17 14h1M35 14h1M38 14h2M13 15h1M18 15h1M33 15h1M35 15h1M37 15h1M14 16h1M16 16h1M18 16h2M35 16h1M39 16h2M44 16h1M15 17h5M35 17h1M37 17h2M17 18h1M19 18h1M36 18h1M16 19h1M19 19h2M37 19h1M16 20h1M35 20h1M46 20h1M2 21h1M17 21h1M20 21h1M34 21h2M37 21h1M1 22h1M19 22h1M34 22h2M37 22h1M43 22h1M46 22h1M50 22h1M53 22h1M0 23h1M2 23h2M35 23h1M38 23h1M43 23h1M51 23h2M1 24h1M36 24h1M39 24h4M45 24h2M51 24h1M0 25h1M37 25h1M42 25h1M45 25h3M54 25h1M36 26h1M49 26h2M53 26h1M44 27h1M46 27h3M38 28h2M43 28h1M46 28h1M46 29h2M49 29h1M53 29h2M42 30h1M50 30h1M54 30h1M49 32h1M51 32h2M38 33h1M50 33h1M54 33h1M49 34h2M53 34h1M52 35h2M52 37h1M54 37h1M52 39h1M54 39h1M53 46h1M53 48h1M54 49h1M53 50h1"/>
<path stroke="#46ffb1" d="M7 0h5M13 0h1M23 0h1M25 0h3M44 0h1M47 0h2M7 1h3M11 1h1M25 1h1M28 1h2M43 1h1M46 1h1M8 2h2M23 2h1M27 2h1M42 2h2M46 2h3M5 3h1M7 3h1M9 3h1M11 3h1M28 3h1M30 3h1M43 3h3M8 4h2M12 4h1M25 4h1M29 4h1M39 4h1M42 4h1M44 4h2M52 4h1M54 4h1M9 5h1M11 5h1M13 5h2M36 5h1M42 5h4M53 5h1M11 6h3M28 6h1M35 6h3M39 6h4M46 6h1M51 6h2M54 6h1M13 7h1M28 7h1M30 7h1M33 7h2M36 7h2M39 7h1M41 7h1M45 7h1M52 7h2M29 8h1M37 8h2M40 8h2M43 8h1M53 8h2M37 9h3M42 9h1M50 9h1M52 9h3M8 10h1M34 10h1M38 10h1M40 10h1M42 10h1M44 10h1M51 10h1M53 10h2M36 11h1M42 11h2M37 12h1M42 12h1M51 12h1M53 12h2M36 13h1M38 13h1M42 13h3M36 14h2M40 14h4M14 15h4M38 15h4M43 15h2M15 16h1M17 16h1M36 16h3M42 16h2M40 17h6M18 18h1M38 18h3M43 18h1M54 18h1M38 19h2M41 19h3M46 19h1M48 19h1M37 20h2M41 20h5M48 20h1M50 20h4M38 21h1M42 21h7M50 21h5M38 22h3M42 22h1M44 22h2M47 22h3M52 22h1M54 22h1M39 23h2M42 23h1M44 23h4M50 23h1M53 23h2M0 24h1M47 24h1M49 24h1M52 24h1M54 24h1M48 25h4M46 26h3M52 26h1M54 26h1M51 27h2M49 28h5M50 29h2M51 30h1M52 31h1M54 31h1M53 32h1M51 33h1M52 34h1M54 34h1M50 35h2M54 35h1M52 36h3"/>
<path stroke="#6aff8d" d="M6 0h1M24 0h1M28 0h1M30 0h1M41 0h2M45 0h2M49 0h1M51 0h1M24 1h1M30 1h1M41 1h2M44 1h1M47 1h6M7 2h1M10 2h1M25 2h1M29 2h2M40 2h2M49 2h1M51 2h2M54 2h1M8 3h1M40 3h3M46 3h2M49 3h2M53 3h1M30 4h1M37 4h2M40 4h1M43 4h1M46 4h1M48 4h1M53 4h1M12 5h1M29 5h2M32 5h1M37 5h1M41 5h1M46 5h1M48 5h1M51 5h2M54 5h1M10 6h1M30 6h5M38 6h1M44 6h2M48 6h2M53 6h1M29 7h1M32 7h1M40 7h1M44 7h1M46 7h1M54 7h1M44 8h1M46 8h1M51 8h2M43 9h2M51 9h1M39 10h1M43 10h1M38 11h1M40 11h1M44 11h2M51 11h1M38 12h1M40 12h2M43 12h2M52 12h1M41 13h1M51 13h1M53 13h1M44 14h3M45 15h1M47 15h1M41 16h1M46 16h1M53 16h1M39 17h1M48 17h1M53 17h1M41 18h2M44 18h5M51 18h1M40 19h1M44 19h2M47 19h1M50 19h1M52 19h3M40 20h1M49 20h1M54 20h1M39 21h3M49 21h1M41 22h1M51 22h1M41 23h1M48 24h1M50 24h1M52 25h2M51 26h1M49 27h2M53 27h2M54 28h1M52 29h1M52 30h2M53 31h1M54 32h1M53 33h1M51 34h1"/>
<path stroke="#8dff6a" d="M12 0h1M29 0h1M40 0h1M52 0h2M39 1h1M39 2h1M50 2h1M53 2h1M31 3h2M38 3h2M48 3h1M51 3h2M54 3h1M31 4h1M36 4h1M47 4h1M49 4h3M31 5h1M33 5h3M47 5h1M49 5h2M47 6h1M50 6h1M47 7h1M49 7h3M45 8h1M49 8h2M45 9h3M49 9h1M45 10h3M49 10h2M47 11h2M39 12h1M45 12h2M48 12h1M50 12h1M45 13h1M47 13h1M49 13h2M52 13h1M54 13h1M47 14h6M54 14h1M42 15h1M46 15h1M51 15h4M45 16h1M50 16h3M54 16h1M46 17h2M49 17h4M54 17h1M49 18h2M52 18h2M49 19h1M51 19h1M39 20h1M48 23h2M53 24h1M52 33h1"/>
<path stroke="#b1ff46" d="M38 0h2M50 0h1M54 0h1M31 1h1M38 1h1M40 1h1M53 1h2M31 2h1M38 2h1M32 4h4M48 7h1M47 8h2M48 9h1M48 10h1M39 11h1M46 11h1M49 11h2M47 12h1M49 12h1M46 13h1M48 13h1M53 14h1M48 15h2M47 16h3"/>
<path stroke="#d5ff22" d="M31 0h1M33 2h1M37 2h1M33 3h2M36 3h2M50 15h1"/>
<path stroke="#f9f400" d="M32 0h1M37 0h1M32 1h1M36 1h1M32 2h1M36 2h1M35 3h1"/>
<path stroke="#ffca00" d="M36 0h1M33 1h1M37 1h1M34 2h1"/>
<path stroke="#ffa100" d="M33 0h3M34 1h2M35 2h1"/>
</g></svg>
<rect x="2368" y="1757.4" width="12.3" height="250.5" fill="url(#jetg)"/>
<text x="2381" y="1767.8" font-size="25" text-anchor="start" fill="#262626">340</text>
<text x="2381" y="1831.7" font-size="25" text-anchor="start" fill="#262626">320</text>
<text x="2381" y="1896.5" font-size="25" text-anchor="start" fill="#262626">300</text>
<text x="2381" y="1960.4" font-size="25" text-anchor="start" fill="#262626">280</text>
<text x="2226.2" y="1755.4" font-size="36" text-anchor="middle" fill="#262626">Uvalde</text>
<svg x="137.9" y="2058.8" width="251.5" height="251.2" viewBox="0 0 55 55" preserveAspectRatio="none">
<rect width="55" height="55" fill="#d5ff22"/>
<g transform="translate(0 .5)" stroke-width="1.06" fill="none">
<path stroke="#0000b2" d="M51 35h1M53 35h1M48 36h1M52 36h1M53 37h1M44 53h1"/>
<path stroke="#0000e4" d="M47 34h2M53 34h1M46 35h1M54 35h1M46 36h2M53 36h1M51 37h2M50 38h1M53 38h2M49 40h1M48 41h1M54 41h1M54 51h1M42 52h3M50 52h1M54 52h1M39 53h1M42 53h1M45 53h1M51 53h2M54 53h1M46 54h1"/>
<path stroke="#0006ff" d="M33 30h1M32 31h1M40 31h1M46 33h1M48 33h3M45 34h1M50 34h1M52 34h1M54 34h1M45 35h1M48 35h3M45 36h1M49 36h1M51 36h1M54 36h1M44 37h1M48 37h3M54 37h1M44 38h1M51 38h2M49 39h2M52 39h3M47 40h1M50 40h1M53 40h2M47 41h1M52 41h2M48 42h4M53 42h2M52 45h1M54 45h1M50 46h1M54 46h1M49 47h1M51 47h1M49 48h1M51 49h1M39 51h1M40 52h1M45 52h2M53 52h1M40 53h2M43 53h1M46 53h2M49 53h1M53 53h1M40 54h6M48 54h2M51 54h4"/>
<path stroke="#0032ff" d="M35 28h1M31 29h1M32 30h1M35 30h1M34 31h1M46 31h1M37 32h1M49 32h2M44 33h1M47 33h1M51 33h1M53 33h2M44 34h1M46 34h1M49 34h1M47 35h1M52 35h1M43 36h1M50 36h1M43 37h1M45 37h3M46 38h2M43 39h1M45 39h1M51 39h1M48 40h1M52 40h1M49 41h1M47 42h1M52 42h1M47 43h1M49 43h1M52 43h2M49 44h1M52 44h3M51 45h1M53 45h1M51 46h3M50 47h1M50 48h1M45 49h1M48 49h1M54 49h1M38 50h1M45 50h3M51 50h1M53 50h1M40 51h1M43 51h1M45 51h2M48 51h2M52 51h2M38 52h2M41 52h1M48 52h1M51 52h2M38 53h1M48 53h1M50 53h1M35 54h1M37 54h3M47 54h1M50 54h1"/>
<path stroke="#005eff" d="M31 26h1M36 28h1M39 28h1M47 28h1M28 29h2M35 29h2M39 29h2M46 29h1M30 30h2M40 30h2M33 31h1M37 31h1M39 31h1M47 31h4M33 32h2M39 32h1M44 32h3M48 32h1M51 32h2M42 33h2M45 33h1M52 33h1M43 34h1M51 34h1M43 35h1M44 36h1M35 37h1M33 38h1M36 38h1M43 38h1M45 38h1M49 38h1M33 39h2M36 39h1M44 39h1M46 39h1M48 39h1M42 40h1M45 40h2M46 41h1M50 41h2M46 42h1M48 43h1M50 43h2M54 43h1M48 44h1M50 44h2M47 45h2M50 45h1M46 46h4M46 47h1M52 47h2M47 48h2M51 48h1M54 48h1M44 49h1M52 49h1M39 50h1M41 50h1M48 50h2M52 50h1M54 50h1M37 51h2M41 51h1M44 51h1M47 51h1M51 51h1M34 52h3M47 52h1M49 52h1M33 53h3M37 53h1M36 54h1"/>
<path stroke="#008bff" d="M36 24h1M37 26h1M29 27h1M33 27h3M38 27h1M48 27h1M27 28h1M30 28h2M33 28h1M40 28h1M48 28h1M20 29h1M24 29h1M32 29h3M45 29h1M47 29h1M49 29h1M34 30h1M36 30h1M38 30h2M44 30h3M49 30h1M28 31h2M31 31h1M36 31h1M38 31h1M42 31h1M44 31h1M51 31h1M31 32h2M36 32h1M38 32h1M40 32h2M43 32h1M47 32h1M54 32h1M34 33h2M38 33h4M36 34h1M42 34h1M37 35h1M42 35h1M44 35h1M34 36h1M38 36h1M42 36h1M34 37h1M37 37h1M41 37h1M32 38h1M34 38h2M42 38h1M48 38h1M35 39h1M42 39h1M47 39h1M43 40h2M51 40h1M44 41h2M45 42h1M47 44h1M49 45h1M45 46h1M45 47h1M47 47h2M54 47h1M44 48h1M52 48h2M38 49h4M46 49h2M49 49h2M53 49h1M42 50h1M44 50h1M50 50h1M35 51h2M42 51h1M50 51h1M37 52h1M36 53h1M34 54h1"/>
<path stroke="#00b7ff" d="M32 21h1M35 21h1M33 23h2M36 23h1M33 24h3M32 25h2M32 26h4M38 26h1M40 26h1M25 27h1M32 27h1M36 27h1M39 27h3M46 27h2M29 28h1M32 28h1M34 28h1M37 28h2M41 28h1M46 28h1M49 28h1M23 29h1M26 29h2M30 29h1M37 29h2M41 29h4M48 29h1M50 29h1M24 30h1M28 30h1M37 30h1M42 30h2M47 30h2M50 30h1M30 31h1M35 31h1M41 31h1M43 31h1M45 31h1M30 32h1M35 32h1M42 32h1M53 32h1M32 33h1M36 33h2M33 34h1M35 34h1M37 34h1M40 34h2M34 35h1M38 35h1M35 36h3M39 36h3M31 37h1M33 37h1M36 37h1M38 37h1M40 37h1M42 37h1M37 38h2M37 39h1M40 39h1M34 40h3M41 40h1M34 41h1M42 41h2M44 42h1M45 43h2M43 44h1M46 44h1M44 45h3M38 46h1M40 46h1M37 47h2M41 47h1M44 47h1M37 48h2M40 48h1M42 48h2M45 48h2M37 49h1M42 49h2M40 50h1M43 50h1M32 51h1M34 51h1M32 52h2M31 53h1M32 54h1"/>
<path stroke="#00e3f9" d="M32 17h2M33 18h1M35 19h1M34 22h3M35 23h1M38 24h1M34 25h4M40 25h1M54 25h1M19 26h1M29 26h2M36 26h1M41 26h1M43 26h3M48 26h4M20 27h2M26 27h1M30 27h2M37 27h1M45 27h1M50 27h1M15 28h1M20 28h1M22 28h1M25 28h2M28 28h1M42 28h2M45 28h1M51 28h1M21 29h2M25 29h1M19 30h3M26 30h2M29 30h1M51 30h2M22 31h1M27 31h1M52 31h1M54 31h1M28 32h2M29 33h3M33 33h1M34 34h1M39 34h1M33 35h1M35 35h2M39 35h3M32 36h2M32 37h1M39 37h1M30 38h1M40 38h2M32 39h1M38 39h2M41 39h1M33 40h1M37 40h1M39 40h2M41 41h1M41 42h2M43 43h1M44 44h1M38 45h3M43 45h1M37 46h1M41 46h1M43 46h2M39 47h2M42 47h2M36 48h1M39 48h1M41 48h1M36 49h1M34 50h4M31 51h1M33 51h1M33 54h1"/>
<path stroke="#22ffd5" d="M34 12h2M34 13h2M35 15h1M30 16h2M34 16h1M34 17h1M34 18h1M34 19h1M36 19h1M32 20h4M33 21h1M32 22h2M37 22h1M32 23h1M37 23h2M42 23h1M32 24h1M37 24h1M39 24h3M43 24h1M47 24h1M53 24h1M10 25h1M21 25h2M30 25h2M38 25h2M41 25h2M45 25h3M49 25h2M11 26h1M17 26h1M20 26h2M24 26h2M27 26h2M39 26h1M47 26h1M16 27h2M19 27h1M22 27h3M27 27h2M42 27h1M44 27h1M49 27h1M51 27h1M16 28h1M21 28h1M23 28h2M50 28h1M52 28h1M17 29h1M51 29h2M13 30h1M22 30h2M25 30h1M54 30h1M18 31h1M20 31h2M25 31h2M53 31h1M27 32h1M22 33h1M32 34h1M38 34h1M32 35h1M30 36h1M26 38h1M31 38h1M39 38h1M30 39h2M38 40h1M33 41h1M35 41h1M40 41h1M34 42h2M43 42h1M39 43h1M42 43h1M44 43h1M39 44h2M42 44h1M45 44h1M39 46h1M42 46h1M33 48h3M31 49h1M35 49h1M32 50h1M15 52h2M31 52h1M32 53h1M30 54h2"/>
<path stroke="#46ffb1" d="M51 1h1M52 4h1M34 9h1M34 10h1M33 11h1M36 11h1M33 12h1M36 12h1M31 13h1M33 13h1M30 14h1M34 14h1M36 14h1M28 15h1M30 15h1M33 15h1M32 16h2M35 16h1M31 17h1M35 17h1M32 18h1M35 18h1M33 19h1M31 20h1M36 20h2M31 21h1M34 21h1M36 21h1M12 22h1M54 22h1M10 23h1M15 23h1M39 23h1M41 23h1M47 23h2M53 23h1M14 24h1M17 24h2M23 24h2M29 24h3M42 24h1M45 24h2M48 24h2M54 24h1M9 25h1M12 25h3M17 25h2M24 25h3M43 25h2M48 25h1M12 26h2M15 26h2M18 26h1M22 26h2M26 26h1M42 26h1M46 26h1M52 26h1M54 26h1M8 27h2M11 27h2M14 27h2M18 27h1M53 27h1M11 28h2M17 28h3M44 28h1M53 28h2M12 29h1M18 29h2M10 30h2M17 30h1M53 30h1M1 31h1M11 31h2M23 31h1M3 32h1M7 32h1M21 32h3M25 32h2M4 33h1M24 33h1M25 34h1M29 34h3M28 35h1M31 35h1M29 36h1M31 36h1M26 37h1M28 37h3M23 38h1M25 38h1M29 38h1M29 39h1M28 40h1M31 40h1M32 41h1M36 41h1M39 42h2M34 43h2M37 43h2M40 43h2M36 44h3M41 44h1M37 45h1M41 45h2M36 46h1M33 47h1M36 47h1M32 49h1M34 49h1M31 50h1M33 50h1M13 51h1M16 51h1M30 51h1M12 52h1M30 52h1M16 53h1M30 53h1M12 54h1M16 54h1M19 54h1"/>
<path stroke="#6aff8d" d="M46 0h1M53 0h1M51 3h1M51 5h1M34 6h1M54 6h1M44 7h1M54 7h1M34 8h1M53 8h1M32 9h1M35 9h1M52 9h1M54 9h1M32 10h2M34 11h2M32 12h1M30 13h1M32 13h1M36 13h2M25 14h3M29 14h1M31 14h1M33 14h1M37 14h1M54 14h1M29 15h1M31 15h2M34 15h1M36 15h2M53 15h1M26 16h4M27 17h1M31 18h1M51 18h1M28 19h1M30 19h3M15 21h1M29 21h1M37 21h2M49 21h1M11 22h1M26 22h2M38 22h1M53 22h1M11 23h1M14 23h1M16 23h3M24 23h4M29 23h1M31 23h1M40 23h1M43 23h1M46 23h1M49 23h4M54 23h1M10 24h2M15 24h1M22 24h1M25 24h2M28 24h1M44 24h1M50 24h2M11 25h1M15 25h2M19 25h2M23 25h1M27 25h3M52 25h2M10 26h1M14 26h1M53 26h1M7 27h1M10 27h1M43 27h1M8 28h1M10 28h1M13 28h2M14 29h1M16 29h1M53 29h2M1 30h1M18 30h1M9 31h2M13 31h2M17 31h1M19 31h1M24 31h1M1 32h2M6 32h1M11 32h1M18 32h3M0 33h1M2 33h2M6 33h1M25 33h4M2 34h1M22 35h1M27 35h1M29 35h2M23 36h1M27 36h2M22 37h1M24 37h2M22 39h7M23 40h1M27 40h1M30 40h1M37 41h3M33 42h1M38 42h1M36 43h1M35 44h1M36 45h1M32 47h1M31 48h2M30 49h1M33 49h1M14 50h3M30 50h1M14 51h2M18 51h2M14 52h1M17 52h1M28 52h2M15 53h1M17 53h3M26 53h1M28 53h2M13 54h1M15 54h1M17 54h1M20 54h1M26 54h1M28 54h2"/>
<path stroke="#8dff6a" d="M29 0h1M42 0h1M44 0h1M50 0h2M54 0h1M47 1h1M50 1h1M53 1h1M27 2h1M29 2h1M32 2h1M44 2h1M50 2h2M29 3h1M42 3h2M45 3h1M52 3h1M54 3h1M42 4h3M51 4h1M53 4h1M31 5h1M33 5h1M53 5h2M31 7h5M32 8h2M37 8h1M54 8h1M33 9h1M37 9h1M53 9h1M31 10h1M35 10h3M50 10h1M52 10h3M25 11h1M27 11h1M29 11h1M32 11h1M37 11h1M53 11h2M25 12h2M30 12h2M37 12h1M24 13h3M28 13h1M38 13h1M28 14h1M32 14h1M35 14h1M38 14h1M52 14h2M24 15h4M38 15h1M51 15h1M25 16h1M38 16h1M14 17h1M25 17h1M28 17h3M36 17h4M24 18h1M27 18h1M29 18h2M36 18h1M52 18h1M54 18h1M37 19h1M48 19h1M52 19h1M13 20h2M16 20h1M38 20h1M17 21h1M26 21h1M48 21h1M9 22h2M13 22h1M15 22h3M24 22h2M28 22h4M46 22h1M49 22h4M9 23h1M12 23h2M21 23h1M23 23h1M28 23h1M30 23h1M44 23h2M6 24h1M9 24h1M12 24h2M16 24h1M27 24h1M51 25h1M7 26h2M4 27h3M13 27h1M52 27h1M54 27h1M4 28h2M9 28h1M7 29h1M9 29h3M13 29h1M15 29h1M0 30h1M8 30h1M12 30h1M14 30h3M0 31h1M2 31h1M7 31h2M0 32h1M4 32h2M8 32h1M10 32h1M12 32h1M24 32h1M1 33h1M20 33h2M3 34h1M6 34h2M21 34h2M24 34h1M26 34h2M21 35h1M23 35h2M26 35h1M20 36h3M25 36h1M23 37h1M27 37h1M21 38h1M24 38h1M27 38h1M21 39h1M21 40h2M25 40h2M29 40h1M32 40h1M27 41h1M37 42h1M34 44h1M34 45h2M32 46h3M15 47h1M34 47h2M30 48h1M15 49h3M28 49h2M12 50h1M17 50h1M29 50h1M11 51h2M17 51h1M27 51h1M29 51h1M2 52h1M18 52h3M27 52h1M2 53h1M11 53h4M20 53h1M25 53h1M2 54h1M11 54h1M18 54h1M24 54h1M27 54h1"/>
<path stroke="#b1ff46" d="M30 0h1M32 0h1M36 0h1M39 0h2M43 0h1M45 0h1M47 0h3M52 0h1M2 1h1M27 1h6M41 1h5M48 1h2M54 1h1M26 2h1M30 2h1M41 2h3M45 2h1M49 2h1M52 2h2M30 3h1M44 3h1M49 3h1M53 3h1M31 4h1M36 4h1M45 4h1M47 4h4M54 4h1M30 5h1M32 5h1M41 5h5M48 5h1M52 5h1M29 6h2M32 6h2M39 6h1M43 6h1M50 6h1M52 6h2M30 7h1M38 7h1M41 7h3M45 7h2M26 8h1M31 8h1M36 8h1M38 8h1M51 8h1M22 9h1M24 9h1M31 9h1M36 9h1M41 9h1M49 9h3M23 10h3M27 10h3M46 10h1M22 11h1M26 11h1M28 11h1M30 11h2M52 11h1M24 12h1M27 12h1M29 12h1M38 12h2M49 12h1M51 12h4M23 13h1M27 13h1M29 13h1M39 13h1M51 13h4M16 14h1M20 14h1M23 14h2M39 14h1M39 15h2M50 15h1M52 15h1M36 16h2M39 16h3M50 16h1M52 16h1M26 17h1M41 17h1M50 17h2M53 17h1M8 18h3M23 18h1M25 18h1M28 18h1M37 18h2M47 18h1M49 18h2M11 19h1M14 19h2M23 19h2M38 19h1M46 19h1M50 19h2M15 20h1M18 20h1M24 20h2M27 20h2M30 20h1M47 20h1M52 20h3M8 21h7M16 21h1M18 21h1M21 21h1M25 21h1M27 21h1M46 21h2M50 21h2M53 21h2M14 22h1M18 22h6M39 22h4M45 22h1M47 22h2M7 23h2M19 23h2M3 24h1M8 24h1M19 24h3M52 24h1M8 25h1M4 26h3M9 26h1M2 27h1M0 28h2M6 28h2M0 29h3M6 29h1M8 29h1M2 30h1M4 30h1M9 30h1M4 31h3M15 31h2M9 32h1M13 32h3M17 32h1M5 33h1M7 33h2M10 33h1M12 33h4M18 33h2M23 33h1M1 34h1M4 34h2M8 34h1M18 34h1M23 34h1M28 34h1M2 35h2M6 35h2M10 35h1M20 35h1M25 35h1M0 36h1M26 36h1M18 37h1M21 37h1M20 38h1M22 38h1M28 38h1M19 39h1M11 40h2M24 40h1M20 41h1M24 41h1M28 41h4M32 42h1M36 42h1M33 43h1M32 45h2M35 46h1M14 47h1M18 47h1M31 47h1M15 48h3M29 48h1M0 50h1M18 50h2M21 50h1M27 50h1M0 51h2M0 52h2M3 52h1M10 52h2M21 52h3M26 52h1M0 53h2M9 53h2M21 53h2M24 53h1M27 53h1M0 54h2M9 54h1M14 54h1M23 54h1M25 54h1"/>
<path stroke="#f9f400" d="M1 0h1M22 0h2M25 0h2M35 0h1M38 0h1M1 1h1M22 1h1M25 1h1M1 2h3M24 2h1M36 2h1M38 2h3M0 3h1M3 3h1M21 3h2M24 3h4M35 3h1M37 3h2M40 3h1M48 3h1M0 4h1M21 4h1M26 4h3M33 4h2M37 4h2M40 4h1M21 5h2M26 5h1M36 5h4M47 5h1M19 6h1M24 6h1M27 6h1M36 6h2M46 6h1M48 6h2M51 6h1M19 7h2M23 7h2M27 7h3M40 7h1M48 7h1M50 7h2M18 8h4M24 8h1M27 8h1M29 8h1M45 8h1M48 8h1M17 9h2M20 9h1M25 9h1M42 9h1M47 9h1M16 10h3M21 10h1M26 10h1M39 10h3M43 10h1M47 10h1M49 10h1M16 11h1M18 11h1M20 11h1M40 11h4M17 12h1M19 12h1M22 12h1M42 12h1M46 12h3M16 13h2M22 13h1M41 13h1M46 13h1M49 13h2M13 14h1M17 14h1M19 14h1M21 14h2M40 14h2M47 14h4M10 15h3M17 15h1M21 15h1M15 16h2M24 16h1M43 16h1M45 16h1M10 17h3M17 17h1M19 17h1M42 17h1M45 17h1M12 18h1M15 18h1M18 18h1M44 18h1M48 18h1M6 19h3M10 19h1M12 19h2M19 19h1M21 19h1M39 19h1M41 19h1M45 19h1M7 20h1M11 20h2M19 20h1M40 20h1M42 20h1M44 20h1M51 20h1M19 21h1M40 21h1M5 22h3M44 22h1M0 24h1M4 24h1M0 25h1M4 25h2M1 27h1M3 28h1M3 29h2M5 30h1M12 34h3M19 34h1M4 35h2M16 35h3M2 36h1M9 36h1M11 36h1M14 36h2M19 36h1M0 37h3M4 37h1M13 37h1M15 37h2M0 38h2M12 38h2M15 38h1M3 39h1M10 39h1M12 39h1M14 39h3M13 40h1M15 40h2M10 41h4M15 41h3M9 42h4M14 42h1M16 42h1M22 42h3M26 42h1M30 42h1M9 43h4M14 43h4M19 43h1M21 43h1M25 43h2M28 43h1M15 44h1M18 44h1M21 44h1M24 44h1M30 44h1M6 45h2M9 45h1M11 45h1M14 45h1M17 45h4M4 46h1M6 46h2M12 46h1M15 46h1M18 46h2M29 46h1M1 47h1M7 47h1M28 47h1M30 47h1M2 48h1M5 48h3M9 48h1M18 48h1M20 48h2M27 48h1M1 49h2M9 49h1M11 49h3M20 49h1M1 50h1M3 50h2M7 50h1M9 50h2M22 50h1M25 50h2M5 51h2M8 51h3M23 51h1M4 52h1M6 52h1M8 52h2M24 52h1M3 53h2M6 53h3M23 53h1M4 54h2M8 54h1"/>
<path stroke="#ffca00" d="M0 0h1M6 0h1M11 0h1M34 0h1M37 0h1M0 1h1M10 1h1M23 1h2M34 1h5M22 2h2M25 2h1M34 2h2M37 2h1M1 3h2M23 3h1M34 3h1M39 3h1M1 4h2M22 4h3M39 4h1M1 5h4M7 5h1M19 5h1M24 5h1M27 5h1M40 5h1M13 6h1M15 6h1M20 6h1M26 6h1M38 6h1M47 6h1M9 7h1M14 7h1M21 7h1M47 7h1M49 7h1M17 8h1M42 8h1M46 8h2M50 8h1M16 9h1M19 9h1M43 9h4M48 9h1M19 10h1M44 10h2M48 10h1M13 11h1M44 11h1M46 11h2M13 12h1M15 12h2M20 12h1M43 12h3M12 13h2M15 13h1M18 13h4M42 13h4M11 14h1M14 14h1M18 14h1M44 14h1M9 15h1M13 15h1M15 15h2M19 15h1M22 15h1M42 15h1M44 15h3M48 15h2M9 16h2M13 16h2M19 16h2M22 16h2M44 16h1M46 16h1M18 17h1M20 17h1M22 17h1M43 17h2M13 18h1M17 18h1M21 18h1M42 18h2M5 19h1M18 19h1M20 19h1M40 19h1M42 19h3M41 20h1M43 20h1M45 20h1M5 21h2M44 21h2M0 22h1M3 22h2M0 23h1M3 23h1M1 24h1M2 25h2M0 27h1M2 28h1M13 35h3M4 36h2M8 36h1M16 36h1M9 37h1M14 37h1M11 38h1M14 38h1M0 39h1M2 39h1M4 39h1M17 39h1M1 40h1M14 40h1M18 40h1M1 41h2M18 41h2M6 42h1M8 42h1M17 42h1M19 42h1M4 43h1M7 43h1M13 43h1M22 43h3M29 43h2M3 44h1M5 44h1M7 44h2M10 44h5M16 44h2M23 44h1M25 44h3M31 44h1M4 45h1M8 45h1M10 45h1M12 45h1M21 45h1M25 45h1M27 45h4M1 46h1M5 46h1M8 46h3M16 46h1M20 46h1M27 46h1M30 46h1M0 47h1M2 47h3M6 47h1M10 47h1M12 47h1M20 47h2M23 47h1M29 47h1M1 48h1M3 48h1M10 48h1M26 48h1M3 49h1M8 49h1M18 49h1M21 49h1M23 49h3M2 50h1M6 50h1M11 50h1M23 50h1M4 51h1M22 51h1M24 51h1M5 52h1M5 53h1M6 54h2"/>
<path stroke="#ffa100" d="M5 0h1M7 0h4M24 0h1M33 0h1M5 1h2M11 1h1M5 2h1M9 2h1M11 2h1M19 2h3M5 3h3M19 3h2M3 4h4M20 4h1M0 5h1M13 5h1M15 5h1M20 5h1M23 5h1M25 5h1M4 6h2M8 6h1M11 6h1M16 6h1M21 6h1M2 7h2M6 7h2M11 7h2M15 7h1M18 7h1M6 8h1M10 8h1M13 8h2M16 8h1M12 9h4M13 10h2M6 11h1M14 11h2M45 11h1M5 12h2M14 12h1M14 13h1M8 14h1M15 14h1M42 14h1M45 14h2M5 15h1M7 15h2M14 15h1M18 15h1M43 15h1M8 16h1M12 16h1M17 16h2M21 16h1M7 17h1M6 18h2M19 18h2M41 18h1M3 19h1M3 20h4M3 21h2M7 21h1M2 22h1M1 23h1M2 24h1M6 36h2M10 36h1M13 36h1M5 37h1M8 37h1M10 37h3M9 38h2M1 39h1M5 39h1M7 39h2M0 40h1M3 40h5M9 40h2M0 41h1M4 41h6M1 42h3M5 42h1M13 42h1M18 42h1M2 43h2M5 43h2M8 43h1M31 43h1M2 44h1M4 44h1M6 44h1M9 44h1M22 44h1M28 44h2M2 45h2M5 45h1M13 45h1M22 45h2M26 45h1M0 46h1M21 46h1M28 46h1M9 47h1M24 47h2M27 47h1M11 48h1M22 48h4M22 49h1M26 49h1M8 50h1M7 51h1"/>
<path stroke="#ff7800" d="M4 0h1M12 0h1M21 0h1M8 1h2M20 1h2M7 2h2M12 2h1M18 2h1M4 3h1M8 3h1M10 3h1M12 3h1M7 4h2M18 4h2M5 5h1M8 5h2M11 5h1M17 5h1M0 6h1M2 6h2M7 6h1M10 6h1M12 6h1M14 6h1M18 6h1M0 7h2M5 7h1M10 7h1M13 7h1M16 7h2M0 8h1M3 8h1M5 8h1M7 8h1M11 8h2M15 8h1M4 9h2M7 9h1M11 9h1M5 10h1M7 10h1M12 10h1M3 11h1M5 11h1M7 11h1M9 11h1M11 11h2M7 12h6M4 13h1M6 13h1M8 13h1M11 13h1M5 14h3M9 14h2M43 14h1M4 15h1M6 15h1M0 16h1M4 16h1M7 16h1M0 17h1M2 17h1M1 18h1M3 18h1M2 20h1M0 21h3M1 22h1M2 23h1M6 37h1M6 38h3M6 39h1M9 39h1M2 40h1M8 40h1M3 41h1M4 42h1M7 42h1M0 44h2M0 45h2M24 45h1M2 46h2M23 46h4M22 47h1M26 47h1"/>
<path stroke="#ff4f00" d="M13 0h3M17 0h1M19 0h2M7 1h1M13 1h1M18 1h2M6 2h1M10 2h1M13 2h1M17 2h1M9 3h1M11 3h1M17 3h2M9 4h3M13 4h2M16 4h2M6 5h1M12 5h1M14 5h1M16 5h1M18 5h1M1 6h1M6 6h1M17 6h1M4 7h1M8 7h1M1 8h2M4 8h1M8 8h2M0 9h1M3 9h1M6 9h1M8 9h3M3 10h2M8 10h1M10 10h2M4 11h1M8 11h1M10 11h1M4 12h1M2 13h1M5 13h1M7 13h1M9 13h2M3 14h2M6 16h1M1 17h1M5 17h2M0 18h1M2 18h1M4 18h1M4 19h1M0 20h1M7 37h1M5 38h1M0 42h1M0 43h2"/>
<path stroke="#ff2600" d="M16 0h1M18 0h1M12 1h1M14 1h1M16 1h2M14 2h1M16 2h1M13 3h4M12 4h1M15 4h1M10 5h1M9 6h1M1 9h1M0 10h1M2 10h1M6 10h1M9 10h1M1 11h2M1 13h1M3 13h1M0 14h1M1 15h1M3 15h1M1 16h1M5 16h1M3 17h1M0 19h3"/>
<path stroke="#e40000" d="M15 1h1M2 9h1M1 10h1M0 11h1M1 12h3M0 13h1M1 14h2M0 15h1M2 15h1M2 16h2M4 17h1M5 18h1M1 20h1"/>
<path stroke="#b20000" d="M15 2h1M0 12h1"/>
</g></svg>
<rect x="405.4" y="2059.8" width="12.3" height="250.5" fill="url(#jetg)"/>
<text x="418.4" y="2152.4" font-size="25" text-anchor="start" fill="#262626">380</text>
<text x="418.4" y="2256" font-size="25" text-anchor="start" fill="#262626">360</text>
<text x="263.6" y="2057.8" font-size="36" text-anchor="middle" fill="#262626">Vernon</text>
<svg x="530.2" y="2058.8" width="251.5" height="251.2" viewBox="0 0 55 55" preserveAspectRatio="none">
<rect width="55" height="55" fill="#00b7ff"/>
<g transform="translate(0 .5)" stroke-width="1.06" fill="none">
<path stroke="#0000b2" d="M52 49h2M50 51h1M54 51h1M53 52h1"/>
<path stroke="#0000e4" d="M53 2h1M23 3h1M4 24h1M9 24h1M46 26h1M54 46h1M52 48h1M42 49h1M51 49h1M52 50h1M45 51h1M49 51h1M51 51h1M45 52h1M48 52h1M51 52h1M45 53h1M48 53h3M54 53h1M54 54h1"/>
<path stroke="#0006ff" d="M20 0h1M18 1h1M18 3h1M20 3h1M22 3h1M13 4h2M17 4h1M6 5h1M21 8h1M18 10h1M3 14h1M2 19h1M16 19h1M47 20h1M19 22h1M46 24h1M9 25h1M43 25h2M47 25h1M43 26h1M45 26h1M47 26h1M46 27h1M11 36h1M12 37h1M26 38h1M26 40h1M33 45h1M26 47h1M51 47h1M48 48h1M51 48h1M28 49h1M42 50h1M51 50h1M53 50h1M52 51h1M50 52h1M43 53h1M47 53h1M45 54h1M51 54h1"/>
<path stroke="#0032ff" d="M10 0h1M15 0h1M45 0h2M53 0h1M2 1h1M7 1h1M19 1h3M50 1h1M6 2h3M18 2h1M20 2h1M22 2h1M50 2h1M7 3h1M21 3h1M24 3h1M50 3h2M10 4h1M12 4h1M22 4h3M16 5h1M19 5h1M25 5h1M6 6h2M52 6h1M29 7h1M47 7h1M52 8h1M11 9h1M14 9h1M17 9h1M30 9h1M14 10h1M20 11h1M22 11h1M13 12h1M40 12h1M8 13h1M10 13h1M42 13h1M10 14h1M53 14h1M21 15h1M10 16h1M22 16h1M51 16h1M16 17h1M18 17h1M42 17h1M3 18h1M1 19h1M7 19h1M15 20h1M44 20h1M7 21h1M5 23h1M46 23h1M49 23h1M8 24h1M51 24h1M8 25h1M18 25h1M21 25h1M46 25h1M48 25h1M20 26h1M33 26h1M48 26h1M35 27h1M46 28h1M26 30h1M29 30h1M35 30h1M31 31h1M36 31h1M25 32h1M11 33h1M34 33h1M7 34h2M17 34h1M18 35h1M20 35h1M26 36h2M4 37h1M14 38h1M17 38h1M1 39h1M0 41h1M20 41h1M26 41h1M32 41h1M20 43h1M27 43h1M8 45h1M54 45h1M21 46h1M32 46h1M53 46h1M30 47h1M54 47h1M5 48h1M26 48h1M31 48h2M49 48h1M26 49h1M43 49h1M45 49h1M49 49h1M54 49h1M25 50h1M28 50h1M41 50h1M50 50h1M29 51h1M38 51h1M43 51h2M53 51h1M24 52h1M37 52h1M44 52h1M46 52h2M49 52h1M52 52h1M54 52h1M25 53h1M36 53h1M39 53h1M46 53h1M51 53h1M19 54h1M30 54h1M44 54h1M46 54h2M50 54h1M52 54h2"/>
<path stroke="#005eff" d="M6 0h1M21 0h2M42 0h1M44 0h1M51 1h1M2 2h1M21 2h1M23 2h1M40 2h1M45 2h1M49 2h1M51 2h2M54 2h1M2 3h1M8 3h1M11 3h1M14 3h2M19 3h1M49 3h1M0 4h1M5 4h2M11 4h1M15 4h1M18 4h3M46 4h1M50 4h1M9 5h2M13 5h1M17 5h2M21 5h1M23 5h2M34 5h2M47 5h4M9 6h1M18 6h1M23 6h1M25 6h2M30 6h1M21 7h1M27 7h2M31 7h1M48 7h1M14 8h2M30 8h2M49 8h1M51 8h1M13 9h1M15 9h1M19 9h1M21 9h1M25 9h1M35 9h2M41 9h1M12 10h1M20 10h1M36 10h2M41 10h1M50 10h1M21 11h1M38 11h3M42 11h1M52 11h2M15 12h1M39 12h1M41 12h1M44 12h1M47 12h1M12 13h1M15 13h1M17 13h1M29 13h1M40 13h2M43 13h2M29 14h1M38 14h3M42 14h1M1 15h1M3 15h1M12 15h1M15 15h1M22 15h2M43 15h1M53 15h1M7 16h1M12 16h2M15 16h2M23 16h1M41 16h1M4 17h1M7 17h1M11 17h1M23 17h2M41 17h1M50 17h2M1 18h1M10 18h1M23 18h1M41 18h1M5 19h1M12 19h1M38 19h2M54 19h1M2 20h1M43 20h1M45 20h1M1 21h1M8 21h1M16 21h1M18 21h2M46 21h1M50 21h1M0 22h1M7 22h1M22 22h1M45 22h2M50 22h1M4 23h1M6 23h1M15 23h1M19 23h3M50 23h1M10 24h1M13 24h1M18 24h1M38 24h1M45 24h1M49 24h2M54 24h1M10 25h1M40 25h1M45 25h1M49 25h1M52 25h1M1 26h1M7 26h2M12 26h1M22 26h1M32 26h1M54 26h1M2 27h2M6 27h1M8 27h1M11 27h1M34 27h1M11 28h2M15 28h1M29 28h1M33 28h1M38 28h1M45 28h1M49 28h1M12 29h1M36 29h2M43 29h1M47 29h1M11 30h1M38 30h1M9 32h2M15 32h1M28 32h1M8 33h1M12 33h1M14 33h1M18 33h1M25 33h1M29 33h2M11 34h1M16 34h1M21 34h1M23 34h1M33 34h1M10 35h1M19 35h1M25 35h1M27 35h1M33 35h1M10 36h1M13 36h1M16 36h2M28 36h1M31 36h2M8 37h1M13 37h1M17 37h1M26 37h1M33 37h1M1 38h1M8 38h1M11 38h1M13 38h1M27 38h1M0 39h1M6 39h1M8 39h1M13 39h1M23 39h1M26 39h3M5 40h1M7 40h2M11 40h1M20 40h1M27 40h1M1 41h2M7 41h1M19 41h1M27 41h1M31 41h1M1 42h1M27 42h1M0 44h1M23 44h1M0 45h1M3 45h1M5 45h1M21 45h1M26 45h1M36 45h1M6 46h1M8 46h1M23 46h1M26 46h1M52 46h1M1 47h1M29 47h1M33 47h1M53 47h1M1 48h1M24 48h1M27 48h1M29 48h1M46 48h1M50 48h1M53 48h2M2 49h1M8 49h1M22 49h2M38 49h1M47 49h2M50 49h1M9 50h1M23 50h1M26 50h2M39 50h2M43 50h1M45 50h2M48 50h2M54 50h1M4 51h1M10 51h1M22 51h1M25 51h1M28 51h1M30 51h1M41 51h1M48 51h1M14 52h1M17 52h1M22 52h1M28 52h1M19 53h1M22 53h1M29 53h1M44 53h1M53 53h1M4 54h2M12 54h2M16 54h1M20 54h1M26 54h1M31 54h1M40 54h1M49 54h1"/>
<path stroke="#008bff" d="M1 0h1M3 0h1M11 0h1M14 0h1M18 0h2M23 0h2M37 0h1M39 0h2M47 0h3M54 0h1M1 1h1M3 1h3M8 1h1M12 1h1M14 1h1M22 1h1M39 1h1M44 1h1M46 1h2M52 1h3M3 2h1M10 2h2M13 2h1M16 2h1M19 2h1M24 2h1M48 2h1M0 3h1M4 3h2M9 3h1M13 3h1M42 3h3M54 3h1M4 4h1M8 4h2M21 4h1M25 4h1M41 4h1M51 4h1M7 5h2M20 5h1M22 5h1M51 5h1M8 6h1M13 6h1M19 6h2M24 6h1M28 6h1M31 6h2M36 6h1M43 6h1M46 6h3M53 6h1M0 7h1M13 7h1M15 7h1M17 7h1M20 7h1M22 7h1M26 7h1M32 7h1M37 7h1M52 7h1M10 8h1M16 8h1M20 8h1M25 8h1M27 8h1M32 8h2M38 8h1M47 8h1M50 8h1M9 9h1M16 9h1M18 9h1M20 9h1M23 9h2M26 9h1M29 9h1M33 9h2M40 9h1M42 9h2M51 9h1M53 9h1M6 10h1M9 10h1M13 10h1M17 10h1M19 10h1M21 10h2M28 10h2M43 10h2M46 10h1M52 10h1M10 11h1M14 11h2M18 11h1M27 11h1M43 11h1M46 11h1M51 11h1M14 12h1M22 12h2M25 12h1M43 12h1M45 12h1M48 12h1M53 12h1M2 13h1M4 13h1M24 13h1M26 13h1M30 13h1M36 13h1M39 13h1M46 13h1M0 14h3M6 14h2M9 14h1M16 14h2M23 14h2M36 14h1M45 14h2M52 14h1M54 14h1M2 15h1M5 15h1M7 15h1M11 15h1M13 15h2M17 15h1M24 15h1M37 15h1M42 15h1M46 15h2M50 15h1M52 15h1M8 16h1M18 16h1M25 16h1M40 16h1M42 16h1M49 16h1M6 17h1M8 17h1M15 17h1M17 17h1M19 17h1M46 17h1M52 17h1M54 17h1M0 18h1M4 18h2M8 18h1M11 18h3M18 18h1M43 18h2M47 18h1M50 18h1M0 19h1M3 19h2M8 19h1M10 19h2M20 19h1M40 19h1M44 19h1M51 19h2M6 20h1M18 20h1M26 20h1M39 20h1M51 20h1M5 21h1M14 21h1M20 21h1M45 21h1M47 21h1M49 21h1M1 22h1M5 22h1M8 22h1M10 22h1M17 22h2M20 22h1M39 22h2M47 22h1M52 22h3M1 23h1M3 23h1M16 23h3M37 23h1M39 23h1M48 23h1M51 23h3M0 24h1M6 24h2M12 24h1M15 24h1M17 24h1M37 24h1M47 24h1M0 25h1M3 25h1M13 25h2M33 25h3M50 25h2M0 26h1M3 26h1M38 26h2M41 26h2M49 26h1M51 26h1M4 27h2M7 27h1M12 27h1M21 27h1M31 27h1M36 27h1M39 27h1M44 27h2M47 27h1M9 28h1M13 28h1M26 28h1M32 28h1M35 28h1M42 28h1M47 28h1M10 29h2M30 29h2M39 29h1M42 29h1M48 29h1M3 30h1M10 30h1M30 30h2M33 30h2M48 30h1M6 31h1M9 31h1M12 31h2M25 31h2M30 31h1M35 31h1M2 32h1M12 32h2M19 32h1M30 32h3M34 32h1M9 33h1M20 33h1M22 33h1M28 33h1M31 33h1M33 33h1M13 34h1M18 34h2M24 34h1M30 34h1M32 34h1M34 34h1M0 35h3M4 35h1M8 35h1M11 35h1M16 35h2M22 35h2M26 35h1M31 35h2M1 36h1M4 36h1M7 36h1M22 36h4M29 36h1M1 37h1M9 37h3M14 37h1M19 37h4M27 37h1M30 37h1M4 38h1M6 38h1M9 38h2M12 38h1M29 38h1M4 39h2M7 39h1M9 39h1M11 39h1M14 39h1M21 39h1M32 39h1M0 40h1M6 40h1M9 40h1M12 40h1M15 40h2M18 40h1M5 41h2M9 41h1M12 41h1M22 41h1M33 41h1M3 42h1M6 42h2M12 42h1M18 42h1M20 42h2M30 42h2M34 42h1M7 43h1M22 43h1M28 43h1M5 44h1M8 44h3M28 44h1M30 44h2M33 44h1M1 45h1M4 45h1M9 45h1M12 45h1M22 45h3M35 45h1M0 46h1M2 46h2M5 46h1M7 46h1M9 46h1M25 46h1M27 46h1M51 46h1M23 47h1M25 47h1M27 47h2M31 47h1M39 47h1M50 47h1M52 47h1M7 48h1M20 48h1M25 48h1M30 48h1M33 48h1M41 48h3M47 48h1M0 49h2M6 49h1M21 49h1M24 49h1M27 49h1M33 49h2M36 49h1M40 49h1M46 49h1M3 50h1M18 50h1M20 50h1M22 50h1M32 50h1M37 50h1M44 50h1M0 51h1M2 51h2M5 51h1M17 51h1M24 51h1M27 51h1M31 51h1M36 51h1M39 51h1M47 51h1M1 52h1M4 52h1M9 52h2M26 52h2M29 52h2M38 52h1M41 52h2M1 53h1M11 53h1M14 53h1M16 53h1M23 53h1M27 53h1M33 53h2M37 53h2M42 53h1M52 53h1M10 54h1M18 54h1M24 54h1M28 54h1M37 54h2M42 54h2M48 54h1"/>
<path stroke="#00e3f9" d="M0 0h1M7 0h1M17 0h1M43 0h1M13 1h1M17 1h1M23 1h1M41 1h1M45 1h1M48 1h2M5 2h1M9 2h1M12 2h1M14 2h1M26 2h1M37 2h1M39 2h1M43 2h1M46 2h1M6 3h1M10 3h1M12 3h1M38 3h1M52 3h1M7 4h1M16 4h1M32 4h2M35 4h1M39 4h2M44 4h1M47 4h1M49 4h1M54 4h1M4 5h1M11 5h1M26 5h1M30 5h2M37 5h3M44 5h1M46 5h1M52 5h1M54 5h1M0 6h1M4 6h1M14 6h1M29 6h1M37 6h1M39 6h1M44 6h2M50 6h1M2 7h1M4 7h1M6 7h2M9 7h1M14 7h1M16 7h1M19 7h1M23 7h2M34 7h2M38 7h2M43 7h2M49 7h1M54 7h1M0 8h1M6 8h2M11 8h1M22 8h1M29 8h1M34 8h1M37 8h1M42 8h1M54 8h1M1 9h3M5 9h1M7 9h1M22 9h1M31 9h2M47 9h3M52 9h1M5 10h1M10 10h1M31 10h1M33 10h2M38 10h1M42 10h1M53 10h1M2 11h1M5 11h2M11 11h1M17 11h1M23 11h1M26 11h1M28 11h3M36 11h1M54 11h1M1 12h1M3 12h2M8 12h1M10 12h1M17 12h2M24 12h1M26 12h1M29 12h1M32 12h1M49 12h1M51 12h1M54 12h1M3 13h1M9 13h1M13 13h2M19 13h1M27 13h1M35 13h1M47 13h3M51 13h1M54 13h1M8 14h1M11 14h2M19 14h1M27 14h1M35 14h1M44 14h1M48 14h1M9 15h2M16 15h1M38 15h1M40 15h2M51 15h1M2 16h2M11 16h1M20 16h1M24 16h1M27 16h1M36 16h1M44 16h1M48 16h1M53 16h1M5 17h1M9 17h1M12 17h1M14 17h1M21 17h1M26 17h1M37 17h2M40 17h1M43 17h1M49 17h1M2 18h1M6 18h2M14 18h1M16 18h1M20 18h1M26 18h1M28 18h1M35 18h1M52 18h1M6 19h1M9 19h1M13 19h1M15 19h1M21 19h1M23 19h1M25 19h1M36 19h1M42 19h1M45 19h2M48 19h1M0 20h2M7 20h1M9 20h1M11 20h1M20 20h1M22 20h1M28 20h1M38 20h1M42 20h1M48 20h1M50 20h1M6 21h1M11 21h2M15 21h1M21 21h1M25 21h1M37 21h1M39 21h1M43 21h1M51 21h1M4 22h1M12 22h1M21 22h1M23 22h1M25 22h1M31 22h1M43 22h2M48 22h2M51 22h1M8 23h4M14 23h1M22 23h1M25 23h1M36 23h1M38 23h1M41 23h2M47 23h1M2 24h1M21 24h1M29 24h1M35 24h1M40 24h2M52 24h2M2 25h1M16 25h1M22 25h2M30 25h1M32 25h1M36 25h1M39 25h1M5 26h1M11 26h1M17 26h2M24 26h1M30 26h1M34 26h1M36 26h2M40 26h1M10 27h1M13 27h1M19 27h1M22 27h1M24 27h2M41 27h2M50 27h1M0 28h1M3 28h1M5 28h1M10 28h1M19 28h1M21 28h2M24 28h1M28 28h1M7 29h1M9 29h1M13 29h2M18 29h2M23 29h1M29 29h1M32 29h2M49 29h1M14 30h1M20 30h1M23 30h1M28 30h1M39 30h3M43 30h1M45 30h1M49 30h1M4 31h1M8 31h1M15 31h1M19 31h2M28 31h1M33 31h1M1 32h1M4 32h2M17 32h1M23 32h1M27 32h1M47 32h1M6 33h1M15 33h1M19 33h1M21 33h1M23 33h2M1 34h1M3 34h2M6 34h1M22 34h1M26 34h1M5 35h2M12 35h1M14 35h2M29 35h1M14 36h2M18 36h1M20 36h1M6 37h1M24 37h1M0 38h1M2 38h1M5 38h1M16 38h1M18 38h1M21 38h1M28 38h1M30 38h1M32 38h1M15 39h1M17 39h2M20 39h1M25 39h1M30 39h1M13 40h1M28 40h1M31 40h2M8 41h1M10 41h1M15 41h1M30 41h1M35 41h1M9 42h1M15 42h1M22 42h1M26 42h1M28 42h1M1 43h1M5 43h1M16 43h2M21 43h1M26 43h1M30 43h2M6 44h1M11 44h1M18 44h3M22 44h1M37 44h1M13 45h1M19 45h2M29 45h1M31 45h2M34 45h1M38 45h2M50 45h1M52 45h1M10 46h1M12 46h1M28 46h1M35 46h2M40 46h1M48 46h1M2 47h1M19 47h2M36 47h3M40 47h1M42 47h1M45 47h1M49 47h1M3 48h1M6 48h1M8 48h1M28 48h1M3 49h2M10 49h1M12 49h1M20 49h1M29 49h2M39 49h1M1 50h1M6 50h2M11 50h1M14 50h1M17 50h1M21 50h1M30 50h1M35 50h1M1 51h1M7 51h2M12 51h1M14 51h1M18 51h1M21 51h1M34 51h1M37 51h1M42 51h1M0 52h1M12 52h2M15 52h1M18 52h1M32 52h1M36 52h1M40 52h1M0 53h1M3 53h1M5 53h1M9 53h1M12 53h1M24 53h1M26 53h1M28 53h1M11 54h1M15 54h1M21 54h1M25 54h1M27 54h1M29 54h1M32 54h1M34 54h1"/>
<path stroke="#22ffd5" d="M5 0h1M26 0h1M36 0h1M50 0h1M16 1h1M24 1h2M37 1h1M15 2h1M25 2h1M36 2h1M38 2h1M1 3h1M36 3h2M41 3h1M47 3h1M1 4h2M29 4h2M34 4h1M36 4h1M52 4h2M0 5h1M3 5h1M27 5h1M29 5h1M36 5h1M45 5h1M53 5h1M1 6h1M11 6h1M22 6h1M33 6h2M49 6h1M54 6h1M12 7h1M18 7h1M1 8h1M3 8h2M12 8h2M18 8h1M28 8h1M35 8h2M41 8h1M43 8h1M46 8h1M4 9h1M10 9h1M38 9h1M54 9h1M1 10h1M11 10h1M15 10h1M32 10h1M47 10h1M49 10h1M54 10h1M4 11h1M19 11h1M32 11h2M45 11h1M47 11h1M28 12h1M30 12h2M34 12h1M36 12h1M20 13h1M22 13h1M25 13h1M34 13h1M45 13h1M5 14h1M28 14h1M33 14h1M37 14h1M8 15h1M18 15h2M30 15h1M33 15h2M44 15h1M37 16h1M45 16h3M1 17h1M13 17h1M22 17h1M25 17h1M28 17h1M36 17h1M39 17h1M45 17h1M48 17h1M9 18h1M34 18h1M48 18h1M19 19h1M24 19h1M26 19h4M31 19h1M10 20h1M16 20h1M19 20h1M23 20h1M29 20h2M34 20h1M52 20h2M0 21h1M2 21h1M4 21h1M10 21h1M23 21h1M26 21h1M30 21h1M32 21h3M53 21h1M6 22h1M11 22h1M13 22h2M16 22h1M24 22h1M29 22h1M34 22h2M37 22h1M23 23h2M27 23h3M35 23h1M43 23h1M22 24h1M25 24h1M32 24h1M34 24h1M48 24h1M5 25h1M17 25h1M25 25h1M28 25h1M23 26h1M25 26h1M28 26h2M31 26h1M52 26h1M0 27h1M9 27h1M14 27h3M23 27h1M26 27h2M30 27h1M43 27h1M51 27h1M53 27h1M1 28h2M4 28h1M18 28h1M20 28h1M23 28h1M25 28h1M31 28h1M54 28h1M6 29h1M8 29h1M17 29h1M24 29h1M51 29h1M53 29h1M0 30h1M7 30h3M17 30h1M22 30h1M24 30h1M5 31h1M10 31h1M21 31h1M34 31h1M37 31h1M42 31h1M48 31h1M7 32h1M22 32h1M29 32h1M33 32h1M44 32h1M4 33h1M26 33h1M36 33h1M40 33h1M5 34h1M14 34h2M27 34h1M31 34h1M40 34h1M3 35h1M24 35h1M34 35h2M2 36h1M3 37h1M3 38h1M24 38h1M35 38h1M2 39h1M10 39h1M16 39h1M22 39h1M35 39h1M33 40h2M18 41h1M28 41h2M5 42h1M10 42h1M13 42h1M16 42h2M24 42h1M29 42h1M35 42h2M11 43h1M18 43h2M32 43h3M53 43h1M13 44h1M16 44h1M21 44h1M38 44h1M52 44h3M10 45h1M25 45h1M51 45h1M11 46h1M17 46h2M30 46h1M37 46h2M41 46h2M46 46h1M49 46h2M5 47h1M9 47h1M17 47h1M22 47h1M34 47h1M41 47h1M43 47h1M48 47h1M10 48h2M21 48h1M23 48h1M38 48h1M44 48h2M9 49h1M32 49h1M5 50h1M13 50h1M15 50h1M31 50h1M33 50h1M9 51h1M15 51h1M20 51h1M23 51h1M3 52h1M8 52h1M16 52h1M19 52h1M25 52h1M6 53h1M8 53h1M35 53h1M1 54h1M9 54h1M22 54h1M39 54h1"/>
<path stroke="#46ffb1" d="M13 0h1M15 1h1M26 1h2M36 1h1M4 2h1M26 3h1M33 3h2M46 3h1M28 4h1M31 4h1M37 4h1M43 4h1M1 5h1M28 5h1M33 5h1M43 5h1M2 6h1M42 6h1M11 7h1M42 7h1M5 8h1M44 8h2M0 9h1M8 9h1M2 10h2M7 10h1M35 10h1M1 11h1M3 11h1M7 11h2M35 11h1M49 11h1M2 12h1M6 12h2M20 12h1M33 12h1M35 12h1M37 12h1M21 14h2M34 14h1M28 15h1M32 15h1M35 15h1M28 16h1M34 16h1M29 17h1M25 18h1M27 18h1M29 18h1M31 18h1M37 18h1M40 18h1M53 18h1M32 19h1M35 19h1M47 19h1M25 20h1M31 20h3M35 20h1M40 20h1M49 20h1M24 21h1M31 21h1M35 21h1M41 21h1M48 21h1M52 21h1M54 21h1M27 22h1M26 23h1M31 23h4M1 24h1M23 24h1M31 24h1M15 26h1M21 26h1M27 26h1M20 27h1M37 27h1M54 27h1M17 28h1M50 28h2M1 29h1M3 29h1M21 29h1M54 29h1M2 30h1M4 30h2M15 30h1M18 30h1M32 30h1M44 30h1M47 30h1M50 30h2M0 31h1M3 31h1M14 31h1M17 31h1M23 31h1M38 31h2M44 31h4M37 32h1M39 32h1M46 32h1M5 33h1M39 33h1M44 33h1M46 33h3M35 34h1M42 34h1M36 35h1M45 35h1M34 37h2M33 38h1M3 39h1M33 39h2M3 40h1M36 41h1M54 42h1M6 43h1M12 43h4M51 43h2M14 44h2M39 44h1M51 44h1M14 45h1M16 45h2M41 45h1M49 45h1M1 46h1M14 46h1M16 46h1M19 46h1M43 46h1M47 46h1M8 47h1M10 47h3M15 47h1M18 47h1M44 47h1M15 48h1M18 48h1M37 48h1M18 49h1M10 50h1M16 50h1M7 52h1M7 53h1M36 54h1"/>
<path stroke="#6aff8d" d="M35 0h1M28 1h1M33 1h1M27 2h1M34 2h2M27 3h1M29 3h1M35 3h1M41 5h1M38 6h1M40 6h2M41 7h1M8 8h1M8 10h1M48 10h1M34 11h1M6 13h1M21 13h1M32 13h2M38 13h1M36 15h1M26 16h1M30 16h2M35 16h1M0 17h1M27 17h1M34 17h1M30 18h1M32 18h2M34 19h1M37 19h1M53 19h1M24 20h1M27 20h1M36 20h1M27 21h1M28 22h1M32 22h2M30 24h1M24 25h1M26 25h1M29 25h1M16 26h1M28 27h1M52 27h1M52 28h2M2 29h1M5 29h1M15 29h1M20 29h1M22 29h1M52 29h1M16 30h1M40 31h2M50 31h1M3 32h1M6 32h1M38 32h1M45 32h1M48 32h2M51 32h2M2 33h2M41 33h1M49 33h1M51 33h1M53 33h1M36 34h1M38 34h2M46 34h1M48 34h1M50 34h2M37 35h1M36 36h1M39 36h1M36 37h1M19 39h1M37 41h1M37 42h1M51 42h1M35 43h3M39 43h1M54 43h1M17 44h1M40 44h1M47 44h2M18 45h1M13 46h1M15 46h1M45 46h1M14 47h1M16 47h1M12 48h1M14 48h1M19 48h1M11 49h1M13 49h3M17 49h1M19 49h1M6 51h1M35 51h1M2 53h1"/>
<path stroke="#8dff6a" d="M29 0h1M34 0h1M31 1h1M34 1h2M28 3h1M30 3h3M31 13h1M31 14h2M31 15h1M33 16h1M30 17h2M33 17h1M35 17h1M36 18h1M30 19h1M33 19h1M28 21h2M26 24h1M28 24h1M27 25h1M0 29h1M16 29h1M1 30h1M6 30h1M19 30h1M52 30h1M54 30h1M1 31h1M51 31h3M40 32h1M42 32h1M50 32h1M37 33h2M45 33h1M50 33h1M37 34h1M45 34h1M47 34h1M46 35h1M38 36h1M34 38h1M36 39h1M36 40h1M12 44h1M36 44h1M46 44h1M49 44h2M15 45h1M42 45h2M46 45h1M48 45h1M13 47h1M13 48h1M17 48h1M16 49h1"/>
<path stroke="#b1ff46" d="M32 0h1M32 1h1M28 2h1M30 2h4M32 16h1M27 24h1M53 30h1M41 32h1M43 32h1M53 32h1M52 33h1M52 34h3M38 35h1M40 35h1M42 35h1M35 36h1M37 36h1M45 36h1M39 37h1M36 38h1M42 38h1M41 39h1M35 40h1M40 40h2M48 40h1M41 41h1M49 41h1M51 41h1M54 41h1M38 42h1M40 42h1M48 42h1M50 42h1M52 42h2M38 43h1M40 43h1M41 44h1M43 44h1M44 45h1M47 45h1M44 46h1M16 48h1"/>
<path stroke="#d5ff22" d="M28 0h1M33 0h1M29 1h2M32 17h1M54 31h1M43 33h1M41 34h1M39 35h1M43 35h2M48 35h1M43 36h2M48 36h3M37 37h2M40 37h1M45 37h1M37 38h1M41 38h1M43 38h1M47 38h1M37 40h1M40 41h1M42 41h1M50 41h1M41 42h2M41 43h1M47 43h2M50 43h1M42 44h1"/>
<path stroke="#f9f400" d="M27 0h1M29 2h1M42 33h1M54 33h1M43 34h2M49 34h1M41 35h1M47 35h1M49 35h2M52 35h1M54 35h1M40 36h1M46 36h1M52 36h2M42 37h1M44 37h1M47 37h1M49 37h2M38 38h1M46 38h1M37 39h4M45 39h1M43 40h1M49 40h2M53 40h1M39 41h1M48 41h1M52 41h1M39 42h1M49 42h1M42 43h2M44 44h2M45 45h1"/>
<path stroke="#ffca00" d="M31 0h1M54 32h1M51 35h1M41 36h1M47 36h1M51 36h1M43 37h1M46 37h1M39 38h1M49 38h1M54 38h1M42 39h3M51 39h4M38 40h2M47 40h1M54 40h1M38 41h1M53 41h1M43 42h1M44 43h3M49 43h1"/>
<path stroke="#ffa100" d="M30 0h1M42 36h1M54 36h1M41 37h1M48 37h1M52 37h1M54 37h1M40 38h1M44 38h2M48 38h1M53 38h1M47 39h1M49 39h1M42 40h1M45 40h2M52 40h1M43 41h1M47 41h1M44 42h1M47 42h1"/>
<path stroke="#ff7800" d="M53 35h1M51 37h1M53 37h1M50 38h2M46 39h1M50 39h1M44 40h1M51 40h1M44 41h1M46 41h1M46 42h1"/>
<path stroke="#ff4f00" d="M45 41h1M45 42h1"/>
<path stroke="#ff2600" d="M52 38h1M48 39h1"/>
</g></svg>
<rect x="797.7" y="2059.8" width="12.3" height="250.5" fill="url(#jetg)"/>
<text x="810.7" y="2068.2" font-size="25" text-anchor="start" fill="#262626">60</text>
<text x="810.7" y="2131.4" font-size="25" text-anchor="start" fill="#262626">55</text>
<text x="810.7" y="2194.5" font-size="25" text-anchor="start" fill="#262626">50</text>
<text x="810.7" y="2256.9" font-size="25" text-anchor="start" fill="#262626">45</text>
<text x="810.7" y="2319.2" font-size="25" text-anchor="start" fill="#262626">40</text>
<text x="656" y="2057.8" font-size="36" text-anchor="middle" fill="#262626">Vance</text>
<svg x="922.7" y="2058.8" width="251.5" height="251.2" viewBox="0 0 55 55" preserveAspectRatio="none">
<rect width="55" height="55" fill="#fdef00"/>
<g transform="translate(0 .5)" stroke-width="1.06" fill="none">
<path stroke="#0000c2" d="M33 53h1M34 54h2"/>
<path stroke="#0000e3" d="M32 53h1M34 53h3M33 54h1M36 54h1"/>
<path stroke="#0000ff" d="M33 51h2M32 52h2M35 52h2M22 53h1M42 53h2M32 54h1M38 54h1"/>
<path stroke="#0012ff" d="M32 50h1M22 51h1M24 51h1M26 51h2M32 51h1M35 51h2M20 52h4M25 52h3M30 52h2M34 52h1M37 52h1M39 52h4M19 53h1M21 53h1M23 53h5M30 53h2M37 53h5M19 54h4M24 54h3M29 54h1M31 54h1M37 54h1M40 54h3"/>
<path stroke="#002fff" d="M27 49h1M33 49h1M20 50h2M23 50h6M33 50h3M20 51h2M23 51h1M25 51h1M28 51h4M39 51h1M19 52h1M24 52h1M28 52h2M44 52h3M17 53h2M20 53h1M28 53h2M44 53h2M18 54h1M23 54h1M27 54h2M30 54h1M39 54h1M43 54h1M45 54h3"/>
<path stroke="#004dff" d="M20 48h1M24 48h1M34 48h1M19 49h1M21 49h2M24 49h3M28 49h1M30 49h3M34 49h2M22 50h1M30 50h2M37 50h2M19 51h1M37 51h2M40 51h2M18 52h1M38 52h1M43 52h1M46 53h1M44 54h1M48 54h1"/>
<path stroke="#006aff" d="M24 46h1M24 47h2M27 47h1M30 47h1M21 48h1M23 48h1M25 48h4M31 48h2M35 48h1M20 49h1M23 49h1M36 49h1M19 50h1M29 50h1M36 50h1M40 50h1M16 51h1M18 51h1M42 51h4M17 52h1M47 52h1M16 53h1M47 53h2M14 54h4"/>
<path stroke="#0087ff" d="M25 46h2M28 46h1M31 46h2M19 47h1M22 47h2M26 47h1M29 47h1M31 47h1M33 47h3M18 48h2M22 48h1M29 48h2M33 48h1M36 48h1M18 49h1M29 49h1M38 49h1M18 50h1M39 50h1M41 50h1M17 51h1M46 51h1M15 52h2M15 53h1M49 54h1"/>
<path stroke="#00a4ff" d="M31 44h1M28 45h1M30 45h1M32 45h1M23 46h1M27 46h1M29 46h2M33 46h2M18 47h1M20 47h2M28 47h1M32 47h1M37 49h1M39 49h1M15 50h3M42 50h1M15 51h1M14 52h1M14 53h1M49 53h1M13 54h1"/>
<path stroke="#00c1ff" d="M13 34h2M14 35h1M7 38h1M10 41h2M27 42h2M27 43h2M31 43h1M24 44h7M32 44h2M23 45h5M29 45h1M31 45h1M33 45h1M22 46h1M35 46h1M17 47h1M36 47h1M17 48h1M15 49h3M40 49h3M43 50h2M14 51h1M47 51h2M13 52h1M48 52h1M12 53h2M11 54h2M50 54h1"/>
<path stroke="#00defd" d="M13 32h3M10 33h1M13 33h1M12 34h1M11 35h2M9 36h5M9 37h2M12 37h1M8 38h3M7 39h1M9 39h3M11 40h1M8 41h1M10 42h2M24 42h1M10 43h2M23 43h1M25 43h2M29 43h1M32 43h2M10 44h1M34 44h1M21 45h1M34 45h2M17 46h5M37 47h1M16 48h1M37 48h3M14 49h1M14 50h1M45 50h1M11 51h3M11 52h2M49 52h1M10 53h2M50 53h1M51 54h1"/>
<path stroke="#12fbe5" d="M11 31h1M15 31h2M12 32h1M16 32h2M11 33h2M14 33h4M10 34h2M15 34h2M9 35h2M13 35h1M15 35h2M8 36h1M14 36h1M16 36h1M7 37h2M11 37h1M13 37h1M11 38h3M6 39h1M8 39h1M12 39h1M6 40h5M12 40h1M7 41h1M9 41h1M12 41h1M27 41h2M9 42h1M12 42h1M25 42h2M29 42h1M33 42h1M9 43h1M12 43h1M24 43h1M30 43h1M34 43h1M11 44h3M23 44h1M35 44h1M14 45h2M17 45h1M20 45h1M22 45h1M15 46h2M36 46h2M15 47h2M38 47h2M14 48h2M40 48h1M43 48h1M43 49h1M46 50h2M49 51h1M10 52h1M50 52h2M51 53h1M9 54h2"/>
<path stroke="#29ffce" d="M27 29h1M12 30h1M15 30h1M10 31h1M13 31h2M10 32h2M9 33h1M18 33h1M9 34h1M17 34h1M6 35h1M8 35h1M17 35h1M26 35h1M7 36h1M15 36h1M17 36h1M6 37h1M15 37h2M23 37h1M6 38h1M14 38h1M5 39h1M13 39h1M13 40h1M24 40h1M27 40h1M32 40h1M13 41h1M23 41h4M29 41h1M33 41h1M7 42h2M13 42h2M23 42h1M30 42h3M34 42h1M7 43h2M13 43h2M22 43h1M35 43h1M9 44h1M14 44h2M21 44h2M36 44h1M9 45h3M13 45h1M16 45h1M18 45h2M36 45h1M12 46h3M38 46h1M9 47h1M13 47h2M40 47h1M13 48h1M41 48h2M44 48h1M7 49h1M12 49h2M44 49h1M12 50h2M49 50h1M9 51h2M8 52h2M9 53h1M8 54h1M52 54h1"/>
<path stroke="#41ffb6" d="M13 24h1M15 24h1M23 24h1M10 25h2M16 25h1M19 25h2M27 25h3M12 26h2M15 26h1M23 26h3M27 26h1M29 26h1M12 27h4M17 27h1M23 27h6M14 28h5M23 28h5M11 29h1M14 29h1M18 29h1M23 29h1M26 29h1M28 29h1M10 30h2M14 30h1M17 30h1M19 30h2M22 30h3M27 30h2M12 31h1M17 31h1M19 31h1M22 31h1M24 31h1M26 31h1M29 31h1M9 32h1M18 32h6M25 32h1M28 32h1M30 32h1M8 33h1M19 33h1M28 33h2M7 34h2M18 34h3M7 35h1M18 35h2M24 35h1M28 35h1M6 36h1M18 36h1M21 36h1M24 36h4M29 36h1M14 37h1M18 37h1M20 37h1M24 37h2M5 38h1M15 38h3M20 38h1M22 38h1M25 38h4M14 39h2M18 39h1M20 39h1M23 39h1M28 39h1M5 40h1M19 40h1M21 40h2M25 40h2M28 40h2M6 41h1M14 41h2M22 41h1M30 41h3M6 42h1M15 42h1M22 42h1M6 43h1M15 43h1M8 44h1M16 44h2M19 44h2M8 45h1M12 45h1M37 45h1M8 46h4M39 46h1M10 47h1M12 47h1M41 47h2M8 48h2M12 48h1M6 49h1M8 49h1M45 49h1M47 49h1M7 50h3M11 50h1M48 50h1M50 50h1M7 51h2M50 51h1M7 52h1M52 52h1M7 53h1M52 53h1M7 54h1"/>
<path stroke="#58ff9f" d="M11 23h1M13 23h2M24 23h1M10 24h1M12 24h1M14 24h1M17 24h3M22 24h1M24 24h1M28 24h1M30 24h1M12 25h3M17 25h2M22 25h5M30 25h1M10 26h2M14 26h1M16 26h6M26 26h1M28 26h1M31 26h1M16 27h1M19 27h4M29 27h3M11 28h1M13 28h1M21 28h2M28 28h2M10 29h1M12 29h2M15 29h3M19 29h4M24 29h2M29 29h2M9 30h1M13 30h1M16 30h1M18 30h1M21 30h1M25 30h2M29 30h1M8 31h1M18 31h1M20 31h2M23 31h1M25 31h1M27 31h2M8 32h1M24 32h1M29 32h1M20 33h5M26 33h2M30 33h1M22 34h2M25 34h1M27 34h4M20 35h4M27 35h1M29 35h1M5 36h1M19 36h2M22 36h2M28 36h1M30 36h1M5 37h1M17 37h1M19 37h1M21 37h2M26 37h4M4 38h1M19 38h1M21 38h1M23 38h2M30 38h1M4 39h1M19 39h1M21 39h2M24 39h4M29 39h2M4 40h1M14 40h3M18 40h1M20 40h1M23 40h1M30 40h2M33 40h1M5 41h1M16 41h1M19 41h3M34 41h1M16 42h2M19 42h3M35 42h1M16 43h3M20 43h2M36 43h1M7 44h1M18 44h1M37 44h1M38 45h1M40 46h1M42 46h1M7 47h2M11 47h1M43 47h1M5 48h3M10 48h2M9 49h1M11 49h1M46 49h1M49 49h1M6 50h1M10 50h1M51 50h1M51 51h3M6 52h1M54 52h1M8 53h1M53 53h1M53 54h1"/>
<path stroke="#70ff87" d="M27 21h2M10 22h1M12 22h3M20 22h1M23 22h1M30 22h1M10 23h1M12 23h1M15 23h1M17 23h7M25 23h5M8 24h2M11 24h1M16 24h1M20 24h2M25 24h2M29 24h1M31 24h2M9 25h1M15 25h1M21 25h1M31 25h1M9 26h1M22 26h1M30 26h1M32 26h2M10 27h2M18 27h1M32 27h1M10 28h1M12 28h1M19 28h2M30 28h3M9 29h1M31 29h1M30 30h1M7 31h1M9 31h1M30 31h2M6 32h2M26 32h2M31 32h1M6 33h2M25 33h1M31 33h1M6 34h1M26 34h1M5 35h1M25 35h1M30 35h2M4 37h1M30 37h2M18 38h1M29 38h1M31 38h2M16 39h2M31 39h3M34 40h1M17 41h2M35 41h2M5 42h1M18 42h1M36 42h1M5 43h1M19 43h1M5 44h2M38 44h1M6 45h2M39 45h1M4 46h4M41 46h1M43 46h2M4 47h3M44 47h2M45 48h2M5 49h1M10 49h1M48 49h1M50 49h1M53 50h2M6 51h1M54 51h1M53 52h1M6 53h1M54 53h1M5 54h2M54 54h1"/>
<path stroke="#87ff70" d="M27 20h1M8 21h2M11 21h3M17 21h1M20 21h1M29 21h1M31 21h1M9 22h1M15 22h1M17 22h2M21 22h2M24 22h2M27 22h3M16 23h1M30 23h3M7 24h1M27 24h1M33 24h1M8 25h1M32 25h2M8 26h1M7 27h1M33 27h1M8 28h2M33 28h1M8 29h1M32 29h2M7 30h2M31 30h3M32 31h1M32 32h3M5 33h1M33 33h1M5 34h1M21 34h1M24 34h1M31 34h2M4 35h1M33 35h1M4 36h1M31 36h2M3 37h1M2 38h2M33 38h2M2 39h2M3 40h1M17 40h1M35 40h2M54 40h1M3 41h2M52 41h1M4 42h1M37 42h1M52 42h3M4 43h1M37 43h2M53 43h1M4 44h1M39 44h1M45 44h2M1 45h1M3 45h3M40 45h4M3 46h1M4 48h1M47 48h1M52 48h1M53 49h1M5 50h1M52 50h1M4 51h2M5 52h1M5 53h1"/>
<path stroke="#9fff58" d="M6 19h1M8 19h1M7 20h3M11 20h1M13 20h1M16 20h1M19 20h1M23 20h2M28 20h1M7 21h1M10 21h1M14 21h3M18 21h2M21 21h6M30 21h1M6 22h3M11 22h1M16 22h1M19 22h1M26 22h1M31 22h1M7 23h3M33 23h1M6 24h1M6 25h2M7 26h1M34 26h1M8 27h2M34 27h1M7 28h1M34 28h1M7 29h1M5 31h2M33 31h2M4 32h2M4 33h1M32 33h1M0 34h1M4 34h1M33 34h2M1 35h3M32 35h1M1 36h3M0 37h1M2 37h1M32 37h3M1 38h1M37 38h1M52 38h1M54 38h1M34 39h4M39 39h1M50 39h1M53 39h2M1 40h2M37 40h2M50 40h3M0 41h2M37 41h1M39 41h1M49 41h1M51 41h1M53 41h1M0 42h1M2 42h2M38 42h2M47 42h1M0 43h1M3 43h1M43 43h1M45 43h4M54 43h1M2 44h2M40 44h5M47 44h1M51 44h1M53 44h1M2 45h1M44 45h3M52 45h1M54 45h1M1 46h2M45 46h2M50 46h1M53 46h1M2 47h2M53 47h1M48 48h2M53 48h1M3 49h2M51 49h2M54 49h1M4 50h1M4 52h1"/>
<path stroke="#b6ff41" d="M15 17h1M6 18h3M14 18h1M7 19h1M12 19h4M17 19h2M23 19h2M6 20h1M10 20h1M12 20h1M14 20h2M17 20h2M20 20h1M22 20h1M25 20h2M29 20h2M5 21h2M32 21h1M32 22h2M5 23h2M34 23h1M34 24h1M34 25h1M35 26h2M6 27h1M35 27h2M6 28h1M6 29h1M34 29h2M6 30h1M3 31h2M35 31h1M0 32h1M3 32h1M0 33h2M3 33h1M34 33h2M1 34h3M35 34h1M0 35h1M34 35h1M0 36h1M33 36h2M1 37h1M35 37h3M53 37h1M35 38h2M38 38h2M51 38h1M0 39h2M38 39h1M51 39h2M39 40h1M53 40h1M2 41h1M38 41h1M47 41h2M50 41h1M54 41h1M1 42h1M40 42h2M43 42h4M48 42h4M1 43h2M39 43h2M42 43h1M44 43h1M49 43h4M0 44h2M48 44h3M52 44h1M54 44h1M0 45h1M47 45h5M0 46h1M49 46h1M51 46h2M54 46h1M0 47h2M46 47h7M54 47h1M0 48h1M3 48h1M50 48h2M54 48h1M0 49h3M3 50h1M4 54h1"/>
<path stroke="#ceff29" d="M39 5h1M7 17h2M13 17h1M16 17h1M5 18h1M9 18h5M15 18h2M18 18h1M9 19h3M16 19h1M19 19h1M21 19h1M25 19h1M5 20h1M21 20h1M31 20h2M4 21h1M33 21h1M4 22h2M34 22h1M35 23h1M35 24h1M5 25h1M35 25h1M6 26h1M5 27h1M5 28h1M35 28h2M4 29h2M3 30h3M34 30h3M2 32h1M35 32h1M2 33h1M36 34h1M35 35h1M35 36h3M39 36h2M53 36h1M38 37h3M52 37h1M54 37h1M0 38h1M40 38h1M50 38h1M53 38h1M40 39h1M49 39h1M0 40h1M40 40h3M48 40h2M40 41h7M42 42h1M41 43h1M53 45h1M47 46h2M1 48h2M0 50h3M3 51h1M2 53h3M3 54h1"/>
<path stroke="#e5ff12" d="M5 0h1M39 0h1M42 0h1M2 1h1M4 1h1M53 1h1M43 2h1M40 3h1M44 3h1M39 4h2M53 4h1M40 5h1M44 5h1M49 5h1M52 5h2M53 6h1M53 7h1M49 8h1M50 9h1M51 12h1M6 16h1M9 16h1M13 16h3M5 17h2M9 17h3M4 18h1M17 18h1M19 18h1M21 18h1M25 18h1M5 19h1M20 19h1M22 19h1M26 19h1M28 19h4M4 20h1M3 21h1M34 21h2M2 22h2M4 23h1M36 23h1M53 23h1M4 24h2M36 24h1M1 25h1M36 25h1M38 25h1M53 25h2M3 26h3M37 26h1M37 27h1M4 28h1M37 28h1M2 29h1M36 29h1M38 29h1M2 30h1M37 30h1M48 30h1M54 30h1M0 31h3M36 31h2M53 31h2M1 32h1M36 32h1M48 32h1M54 32h1M36 33h1M36 35h2M40 35h2M49 35h1M52 35h2M41 36h1M43 36h2M52 36h1M54 36h1M41 37h1M43 37h1M45 37h1M49 37h3M41 38h1M44 38h2M48 38h2M41 39h1M48 39h1M44 40h4M0 51h3M3 52h1M1 53h1M1 54h2"/>
<path stroke="#ffd400" d="M1 0h2M7 0h1M38 0h1M41 0h1M43 0h1M46 0h3M1 1h1M7 1h2M37 1h3M43 1h1M48 1h3M2 2h1M5 2h1M7 2h2M45 2h1M48 2h1M51 2h1M0 3h1M3 3h2M6 3h1M38 3h1M43 3h1M45 3h2M51 3h1M4 4h1M38 4h1M41 4h1M44 4h1M36 5h1M46 5h1M48 5h1M51 5h1M54 5h1M37 6h1M44 6h1M47 6h1M49 6h1M51 6h1M37 7h2M42 7h3M48 7h1M51 7h1M38 8h1M40 8h1M43 8h2M53 8h1M45 9h1M53 9h1M48 10h1M49 11h1M52 11h1M54 11h1M47 12h1M49 12h1M52 12h2M47 13h5M54 13h1M8 14h1M49 14h3M6 15h1M8 15h1M10 15h2M13 15h4M52 15h1M5 16h1M12 16h1M52 16h1M19 17h2M25 17h1M31 17h1M51 17h1M53 17h1M0 18h1M3 18h1M26 18h1M28 18h1M32 18h1M51 18h1M0 19h4M33 19h2M51 19h1M54 19h1M0 20h2M49 20h6M50 21h3M54 21h1M36 22h2M51 22h2M54 22h1M0 23h1M37 23h2M3 24h1M38 24h2M53 24h1M39 25h2M0 26h3M40 26h1M48 26h1M50 26h1M52 26h2M0 27h2M39 27h1M50 27h1M53 27h1M0 28h2M40 28h1M46 28h1M49 28h2M54 28h1M0 29h2M39 29h2M48 29h3M52 29h1M54 29h1M39 30h1M49 30h4M40 31h1M46 31h1M48 31h1M40 32h5M47 32h1M50 32h1M39 33h2M43 33h1M45 33h1M47 33h3M54 33h1M42 34h1M45 34h1M48 34h1M52 34h1M42 35h1M44 35h1M47 35h1M46 36h2M47 37h2M46 38h1M47 39h1M0 52h1"/>
<path stroke="#ffb900" d="M8 0h1M36 0h2M49 0h2M9 1h1M36 2h3M1 3h2M7 3h2M37 3h1M0 4h1M2 4h2M5 4h4M36 4h2M0 5h1M2 5h7M37 5h1M4 6h1M8 6h1M36 6h1M48 6h1M41 7h1M39 8h1M41 8h2M37 9h1M39 9h6M44 10h3M32 11h1M38 11h1M44 11h1M46 11h1M45 12h2M48 12h1M9 14h3M47 14h2M18 15h1M48 15h1M50 15h1M4 16h1M17 16h2M23 16h1M27 16h1M31 16h1M50 16h2M2 17h2M21 17h1M23 17h2M26 17h5M32 17h3M52 17h1M1 18h2M31 18h1M33 18h2M50 18h1M52 18h1M35 19h1M50 19h1M2 20h1M36 20h1M0 21h1M36 21h1M49 21h1M38 22h2M50 22h1M39 23h1M50 23h2M40 24h1M50 24h1M49 25h2M49 26h1M2 27h1M40 27h2M48 28h1M45 29h3M40 30h2M46 30h2M41 31h5M45 32h1"/>
<path stroke="#ff9e00" d="M9 0h2M35 0h1M28 1h1M34 1h3M9 2h2M10 3h1M36 3h1M1 4h1M9 4h3M33 4h1M35 4h1M9 5h1M11 5h1M30 5h2M33 5h1M35 5h1M1 6h2M5 6h1M7 6h1M9 6h1M30 6h2M35 7h2M34 8h1M36 8h2M31 9h1M34 9h2M38 9h1M30 10h2M37 10h4M42 10h2M31 11h1M36 11h2M42 11h2M31 12h2M34 12h1M43 12h2M45 13h2M6 14h2M12 14h2M17 14h3M37 14h1M43 14h2M46 14h1M5 15h1M17 15h1M31 15h3M40 15h2M43 15h2M47 15h1M49 15h1M3 16h1M19 16h3M24 16h3M29 16h2M32 16h2M41 16h1M0 17h2M22 17h1M35 17h1M38 17h1M49 17h2M35 18h2M46 18h1M36 19h1M38 19h1M42 19h1M47 19h1M49 19h1M42 20h2M37 21h3M40 22h1M45 22h1M49 22h1M42 23h1M49 23h1M41 24h2M47 24h1M49 24h1M41 25h2M46 25h1M48 25h1M41 26h3M46 26h2M42 27h1M44 27h1M46 27h4M41 28h3M45 28h1M47 28h1M41 29h1M43 29h1M44 30h2"/>
<path stroke="#ff8300" d="M11 0h1M28 0h3M32 0h3M10 1h1M27 1h1M29 1h1M31 1h1M11 2h1M28 2h4M34 2h2M11 3h1M29 3h1M35 3h1M30 4h1M1 5h1M10 5h1M12 5h1M29 5h1M32 5h1M34 5h1M3 6h1M6 6h1M10 6h2M28 6h2M32 6h2M35 6h1M0 7h3M5 7h6M29 7h1M31 7h1M34 7h1M8 8h1M30 8h1M32 8h2M35 8h1M30 9h1M32 9h2M36 9h1M29 10h1M32 10h5M41 10h1M30 11h1M33 11h3M39 11h3M45 11h1M33 12h1M35 12h3M39 12h2M42 12h1M7 13h4M28 13h2M35 13h2M40 13h5M14 14h1M16 14h1M27 14h1M32 14h1M34 14h1M36 14h1M39 14h4M45 14h1M3 15h2M19 15h2M22 15h3M26 15h3M30 15h1M35 15h3M39 15h1M42 15h1M45 15h2M0 16h3M22 16h1M28 16h1M34 16h3M38 16h3M42 16h5M48 16h2M37 17h1M39 17h4M45 17h1M47 17h2M37 18h2M40 18h1M42 18h1M45 18h1M48 18h2M37 19h1M39 19h3M44 19h3M48 19h1M37 20h5M45 20h4M40 21h4M45 21h1M48 21h1M41 22h4M46 22h1M40 23h2M43 23h4M43 24h1M46 24h1M48 24h1M43 25h1M47 25h1M44 26h2M43 27h1M45 27h1M44 28h1M42 29h1M44 29h1M42 30h2"/>
<path stroke="#ff6800" d="M12 0h1M14 0h1M31 0h1M11 1h2M32 1h2M12 2h1M26 2h2M32 2h2M9 3h1M12 3h1M26 3h1M30 3h5M12 4h2M28 4h2M31 4h2M34 4h1M0 6h1M12 6h2M34 6h1M3 7h2M11 7h3M30 7h1M32 7h2M0 8h2M6 8h2M9 8h2M28 8h2M31 8h1M1 9h1M9 9h2M26 9h1M28 9h2M3 10h1M27 10h2M2 11h1M27 11h3M6 12h1M8 12h2M25 12h1M27 12h2M30 12h1M38 12h1M41 12h1M5 13h2M11 13h3M18 13h2M21 13h3M26 13h2M30 13h4M37 13h3M2 14h4M15 14h1M21 14h3M25 14h2M28 14h2M33 14h1M38 14h1M1 15h2M21 15h1M25 15h1M29 15h1M34 15h1M38 15h1M37 16h1M47 16h1M36 17h1M43 17h2M46 17h1M39 18h1M41 18h1M43 18h2M47 18h1M43 19h1M44 20h1M44 21h1M46 21h2M47 22h2M47 23h2M44 25h2"/>
<path stroke="#ff4d00" d="M13 0h1M27 0h1M13 1h3M23 1h2M26 1h1M30 1h1M13 2h1M13 3h2M19 3h1M25 3h1M27 3h2M14 4h3M25 4h3M13 5h5M19 5h1M26 5h3M14 6h1M16 6h1M18 6h1M26 6h2M14 7h1M27 7h2M2 8h4M11 8h2M22 8h1M26 8h2M0 9h1M2 9h2M7 9h2M11 9h2M21 9h2M25 9h1M27 9h1M0 10h1M2 10h1M8 10h2M11 10h1M21 10h1M25 10h2M1 11h1M3 11h1M7 11h3M24 11h3M2 12h4M7 12h1M10 12h2M21 12h4M26 12h1M29 12h1M2 13h1M4 13h1M15 13h3M20 13h1M24 13h2M34 13h1M0 14h2M20 14h1M24 14h1M30 14h2M35 14h1M0 15h1M44 24h2"/>
<path stroke="#ff3200" d="M15 0h12M17 1h2M25 1h1M14 2h1M17 2h2M23 2h1M25 2h1M15 3h4M20 3h3M17 4h1M19 4h1M22 4h3M18 5h1M20 5h1M22 5h1M24 5h2M17 6h1M19 6h2M22 6h2M25 6h1M15 7h3M19 7h5M25 7h2M13 8h2M18 8h3M5 9h2M13 9h1M19 9h1M4 10h1M6 10h2M10 10h1M12 10h1M20 10h1M22 10h1M24 10h1M4 11h1M6 11h1M10 11h2M20 11h3M0 12h2M12 12h3M18 12h3M0 13h2M3 13h1M14 13h1"/>
<path stroke="#ff1700" d="M16 1h1M19 1h4M15 2h2M19 2h4M24 2h1M23 3h2M18 4h1M20 4h2M21 5h1M23 5h1M15 6h1M21 6h1M24 6h1M18 7h1M24 7h1M15 8h3M21 8h1M23 8h3M4 9h1M15 9h1M17 9h2M20 9h1M23 9h2M1 10h1M5 10h1M13 10h2M19 10h1M23 10h1M0 11h1M5 11h1M12 11h3M23 11h1M16 12h1"/>
<path stroke="#e30000" d="M14 9h1M16 10h1M18 10h1M15 11h5M15 12h1M17 12h1"/>
<path stroke="#c20000" d="M16 9h1M15 10h1M17 10h1"/>
</g></svg>
<rect x="1190.2" y="2059.8" width="12.3" height="250.5" fill="url(#jetg)"/>
<text x="1203.2" y="2094.1" font-size="25" text-anchor="start" fill="#262626">1360</text>
<text x="1203.2" y="2162.9" font-size="25" text-anchor="start" fill="#262626">1340</text>
<text x="1203.2" y="2230.9" font-size="25" text-anchor="start" fill="#262626">1320</text>
<text x="1203.2" y="2299.8" font-size="25" text-anchor="start" fill="#262626">1300</text>
<text x="1048.5" y="2057.8" font-size="36" text-anchor="middle" fill="#262626">WillowWells</text>
<svg x="1315.2" y="2063.9" width="241.9" height="241.8" viewBox="0 0 55 55" preserveAspectRatio="none">
<rect width="55" height="55" fill="#46ffb1"/>
<g transform="translate(0 .5)" stroke-width="1.06" fill="none">
<path stroke="#000080" d="M1 11h1M3 12h1M9 31h1M7 32h2M7 33h1"/>
<path stroke="#0000b2" d="M2 7h1M3 18h1M20 18h1M2 20h1M6 25h1M15 25h1M10 28h1M12 30h1M8 33h1M12 33h1M5 34h2M8 34h1"/>
<path stroke="#0000e4" d="M1 6h1M2 8h2M0 9h1M3 10h1M2 11h1M4 11h1M4 12h1M2 13h1M7 15h1M2 19h2M2 21h1M4 21h1M5 24h1M18 24h1M15 26h1M20 27h1M9 28h1M11 29h1M7 31h1M9 32h1M6 33h1M9 33h1M7 34h1M5 35h2M4 36h1"/>
<path stroke="#0006ff" d="M3 0h1M0 1h1M2 1h1M2 5h1M2 6h2M0 7h2M4 7h1M0 8h2M1 9h1M4 9h2M0 10h2M4 10h1M5 11h1M0 12h3M5 12h2M3 13h2M6 13h1M4 16h1M2 17h1M1 18h1M4 18h1M1 19h1M1 20h1M3 20h1M16 20h1M1 21h1M3 21h1M7 21h1M2 22h1M5 22h2M2 23h1M7 23h1M6 24h1M8 24h1M14 24h1M10 25h1M14 25h1M18 25h1M20 25h1M10 26h3M17 26h1M19 26h1M9 27h1M17 27h1M5 28h1M8 28h1M12 28h1M20 28h1M1 29h1M4 29h1M8 29h3M12 29h1M8 30h1M0 31h1M6 31h1M8 31h1M10 31h1M12 31h1M14 31h1M20 31h1M4 33h1M11 33h1M13 33h1M10 34h1M12 34h1M7 35h2M5 37h1M10 38h1"/>
<path stroke="#0032ff" d="M0 0h1M2 0h1M4 0h1M0 3h1M4 3h1M0 5h1M3 5h1M0 6h1M2 9h1M5 10h1M0 11h1M3 11h1M7 12h1M0 13h2M7 13h1M5 14h1M7 14h2M8 15h1M3 16h1M7 16h2M21 16h1M0 17h1M3 17h3M0 18h1M2 18h1M0 19h1M4 19h1M12 19h1M21 19h1M26 19h1M0 20h1M4 20h1M17 20h2M18 21h2M22 21h1M0 22h1M3 22h2M15 22h1M20 22h1M4 23h1M6 23h1M16 23h1M19 23h1M13 24h1M16 24h2M0 25h1M12 25h2M16 25h2M3 26h1M6 26h2M13 26h2M20 26h1M16 27h1M21 27h1M11 28h1M16 28h1M21 28h1M13 29h1M16 29h2M20 29h2M2 30h1M11 30h1M13 30h1M15 30h1M18 30h1M1 31h2M13 31h1M17 31h1M0 32h1M4 32h3M11 32h2M16 32h1M5 33h1M4 34h1M25 34h1M4 35h1M9 35h1M0 36h1M5 36h4M0 37h1M11 37h1"/>
<path stroke="#005eff" d="M1 0h1M1 1h1M1 2h1M3 3h1M0 4h1M3 4h1M1 5h1M12 5h1M25 5h1M4 6h3M3 7h1M5 7h1M4 8h2M3 9h1M6 9h1M6 10h1M8 10h1M7 11h2M8 13h1M1 14h3M6 14h1M0 15h2M9 15h1M12 15h1M5 16h2M28 16h1M8 17h2M12 17h1M18 17h1M7 18h1M19 18h1M6 19h1M17 19h2M20 19h1M32 19h1M8 20h1M10 20h1M19 20h2M22 20h1M5 21h2M9 21h2M13 21h1M21 21h1M29 21h1M16 22h1M3 23h1M5 23h1M13 23h1M26 23h1M2 24h3M12 24h1M15 24h1M22 24h1M26 24h1M5 25h1M7 25h1M9 25h1M5 26h1M16 26h1M2 27h2M6 27h1M10 27h1M12 27h3M18 27h1M2 28h1M4 28h1M6 28h1M13 28h1M15 28h1M17 28h1M22 28h1M5 29h3M19 29h1M22 29h1M0 30h2M3 30h2M6 30h2M9 30h2M20 30h1M11 31h1M18 31h2M21 31h1M3 32h1M10 32h1M19 32h1M9 34h1M11 34h1M10 35h1M3 36h1M2 37h2M10 37h1M0 38h1M2 38h1M4 38h3M13 38h1M1 39h1M13 39h1"/>
<path stroke="#008bff" d="M20 1h1M0 2h1M3 2h1M1 3h1M5 3h1M1 4h1M5 4h2M4 5h1M27 6h1M28 7h1M2 10h1M6 11h1M11 11h1M8 12h1M5 13h1M0 14h1M4 14h1M14 14h1M2 15h2M6 15h1M13 15h2M21 15h1M29 15h1M2 16h1M9 16h1M25 16h1M1 17h1M6 17h2M19 17h1M21 17h1M28 17h3M5 18h1M9 18h1M11 18h3M18 18h1M21 18h1M29 18h1M7 19h1M14 19h1M16 19h1M25 19h1M27 19h1M9 20h1M13 20h1M21 20h1M28 20h2M0 21h1M15 21h2M25 21h1M28 21h1M31 21h1M12 22h1M18 22h1M21 22h1M0 23h1M10 23h2M14 23h2M18 23h1M20 23h3M25 23h1M1 24h1M7 24h1M9 24h1M11 24h1M19 24h3M27 24h1M1 25h1M3 25h1M8 25h1M11 25h1M19 25h1M26 25h1M0 26h3M9 26h1M18 26h1M22 26h1M4 27h1M7 27h2M11 27h1M19 27h1M1 28h1M3 28h1M14 28h1M18 28h1M0 29h1M2 29h2M18 29h1M5 30h1M19 30h1M21 30h2M4 31h1M15 31h1M1 32h1M15 32h1M20 32h3M2 33h2M10 33h1M21 33h1M1 34h3M13 34h1M16 34h1M2 35h1M11 35h1M17 35h1M1 36h2M10 36h1M4 37h1M13 37h1M1 38h1M3 38h1M7 38h1M11 38h1M0 39h1M7 39h1M9 39h1M12 39h1M3 40h2M4 41h1M10 44h1M41 44h1M10 51h1M29 54h1"/>
<path stroke="#00b7ff" d="M28 0h1M3 1h3M2 2h1M4 2h1M2 3h1M19 3h1M2 4h1M4 4h1M11 4h1M6 5h1M13 5h1M16 5h1M27 7h1M30 8h1M7 9h1M26 9h1M7 10h1M9 10h1M10 13h2M15 13h1M9 14h2M12 14h1M15 14h1M17 14h1M23 14h1M28 14h1M4 15h2M20 15h1M23 15h2M28 15h1M30 15h1M1 16h1M13 16h1M19 16h1M22 16h1M24 16h1M10 17h1M13 17h1M16 17h1M25 17h1M27 17h1M30 18h1M5 19h1M8 19h1M10 19h1M15 19h1M19 19h1M24 19h1M30 19h1M5 20h1M7 20h1M12 20h1M23 20h2M26 20h2M31 20h3M11 21h2M14 21h1M17 21h1M20 21h1M23 21h1M27 21h1M32 21h1M1 22h1M9 22h3M13 22h1M24 22h3M1 23h1M17 23h1M30 23h2M0 24h1M10 24h1M25 24h1M28 24h1M30 24h1M2 25h1M4 25h1M22 25h1M27 25h2M4 26h1M8 26h1M21 26h1M23 26h1M29 26h1M31 26h1M1 27h1M5 27h1M15 27h1M23 27h2M7 28h1M19 28h1M23 28h1M30 28h2M15 29h1M14 30h1M16 30h2M23 30h1M3 31h1M5 31h1M16 31h1M13 32h2M17 32h2M39 32h1M1 33h1M14 33h1M18 33h1M32 33h1M0 34h1M15 34h1M31 34h1M0 35h2M3 35h1M15 35h2M20 35h1M24 35h1M32 35h1M9 36h1M11 36h2M18 36h2M1 37h1M7 37h1M12 37h1M34 37h1M14 38h1M38 38h1M2 39h2M5 39h1M8 39h1M37 39h1M0 40h3M12 40h2M15 40h2M37 40h1M2 41h2M0 42h1M5 42h1M11 44h1M17 44h1M19 44h1M10 45h1M18 46h1M11 47h1M19 47h1M32 47h2M39 48h1M28 51h1M30 51h1M39 51h1M0 52h1M47 52h1M3 53h1M10 54h1"/>
<path stroke="#00e3f9" d="M5 0h1M5 2h3M23 2h2M45 2h1M48 2h1M8 3h2M18 3h1M24 3h2M27 3h1M47 3h1M8 4h1M12 4h3M24 4h2M5 5h1M8 5h1M11 6h1M15 6h1M22 6h1M26 6h1M29 6h1M6 7h1M10 7h1M23 7h1M30 7h1M32 7h1M6 8h1M31 8h1M9 9h1M11 9h1M28 9h1M30 9h1M10 10h1M29 10h1M39 10h1M9 11h2M12 11h1M28 11h1M15 12h1M9 13h1M16 13h1M22 13h1M11 14h1M16 14h1M22 14h1M31 14h1M10 15h2M22 15h1M26 15h2M33 15h1M0 16h1M11 16h1M14 16h2M27 16h1M31 16h1M14 17h2M20 17h1M6 18h1M8 18h1M10 18h1M15 18h1M17 18h1M22 18h1M25 18h4M9 19h1M13 19h1M22 19h1M28 19h2M36 19h1M38 19h1M6 20h1M14 20h1M25 20h1M30 20h1M35 20h1M8 21h1M24 21h1M26 21h1M7 22h2M14 22h1M19 22h1M22 22h2M28 22h1M35 22h1M8 23h2M12 23h1M27 23h3M23 24h1M29 24h1M31 24h1M21 25h1M23 25h3M30 25h1M32 25h1M24 26h3M28 26h1M0 27h1M27 27h1M30 27h1M32 27h1M36 27h1M41 28h1M44 28h1M14 29h1M24 29h1M30 29h1M33 29h1M31 30h1M22 31h2M2 32h1M23 32h1M25 32h1M29 32h1M0 33h1M15 33h3M26 33h1M29 33h2M40 33h1M14 34h1M18 34h1M21 34h1M32 34h2M36 34h1M41 34h1M12 35h2M21 35h1M23 35h1M39 35h2M16 36h1M29 36h1M6 37h1M9 37h1M35 37h1M8 38h2M12 38h1M15 38h1M23 38h1M6 39h1M10 39h2M14 39h3M19 39h1M22 39h1M36 39h1M38 39h2M5 40h2M9 40h1M20 40h1M0 41h1M5 41h1M10 41h1M18 41h1M20 41h1M24 41h1M25 42h1M27 42h1M36 42h1M15 43h1M11 45h1M18 45h1M41 45h2M12 46h1M19 46h1M36 46h1M7 47h1M9 47h1M18 47h1M38 47h1M0 48h1M28 48h1M31 48h1M15 49h1M17 49h1M47 49h1M9 51h1M29 51h1M42 51h1M26 52h1M28 52h2M40 52h1M23 53h1M26 53h1M29 53h1M53 53h1M26 54h1M28 54h1M54 54h1"/>
<path stroke="#22ffd5" d="M6 0h1M20 0h3M26 0h2M29 0h1M45 0h1M48 0h1M6 1h2M10 1h1M21 1h1M28 1h1M48 1h1M54 1h1M9 2h1M15 2h2M19 2h3M26 2h1M7 3h1M14 3h1M21 3h1M23 3h1M9 4h1M22 4h2M26 4h1M39 4h1M10 5h2M14 5h1M23 5h2M26 5h1M7 6h1M9 6h1M14 6h1M18 6h1M24 6h2M31 6h1M22 7h1M24 7h1M26 7h1M29 7h1M9 8h3M17 8h1M29 8h1M37 8h1M8 9h1M10 9h1M12 9h1M25 9h1M11 10h1M22 10h1M14 11h1M26 11h2M10 12h1M28 12h4M13 13h1M18 13h3M23 13h1M31 13h2M13 14h1M24 14h4M29 14h2M33 14h1M15 15h4M25 15h1M32 15h1M35 15h1M10 16h1M12 16h1M16 16h3M20 16h1M26 16h1M29 16h2M32 16h3M11 17h1M17 17h1M22 17h1M34 17h1M14 18h1M24 18h1M31 18h2M11 19h1M23 19h1M31 19h1M35 19h1M41 19h1M11 20h1M15 20h1M36 20h1M30 21h1M38 21h2M17 22h1M27 22h1M29 22h4M36 22h1M39 22h1M23 23h2M32 23h1M38 23h1M40 23h2M35 24h1M29 25h1M31 25h1M33 25h2M32 26h1M34 26h1M22 27h1M35 27h1M0 28h1M24 28h1M26 28h2M29 28h1M32 28h1M45 28h1M23 29h1M27 29h3M31 29h1M42 29h1M30 30h1M36 30h1M24 31h1M44 31h1M24 32h1M28 32h1M32 32h1M38 32h1M40 32h1M19 33h2M22 33h1M24 33h1M27 33h2M31 33h1M20 34h1M22 34h1M26 34h1M38 34h2M48 34h1M19 35h1M25 35h1M33 35h1M38 35h1M42 35h1M17 36h1M20 36h3M25 36h1M32 36h2M35 36h1M38 36h1M16 37h1M19 37h1M21 37h1M28 37h1M38 37h1M43 37h1M17 38h3M29 38h1M35 38h3M39 38h1M18 39h1M23 39h1M35 39h1M8 40h1M18 40h2M24 40h1M33 40h1M36 40h1M1 41h1M6 41h1M11 41h2M14 41h1M16 41h1M25 41h2M32 41h1M35 41h1M1 42h1M13 42h1M20 42h1M26 42h1M34 42h1M37 42h1M4 43h2M7 43h1M11 43h2M21 43h1M34 43h1M44 43h1M4 44h1M7 44h1M9 44h1M12 44h1M18 44h1M21 44h3M26 44h1M43 44h2M8 45h1M12 45h2M19 45h1M37 45h1M43 45h1M3 46h3M9 46h2M32 46h3M41 46h1M4 47h1M12 47h1M17 47h1M3 48h1M10 48h1M17 48h1M19 48h2M32 48h1M38 48h1M46 48h1M48 48h1M8 49h1M10 49h1M18 49h1M27 49h1M48 49h1M17 50h1M20 50h1M28 50h3M24 51h4M40 51h1M9 52h1M27 52h1M30 52h1M37 52h1M52 52h1M20 53h3M36 53h1M54 53h1M2 54h1M11 54h1M22 54h1M27 54h1M53 54h1"/>
<path stroke="#6aff8d" d="M7 0h1M9 0h2M14 0h2M23 0h3M39 0h1M44 0h1M54 0h1M11 1h2M15 1h1M23 1h1M30 1h1M10 2h1M17 2h1M22 2h1M25 2h1M28 2h2M40 2h1M44 2h1M50 2h1M10 3h1M12 3h2M20 3h1M22 3h1M28 3h2M48 3h1M10 4h1M27 4h1M17 5h1M27 5h2M30 5h2M40 5h1M12 6h1M17 6h1M20 6h1M23 6h1M28 6h1M34 6h2M45 6h1M48 6h1M18 7h1M20 7h1M31 7h1M33 7h2M37 7h2M43 7h2M7 8h2M18 8h2M23 8h1M28 8h1M35 8h1M38 8h2M13 9h1M18 9h2M23 9h1M27 9h1M29 9h1M31 9h1M35 9h1M38 9h1M12 10h2M19 10h1M30 10h1M44 10h1M46 10h2M29 11h3M14 12h1M16 12h2M20 12h2M25 12h1M32 12h1M34 12h1M36 12h1M41 12h1M21 13h1M25 13h1M30 13h1M33 13h1M35 13h1M43 13h1M32 14h1M35 14h2M40 14h1M31 15h1M34 15h1M41 15h1M43 15h1M23 16h1M36 16h1M32 17h1M35 17h1M34 18h3M39 18h1M45 18h1M38 20h1M43 20h1M33 21h2M37 21h1M40 21h3M38 22h1M41 22h1M33 23h1M36 23h2M32 24h1M37 24h2M42 24h1M47 24h1M52 24h2M36 25h1M38 25h1M42 25h2M52 25h1M30 26h1M36 26h2M42 26h2M25 27h2M28 27h1M33 27h2M37 27h2M40 27h1M42 27h1M45 27h1M25 28h1M38 28h1M48 28h1M51 28h1M53 28h1M35 29h1M41 29h1M43 29h3M47 29h1M52 29h1M39 30h1M44 30h1M50 30h1M26 31h1M33 31h1M35 31h1M38 31h1M40 31h1M42 31h1M50 31h3M45 32h2M23 33h1M25 33h1M33 33h4M38 33h1M44 33h1M46 33h1M23 34h2M30 34h1M42 34h1M28 35h1M34 35h1M37 35h1M13 36h1M15 36h1M23 36h2M34 36h1M37 36h1M40 36h1M42 36h1M47 36h1M53 36h2M20 37h1M22 37h1M24 37h1M26 37h1M29 37h2M37 37h1M39 37h1M41 37h1M52 37h1M16 38h1M20 38h2M25 38h1M27 38h1M40 38h1M48 38h1M17 39h1M7 40h1M10 40h1M14 40h1M22 40h2M25 40h1M27 40h1M35 40h1M38 40h1M52 40h1M13 41h1M17 41h1M19 41h1M30 41h1M34 41h1M47 41h2M3 42h1M6 42h2M9 42h1M16 42h1M19 42h1M21 42h2M33 42h1M35 42h1M46 42h1M3 43h1M6 43h1M17 43h3M22 43h1M25 43h1M32 43h1M43 43h1M1 44h3M5 44h2M8 44h1M14 44h1M16 44h1M20 44h1M24 44h1M37 44h1M39 44h2M46 44h1M51 44h1M3 45h1M5 45h1M7 45h1M9 45h1M22 45h1M30 45h1M33 45h1M44 45h1M51 45h1M0 46h1M16 46h2M20 46h1M30 46h1M38 46h1M43 46h1M49 46h1M2 47h1M6 47h1M8 47h1M14 47h3M20 47h1M31 47h1M37 47h1M39 47h1M45 47h1M48 47h1M53 47h1M4 48h1M18 48h1M34 48h1M37 48h1M41 48h1M45 48h1M52 48h1M5 49h1M9 49h1M12 49h1M16 49h1M19 49h1M23 49h1M28 49h2M34 49h1M38 49h2M44 49h1M53 49h1M0 50h1M8 50h3M21 50h2M26 50h2M39 50h1M41 50h1M47 50h1M53 50h1M18 51h2M37 51h2M47 51h2M50 51h1M53 51h1M10 52h1M13 52h1M19 52h3M23 52h2M42 52h2M48 52h1M50 52h1M54 52h1M0 53h1M2 53h1M4 53h2M9 53h2M12 53h3M19 53h1M30 53h1M38 53h1M40 53h1M49 53h1M1 54h1M4 54h1M12 54h1M15 54h1M18 54h1M20 54h2M24 54h2M31 54h2M38 54h1M41 54h2M44 54h1M52 54h1"/>
<path stroke="#8dff6a" d="M17 0h3M30 0h1M40 0h1M46 0h2M49 0h2M53 0h1M13 1h1M17 1h2M22 1h1M24 1h1M36 1h4M43 1h1M14 2h1M18 2h1M32 2h2M37 2h1M41 2h3M46 2h1M52 2h2M16 3h1M26 3h1M31 3h1M36 3h1M38 3h2M41 3h1M44 3h1M46 3h1M50 3h1M15 4h1M20 4h1M33 4h1M36 4h3M45 4h2M29 5h1M36 5h1M41 5h3M49 5h1M16 6h1M19 6h1M30 6h1M32 6h1M36 6h1M41 6h1M43 6h1M46 6h1M7 7h1M12 7h1M14 7h2M36 7h1M47 7h1M15 8h1M21 8h2M26 8h1M40 8h1M44 8h4M14 9h2M17 9h1M20 9h2M24 9h1M32 9h1M34 9h1M37 9h1M41 9h1M16 10h1M23 10h1M28 10h1M33 10h3M19 11h4M24 11h1M32 11h1M34 11h3M40 11h1M48 11h1M23 12h1M26 12h1M35 12h1M40 12h1M43 12h1M47 12h1M26 13h1M28 13h1M37 13h2M40 13h2M44 13h1M34 14h1M39 14h1M41 14h1M37 15h1M40 15h1M44 15h1M35 16h1M37 16h1M33 17h1M37 17h1M39 17h1M41 17h1M45 17h1M23 18h1M38 18h1M41 18h1M43 18h1M40 20h2M47 20h1M43 21h1M47 21h1M34 22h1M44 23h1M33 24h1M39 24h1M41 24h1M43 24h1M45 24h1M48 24h1M35 25h1M37 25h1M40 25h2M48 25h1M53 25h1M40 26h1M44 26h1M48 26h1M53 26h1M41 27h1M43 27h1M46 27h1M50 27h1M52 27h1M28 28h1M40 28h1M52 28h1M34 29h1M50 29h2M54 29h1M29 30h1M38 30h1M45 30h1M51 30h1M25 31h1M29 31h1M45 31h2M27 32h1M35 32h2M44 32h1M51 32h1M27 34h2M35 34h1M43 34h1M46 34h2M53 34h1M27 35h1M36 35h1M43 35h2M50 35h1M52 35h1M54 35h1M27 36h2M36 36h1M39 36h1M41 36h1M52 36h1M23 37h1M32 37h1M40 37h1M42 37h1M46 37h2M26 38h1M28 38h1M33 38h2M41 38h1M44 38h1M46 38h1M24 39h2M29 39h1M32 39h2M41 39h1M44 39h1M49 39h2M28 40h1M41 40h1M43 40h1M9 41h1M27 41h1M29 41h1M31 41h1M38 41h1M42 41h1M46 41h1M14 42h2M17 42h2M28 42h2M31 42h1M41 42h1M1 43h1M24 43h1M28 43h2M33 43h1M37 43h2M46 43h1M0 44h1M15 44h1M31 44h1M35 44h1M38 44h1M54 44h1M0 45h1M2 45h1M15 45h1M17 45h1M24 45h1M38 45h1M45 45h3M49 45h2M54 45h1M2 46h1M7 46h1M13 46h2M25 46h2M29 46h1M31 46h1M35 46h1M44 46h2M47 46h2M53 46h1M0 47h2M13 47h1M29 47h1M34 47h1M42 47h1M47 47h1M7 48h1M14 48h1M23 48h1M26 48h1M29 48h1M0 49h1M4 49h1M26 49h1M35 49h3M41 49h1M46 49h1M52 49h1M1 50h1M3 50h2M14 50h1M19 50h1M34 50h2M38 50h1M44 50h2M51 50h1M4 51h1M8 51h1M12 51h2M20 51h1M22 51h1M32 51h2M41 51h1M43 51h1M49 51h1M1 52h1M3 52h2M14 52h1M17 52h1M44 52h1M46 52h1M51 52h1M1 53h1M6 53h1M8 53h1M25 53h1M31 53h1M37 53h1M50 53h2M6 54h2M16 54h1M37 54h1M40 54h1M48 54h1M50 54h2"/>
<path stroke="#b1ff46" d="M16 0h1M31 0h1M35 0h1M41 0h1M52 0h1M14 1h1M16 1h1M25 1h1M29 1h1M32 1h1M35 1h1M41 1h1M45 1h2M51 1h1M53 1h1M13 2h1M34 2h1M39 2h1M30 3h1M32 3h1M40 3h1M43 3h1M45 3h1M49 3h1M53 3h1M28 4h1M30 4h2M41 4h1M43 4h2M47 4h2M50 4h1M54 4h1M34 5h2M39 5h1M45 5h1M53 5h1M37 6h1M47 6h1M52 6h2M13 7h1M19 7h1M39 7h1M41 7h2M49 7h1M52 7h1M54 7h1M34 8h1M36 8h1M41 8h1M43 8h1M48 8h2M43 9h1M45 9h1M47 9h1M20 10h2M36 10h1M40 10h1M18 11h1M37 11h2M41 11h1M44 11h1M46 11h2M49 11h1M19 12h1M22 12h1M42 12h1M44 12h3M53 12h1M39 13h1M42 13h1M42 14h1M44 14h2M39 15h1M38 16h2M41 16h5M47 16h1M36 17h1M43 17h2M37 18h1M40 18h1M42 18h1M44 18h1M46 18h1M39 19h1M43 19h2M46 19h2M49 20h1M44 21h3M49 21h1M54 21h1M42 22h1M47 22h1M39 23h1M42 23h1M45 23h3M50 23h1M52 23h1M54 23h1M36 24h1M44 24h1M46 24h1M51 24h1M44 25h1M46 25h1M47 26h1M49 26h1M44 27h1M49 27h1M42 28h2M46 28h1M39 29h1M46 29h1M48 29h2M53 29h1M24 30h1M35 30h1M53 30h1M47 31h3M53 31h1M34 32h1M47 32h1M49 32h2M37 33h1M47 33h1M50 33h1M54 33h1M34 34h1M37 34h1M49 34h2M46 35h1M46 36h1M48 36h1M51 36h1M45 37h1M48 37h1M51 37h1M30 38h1M42 38h1M45 38h1M47 38h1M49 38h1M30 39h2M42 39h2M45 39h1M21 40h1M30 40h3M42 40h1M47 40h1M49 40h2M53 40h1M28 41h1M43 41h3M51 41h1M30 42h1M43 42h2M47 42h1M49 42h3M31 43h1M39 43h1M48 43h1M50 43h1M25 44h1M28 44h2M32 44h1M48 44h1M52 44h2M16 45h1M23 45h1M28 45h1M31 45h1M36 45h1M48 45h1M22 46h1M24 46h1M28 46h1M52 46h1M54 46h1M5 47h1M21 47h1M26 47h1M28 47h1M35 47h1M54 47h1M1 48h2M24 48h1M54 48h1M1 49h1M25 49h1M33 49h1M43 49h1M50 49h1M5 50h3M36 50h2M40 50h1M42 50h2M50 50h1M54 50h1M7 51h1M11 51h1M35 51h1M52 51h1M5 52h1M7 52h1M12 52h1M16 52h1M32 52h1M38 52h1M16 53h1M18 53h1M24 53h1M32 53h1M34 53h2M41 53h2M44 53h3M5 54h1M9 54h1M13 54h1M34 54h3M49 54h1"/>
<path stroke="#d5ff22" d="M34 0h1M36 0h1M33 1h2M40 1h1M42 1h1M50 1h1M52 1h1M12 2h1M31 2h1M35 2h1M54 2h1M33 3h1M37 3h1M42 3h1M51 3h2M54 3h1M34 4h2M42 4h1M49 4h1M32 5h1M37 5h1M47 5h1M50 5h1M33 6h1M40 6h1M49 6h2M25 7h1M50 7h1M25 8h1M42 8h1M42 9h1M46 9h1M48 9h3M37 10h1M41 10h2M45 10h1M50 10h1M39 11h1M42 11h2M45 11h1M54 11h1M39 12h1M52 12h1M54 12h1M36 13h1M54 13h1M38 14h1M50 14h1M42 15h1M46 15h1M46 16h1M42 17h1M40 19h1M50 19h1M44 20h3M48 20h1M50 20h1M43 22h2M43 23h1M49 23h1M51 23h1M49 24h2M45 25h1M47 25h1M45 26h2M50 26h2M47 27h2M51 27h1M53 27h2M49 28h1M47 30h2M54 30h1M54 31h1M37 32h1M48 32h1M52 32h2M48 33h2M51 33h1M44 34h1M51 34h1M45 35h1M53 35h1M50 36h1M49 37h2M53 37h1M32 38h1M51 38h1M40 39h1M46 39h3M54 39h1M44 40h3M48 40h1M51 40h1M52 41h1M12 42h1M42 42h1M48 42h1M52 42h1M13 43h1M30 43h1M47 43h1M49 43h1M52 43h1M54 43h1M26 45h1M29 45h1M52 45h2M1 46h1M27 46h1M51 46h1M3 47h1M23 47h3M44 47h1M25 48h1M43 48h2M51 48h1M53 48h1M2 49h1M7 49h1M24 49h1M42 49h1M13 50h1M5 51h2M14 51h4M23 51h1M34 51h1M44 51h1M6 52h1M11 52h1M15 52h1M18 52h1M34 52h3M45 52h1M7 53h1M39 53h1M17 54h1M33 54h1"/>
<path stroke="#f9f400" d="M32 0h1M37 0h1M51 0h1M38 2h1M35 3h1M52 4h1M33 5h1M38 5h1M44 5h1M51 5h1M54 5h1M38 6h2M51 6h1M35 7h1M40 7h1M48 7h1M51 7h1M33 8h1M50 8h1M44 9h1M52 9h1M49 10h1M51 10h1M54 10h1M50 11h1M37 12h2M48 12h3M46 13h1M48 13h2M51 13h2M43 14h1M46 14h1M45 15h1M50 15h1M53 15h1M52 16h1M40 17h1M46 17h1M47 18h2M50 18h1M51 19h2M51 20h1M48 21h1M53 21h1M45 22h2M48 22h2M53 23h1M50 25h2M54 25h1M54 26h1M50 28h1M54 28h1M46 30h1M54 32h1M53 33h1M48 35h2M49 36h1M31 37h1M54 37h1M50 38h1M52 38h1M51 39h3M54 40h1M54 41h1M32 42h1M53 42h1M53 43h1M47 44h1M49 44h1M23 46h1M22 47h1M43 47h1M52 47h1M22 48h1M42 48h1M2 50h1M15 50h2M17 53h1M33 53h1M43 53h1M47 53h1M8 54h1M43 54h1"/>
<path stroke="#ffca00" d="M33 0h1M36 2h1M32 4h1M51 4h1M52 5h1M54 6h1M51 8h2M54 8h1M36 9h1M51 9h1M54 9h1M43 10h1M48 10h1M52 10h1M51 11h1M51 12h1M45 13h1M47 13h1M50 13h1M47 14h3M52 14h1M47 15h3M48 16h3M54 17h1M49 18h1M53 18h1M45 19h1M48 19h1M53 19h1M52 20h1M54 20h1M50 21h1M51 22h1M52 33h1M51 35h1M53 38h1M53 41h1M51 49h1M33 52h1"/>
<path stroke="#ffa100" d="M34 3h1M53 4h1M53 7h1M53 9h1M52 11h2M53 13h1M53 14h1M54 15h1M51 16h1M53 16h1M47 17h4M51 18h1M54 18h1M49 19h1M53 20h1M51 21h1M50 22h1M53 22h1M52 34h1M54 38h1M49 41h1M54 42h1"/>
<path stroke="#ff7800" d="M53 8h1M53 10h1M51 14h1M54 14h1M51 15h2M51 17h1M54 19h1M52 21h1M52 22h1M48 23h1M50 41h1"/>
<path stroke="#ff4f00" d="M54 16h1M52 17h2M52 18h1"/>
</g></svg>
<rect x="1582.3" y="2059.8" width="12.3" height="250.5" fill="url(#jetg)"/>
<text x="1595.3" y="2160.5" font-size="25" text-anchor="start" fill="#262626">130</text>
<text x="1595.3" y="2275.5" font-size="25" text-anchor="start" fill="#262626">125</text>
<text x="1436.2" y="2057.8" font-size="36" text-anchor="middle" fill="#262626">Yanco-Y7</text>
<svg x="1703.9" y="2063.9" width="242.4" height="241.6" viewBox="0 0 55 55" preserveAspectRatio="none">
<rect width="55" height="55" fill="#0012ff"/>
<g transform="translate(0 .5)" stroke-width="1.06" fill="none">
<path stroke="#0000c2" d="M0 51h1M2 53h1M0 54h3"/>
<path stroke="#0000e3" d="M38 4h1M5 13h1M0 49h1M2 49h1M0 50h4M1 51h3M0 52h3M4 52h1M0 53h2M3 53h2M3 54h1"/>
<path stroke="#0000ff" d="M0 0h1M6 0h1M8 0h1M13 0h2M21 0h1M24 0h2M27 0h1M31 0h3M35 0h1M37 0h1M39 0h1M41 0h1M0 1h2M6 1h1M13 1h1M16 1h1M23 1h1M29 1h1M32 1h1M35 1h1M37 1h1M40 1h1M43 1h1M7 2h1M13 2h1M20 2h1M29 2h1M31 2h1M39 2h3M6 3h1M8 3h1M14 3h1M19 3h3M28 3h1M31 3h1M34 3h1M39 3h4M0 4h1M6 4h4M11 4h2M14 4h4M20 4h1M22 4h1M27 4h2M30 4h2M37 4h1M39 4h3M2 5h1M6 5h2M14 5h3M18 5h1M21 5h2M24 5h1M27 5h1M30 5h3M37 5h3M7 6h1M13 6h2M16 6h1M18 6h1M23 6h3M29 6h1M42 6h1M10 7h1M12 7h1M16 7h4M23 7h2M31 7h1M33 7h1M38 7h2M41 7h2M0 8h1M3 8h1M9 8h2M12 8h1M15 8h1M18 8h2M22 8h5M28 8h1M33 8h3M39 8h4M5 9h2M9 9h1M14 9h2M19 9h1M22 9h1M29 9h1M33 9h1M35 9h1M39 9h1M41 9h3M4 10h3M17 10h2M24 10h1M29 10h1M33 10h2M37 10h3M42 10h1M2 11h1M6 11h2M11 11h1M24 11h2M41 11h2M4 12h1M7 12h2M12 12h2M22 12h1M24 12h3M29 12h1M31 12h2M36 12h1M40 12h1M4 13h1M6 13h1M8 13h1M14 13h1M17 13h1M19 13h1M22 13h1M29 13h2M33 13h1M37 13h3M0 14h1M4 14h4M12 14h2M15 14h1M18 14h1M22 14h1M26 14h3M31 14h1M36 14h3M1 15h1M6 15h2M9 15h1M22 15h1M25 15h2M28 15h2M34 15h1M36 15h3M1 16h3M8 16h1M23 16h1M25 16h1M34 16h1M1 17h2M11 17h1M19 17h1M23 17h1M25 17h1M28 17h2M3 18h1M7 18h1M9 18h1M12 18h1M18 18h1M29 18h1M31 18h1M0 19h1M7 19h2M12 19h3M16 19h1M30 19h1M0 20h1M6 20h1M14 20h2M29 20h1M2 21h1M5 21h1M9 21h1M13 21h1M15 21h2M18 21h1M26 21h1M0 22h1M4 22h1M6 22h1M10 22h1M16 22h3M22 22h2M25 22h1M27 22h1M0 23h1M4 23h3M8 23h2M11 23h1M13 23h2M16 23h1M18 23h1M24 23h1M1 24h1M4 24h3M9 24h5M17 24h2M22 24h3M9 25h1M23 25h1M5 47h2M1 48h1M3 48h2M6 48h1M1 49h1M3 49h3M4 50h1M4 51h1M6 51h3M3 52h1M5 52h3M5 53h3M9 53h1M4 54h2M8 54h1M10 54h2"/>
<path stroke="#002fff" d="M43 0h1M45 0h1M45 1h1M45 2h1M45 3h1M25 4h1M45 4h1M4 6h1M9 6h1M11 6h1M43 6h1M45 6h2M37 7h1M46 7h1M44 8h2M1 9h1M45 9h1M20 10h1M28 11h1M45 11h2M45 12h2M1 13h1M42 13h2M41 14h2M40 15h2M13 16h1M15 16h1M19 16h1M24 16h1M35 16h5M14 17h1M16 17h1M33 17h1M35 17h1M27 18h1M33 18h3M11 19h1M25 19h2M33 19h1M11 20h1M28 21h1M30 21h2M20 22h1M28 22h3M28 24h1M18 25h1M26 25h2M1 26h7M9 26h1M13 26h1M18 26h1M20 26h6M0 27h6M7 27h2M10 27h1M12 27h6M20 27h3M0 28h1M2 28h2M5 28h1M8 28h1M15 28h2M4 44h1M0 45h1M3 45h1M5 45h1M7 45h1M0 46h3M4 46h1M6 46h3M0 47h1M8 47h1M8 48h2M9 49h1M13 49h2M10 50h5M11 51h1M13 51h2M9 52h1M13 52h2M13 53h1"/>
<path stroke="#004dff" d="M46 0h2M54 0h1M46 1h2M52 1h1M54 1h1M46 2h1M49 2h1M46 3h2M46 4h2M46 5h3M47 6h1M45 7h1M46 8h3M52 8h3M46 9h3M51 9h1M53 9h2M45 10h2M50 10h1M54 10h1M49 11h1M51 11h1M54 11h1M44 13h4M43 14h1M45 14h1M42 15h1M46 15h1M40 16h2M43 16h1M45 16h3M36 17h3M46 17h3M43 18h1M46 18h3M34 19h1M45 19h3M32 20h2M46 20h1M32 21h1M31 22h1M29 23h2M28 25h1M26 26h4M18 27h2M1 28h1M4 28h1M6 28h2M9 28h6M17 28h4M0 29h3M4 29h1M6 29h2M9 29h1M12 29h2M16 29h3M20 29h1M35 29h2M17 30h1M35 30h4M38 31h2M20 32h1M22 32h1M38 32h2M21 33h1M23 34h1M12 38h1M11 39h3M11 40h2M8 42h1M0 43h2M5 43h1M7 43h1M9 43h2M0 44h3M5 44h4M1 45h2M6 45h1M8 45h2M9 46h1M9 47h1M11 48h4M10 49h3M15 50h1M15 51h1M15 52h1M14 53h1M13 54h3"/>
<path stroke="#006aff" d="M48 0h6M48 1h4M53 1h1M47 2h2M50 2h5M48 3h7M48 4h3M52 4h3M49 5h3M53 5h2M48 6h2M53 6h2M47 7h4M52 7h1M49 8h3M49 9h2M52 9h1M47 10h3M51 10h3M47 11h1M50 11h1M53 11h1M47 12h5M53 12h1M48 13h1M50 13h1M44 14h1M46 14h3M43 15h3M47 15h1M42 16h1M44 16h1M48 16h2M39 17h2M42 17h4M49 17h1M36 18h1M42 18h1M44 18h2M49 18h1M42 19h1M44 19h1M48 19h2M34 20h1M43 20h3M47 20h3M33 21h1M44 21h3M32 22h1M31 23h1M29 24h3M29 25h2M30 26h1M23 27h9M21 28h2M26 28h1M28 28h6M3 29h1M5 29h1M8 29h1M10 29h2M14 29h2M19 29h1M21 29h1M27 29h1M29 29h5M37 29h3M0 30h1M3 30h1M5 30h1M7 30h2M13 30h1M16 30h1M18 30h4M30 30h1M34 30h1M39 30h2M18 31h4M37 31h1M40 31h1M19 32h1M23 32h1M37 32h1M40 32h1M19 33h2M22 33h3M38 33h3M20 34h3M24 34h1M38 34h3M22 35h1M40 35h1M17 37h1M11 38h1M13 38h4M14 39h3M10 40h1M13 40h2M8 41h5M4 42h1M6 42h1M9 42h3M13 42h1M2 43h3M6 43h1M8 43h1M11 43h1M3 44h1M9 44h4M10 45h3M10 46h3M10 47h2M13 47h3M10 48h1M15 48h1M15 49h2M16 50h2M16 51h1M16 52h1M15 53h1M16 54h1"/>
<path stroke="#0087ff" d="M51 4h1M52 5h1M50 6h3M51 7h1M53 7h2M48 11h1M52 11h1M52 12h1M54 12h1M49 13h1M51 13h2M54 13h1M49 14h1M48 15h2M41 17h1M37 18h2M41 18h1M50 18h1M35 19h1M43 19h1M50 19h1M35 20h1M34 21h1M43 21h1M47 21h3M34 22h1M44 22h3M32 23h1M32 24h1M31 25h1M31 26h2M32 27h1M34 27h1M23 28h3M27 28h1M34 28h3M22 29h1M28 29h1M34 29h1M1 30h2M4 30h1M6 30h1M11 30h2M14 30h2M22 30h1M28 30h2M31 30h3M41 30h1M0 31h1M2 31h1M4 31h1M15 31h3M22 31h2M35 31h2M41 31h1M17 32h2M21 32h1M24 32h2M17 33h2M25 33h1M37 33h1M41 33h1M19 34h1M25 34h1M37 34h1M41 34h1M17 35h5M23 35h3M38 35h2M41 35h1M16 36h3M21 36h1M40 36h2M13 37h2M16 37h1M10 38h1M17 38h1M9 39h2M17 39h1M9 40h1M15 40h2M0 41h2M7 41h1M13 41h3M0 42h4M5 42h1M7 42h1M12 42h1M12 43h3M13 44h2M13 45h2M13 46h2M12 47h1M16 47h1M16 48h2M17 49h1M17 51h1M17 52h2M16 53h2M17 54h1"/>
<path stroke="#00a4ff" d="M53 13h1M50 14h3M50 15h2M50 16h1M50 17h1M39 18h2M36 19h1M51 19h1M42 20h1M50 20h2M35 21h1M42 21h1M33 22h1M43 22h1M47 22h1M33 23h1M45 23h1M32 25h2M33 26h2M33 27h1M35 27h2M37 28h4M23 29h1M40 29h2M9 30h2M23 30h1M27 30h1M1 31h1M3 31h1M5 31h1M12 31h1M14 31h1M24 31h7M34 31h1M0 32h1M3 32h1M15 32h2M26 32h1M36 32h1M41 32h1M0 33h1M16 33h1M26 33h1M36 33h1M17 34h2M26 34h1M42 34h1M42 35h1M19 36h2M22 36h2M38 36h2M42 36h1M11 37h2M15 37h1M18 37h4M39 37h3M9 38h1M18 38h1M40 38h1M8 39h1M18 39h1M0 40h2M4 40h1M6 40h3M2 41h5M16 41h1M14 42h1M15 44h1M15 45h2M15 46h3M17 47h2M18 48h2M18 49h1M18 50h1M18 51h1M18 53h1M18 54h1"/>
<path stroke="#00c1ff" d="M53 14h2M52 15h1M51 16h2M54 16h1M51 17h1M51 18h1M37 19h1M41 19h1M52 19h1M54 19h1M36 20h1M54 20h1M50 21h1M42 22h1M48 22h1M34 23h1M43 23h2M33 24h2M43 24h2M35 25h1M43 25h1M35 26h2M42 26h1M37 27h1M43 27h1M41 28h2M24 29h3M42 29h1M24 30h3M42 30h1M6 31h5M13 31h1M31 31h3M42 31h2M1 32h2M4 32h1M14 32h1M27 32h1M35 32h1M42 32h1M1 33h2M42 33h1M0 34h1M16 34h1M43 34h1M15 35h2M26 35h1M37 35h1M43 35h1M14 36h2M24 36h2M37 36h1M9 37h2M22 37h1M42 37h1M1 38h1M7 38h2M19 38h2M39 38h1M41 38h2M0 39h5M6 39h2M19 39h1M40 39h1M2 40h2M5 40h1M17 40h1M41 40h1M17 41h1M15 42h1M17 42h1M15 43h1M18 46h1M19 47h1M19 49h1M19 50h2M19 51h2M19 52h3M19 53h1M19 54h1"/>
<path stroke="#00defd" d="M53 15h2M53 16h1M52 17h3M52 18h3M39 19h2M53 19h1M41 20h1M52 20h1M41 21h1M51 21h4M35 22h1M49 22h3M35 23h1M42 23h1M46 23h2M35 24h1M42 24h1M34 25h1M42 25h1M44 25h1M43 26h2M38 27h1M40 27h2M43 28h2M43 29h1M43 30h2M11 31h1M44 31h1M5 32h1M9 32h1M13 32h1M28 32h3M34 32h1M43 32h2M3 33h1M14 33h2M27 33h1M43 33h2M1 34h2M15 34h1M27 34h1M36 34h1M44 34h1M0 35h4M0 36h3M11 36h3M43 36h2M0 37h4M8 37h1M23 37h2M38 37h1M43 37h2M0 38h1M2 38h4M21 38h3M38 38h1M43 38h1M5 39h1M20 39h1M39 39h1M41 39h3M18 40h2M39 40h2M43 40h1M18 41h1M40 41h1M42 41h1M16 42h1M16 43h1M17 45h2M19 46h1M20 47h1M20 48h1M20 49h2M21 50h1M21 51h1M20 53h1"/>
<path stroke="#12fbe5" d="M38 19h1M37 20h1M53 20h1M36 21h1M41 22h1M52 22h3M41 23h1M48 23h1M36 24h1M41 24h1M45 24h2M36 25h1M41 25h1M45 25h1M37 26h2M40 26h2M45 26h1M39 27h1M42 27h1M44 27h1M44 29h2M45 30h1M45 31h1M6 32h3M10 32h3M31 32h3M45 32h1M4 33h1M13 33h1M28 33h1M34 33h2M45 33h1M3 34h1M13 34h2M45 34h1M12 35h3M27 35h1M36 35h1M44 35h1M3 36h2M9 36h2M26 36h1M4 37h1M6 37h2M37 37h1M6 38h1M37 38h1M44 38h1M21 39h1M38 39h1M20 40h1M42 40h1M44 40h1M19 41h1M41 41h1M43 41h2M18 42h1M41 42h3M17 43h2M16 44h2M21 47h2M21 48h3M22 49h1M22 50h2M22 51h1M22 52h1M21 53h3M20 54h3"/>
<path stroke="#29ffce" d="M40 20h1M37 21h1M40 21h1M36 22h1M36 23h1M40 23h1M49 23h5M40 24h1M47 24h2M51 24h3M37 25h1M46 25h2M39 26h1M46 26h1M45 27h1M45 28h1M46 29h1M46 30h1M46 31h2M46 32h1M5 33h1M7 33h6M29 33h3M33 33h1M4 34h1M12 34h1M28 34h1M35 34h1M10 35h1M45 35h1M5 36h4M27 36h1M36 36h1M45 36h1M5 37h1M25 37h1M36 37h1M45 37h1M24 38h2M45 38h1M22 39h1M37 39h1M44 39h1M21 40h1M38 40h1M39 41h1M45 41h1M19 42h1M40 42h1M45 42h2M19 43h1M18 44h2M19 45h2M20 46h2M24 48h1M23 49h1M23 51h2M23 52h1M23 54h1"/>
<path stroke="#41ffb6" d="M38 20h2M37 22h1M39 22h2M37 23h1M39 23h1M54 23h1M37 24h1M39 24h1M49 24h1M54 24h1M38 25h3M52 25h1M47 26h1M46 27h1M46 28h1M47 29h1M47 30h1M47 32h1M6 33h1M32 33h1M46 33h1M5 34h2M8 34h1M10 34h2M34 34h1M46 34h1M4 35h6M11 35h1M28 35h1M35 35h1M46 35h1M46 36h1M26 37h2M36 38h1M23 39h2M36 39h1M45 39h1M22 40h1M36 40h2M45 40h1M20 41h2M37 41h2M46 41h1M20 42h1M36 42h1M38 42h2M44 42h1M47 42h1M20 43h1M38 43h1M42 43h1M20 44h2M22 46h1M23 47h1M24 49h2M24 50h1M25 51h1M24 52h2M24 53h1M24 54h1"/>
<path stroke="#58ff9f" d="M38 21h2M38 22h1M38 23h1M38 24h1M50 24h1M48 25h4M53 25h1M48 26h4M54 26h1M47 27h1M47 28h1M48 29h1M48 30h1M48 31h1M47 33h2M7 34h1M9 34h1M29 34h5M47 34h2M47 35h1M28 36h1M35 36h1M28 37h1M35 37h1M46 37h1M26 38h1M46 38h1M46 39h1M46 40h1M22 41h1M36 41h1M47 41h1M21 42h1M35 42h1M37 42h1M48 42h1M21 43h1M34 43h4M39 43h3M43 43h5M34 44h4M21 45h2M23 46h2M24 47h2M25 48h1M26 49h1M25 50h2M26 51h1M25 53h1M25 54h1"/>
<path stroke="#70ff87" d="M54 25h1M52 26h2M48 27h4M54 27h1M48 28h3M48 32h1M29 35h2M32 35h3M29 36h1M34 36h1M47 36h1M29 37h1M27 38h1M35 38h1M25 39h3M35 39h1M23 40h2M35 40h1M23 41h1M32 41h4M48 41h1M22 42h1M33 42h2M49 42h1M22 43h2M33 43h1M48 43h2M22 44h1M33 44h1M38 44h2M48 44h1M23 45h1M33 45h5M25 46h1M26 47h1M26 48h2M27 50h1M27 51h1M26 52h2M26 53h2M26 54h1"/>
<path stroke="#87ff70" d="M52 27h2M51 28h4M49 29h2M52 29h1M54 29h1M49 30h1M49 31h1M49 32h2M49 33h1M49 34h1M31 35h1M48 35h1M30 36h1M32 36h2M48 36h1M34 37h1M47 37h1M28 38h2M47 38h1M25 40h2M34 40h1M47 40h1M25 41h1M49 41h1M23 42h1M32 42h1M50 42h1M32 43h1M50 43h1M23 44h1M31 44h2M40 44h8M49 44h1M24 45h2M32 45h1M26 46h1M32 46h5M27 47h1M28 48h1M27 49h2M28 50h1M28 52h1M28 53h1M27 54h2"/>
<path stroke="#9fff58" d="M51 29h1M53 29h1M50 30h2M50 31h1M50 33h1M49 35h1M31 36h1M49 36h1M30 37h4M48 37h1M30 38h1M34 38h1M28 39h2M34 39h1M47 39h1M27 40h3M31 40h3M48 40h2M24 41h1M26 41h6M50 41h1M52 41h1M24 42h1M26 42h1M28 42h1M30 42h2M51 42h1M24 43h1M28 43h4M51 43h1M24 44h1M28 44h3M50 44h3M26 45h6M38 45h2M47 45h1M27 46h3M31 46h1M28 47h2M33 47h3M29 48h1M34 48h1M29 49h1M29 50h1M28 51h1M29 52h1M29 53h1M29 54h1"/>
<path stroke="#b6ff41" d="M52 30h3M51 31h1M51 32h1M50 35h1M49 37h1M31 38h1M48 38h1M30 39h4M48 39h2M30 40h1M50 40h1M51 41h1M25 42h1M27 42h1M29 42h1M52 42h3M26 43h2M52 43h3M25 44h3M54 44h1M40 45h2M46 45h1M48 45h1M30 46h1M37 46h2M30 47h3M30 48h4M35 48h1M30 49h1M32 49h1M31 50h1M29 51h2M30 52h1M30 53h1M30 54h2"/>
<path stroke="#ceff29" d="M52 31h1M54 31h1M51 33h1M50 34h1M50 36h1M32 38h2M50 39h1M51 40h1M53 41h2M25 43h1M53 44h1M42 45h2M49 45h4M36 47h2M36 48h1M31 49h1M33 49h2M30 50h1M32 50h2M31 51h3M31 52h1M31 53h1"/>
<path stroke="#e5ff12" d="M53 31h1M52 32h1M52 33h1M54 33h1M51 34h1M51 35h1M51 36h1M50 37h2M49 38h2M51 39h1M53 39h1M52 40h3M44 45h2M53 45h2M39 46h2M48 46h1M38 47h1M37 48h1M35 49h2M34 50h2M32 52h1M32 53h1M32 54h1"/>
<path stroke="#fdef00" d="M53 32h2M53 33h1M52 34h1M54 34h1M52 35h1M54 36h1M51 38h1M53 38h2M52 39h1M54 39h1M41 46h1M47 46h1M49 46h3M39 47h1M38 48h1M37 49h1M36 50h1M34 51h2M33 52h2M33 53h1M33 54h1"/>
<path stroke="#ffd400" d="M53 34h1M53 35h2M52 36h2M52 37h3M52 38h1M42 46h1M46 46h1M52 46h2M40 47h1M39 48h1M38 49h1M37 50h1M36 51h1M35 52h1M34 53h1M34 54h1"/>
<path stroke="#ffb900" d="M43 46h3M54 46h1M48 47h5M38 50h1M37 51h1M36 52h2M35 53h2M35 54h2"/>
<path stroke="#ff9e00" d="M41 47h1M47 47h1M53 47h1M39 49h1M39 50h1M38 51h2M37 53h1"/>
<path stroke="#ff8300" d="M42 47h1M46 47h1M54 47h1M40 48h1M50 48h1M52 48h2M40 49h1M40 50h1M40 51h1M38 52h1M38 53h1M37 54h2"/>
<path stroke="#ff6800" d="M43 47h2M41 48h1M48 48h2M51 48h1M54 48h1M39 52h2M39 53h1M39 54h2"/>
<path stroke="#ff4d00" d="M45 47h1M46 48h2M41 49h1M49 49h3M41 50h1M41 52h1M40 53h2M41 54h1"/>
<path stroke="#ff3200" d="M42 48h4M42 49h1M46 49h3M52 49h3M42 50h2M41 51h2M42 52h1M42 53h1"/>
<path stroke="#ff1700" d="M43 49h3M46 50h1M48 50h5M54 50h1M43 51h1M43 52h2M43 53h1M42 54h3"/>
<path stroke="#e30000" d="M44 50h2M47 50h1M53 50h1M44 51h5M54 51h1M44 53h2"/>
<path stroke="#c20000" d="M49 51h5M45 52h6M53 52h2M46 53h1M45 54h1"/>
<path stroke="#a10000" d="M51 52h2M47 53h3M51 53h1M53 53h2M46 54h2M49 54h1M51 54h3"/>
<path stroke="#800000" d="M50 53h1M52 53h1M48 54h1M50 54h1M54 54h1"/>
</g></svg>
<rect x="1976.7" y="2059.8" width="12.3" height="250.5" fill="url(#jetg)"/>
<text x="1989.7" y="2071.5" font-size="25" text-anchor="start" fill="#262626">200</text>
<text x="1989.7" y="2142.7" font-size="25" text-anchor="start" fill="#262626">180</text>
<text x="1989.7" y="2213.1" font-size="25" text-anchor="start" fill="#262626">160</text>
<text x="1989.7" y="2284.4" font-size="25" text-anchor="start" fill="#262626">140</text>
<text x="1825.1" y="2057.8" font-size="36" text-anchor="middle" fill="#262626">Yanco-Y8</text>
<svg x="2101.4" y="2063.5" width="241.3" height="242.2" viewBox="0 0 55 55" preserveAspectRatio="none">
<rect width="55" height="55" fill="#6aff8d"/>
<g transform="translate(0 .5)" stroke-width="1.06" fill="none">
<path stroke="#0006ff" d="M23 47h1"/>
<path stroke="#0032ff" d="M22 42h1M21 46h1M23 46h1M21 47h1M21 48h1M15 52h1"/>
<path stroke="#005eff" d="M4 23h1M2 29h1M11 29h2M8 31h1M10 33h1M5 38h1M10 39h1M9 42h1M21 42h1M21 43h1M23 43h1M23 44h1M22 45h2M29 45h1M18 46h1M22 46h1M25 46h1M18 47h1M20 47h1M22 47h1M22 48h1M6 52h1M8 52h1M8 53h1"/>
<path stroke="#008bff" d="M50 19h1M5 24h1M5 25h1M30 27h1M1 29h1M7 30h3M2 31h1M10 31h2M6 32h1M1 33h1M21 35h1M6 36h1M8 36h1M10 36h1M23 36h1M5 37h1M11 37h1M21 37h1M38 37h1M11 38h1M20 38h1M38 38h1M5 39h1M4 40h1M9 40h1M16 41h1M18 41h1M6 42h1M20 42h1M33 42h1M9 43h1M13 43h2M22 43h1M25 43h1M27 43h1M8 44h1M18 44h1M22 44h1M24 44h1M26 44h1M17 45h1M19 45h2M24 45h1M27 45h1M16 46h2M19 46h2M4 48h1M17 48h1M23 48h1M18 49h1M18 50h1M14 51h1M9 53h1M14 53h3"/>
<path stroke="#00b7ff" d="M51 19h2M14 21h1M0 22h1M2 22h3M2 23h1M7 23h1M1 24h1M4 24h1M6 24h2M37 24h1M45 24h1M2 25h1M6 25h1M4 26h1M0 27h1M5 27h1M1 28h1M3 28h3M7 28h1M10 28h6M25 28h2M0 29h1M3 29h4M10 29h1M13 29h2M16 29h1M21 29h1M1 30h2M5 30h2M10 30h1M12 30h1M23 30h1M4 31h2M7 31h1M0 32h1M7 32h1M9 32h1M11 32h2M21 32h1M2 33h1M4 33h1M7 33h2M21 33h1M23 33h1M1 34h2M5 34h2M8 34h2M21 34h1M25 34h1M0 35h1M2 35h1M4 35h1M7 35h3M12 35h1M20 35h1M22 35h1M31 35h1M19 36h1M22 36h1M25 36h1M6 37h1M8 37h2M15 37h1M20 37h1M22 37h1M26 37h2M4 38h1M8 38h3M16 38h1M22 38h1M35 38h1M37 38h1M4 39h1M8 39h2M11 39h1M21 39h1M24 39h1M26 39h2M39 39h2M5 40h1M17 40h1M25 40h3M7 41h1M11 41h3M15 41h1M20 41h1M22 41h1M24 41h1M26 41h1M4 42h1M8 42h1M10 42h1M14 42h1M23 42h1M25 42h2M34 42h3M10 43h1M12 43h1M15 43h1M19 43h2M24 43h1M34 43h1M11 44h1M14 44h2M25 44h1M28 44h1M30 44h1M8 45h1M15 45h2M18 45h1M21 45h1M25 45h1M32 45h1M0 46h1M7 46h1M15 47h1M17 47h1M19 47h1M24 47h1M26 47h1M16 48h1M18 48h3M2 49h1M8 49h1M17 49h1M21 49h2M16 50h1M5 51h1M10 51h3M17 51h1M27 51h1M31 51h1M5 52h1M7 52h1M9 52h2M13 52h1M17 52h2M31 52h1M5 53h3M10 53h1M28 53h1M7 54h3"/>
<path stroke="#00e3f9" d="M20 15h1M48 15h1M53 16h1M16 17h1M20 17h1M11 18h1M51 18h1M53 18h1M9 19h1M3 20h1M41 20h1M0 21h1M2 21h3M13 21h1M6 22h1M11 22h1M13 22h1M39 22h1M0 23h1M3 23h1M5 23h1M14 23h1M47 23h1M0 24h1M2 24h2M1 25h1M34 25h2M0 26h1M2 26h2M7 26h1M19 26h1M24 26h1M46 26h1M4 27h1M6 27h1M11 27h1M23 27h1M26 27h1M31 27h1M0 28h1M2 28h1M9 28h1M17 28h1M34 28h1M7 29h3M22 29h1M25 29h1M27 29h1M41 29h1M3 30h2M13 30h1M17 30h1M22 30h1M35 30h1M42 30h1M0 31h2M3 31h1M12 31h2M19 31h1M34 31h2M45 31h1M1 32h1M3 32h3M10 32h1M22 32h1M34 32h1M11 33h1M13 33h1M18 33h1M22 33h1M25 33h1M37 33h1M7 34h1M10 34h3M17 34h2M22 34h1M24 34h1M32 34h1M1 35h1M3 35h1M10 35h2M19 35h1M33 35h1M1 36h1M4 36h2M7 36h1M9 36h1M12 36h2M20 36h2M37 36h1M0 37h1M4 37h1M7 37h1M12 37h1M23 37h1M25 37h1M13 38h1M21 38h1M23 38h1M26 38h2M36 38h1M39 38h1M41 38h1M3 39h1M12 39h2M16 39h3M25 39h1M31 39h1M36 39h3M6 40h1M11 40h1M13 40h4M18 40h6M37 40h2M9 41h2M14 41h1M17 41h1M19 41h1M21 41h1M29 41h1M32 41h1M35 41h2M2 42h1M5 42h1M7 42h1M12 42h2M16 42h1M19 42h1M27 42h1M32 42h1M4 43h1M7 43h2M18 43h1M26 43h1M29 43h3M35 43h1M0 44h2M9 44h1M13 44h1M19 44h2M0 45h1M7 45h1M12 45h3M26 45h1M28 45h1M30 45h1M10 46h1M13 46h1M15 46h1M24 46h1M26 46h1M30 46h1M0 47h1M3 47h2M6 47h1M6 48h1M8 48h1M24 48h1M26 48h1M3 49h1M16 49h1M23 49h1M25 49h1M2 50h1M4 50h1M11 50h3M15 50h1M17 50h1M22 50h1M24 50h1M29 50h1M4 51h1M6 51h2M9 51h1M15 51h2M11 52h1M16 52h1M28 52h1M12 53h1M18 53h2M31 53h3M45 53h2M10 54h3M14 54h2M32 54h1"/>
<path stroke="#22ffd5" d="M10 3h1M51 12h1M3 13h1M10 14h1M14 14h1M46 14h1M49 15h1M54 15h1M17 16h2M20 16h2M39 16h1M49 16h1M9 17h1M21 17h1M48 17h1M50 17h1M15 18h1M18 18h2M47 18h1M52 18h1M11 19h1M14 19h2M17 19h1M22 19h2M47 19h1M2 20h1M4 20h1M6 20h2M12 20h1M14 20h3M24 20h1M49 20h3M1 21h1M5 21h1M9 21h1M17 21h1M20 21h2M38 21h1M40 21h1M42 21h1M1 22h1M5 22h1M12 22h1M15 22h2M18 22h1M21 22h1M38 22h1M40 22h1M43 22h2M49 22h1M1 23h1M6 23h1M11 23h1M17 23h1M21 23h1M36 23h1M40 23h1M46 23h1M50 23h1M8 24h1M15 24h1M18 24h2M25 24h2M28 24h1M0 25h1M4 25h1M7 25h1M9 25h1M20 25h2M24 25h1M27 25h3M38 25h1M42 25h1M1 26h1M5 26h2M8 26h1M12 26h1M15 26h1M18 26h1M29 26h1M31 26h1M41 26h1M45 26h1M1 27h3M7 27h1M10 27h1M14 27h3M20 27h1M24 27h1M33 27h1M8 28h1M16 28h1M21 28h1M24 28h1M28 28h3M36 28h2M40 28h1M43 28h2M17 29h1M20 29h1M24 29h1M26 29h1M34 29h1M39 29h1M42 29h2M0 30h1M11 30h1M14 30h2M21 30h1M24 30h1M28 30h1M40 30h1M46 30h1M6 31h1M9 31h1M14 31h3M23 31h1M33 31h1M38 31h1M41 31h3M49 31h1M8 32h1M13 32h1M16 32h3M20 32h1M23 32h1M26 32h1M39 32h1M41 32h1M44 32h1M48 32h1M0 33h1M3 33h1M6 33h1M9 33h1M12 33h1M14 33h1M16 33h2M20 33h1M26 33h1M34 33h2M44 33h1M0 34h1M3 34h1M14 34h2M19 34h1M34 34h1M5 35h2M17 35h1M23 35h1M25 35h2M37 35h1M0 36h1M3 36h1M14 36h1M24 36h1M26 36h1M31 36h2M34 36h1M38 36h1M1 37h1M10 37h1M13 37h1M17 37h1M24 37h1M34 37h4M39 37h1M42 37h1M2 38h2M7 38h1M12 38h1M14 38h2M17 38h1M19 38h1M32 38h1M40 38h1M6 39h1M15 39h1M19 39h2M22 39h1M33 39h3M3 40h1M10 40h1M24 40h1M29 40h1M32 40h3M36 40h1M39 40h2M3 41h4M8 41h1M23 41h1M25 41h1M28 41h1M34 41h1M37 41h1M11 42h1M15 42h1M18 42h1M28 42h2M2 43h1M5 43h1M11 43h1M28 43h1M32 43h2M36 43h1M5 44h3M17 44h1M21 44h1M29 44h1M31 44h1M34 44h1M2 45h5M9 45h1M31 45h1M1 46h1M3 46h1M8 46h2M14 46h1M28 46h2M31 46h2M2 47h1M5 47h1M7 47h2M13 47h2M16 47h1M25 47h1M27 47h1M0 48h4M5 48h1M7 48h1M9 48h2M25 48h1M42 48h1M0 49h2M4 49h4M9 49h1M14 49h1M19 49h2M27 49h2M0 50h1M3 50h1M5 50h1M7 50h1M10 50h1M20 50h2M23 50h1M8 51h1M20 51h1M26 51h1M30 51h1M32 51h3M3 52h2M12 52h1M14 52h1M30 52h1M32 52h3M45 52h1M51 52h1M2 53h1M4 53h1M11 53h1M17 53h1M29 53h2M34 53h1M54 53h1M4 54h3M13 54h1M16 54h2M29 54h1M44 54h1M47 54h1"/>
<path stroke="#46ffb1" d="M11 0h1M47 1h1M3 2h1M6 2h1M5 3h2M6 4h1M6 5h1M21 5h1M41 6h2M29 7h1M40 8h1M47 8h1M45 9h1M48 9h1M46 10h2M29 11h1M32 11h1M48 11h1M50 11h1M9 12h1M13 12h1M48 12h1M9 13h1M14 13h1M21 13h1M52 13h1M2 14h1M4 14h1M20 14h2M45 14h1M52 14h1M54 14h1M9 15h1M13 15h2M17 15h2M40 15h1M45 15h1M47 15h1M50 15h1M53 15h1M2 16h1M8 16h1M10 16h1M13 16h1M24 16h1M54 16h1M10 17h2M15 17h1M19 17h1M38 17h1M40 17h1M45 17h2M52 17h2M0 18h1M6 18h1M10 18h1M12 18h2M17 18h1M20 18h2M40 18h1M46 18h1M48 18h1M50 18h1M0 19h1M4 19h2M10 19h1M12 19h2M18 19h3M29 19h1M37 19h1M39 19h1M43 19h1M46 19h1M53 19h1M0 20h1M5 20h1M13 20h1M17 20h3M22 20h1M25 20h1M38 20h2M45 20h1M52 20h1M7 21h2M16 21h1M19 21h1M25 21h1M30 21h2M37 21h1M39 21h1M41 21h1M48 21h2M54 21h1M7 22h1M10 22h1M22 22h1M26 22h1M31 22h2M46 22h2M51 22h1M54 22h1M8 23h1M20 23h1M22 23h1M26 23h1M31 23h2M34 23h1M37 23h3M42 23h1M48 23h2M9 24h4M14 24h1M20 24h1M22 24h1M27 24h1M32 24h1M34 24h1M36 24h1M39 24h3M49 24h1M3 25h1M8 25h1M10 25h1M12 25h1M15 25h2M19 25h1M25 25h2M32 25h1M37 25h1M40 25h2M43 25h1M52 25h1M9 26h2M13 26h1M23 26h1M26 26h1M30 26h1M32 26h4M37 26h1M8 27h2M12 27h2M17 27h3M25 27h1M29 27h1M36 27h1M41 27h2M46 27h4M6 28h1M20 28h1M23 28h1M27 28h1M31 28h2M35 28h1M39 28h1M41 28h2M46 28h1M50 28h1M15 29h1M18 29h1M23 29h1M28 29h1M30 29h1M32 29h2M35 29h1M37 29h1M44 29h2M47 29h3M16 30h1M26 30h2M29 30h1M33 30h2M36 30h1M38 30h2M41 30h1M43 30h1M45 30h1M17 31h2M21 31h2M30 31h3M36 31h1M39 31h1M46 31h1M2 32h1M14 32h1M24 32h1M27 32h1M30 32h1M32 32h2M38 32h1M42 32h2M5 33h1M15 33h1M19 33h1M24 33h1M31 33h3M36 33h1M40 33h1M43 33h1M47 33h1M4 34h1M13 34h1M16 34h1M20 34h1M23 34h1M26 34h2M31 34h1M38 34h1M45 34h2M13 35h2M16 35h1M18 35h1M24 35h1M27 35h1M30 35h1M32 35h1M34 35h1M36 35h1M2 36h1M11 36h1M18 36h1M27 36h1M33 36h1M35 36h1M2 37h2M14 37h1M16 37h1M19 37h1M28 37h2M31 37h3M43 37h1M1 38h1M6 38h1M29 38h1M31 38h1M34 38h1M0 39h1M2 39h1M7 39h1M14 39h1M23 39h1M28 39h1M30 39h1M41 39h1M0 40h2M7 40h1M30 40h1M35 40h1M0 41h2M27 41h1M31 41h1M33 41h1M38 41h1M1 42h1M17 42h1M24 42h1M31 42h1M0 43h2M6 43h1M16 43h2M2 44h1M4 44h1M10 44h1M12 44h1M16 44h1M27 44h1M32 44h2M38 44h1M1 45h1M11 45h1M33 45h1M4 46h1M6 46h1M11 46h2M27 46h1M1 47h1M9 47h4M28 47h1M42 47h1M12 48h1M14 48h2M27 48h2M11 49h1M15 49h1M24 49h1M45 49h1M1 50h1M8 50h2M14 50h1M19 50h1M25 50h2M28 50h1M30 50h1M42 50h2M52 50h1M1 51h1M3 51h1M13 51h1M18 51h2M21 51h1M29 51h1M44 51h1M2 52h1M29 52h1M46 52h2M52 52h2M13 53h1M35 53h1M42 53h1M49 53h1M53 53h1M20 54h1M28 54h1M30 54h1M33 54h1M38 54h1M42 54h2M46 54h1M48 54h2M53 54h1"/>
<path stroke="#8dff6a" d="M2 0h2M15 0h3M19 0h2M44 0h1M47 0h1M50 0h3M0 1h1M4 1h1M7 1h1M9 1h1M11 1h2M16 1h1M32 1h1M53 1h1M1 2h2M4 2h2M16 2h2M52 2h2M4 3h1M8 3h1M0 4h1M3 4h1M11 4h1M19 4h1M21 4h2M43 4h3M47 4h2M52 4h1M54 4h1M14 5h1M16 5h1M18 5h1M20 5h1M28 5h1M44 5h1M47 5h2M50 5h1M5 6h1M15 6h1M19 6h1M22 6h2M28 6h1M30 6h1M39 6h1M44 6h1M47 6h3M52 6h1M54 6h1M3 7h1M7 7h1M16 7h1M20 7h1M24 7h1M35 7h1M38 7h3M42 7h1M50 7h1M1 8h7M9 8h1M17 8h1M19 8h3M23 8h1M27 8h2M37 8h3M46 8h1M48 8h1M1 9h1M4 9h1M16 9h1M18 9h1M20 9h1M25 9h1M27 9h1M29 9h1M36 9h1M41 9h3M47 9h1M49 9h2M1 10h1M7 10h1M16 10h1M26 10h3M32 10h2M39 10h1M50 10h1M54 10h1M1 11h1M4 11h1M7 11h2M13 11h2M16 11h1M23 11h3M38 11h1M46 11h1M49 11h1M0 12h1M5 12h1M7 12h2M17 12h1M25 12h1M27 12h1M30 12h1M35 12h1M37 12h2M41 12h5M47 12h1M50 12h1M53 12h1M1 13h1M4 13h1M12 13h1M15 13h1M17 13h1M25 13h1M27 13h5M36 13h1M41 13h2M45 13h1M51 13h1M54 13h1M1 14h1M3 14h1M11 14h2M15 14h1M22 14h1M31 14h1M44 14h1M51 14h1M2 15h2M7 15h2M10 15h1M12 15h1M15 15h2M22 15h2M27 15h1M32 15h1M34 15h2M39 15h1M46 15h1M51 15h2M0 16h1M9 16h1M26 16h1M30 16h1M32 16h1M40 16h2M4 17h1M6 17h1M13 17h1M18 17h1M24 17h1M26 17h1M31 17h1M37 17h1M39 17h1M44 17h1M47 17h1M54 17h1M1 18h1M3 18h2M7 18h3M27 18h1M29 18h1M35 18h1M42 18h1M44 18h1M2 19h1M28 19h1M31 19h1M34 19h1M38 19h1M26 20h2M32 20h1M35 20h2M42 20h1M54 20h1M22 21h1M33 21h1M46 21h1M17 22h1M23 22h1M36 22h1M52 22h1M13 23h1M18 23h1M25 23h1M28 23h3M33 23h1M35 23h1M43 23h1M45 23h1M53 23h1M13 24h1M17 24h1M23 24h1M29 24h3M46 24h1M51 24h2M14 25h1M17 25h1M23 25h1M33 25h1M39 25h1M47 25h1M53 25h1M22 26h1M27 26h2M51 26h3M21 27h2M35 27h1M38 27h1M45 28h1M47 28h1M52 28h1M19 29h1M38 29h1M46 29h1M37 30h1M51 30h2M44 31h1M47 31h2M51 31h2M28 32h1M42 33h1M45 33h2M48 33h2M28 34h3M41 34h1M44 34h1M28 35h2M38 35h1M42 35h1M46 35h1M15 36h1M29 36h1M40 36h1M44 36h2M18 37h1M30 37h1M40 37h1M18 38h1M33 38h1M1 39h1M2 41h1M39 41h1M38 42h1M40 42h1M42 42h1M38 43h1M35 44h1M37 44h1M34 45h1M36 45h2M34 46h3M43 46h2M33 47h3M39 47h3M44 47h1M13 48h1M30 48h1M32 48h1M39 48h1M41 48h1M43 48h1M45 48h1M12 49h2M33 49h1M40 49h2M43 49h1M52 49h1M35 50h1M41 50h1M44 50h1M47 50h1M51 50h1M24 51h1M28 51h1M35 51h1M37 51h1M42 51h2M48 51h2M52 51h1M25 52h3M41 52h2M0 53h2M3 53h1M20 53h1M36 53h1M38 53h1M40 53h1M21 54h1M23 54h1M37 54h1M50 54h1M52 54h1M54 54h1"/>
<path stroke="#b1ff46" d="M1 0h1M18 0h1M21 0h1M23 0h1M31 0h1M43 0h1M45 0h2M8 1h1M10 1h1M14 1h1M18 1h1M33 1h1M43 1h1M48 1h1M52 1h1M10 2h1M13 2h2M21 2h1M44 2h2M47 2h2M51 2h1M1 3h1M11 3h1M13 3h1M15 3h2M29 3h1M32 3h1M37 3h1M44 3h1M48 3h1M50 3h1M52 3h3M2 4h1M8 4h1M14 4h1M18 4h1M35 4h1M39 4h1M46 4h1M4 5h1M7 5h1M12 5h1M17 5h1M22 5h1M26 5h1M29 5h3M36 5h1M38 5h1M40 5h1M42 5h2M45 5h1M52 5h3M2 6h1M6 6h1M8 6h1M11 6h2M18 6h1M20 6h2M26 6h1M31 6h1M43 6h1M45 6h1M0 7h3M10 7h1M12 7h1M17 7h1M19 7h1M22 7h2M28 7h1M30 7h1M34 7h1M36 7h2M43 7h4M49 7h1M51 7h1M53 7h1M12 8h1M15 8h1M24 8h1M29 8h1M34 8h2M42 8h3M51 8h1M54 8h1M0 9h1M3 9h1M5 9h2M8 9h1M14 9h2M17 9h1M19 9h1M21 9h2M24 9h1M34 9h1M38 9h1M51 9h1M2 10h3M6 10h1M12 10h2M15 10h1M20 10h2M24 10h2M29 10h1M35 10h1M38 10h1M40 10h5M51 10h1M53 10h1M0 11h1M9 11h1M11 11h2M17 11h2M22 11h1M27 11h2M30 11h2M33 11h5M42 11h3M51 11h3M1 12h4M6 12h1M14 12h1M21 12h1M23 12h2M26 12h1M33 12h1M36 12h1M46 12h1M52 12h1M54 12h1M10 13h1M18 13h1M24 13h1M32 13h4M37 13h1M39 13h1M46 13h3M53 13h1M0 14h1M5 14h1M7 14h3M16 14h1M18 14h1M26 14h2M30 14h1M32 14h3M36 14h1M38 14h4M49 14h1M53 14h1M0 15h2M4 15h1M6 15h1M25 15h2M33 15h1M38 15h1M44 15h1M1 16h1M3 16h3M23 16h1M25 16h1M34 16h3M38 16h1M42 16h1M45 16h2M48 16h1M0 17h1M3 17h1M7 17h1M22 17h1M25 17h1M27 17h1M30 17h1M33 17h2M42 17h2M24 18h1M26 18h1M28 18h1M31 18h1M33 18h2M36 18h1M41 18h1M6 19h1M25 19h1M35 19h1M41 19h1M45 19h1M20 20h1M30 20h2M46 20h1M29 21h1M34 21h1M36 21h1M24 22h1M28 22h1M33 22h1M50 22h1M52 23h1M47 24h1M48 25h4M54 25h1M17 26h1M48 26h1M50 26h1M54 26h1M52 27h2M53 28h2M51 29h2M54 29h1M47 30h1M53 30h1M50 32h1M53 32h1M39 33h1M52 33h1M54 33h1M49 34h1M41 35h1M30 38h1M43 38h1M29 39h1M42 39h1M41 40h2M40 41h1M42 41h1M54 41h1M41 42h1M39 43h1M38 45h1M38 46h2M36 47h1M38 47h1M45 47h1M34 48h1M40 48h1M52 48h1M31 49h1M36 49h1M46 49h1M51 49h1M54 49h1M40 50h1M46 50h1M50 50h1M53 50h2M25 51h1M39 51h3M50 51h1M0 52h1M22 52h1M24 52h1M38 52h3M43 52h1M23 53h1M26 53h1M37 53h1M39 53h1M41 53h1M50 53h1M27 54h1M39 54h1M41 54h1"/>
<path stroke="#d5ff22" d="M0 0h1M4 0h1M8 0h2M13 0h1M32 0h1M39 0h1M42 0h1M48 0h2M54 0h1M5 1h1M13 1h1M19 1h1M21 1h1M24 1h1M30 1h2M34 1h1M38 1h1M40 1h3M45 1h1M50 1h2M8 2h2M12 2h1M15 2h1M20 2h1M33 2h1M39 2h2M43 2h1M49 2h2M0 3h1M2 3h1M9 3h1M14 3h1M17 3h3M21 3h1M23 3h4M39 3h1M43 3h1M51 3h1M4 4h1M9 4h2M13 4h1M15 4h2M23 4h1M25 4h2M30 4h1M34 4h1M36 4h2M40 4h1M42 4h1M51 4h1M53 4h1M2 5h2M5 5h1M8 5h3M13 5h1M19 5h1M34 5h1M37 5h1M39 5h1M41 5h1M49 5h1M51 5h1M0 6h1M3 6h2M13 6h1M24 6h1M32 6h1M36 6h2M40 6h1M50 6h1M53 6h1M4 7h1M9 7h1M11 7h1M25 7h3M31 7h1M33 7h1M48 7h1M54 7h1M0 8h1M8 8h1M11 8h1M13 8h1M16 8h1M18 8h1M25 8h2M30 8h4M36 8h1M49 8h2M52 8h1M2 9h1M9 9h1M13 9h1M23 9h1M26 9h1M31 9h3M35 9h1M40 9h1M53 9h1M9 10h2M14 10h1M17 10h3M22 10h2M30 10h2M52 10h1M2 11h1M10 11h1M19 11h1M21 11h1M11 12h1M20 12h1M22 12h1M28 12h1M31 12h2M5 13h3M19 13h1M22 13h1M38 13h1M40 13h1M35 14h1M37 14h1M24 15h1M28 15h1M36 15h2M42 15h1M27 16h2M33 16h1M43 16h1M8 17h1M29 17h1M32 17h1M32 18h1M39 18h1M43 18h1M30 19h1M33 19h1M28 20h1M27 21h2M43 21h1M51 21h1M54 24h1M42 26h1M54 30h1M26 31h1M53 31h2M49 32h1M51 32h2M50 33h1M48 34h1M47 35h2M51 35h2M46 36h1M54 36h1M45 37h1M46 38h1M43 39h1M52 39h1M43 40h1M39 42h1M44 42h1M41 43h3M45 43h1M39 44h1M44 44h1M39 45h2M42 45h2M37 46h1M33 48h1M36 48h1M38 48h1M46 48h1M53 48h2M39 49h1M48 49h1M36 50h3M48 50h1M38 51h1M23 52h1M49 52h1M21 53h1M24 53h1M2 54h1M24 54h3M40 54h1"/>
<path stroke="#f9f400" d="M14 0h1M22 0h1M24 0h1M27 0h3M33 0h1M38 0h1M20 1h1M22 1h1M25 1h1M0 2h1M18 2h2M22 2h1M26 2h1M31 2h2M36 2h2M42 2h1M46 2h1M20 3h1M22 3h1M28 3h1M30 3h1M35 3h2M38 3h1M42 3h1M45 3h2M49 3h1M1 4h1M17 4h1M20 4h1M24 4h1M28 4h1M38 4h1M41 4h1M50 4h1M0 5h2M11 5h1M23 5h3M35 5h1M1 6h1M14 6h1M25 6h1M33 6h1M35 6h1M46 6h1M8 7h1M13 7h3M32 7h1M47 7h1M52 7h1M10 8h1M53 8h1M7 9h1M12 9h1M30 9h1M37 9h1M52 9h1M54 9h1M8 10h1M34 10h1M36 10h1M3 11h1M20 11h1M23 13h1M6 14h1M24 14h1M28 14h1M42 14h2M43 15h1M28 17h1M35 17h1M32 19h1M33 20h2M49 26h1M28 27h1M53 29h1M54 32h1M51 33h1M53 33h1M50 34h1M53 34h1M50 35h1M54 35h1M44 37h1M46 37h1M45 38h1M54 38h1M47 39h1M49 39h1M43 41h1M45 41h1M54 42h1M44 43h1M40 44h4M44 45h2M40 46h1M51 46h3M46 47h1M52 47h3M37 48h1M47 48h1M38 49h1M47 49h1M49 49h1M53 49h1M49 50h1M25 53h1M22 54h1"/>
<path stroke="#ffca00" d="M25 0h1M30 0h1M35 0h3M40 0h2M15 1h1M27 1h1M29 1h1M37 1h1M23 2h1M25 2h1M28 2h3M38 2h1M41 2h1M12 3h1M27 3h1M33 3h1M40 3h1M27 4h1M29 4h1M31 4h1M32 5h2M9 6h2M27 6h1M34 6h1M11 9h1M11 10h1M26 13h1M43 13h1M25 14h1M29 14h1M29 15h1M51 34h2M54 34h1M53 35h1M47 36h2M53 36h1M47 37h1M49 37h2M53 37h1M44 38h1M50 38h4M44 39h2M44 40h1M49 40h1M54 40h1M46 41h1M53 41h1M43 42h1M45 42h1M47 42h1M51 42h1M53 42h1M40 43h1M53 43h1M45 44h2M48 44h1M50 44h1M46 45h1M50 45h1M52 45h1M45 46h1M54 46h1M37 47h1M48 48h2M51 48h1M37 49h1M50 49h1M39 50h1"/>
<path stroke="#ffa100" d="M26 0h1M34 0h1M26 1h1M28 1h1M35 1h1M24 2h1M27 2h1M34 2h1M31 3h1M32 4h2M27 5h1M14 8h1M10 9h1M19 12h1M49 36h2M52 36h1M48 37h1M52 37h1M54 37h1M47 38h1M49 38h1M51 39h1M53 39h2M45 40h2M50 40h1M52 40h1M44 41h1M48 41h1M50 41h1M52 41h1M46 42h1M52 42h1M46 43h1M51 43h2M49 44h1M52 44h2M41 45h1M51 45h1M53 45h2M46 46h1M50 47h1"/>
<path stroke="#ff7800" d="M23 1h1M36 1h1M39 1h1M34 3h1M49 35h1M51 36h1M48 38h1M46 39h1M48 39h1M50 39h1M47 40h1M53 40h1M47 41h1M49 41h1M51 41h1M48 42h1M50 42h1M48 43h1M50 43h1M47 44h1M51 44h1M54 44h1M47 45h1M49 45h1M47 47h1M50 48h1"/>
<path stroke="#ff4f00" d="M35 2h1M51 37h1M48 40h1M51 40h1M49 42h1M54 43h1M48 45h1M47 46h4M48 47h2M51 47h1"/>
<path stroke="#ff2600" d="M47 43h1M49 43h1"/>
</g></svg>
<rect x="2368" y="2059.8" width="12.3" height="250.5" fill="url(#jetg)"/>
<text x="2381" y="2094.9" font-size="25" text-anchor="start" fill="#262626">125</text>
<text x="2381" y="2165.4" font-size="25" text-anchor="start" fill="#262626">120</text>
<text x="2381" y="2235.8" font-size="25" text-anchor="start" fill="#262626">115</text>
<text x="2381" y="2306.2" font-size="25" text-anchor="start" fill="#262626">110</text>
<text x="2222.1" y="2057.8" font-size="36" text-anchor="middle" fill="#262626">Yanco-Y11</text>
<text x="135" y="1471.7" font-size="32" text-anchor="end" fill="#262626">35.59</text>
<text x="135" y="1593" font-size="32" text-anchor="end" fill="#262626">35.55</text>
<text x="135" y="1712.7" font-size="32" text-anchor="end" fill="#262626">35.51</text>
<text x="52.5" y="1581.9" font-size="32" text-anchor="middle" transform="rotate(-90 52.5 1581.9)" fill="#262626">Latitude</text>
<text x="135" y="1774.2" font-size="32" text-anchor="end" fill="#262626">31.59</text>
<text x="135" y="1895.5" font-size="32" text-anchor="end" fill="#262626">31.55</text>
<text x="135" y="2015.2" font-size="32" text-anchor="end" fill="#262626">31.51</text>
<text x="52.5" y="1884.4" font-size="32" text-anchor="middle" transform="rotate(-90 52.5 1884.4)" fill="#262626">Latitude</text>
<text x="135" y="2076.6" font-size="32" text-anchor="end" fill="#262626">34.06</text>
<text x="135" y="2197.9" font-size="32" text-anchor="end" fill="#262626">34.02</text>
<text x="135" y="2317.6" font-size="32" text-anchor="end" fill="#262626">33.98</text>
<text x="52.5" y="2186.8" font-size="32" text-anchor="middle" transform="rotate(-90 52.5 2186.8)" fill="#262626">Latitude</text>
<text x="151.1" y="2316" font-size="31" text-anchor="end" transform="rotate(-90 151.1 2316)" fill="#262626">−99.29</text>
<text x="272.4" y="2316" font-size="31" text-anchor="end" transform="rotate(-90 272.4 2316)" fill="#262626">−99.25</text>
<text x="393" y="2316" font-size="31" text-anchor="end" transform="rotate(-90 393 2316)" fill="#262626">−99.21</text>
<text x="263" y="2433" font-size="32" text-anchor="middle" fill="#262626">Longitude</text>
<text x="440.8" y="1438" font-size="35" text-anchor="middle" fill="#000" textLength="50" lengthAdjust="spacingAndGlyphs">[m]</text>
<text x="543.4" y="2316" font-size="31" text-anchor="end" transform="rotate(-90 543.4 2316)" fill="#262626">−90.39</text>
<text x="664.7" y="2316" font-size="31" text-anchor="end" transform="rotate(-90 664.7 2316)" fill="#262626">−90.35</text>
<text x="785.3" y="2316" font-size="31" text-anchor="end" transform="rotate(-90 785.3 2316)" fill="#262626">−90.31</text>
<text x="655.7" y="2433" font-size="32" text-anchor="middle" fill="#262626">Longitude</text>
<text x="839" y="1438" font-size="35" text-anchor="middle" fill="#000" textLength="50" lengthAdjust="spacingAndGlyphs">[m]</text>
<text x="935.9" y="2316" font-size="31" text-anchor="end" transform="rotate(-90 935.9 2316)" fill="#262626">−103.67</text>
<text x="1057.2" y="2316" font-size="31" text-anchor="end" transform="rotate(-90 1057.2 2316)" fill="#262626">−103.63</text>
<text x="1177.8" y="2316" font-size="31" text-anchor="end" transform="rotate(-90 1177.8 2316)" fill="#262626">−103.59</text>
<text x="1049" y="2449.5" font-size="32" text-anchor="middle" fill="#262626">Longitude</text>
<text x="1227.3" y="1438" font-size="35" text-anchor="middle" fill="#000" textLength="50" lengthAdjust="spacingAndGlyphs">[m]</text>
<text x="1314.1" y="2312" font-size="31" text-anchor="end" transform="rotate(-90 1314.1 2312)" fill="#262626">146.07</text>
<text x="1462.2" y="2312" font-size="31" text-anchor="end" transform="rotate(-90 1462.2 2312)" fill="#262626">146.12</text>
<text x="1578" y="2312" font-size="31" text-anchor="end" transform="rotate(-90 1578 2312)" fill="#262626">146.16</text>
<text x="1436" y="2426.8" font-size="32" text-anchor="middle" fill="#262626">Longitude</text>
<text x="1616.2" y="1438" font-size="35" text-anchor="middle" fill="#000" textLength="50" lengthAdjust="spacingAndGlyphs">[m]</text>
<text x="1705.1" y="2312" font-size="31" text-anchor="end" transform="rotate(-90 1705.1 2312)" fill="#262626">146.37</text>
<text x="1822.5" y="2312" font-size="31" text-anchor="end" transform="rotate(-90 1822.5 2312)" fill="#262626">146.41</text>
<text x="1969.8" y="2312" font-size="31" text-anchor="end" transform="rotate(-90 1969.8 2312)" fill="#262626">146.46</text>
<text x="1828" y="2426.8" font-size="32" text-anchor="middle" fill="#262626">Longitude</text>
<text x="2017.3" y="1438" font-size="35" text-anchor="middle" fill="#000" textLength="50" lengthAdjust="spacingAndGlyphs">[m]</text>
<text x="2097.7" y="2312" font-size="31" text-anchor="end" transform="rotate(-90 2097.7 2312)" fill="#262626">145.89</text>
<text x="2247.5" y="2312" font-size="31" text-anchor="end" transform="rotate(-90 2247.5 2312)" fill="#262626">145.94</text>
<text x="2360.8" y="2312" font-size="31" text-anchor="end" transform="rotate(-90 2360.8 2312)" fill="#262626">145.98</text>
<text x="2221.3" y="2426.8" font-size="32" text-anchor="middle" fill="#262626">Longitude</text>
<text x="2399" y="1438" font-size="35" text-anchor="middle" fill="#000" textLength="50" lengthAdjust="spacingAndGlyphs">[m]</text>
<text x="1219" y="2495.5" font-size="54" text-anchor="middle" font-weight="bold" fill="#000" textLength="66" lengthAdjust="spacingAndGlyphs">(b)</text>
<svg x="131.3" y="2577.6" width="353.6" height="353.6" viewBox="45 70 1407 1407" preserveAspectRatio="none" shape-rendering="geometricPrecision">
<rect x="45" y="70" width="1407" height="1407" fill="#f7fbff"/>
<polygon fill="#08306b" points="1075,1330 1100,1320 1125,1270 1150,1225 1210,1190 1245,1140 1290,1135 1330,1165 1320,1200 1295,1225 1320,1280 1290,1285 1265,1255 1225,1275 1200,1305 1160,1290 1130,1335 1080,1350"/>
<polygon fill="#08306b" points="545,1150 590,1140 625,1090 685,1085 660,1130 640,1150 610,1190 590,1185 580,1165"/>
<ellipse fill="#08306b" cx="722" cy="1078" rx="16" ry="26"/>
<ellipse fill="#08306b" cx="82" cy="1190" rx="23" ry="21"/>
<ellipse fill="#08306b" cx="380" cy="1207" rx="29" ry="9"/>
<rect fill="#3787c0" x="1037" y="760" width="43" height="20"/>
<rect fill="#3787c0" x="1087" y="760" width="40" height="20"/>
<rect fill="#3787c0" x="1040" y="790" width="35" height="15"/>
<polygon fill="#3787c0" points="1085,790 1125,790 1110,855 1095,850"/>
<polyline fill="none" stroke="#3787c0" stroke-width="11.6" stroke-linejoin="round" stroke-linecap="round" points="1110,740 1135,685"/>
<polyline fill="none" stroke="#3787c0" stroke-width="8.7" stroke-linejoin="round" stroke-linecap="round" points="1135,725 1155,690"/>
<rect fill="#abd0e6" x="1037" y="820" width="43" height="35"/>
<rect fill="#abd0e6" x="1182" y="810" width="31" height="20"/>
<polyline fill="none" stroke="#abd0e6" stroke-width="5.8" stroke-linejoin="round" stroke-linecap="round" points="670,85 705,105 770,82"/>
<polyline fill="none" stroke="#abd0e6" stroke-width="5.8" stroke-linejoin="round" stroke-linecap="round" points="1085,660 1130,640"/>
<polyline fill="none" stroke="#3787c0" stroke-width="7.2" stroke-linejoin="round" stroke-linecap="round" points="625,640 645,638 652,650"/>
<polyline fill="none" stroke="#3787c0" stroke-width="7.2" stroke-linejoin="round" stroke-linecap="round" points="125,912 140,905 155,908"/>
<polyline fill="none" stroke="#3787c0" stroke-width="7.2" stroke-linejoin="round" stroke-linecap="round" points="1215,910 1240,880"/>
<polyline fill="none" stroke="#3787c0" stroke-width="5.8" stroke-linejoin="round" stroke-linecap="round" points="1160,1025 1180,998"/>
<polyline fill="none" stroke="#3787c0" stroke-width="5.8" stroke-linejoin="round" stroke-linecap="round" points="948,868 958,888"/>
<polyline fill="none" stroke="#3787c0" stroke-width="5.8" stroke-linejoin="round" stroke-linecap="round" points="225,1260 245,1250 235,1270"/>
<polyline fill="none" stroke="#3787c0" stroke-width="5.8" stroke-linejoin="round" stroke-linecap="round" points="590,1205 605,1225"/>
<polyline fill="none" stroke="#3787c0" stroke-width="5.8" stroke-linejoin="round" stroke-linecap="round" points="900,1385 910,1360"/>
<polyline fill="none" stroke="#3787c0" stroke-width="4.3" stroke-linejoin="round" stroke-linecap="round" points="120,1425 135,1395"/>
<polyline fill="none" stroke="#abd0e6" stroke-width="4.3" stroke-linejoin="round" stroke-linecap="round" points="605,880 620,940"/>
<ellipse fill="#3787c0" cx="230" cy="1022" rx="11" ry="5"/>
<ellipse fill="#3787c0" cx="1030" cy="705" rx="13" ry="6"/>
<ellipse fill="#3787c0" cx="945" cy="722" rx="11" ry="5"/>
<ellipse fill="#3787c0" cx="543" cy="416" rx="7" ry="4"/>
<ellipse fill="#3787c0" cx="190" cy="628" rx="7" ry="5"/>
<ellipse fill="#3787c0" cx="155" cy="1015" rx="6" ry="6"/>
<ellipse fill="#3787c0" cx="795" cy="1078" rx="6" ry="4"/>
<ellipse fill="#3787c0" cx="470" cy="1192" rx="6" ry="4"/>
<ellipse fill="#3787c0" cx="975" cy="822" rx="7" ry="5"/>
<ellipse fill="#3787c0" cx="400" cy="893" rx="7" ry="4"/>
<ellipse fill="#3787c0" cx="340" cy="972" rx="4" ry="4"/>
<ellipse fill="#3787c0" cx="1045" cy="1113" rx="6" ry="4"/>
<ellipse fill="#3787c0" cx="1135" cy="1062" rx="5" ry="5"/>
<ellipse fill="#3787c0" cx="760" cy="1113" rx="5" ry="6"/>
<ellipse fill="#abd0e6" cx="155" cy="165" rx="9" ry="7"/>
<ellipse fill="#abd0e6" cx="372" cy="517" rx="3" ry="9"/>
<ellipse fill="#abd0e6" cx="665" cy="410" rx="5" ry="3"/>
<ellipse fill="#abd0e6" cx="612" cy="790" rx="6" ry="4"/>
<ellipse fill="#abd0e6" cx="625" cy="715" rx="4" ry="4"/>
<ellipse fill="#abd0e6" cx="330" cy="1458" rx="7" ry="3"/>
<ellipse fill="#abd0e6" cx="1350" cy="1303" rx="6" ry="4"/>
<ellipse fill="#abd0e6" cx="1320" cy="1097" rx="4" ry="4"/>
</svg>
<rect x="131.3" y="2577.6" width="353.6" height="353.6" fill="none" stroke="#eef2f6" stroke-width="1"/>
<text x="308.1" y="2577" font-size="33.5" text-anchor="middle" fill="#262626">FortReno</text>
<svg x="492.6" y="2577.6" width="353.6" height="353.6" viewBox="50.1 70 1407 1407" preserveAspectRatio="none" shape-rendering="geometricPrecision">
<rect x="50.1" y="70" width="1407" height="1407" fill="#f7fbff"/>
<polyline fill="none" stroke="#3787c0" stroke-width="7.2" stroke-linejoin="round" stroke-linecap="round" points="52,1185 100,1110 160,960 210,830 245,720 270,645 295,615 380,598 480,585 570,570 630,552 700,555 800,572 880,590 930,605 955,590 965,520 963,430 950,330 920,270 880,220 862,180 870,160 900,155 950,160 1010,150 1070,150 1130,170 1190,210 1250,260 1290,305 1320,338 1350,340 1400,315 1455,272"/>
<polygon fill="#08306b" points="1085,95 1105,100 1130,140 1115,148"/>
<polyline fill="none" stroke="#08306b" stroke-width="7.2" stroke-linejoin="round" stroke-linecap="round" points="52,838 100,825"/>
<polygon fill="#3787c0" points="345,910 370,930 365,950"/>
<polyline fill="none" stroke="#3787c0" stroke-width="11.6" stroke-linejoin="round" stroke-linecap="round" points="340,1150 375,1180"/>
<ellipse fill="#3787c0" cx="140" cy="483" rx="8" ry="8"/>
<ellipse fill="#3787c0" cx="75" cy="720" rx="7" ry="5"/>
<ellipse fill="#3787c0" cx="640" cy="758" rx="9" ry="5"/>
<ellipse fill="#3787c0" cx="675" cy="262" rx="11" ry="5"/>
<ellipse fill="#3787c0" cx="723" cy="407" rx="6" ry="5"/>
<ellipse fill="#3787c0" cx="565" cy="256" rx="7" ry="4"/>
<ellipse fill="#3787c0" cx="113" cy="1403" rx="7" ry="4"/>
<ellipse fill="#3787c0" cx="193" cy="1135" rx="5" ry="4"/>
<ellipse fill="#abd0e6" cx="328" cy="112" rx="5" ry="4"/>
<ellipse fill="#abd0e6" cx="793" cy="157" rx="4" ry="4"/>
<ellipse fill="#abd0e6" cx="850" cy="388" rx="4" ry="4"/>
<ellipse fill="#abd0e6" cx="1340" cy="372" rx="4" ry="4"/>
<ellipse fill="#abd0e6" cx="585" cy="607" rx="3" ry="4"/>
<ellipse fill="#abd0e6" cx="922" cy="657" rx="4" ry="3"/>
<ellipse fill="#abd0e6" cx="785" cy="748" rx="6" ry="3"/>
</svg>
<rect x="492.6" y="2577.6" width="353.6" height="353.6" fill="none" stroke="#eef2f6" stroke-width="1"/>
<text x="669.4" y="2577" font-size="33.5" text-anchor="middle" fill="#262626">KnoxCity</text>
<svg x="854" y="2577.6" width="353.6" height="353.6" viewBox="47.7 70 1407 1407" preserveAspectRatio="none" shape-rendering="geometricPrecision">
<rect x="47.7" y="70" width="1407" height="1407" fill="#f7fbff"/>
<polygon fill="#abd0e6" points="885,890 960,850 1010,860 990,900 960,930 900,945"/>
<polygon fill="#08306b" points="800,865 830,870 850,905 880,895 870,815 935,810 925,850 950,880 920,900 885,915 880,950 810,950 810,920 830,905"/>
<polygon fill="#08306b" points="875,960 920,965 920,990 895,992"/>
<polygon fill="#08306b" points="1015,970 1060,965 1068,1010 1015,1015"/>
<polyline fill="none" stroke="#08306b" stroke-width="11.6" stroke-linejoin="round" stroke-linecap="round" points="990,800 1020,795 1045,815 1045,840 1020,850"/>
<polygon fill="#08306b" points="1368,760 1375,725 1410,712 1450,725 1440,740 1400,740 1385,765"/>
<rect fill="#abd0e6" x="420" y="720" width="40" height="25"/>
<rect fill="#3787c0" x="510" y="995" width="40" height="25"/>
<ellipse fill="#08306b" cx="1040" cy="905" rx="13" ry="16"/>
<ellipse fill="#08306b" cx="990" cy="885" rx="16" ry="11"/>
<ellipse fill="#08306b" cx="1000" cy="935" rx="11" ry="11"/>
<ellipse fill="#08306b" cx="1445" cy="785" rx="7" ry="11"/>
<ellipse fill="#08306b" cx="440" cy="660" rx="9" ry="15"/>
<ellipse fill="#08306b" cx="485" cy="690" rx="15" ry="9"/>
<ellipse fill="#3787c0" cx="495" cy="640" rx="11" ry="15"/>
<ellipse fill="#3787c0" cx="470" cy="605" rx="9" ry="7"/>
<ellipse fill="#3787c0" cx="440" cy="735" rx="11" ry="11"/>
<ellipse fill="#3787c0" cx="540" cy="975" rx="11" ry="11"/>
<ellipse fill="#3787c0" cx="252" cy="211" rx="9" ry="6"/>
<ellipse fill="#3787c0" cx="660" cy="237" rx="11" ry="6"/>
<ellipse fill="#3787c0" cx="1035" cy="177" rx="7" ry="11"/>
<ellipse fill="#3787c0" cx="1382" cy="1065" rx="6" ry="11"/>
<ellipse fill="#3787c0" cx="1198" cy="995" rx="9" ry="11"/>
<ellipse fill="#3787c0" cx="1150" cy="920" rx="11" ry="7"/>
<ellipse fill="#3787c0" cx="1085" cy="910" rx="11" ry="9"/>
<ellipse fill="#3787c0" cx="632" cy="968" rx="6" ry="5"/>
<ellipse fill="#3787c0" cx="222" cy="1320" rx="5" ry="5"/>
<ellipse fill="#3787c0" cx="647" cy="1128" rx="5" ry="4"/>
<ellipse fill="#3787c0" cx="1110" cy="407" rx="6" ry="4"/>
<ellipse fill="#3787c0" cx="935" cy="470" rx="6" ry="4"/>
<ellipse fill="#3787c0" cx="965" cy="478" rx="5" ry="6"/>
<ellipse fill="#abd0e6" cx="1200" cy="233" rx="6" ry="11"/>
<ellipse fill="#abd0e6" cx="165" cy="566" rx="7" ry="6"/>
<ellipse fill="#abd0e6" cx="560" cy="266" rx="6" ry="5"/>
<ellipse fill="#abd0e6" cx="838" cy="465" rx="4" ry="7"/>
<ellipse fill="#abd0e6" cx="455" cy="830" rx="9" ry="6"/>
<ellipse fill="#abd0e6" cx="540" cy="903" rx="9" ry="4"/>
<ellipse fill="#abd0e6" cx="1140" cy="845" rx="13" ry="6"/>
<ellipse fill="#abd0e6" cx="780" cy="290" rx="4" ry="4"/>
</svg>
<rect x="854" y="2577.6" width="353.6" height="353.6" fill="none" stroke="#eef2f6" stroke-width="1"/>
<text x="1030.8" y="2577" font-size="33.5" text-anchor="middle" fill="#262626">PerdidoRivFarms</text>
<svg x="1215.3" y="2577.6" width="353.6" height="353.6" viewBox="45 70 1407 1407" preserveAspectRatio="none" shape-rendering="geometricPrecision">
<rect x="45" y="70" width="1407" height="1407" fill="#f7fbff"/>
<polygon fill="#08306b" points="845,795 885,790 885,757 930,757 930,812 885,805"/>
<polyline fill="none" stroke="#08306b" stroke-width="14.5" stroke-linejoin="round" stroke-linecap="round" points="1080,80 1115,92 1130,115 1160,112"/>
<polyline fill="none" stroke="#08306b" stroke-width="14.5" stroke-linejoin="round" stroke-linecap="round" points="1190,128 1205,92"/>
<polygon fill="#08306b" points="118,652 140,655 175,675 140,668"/>
<polyline fill="none" stroke="#08306b" stroke-width="14.5" stroke-linejoin="round" stroke-linecap="round" points="1222,1125 1230,1095"/>
<polyline fill="none" stroke="#3787c0" stroke-width="11.6" stroke-linejoin="round" stroke-linecap="round" points="476,1125 482,1092"/>
<polyline fill="none" stroke="#3787c0" stroke-width="5.8" stroke-linejoin="round" stroke-linecap="round" points="800,95 788,105 790,140"/>
<polyline fill="none" stroke="#3787c0" stroke-width="7.2" stroke-linejoin="round" stroke-linecap="round" points="95,1108 110,1135"/>
<polyline fill="none" stroke="#3787c0" stroke-width="5.8" stroke-linejoin="round" stroke-linecap="round" points="850,1290 862,1275"/>
<ellipse fill="#3787c0" cx="345" cy="156" rx="7" ry="7"/>
<ellipse fill="#3787c0" cx="275" cy="213" rx="11" ry="5"/>
<ellipse fill="#3787c0" cx="640" cy="336" rx="9" ry="6"/>
<ellipse fill="#3787c0" cx="500" cy="353" rx="5" ry="6"/>
<ellipse fill="#3787c0" cx="338" cy="285" rx="6" ry="5"/>
<ellipse fill="#3787c0" cx="987" cy="982" rx="7" ry="7"/>
<ellipse fill="#3787c0" cx="308" cy="817" rx="7" ry="7"/>
<ellipse fill="#3787c0" cx="88" cy="884" rx="5" ry="9"/>
<ellipse fill="#3787c0" cx="208" cy="1255" rx="7" ry="7"/>
<ellipse fill="#3787c0" cx="1072" cy="1152" rx="11" ry="6"/>
<ellipse fill="#3787c0" cx="1105" cy="1105" rx="9" ry="6"/>
<ellipse fill="#3787c0" cx="1060" cy="893" rx="6" ry="5"/>
<ellipse fill="#3787c0" cx="565" cy="1107" rx="5" ry="5"/>
<ellipse fill="#3787c0" cx="340" cy="1008" rx="5" ry="6"/>
<ellipse fill="#3787c0" cx="263" cy="1283" rx="4" ry="4"/>
<ellipse fill="#3787c0" cx="693" cy="1397" rx="4" ry="7"/>
<ellipse fill="#3787c0" cx="863" cy="1405" rx="6" ry="7"/>
<ellipse fill="#3787c0" cx="428" cy="1433" rx="5" ry="4"/>
<ellipse fill="#3787c0" cx="1328" cy="1294" rx="5" ry="5"/>
<ellipse fill="#3787c0" cx="685" cy="437" rx="4" ry="7"/>
<ellipse fill="#3787c0" cx="935" cy="318" rx="4" ry="5"/>
<ellipse fill="#3787c0" cx="1140" cy="226" rx="6" ry="5"/>
<ellipse fill="#3787c0" cx="1427" cy="1066" rx="4" ry="9"/>
<ellipse fill="#3787c0" cx="462" cy="376" rx="4" ry="4"/>
<ellipse fill="#3787c0" cx="372" cy="1243" rx="4" ry="4"/>
<ellipse fill="#abd0e6" cx="1298" cy="1377" rx="13" ry="13"/>
<ellipse fill="#abd0e6" cx="140" cy="795" rx="11" ry="4"/>
<ellipse fill="#abd0e6" cx="105" cy="697" rx="7" ry="4"/>
<ellipse fill="#abd0e6" cx="1380" cy="990" rx="6" ry="6"/>
<ellipse fill="#abd0e6" cx="775" cy="1400" rx="16" ry="4"/>
<ellipse fill="#abd0e6" cx="740" cy="226" rx="4" ry="4"/>
<ellipse fill="#abd0e6" cx="155" cy="1152" rx="7" ry="4"/>
</svg>
<rect x="1215.3" y="2577.6" width="353.6" height="353.6" fill="none" stroke="#eef2f6" stroke-width="1"/>
<text x="1392.1" y="2577" font-size="33.5" text-anchor="middle" fill="#262626">PrairieView</text>
<svg x="1576.8" y="2577.6" width="353.6" height="353.6" viewBox="43 70 1407 1407" preserveAspectRatio="none" shape-rendering="geometricPrecision">
<rect x="43" y="70" width="1407" height="1407" fill="#f7fbff"/>
<ellipse fill="#3787c0" cx="815" cy="162" rx="17" ry="17"/>
<ellipse fill="#3787c0" cx="1342" cy="309" rx="23" ry="21"/>
<ellipse fill="#3787c0" cx="62" cy="472" rx="19" ry="21"/>
<ellipse fill="#3787c0" cx="352" cy="669" rx="23" ry="23"/>
<ellipse fill="#3787c0" cx="569" cy="647" rx="28" ry="23"/>
<ellipse fill="#3787c0" cx="183" cy="1231" rx="17" ry="15"/>
<ellipse fill="#3787c0" cx="988" cy="1328" rx="13" ry="21"/>
<ellipse fill="#3787c0" cx="832" cy="600" rx="5" ry="11"/>
<ellipse fill="#3787c0" cx="880" cy="1445" rx="29" ry="19"/>
<ellipse fill="#3787c0" cx="1362" cy="765" rx="11" ry="5"/>
<ellipse fill="#abd0e6" cx="432" cy="331" rx="29" ry="28"/>
<ellipse fill="#abd0e6" cx="278" cy="1003" rx="19" ry="17"/>
<ellipse fill="#abd0e6" cx="1350" cy="1190" rx="26" ry="25"/>
<ellipse fill="#abd0e6" cx="1173" cy="1146" rx="15" ry="13"/>
<ellipse fill="#abd0e6" cx="410" cy="1256" rx="21" ry="15"/>
<ellipse fill="#abd0e6" cx="578" cy="1300" rx="19" ry="21"/>
<ellipse fill="#abd0e6" cx="1158" cy="1440" rx="23" ry="21"/>
<ellipse fill="#abd0e6" cx="1337" cy="1432" rx="26" ry="23"/>
<ellipse fill="#abd0e6" cx="80" cy="658" rx="23" ry="17"/>
<ellipse fill="#abd0e6" cx="52" cy="162" rx="11" ry="13"/>
<ellipse fill="#abd0e6" cx="985" cy="254" rx="13" ry="7"/>
<ellipse fill="#08306b" cx="957" cy="1330" rx="9" ry="6"/>
<polyline fill="none" stroke="#3787c0" stroke-width="7.2" stroke-linejoin="round" stroke-linecap="round" points="247,283 265,293"/>
</svg>
<rect x="1576.8" y="2577.6" width="353.6" height="353.6" fill="none" stroke="#eef2f6" stroke-width="1"/>
<text x="1753.6" y="2577" font-size="33.5" text-anchor="middle" fill="#262626">ReeseCenter</text>
<svg x="1938.7" y="2577.6" width="353.6" height="353.6" viewBox="42.6 70 1407 1407" preserveAspectRatio="none" shape-rendering="geometricPrecision">
<rect x="42.6" y="70" width="1407" height="1407" fill="#f7fbff"/>
<ellipse fill="#3787c0" cx="747" cy="299" rx="10" ry="9"/>
<ellipse fill="#3787c0" cx="539" cy="926" rx="11" ry="15"/>
<ellipse fill="#3787c0" cx="57" cy="1342" rx="11" ry="8"/>
<ellipse fill="#3787c0" cx="262" cy="909" rx="7" ry="6"/>
<ellipse fill="#3787c0" cx="225" cy="907" rx="5" ry="5"/>
<ellipse fill="#3787c0" cx="713" cy="597" rx="7" ry="6"/>
<ellipse fill="#3787c0" cx="263" cy="695" rx="5" ry="5"/>
<ellipse fill="#3787c0" cx="1023" cy="1073" rx="6" ry="6"/>
<ellipse fill="#3787c0" cx="763" cy="1182" rx="7" ry="5"/>
<ellipse fill="#3787c0" cx="550" cy="1253" rx="8" ry="6"/>
<ellipse fill="#3787c0" cx="155" cy="1217" rx="7" ry="6"/>
<ellipse fill="#3787c0" cx="103" cy="1228" rx="5" ry="5"/>
<ellipse fill="#3787c0" cx="152" cy="316" rx="7" ry="5"/>
<ellipse fill="#3787c0" cx="482" cy="317" rx="5" ry="5"/>
<ellipse fill="#3787c0" cx="864" cy="271" rx="5" ry="5"/>
<ellipse fill="#3787c0" cx="330" cy="472" rx="7" ry="4"/>
<ellipse fill="#3787c0" cx="1188" cy="1002" rx="6" ry="5"/>
<ellipse fill="#3787c0" cx="1376" cy="1223" rx="5" ry="5"/>
<ellipse fill="#3787c0" cx="1052" cy="1383" rx="5" ry="5"/>
<ellipse fill="#3787c0" cx="590" cy="1365" rx="5" ry="5"/>
<ellipse fill="#3787c0" cx="110" cy="1419" rx="5" ry="5"/>
<ellipse fill="#3787c0" cx="65" cy="250" rx="4" ry="5"/>
<ellipse fill="#3787c0" cx="55" cy="290" rx="4" ry="5"/>
<ellipse fill="#3787c0" cx="1000" cy="1283" rx="4" ry="4"/>
<ellipse fill="#08306b" cx="1375" cy="874" rx="6" ry="9"/>
<ellipse fill="#08306b" cx="1368" cy="982" rx="9" ry="7"/>
<ellipse fill="#abd0e6" cx="77" cy="220" rx="6" ry="6"/>
<ellipse fill="#abd0e6" cx="1410" cy="1008" rx="9" ry="6"/>
<ellipse fill="#abd0e6" cx="128" cy="489" rx="7" ry="4"/>
<ellipse fill="#abd0e6" cx="613" cy="475" rx="7" ry="3"/>
<ellipse fill="#abd0e6" cx="240" cy="112" rx="4" ry="4"/>
<ellipse fill="#abd0e6" cx="348" cy="261" rx="5" ry="3"/>
<ellipse fill="#abd0e6" cx="1283" cy="388" rx="4" ry="4"/>
<ellipse fill="#abd0e6" cx="468" cy="1236" rx="4" ry="4"/>
<ellipse fill="#abd0e6" cx="175" cy="1380" rx="6" ry="4"/>
<ellipse fill="#abd0e6" cx="733" cy="1352" rx="4" ry="4"/>
</svg>
<rect x="1938.7" y="2577.6" width="353.6" height="353.6" fill="none" stroke="#eef2f6" stroke-width="1"/>
<text x="2115.5" y="2577" font-size="33.5" text-anchor="middle" fill="#262626">Riesel</text>
<svg x="131.3" y="2968.3" width="353.6" height="353.6" viewBox="45 68.8 1407 1407" preserveAspectRatio="none" shape-rendering="geometricPrecision">
<rect x="45" y="68.8" width="1407" height="1407" fill="#f7fbff"/>
<polygon fill="#abd0e6" points="170,1325 210,1345 260,1370 300,1400 325,1440 330,1478 240,1478 250,1440 240,1400 210,1370"/>
<polygon fill="#abd0e6" points="1140,1478 1160,1450 1180,1445 1185,1430 1200,1430 1203,1478"/>
<polyline fill="none" stroke="#abd0e6" stroke-width="4.3" stroke-linejoin="round" stroke-linecap="round" points="85,1380 105,1375"/>
<ellipse fill="#abd0e6" cx="75" cy="1300" rx="5" ry="6"/>
<ellipse fill="#abd0e6" cx="1368" cy="1203" rx="7" ry="9"/>
<ellipse fill="#abd0e6" cx="910" cy="768" rx="4" ry="5"/>
<ellipse fill="#abd0e6" cx="450" cy="1472" rx="6" ry="5"/>
<ellipse fill="#abd0e6" cx="145" cy="1330" rx="6" ry="4"/>
</svg>
<rect x="131.3" y="2968.3" width="353.6" height="353.6" fill="none" stroke="#eef2f6" stroke-width="1"/>
<text x="308.1" y="2968" font-size="33.5" text-anchor="middle" fill="#262626">SanAngelo</text>
<svg x="492.6" y="2968.3" width="353.6" height="353.6" viewBox="50.1 68.8 1407 1407" preserveAspectRatio="none" shape-rendering="geometricPrecision">
<rect x="50.1" y="68.8" width="1407" height="1407" fill="#f7fbff"/>
<polygon fill="#abd0e6" points="52,300 60,240 110,230 180,240 240,200 240,275 160,275 150,300 100,290 70,310"/>
<polygon fill="#abd0e6" points="370,350 410,340 420,300 440,250 520,245 540,300 545,360 540,400 500,430 480,470 500,500 510,540 470,600 460,640 430,600 410,560 420,500 440,440 390,420"/>
<polygon fill="#abd0e6" points="745,440 790,395 830,380 810,430 790,470 760,470"/>
<ellipse fill="#abd0e6" cx="805" cy="618" rx="41" ry="31"/>
<ellipse fill="#abd0e6" cx="650" cy="395" rx="41" ry="36"/>
<ellipse fill="#f7fbff" cx="650" cy="398" rx="19" ry="17"/>
<ellipse fill="#abd0e6" cx="355" cy="480" rx="21" ry="16"/>
<polygon fill="#3787c0" points="415,590 450,540 480,520 500,470 480,460 440,500 420,560"/>
<polygon fill="#08306b" points="465,640 490,600 520,560 530,515 570,505 600,490 645,495 665,465 690,450 720,465 765,460 775,490 760,540 785,575 770,595 720,600 680,620 640,610 590,630 530,640 490,645"/>
<ellipse fill="#f7fbff" cx="678" cy="520" rx="10" ry="25"/>
<polygon fill="#08306b" points="820,420 870,370 895,340 910,360 905,400 920,445 880,445"/>
<ellipse fill="#08306b" cx="770" cy="345" rx="36" ry="21"/>
<polygon fill="#08306b" points="415,335 450,320 480,335 520,325 535,350 500,365 460,355 420,355"/>
<ellipse fill="#08306b" cx="1065" cy="125" rx="51" ry="26"/>
<ellipse fill="#f7fbff" cx="1065" cy="128" rx="26" ry="10"/>
<polygon fill="#08306b" points="352,815 400,815 420,835 432,865 410,890 375,905 355,885 360,850"/>
<polygon fill="#08306b" points="52,500 75,495 88,525 70,545 52,550"/>
<polyline fill="none" stroke="#abd0e6" stroke-width="5.8" stroke-linejoin="round" stroke-linecap="round" points="1015,950 1050,935 1085,965 1040,958 1015,950"/>
<polyline fill="none" stroke="#08306b" stroke-width="5.8" stroke-linejoin="round" stroke-linecap="round" points="358,672 372,658"/>
<ellipse fill="#08306b" cx="587" cy="410" rx="16" ry="16"/>
<ellipse fill="#08306b" cx="573" cy="470" rx="16" ry="16"/>
<ellipse fill="#08306b" cx="950" cy="188" rx="21" ry="19"/>
<ellipse fill="#08306b" cx="1008" cy="175" rx="19" ry="23"/>
<ellipse fill="#08306b" cx="1040" cy="235" rx="41" ry="21"/>
<ellipse fill="#08306b" cx="912" cy="240" rx="16" ry="13"/>
<ellipse fill="#08306b" cx="975" cy="125" rx="15" ry="9"/>
<ellipse fill="#08306b" cx="1070" cy="85" rx="21" ry="11"/>
<ellipse fill="#08306b" cx="282" cy="709" rx="19" ry="11"/>
<ellipse fill="#08306b" cx="158" cy="578" rx="9" ry="9"/>
<ellipse fill="#08306b" cx="1010" cy="330" rx="6" ry="11"/>
<ellipse fill="#08306b" cx="1008" cy="395" rx="11" ry="6"/>
<ellipse fill="#08306b" cx="83" cy="1440" rx="9" ry="5"/>
<ellipse fill="#08306b" cx="455" cy="270" rx="13" ry="11"/>
<ellipse fill="#08306b" cx="510" cy="265" rx="13" ry="9"/>
<ellipse fill="#08306b" cx="440" cy="510" rx="11" ry="21"/>
<ellipse fill="#08306b" cx="480" cy="470" rx="11" ry="16"/>
<ellipse fill="#3787c0" cx="915" cy="704" rx="15" ry="13"/>
<ellipse fill="#3787c0" cx="543" cy="922" rx="11" ry="9"/>
<ellipse fill="#3787c0" cx="418" cy="712" rx="11" ry="9"/>
<ellipse fill="#3787c0" cx="820" cy="625" rx="11" ry="11"/>
<ellipse fill="#3787c0" cx="640" cy="375" rx="11" ry="13"/>
<ellipse fill="#3787c0" cx="440" cy="575" rx="19" ry="15"/>
<ellipse fill="#abd0e6" cx="605" cy="170" rx="6" ry="9"/>
<ellipse fill="#abd0e6" cx="300" cy="315" rx="13" ry="6"/>
<ellipse fill="#abd0e6" cx="850" cy="550" rx="11" ry="5"/>
<ellipse fill="#abd0e6" cx="1425" cy="360" rx="26" ry="4"/>
<ellipse fill="#abd0e6" cx="1435" cy="515" rx="5" ry="13"/>
<ellipse fill="#abd0e6" cx="130" cy="485" rx="11" ry="5"/>
<ellipse fill="#abd0e6" cx="230" cy="428" rx="7" ry="5"/>
<ellipse fill="#abd0e6" cx="532" cy="1027" rx="4" ry="5"/>
<ellipse fill="#abd0e6" cx="647" cy="1183" rx="6" ry="3"/>
<ellipse fill="#abd0e6" cx="820" cy="295" rx="9" ry="4"/>
</svg>
<rect x="492.6" y="2968.3" width="353.6" height="353.6" fill="none" stroke="#eef2f6" stroke-width="1"/>
<text x="669.4" y="2968" font-size="33.5" text-anchor="middle" fill="#262626">Sellerslake</text>
<svg x="854" y="2968.3" width="353.6" height="353.6" viewBox="47.7 68.8 1407 1407" preserveAspectRatio="none" shape-rendering="geometricPrecision">
<rect x="47.7" y="68.8" width="1407" height="1407" fill="#f7fbff"/>
<polygon fill="#abd0e6" points="1225,80 1260,75 1255,140 1230,135"/>
<polygon fill="#abd0e6" points="1360,75 1452,75 1452,160 1400,150 1370,130"/>
<polygon fill="#abd0e6" points="1410,380 1452,365 1452,540 1425,540 1415,450"/>
<polygon fill="#abd0e6" points="1240,1180 1280,1200 1320,1165 1340,1170 1345,1220 1360,1250 1330,1245 1290,1235 1245,1225"/>
<ellipse fill="#abd0e6" cx="1395" cy="1025" rx="16" ry="13"/>
<ellipse fill="#3787c0" cx="1325" cy="1190" rx="11" ry="34"/>
<ellipse fill="#3787c0" cx="1415" cy="1030" rx="15" ry="15"/>
<polygon fill="#3787c0" points="590,505 612,510 600,545 588,550"/>
<polygon fill="#3787c0" points="900,925 930,925 935,955 905,958"/>
<polygon fill="#3787c0" points="915,965 945,962 948,990 922,992"/>
<polyline fill="none" stroke="#3787c0" stroke-width="8.7" stroke-linejoin="round" stroke-linecap="round" points="530,1150 575,1137"/>
<polyline fill="none" stroke="#3787c0" stroke-width="7.2" stroke-linejoin="round" stroke-linecap="round" points="1095,745 1125,765"/>
<polyline fill="none" stroke="#08306b" stroke-width="11.6" stroke-linejoin="round" stroke-linecap="round" points="1015,630 1050,648"/>
<polyline fill="none" stroke="#08306b" stroke-width="11.6" stroke-linejoin="round" stroke-linecap="round" points="775,1240 835,1275"/>
<polyline fill="none" stroke="#08306b" stroke-width="11.6" stroke-linejoin="round" stroke-linecap="round" points="695,1150 718,1175"/>
<polyline fill="none" stroke="#08306b" stroke-width="8.7" stroke-linejoin="round" stroke-linecap="round" points="1228,270 1255,245"/>
<polyline fill="none" stroke="#08306b" stroke-width="10.2" stroke-linejoin="round" stroke-linecap="round" points="978,770 988,740"/>
<polyline fill="none" stroke="#abd0e6" stroke-width="4.3" stroke-linejoin="round" stroke-linecap="round" points="295,1378 335,1380"/>
<ellipse fill="#08306b" cx="95" cy="830" rx="11" ry="26"/>
<ellipse fill="#08306b" cx="95" cy="875" rx="16" ry="11"/>
<ellipse fill="#08306b" cx="1240" cy="1113" rx="21" ry="13"/>
<ellipse fill="#08306b" cx="1205" cy="1252" rx="26" ry="13"/>
<ellipse fill="#08306b" cx="1135" cy="1243" rx="23" ry="9"/>
<ellipse fill="#08306b" cx="1320" cy="1022" rx="26" ry="9"/>
<ellipse fill="#08306b" cx="935" cy="697" rx="13" ry="11"/>
<ellipse fill="#08306b" cx="392" cy="472" rx="11" ry="9"/>
<ellipse fill="#08306b" cx="257" cy="563" rx="7" ry="13"/>
<ellipse fill="#08306b" cx="632" cy="938" rx="11" ry="11"/>
<ellipse fill="#08306b" cx="925" cy="167" rx="9" ry="6"/>
<ellipse fill="#08306b" cx="838" cy="1455" rx="6" ry="23"/>
<ellipse fill="#08306b" cx="890" cy="1375" rx="7" ry="11"/>
<ellipse fill="#08306b" cx="1058" cy="908" rx="7" ry="6"/>
<ellipse fill="#08306b" cx="1220" cy="545" rx="7" ry="5"/>
<ellipse fill="#08306b" cx="1225" cy="752" rx="11" ry="6"/>
<ellipse fill="#08306b" cx="1285" cy="745" rx="11" ry="5"/>
<ellipse fill="#08306b" cx="485" cy="997" rx="9" ry="7"/>
<ellipse fill="#08306b" cx="1012" cy="782" rx="13" ry="5"/>
<ellipse fill="#3787c0" cx="630" cy="553" rx="16" ry="7"/>
<ellipse fill="#3787c0" cx="605" cy="583" rx="16" ry="9"/>
<ellipse fill="#3787c0" cx="570" cy="595" rx="9" ry="13"/>
<ellipse fill="#3787c0" cx="640" cy="605" rx="13" ry="9"/>
<ellipse fill="#3787c0" cx="665" cy="600" rx="9" ry="16"/>
<ellipse fill="#3787c0" cx="635" cy="628" rx="19" ry="7"/>
<ellipse fill="#3787c0" cx="205" cy="1052" rx="9" ry="6"/>
<ellipse fill="#3787c0" cx="325" cy="1110" rx="7" ry="13"/>
<ellipse fill="#3787c0" cx="335" cy="728" rx="11" ry="6"/>
<ellipse fill="#3787c0" cx="385" cy="744" rx="7" ry="5"/>
<ellipse fill="#3787c0" cx="870" cy="1152" rx="7" ry="6"/>
<ellipse fill="#3787c0" cx="1045" cy="1025" rx="7" ry="9"/>
<ellipse fill="#3787c0" cx="105" cy="121" rx="9" ry="5"/>
<ellipse fill="#3787c0" cx="488" cy="92" rx="7" ry="6"/>
<ellipse fill="#3787c0" cx="230" cy="320" rx="5" ry="5"/>
<ellipse fill="#3787c0" cx="822" cy="317" rx="6" ry="5"/>
<ellipse fill="#3787c0" cx="140" cy="192" rx="5" ry="5"/>
<ellipse fill="#3787c0" cx="425" cy="167" rx="5" ry="4"/>
<ellipse fill="#3787c0" cx="200" cy="290" rx="4" ry="4"/>
<ellipse fill="#3787c0" cx="313" cy="1195" rx="5" ry="11"/>
<ellipse fill="#3787c0" cx="1090" cy="1308" rx="6" ry="7"/>
<ellipse fill="#3787c0" cx="133" cy="1422" rx="6" ry="5"/>
<ellipse fill="#3787c0" cx="706" cy="659" rx="7" ry="5"/>
<ellipse fill="#3787c0" cx="813" cy="718" rx="5" ry="6"/>
<ellipse fill="#3787c0" cx="260" cy="818" rx="6" ry="5"/>
<ellipse fill="#3787c0" cx="425" cy="760" rx="5" ry="6"/>
<ellipse fill="#3787c0" cx="270" cy="993" rx="6" ry="5"/>
<ellipse fill="#3787c0" cx="155" cy="1194" rx="5" ry="4"/>
<ellipse fill="#3787c0" cx="1337" cy="940" rx="6" ry="6"/>
<ellipse fill="#3787c0" cx="1243" cy="942" rx="5" ry="5"/>
<ellipse fill="#3787c0" cx="1180" cy="1032" rx="5" ry="5"/>
<ellipse fill="#3787c0" cx="905" cy="1438" rx="4" ry="7"/>
<ellipse fill="#3787c0" cx="683" cy="1238" rx="5" ry="5"/>
<ellipse fill="#3787c0" cx="704" cy="1271" rx="5" ry="5"/>
<ellipse fill="#3787c0" cx="790" cy="1212" rx="5" ry="6"/>
<ellipse fill="#3787c0" cx="1395" cy="1143" rx="6" ry="9"/>
<ellipse fill="#3787c0" cx="690" cy="510" rx="6" ry="5"/>
<ellipse fill="#3787c0" cx="1420" cy="692" rx="5" ry="5"/>
<ellipse fill="#3787c0" cx="928" cy="743" rx="5" ry="6"/>
<ellipse fill="#3787c0" cx="1058" cy="985" rx="4" ry="9"/>
</svg>
<rect x="854" y="2968.3" width="353.6" height="353.6" fill="none" stroke="#eef2f6" stroke-width="1"/>
<text x="1030.8" y="2968" font-size="33.5" text-anchor="middle" fill="#262626">Starkville</text>
<svg x="1215.3" y="2968.3" width="353.6" height="353.6" viewBox="45 68.8 1407 1407" preserveAspectRatio="none" shape-rendering="geometricPrecision">
<rect x="45" y="68.8" width="1407" height="1407" fill="#f7fbff"/>
<rect fill="#abd0e6" x="50" y="195" width="105" height="50"/>
<rect fill="#abd0e6" x="50" y="255" width="30" height="55"/>
<rect fill="#abd0e6" x="80" y="320" width="75" height="45"/>
<rect fill="#abd0e6" x="50" y="345" width="30" height="20"/>
<rect fill="#abd0e6" x="170" y="140" width="80" height="55"/>
<rect fill="#abd0e6" x="170" y="195" width="65" height="175"/>
<rect fill="#abd0e6" x="240" y="200" width="60" height="170"/>
<rect fill="#abd0e6" x="315" y="190" width="45" height="35"/>
<rect fill="#abd0e6" x="350" y="215" width="70" height="30"/>
<rect fill="#abd0e6" x="430" y="190" width="30" height="55"/>
<rect fill="#f7fbff" x="50" y="246" width="110" height="8"/>
<rect fill="#f7fbff" x="156" y="195" width="13" height="175"/>
<rect fill="#f7fbff" x="235" y="195" width="5" height="175"/>
<rect fill="#f7fbff" x="170" y="255" width="130" height="5"/>
<rect fill="#f7fbff" x="170" y="310" width="130" height="5"/>
<rect fill="#f7fbff" x="82" y="311" width="73" height="8"/>
<rect fill="#abd0e6" x="1340" y="145" width="112" height="100"/>
<rect fill="#3787c0" x="1385" y="150" width="15" height="25"/>
<polyline fill="none" stroke="#abd0e6" stroke-width="7.2" stroke-linejoin="round" stroke-linecap="round" points="1225,150 1215,200 1220,260 1250,300 1310,315 1370,320 1400,350 1440,370"/>
<polyline fill="none" stroke="#abd0e6" stroke-width="5.8" stroke-linejoin="round" stroke-linecap="round" points="1300,120 1330,140 1350,110 1330,85"/>
<polyline fill="none" stroke="#abd0e6" stroke-width="5.8" stroke-linejoin="round" stroke-linecap="round" points="1225,85 1250,100 1270,85"/>
<polygon fill="#abd0e6" points="1410,370 1452,375 1452,450 1430,440"/>
<polyline fill="none" stroke="#3787c0" stroke-width="11.6" stroke-linejoin="round" stroke-linecap="round" points="1405,470 1440,488"/>
<polyline fill="none" stroke="#3787c0" stroke-width="7.2" stroke-linejoin="round" stroke-linecap="round" points="1210,240 1225,270 1250,295"/>
<ellipse fill="#3787c0" cx="1175" cy="278" rx="7" ry="7"/>
<ellipse fill="#3787c0" cx="60" cy="440" rx="9" ry="17"/>
<ellipse fill="#abd0e6" cx="85" cy="470" rx="13" ry="11"/>
<ellipse fill="#abd0e6" cx="720" cy="748" rx="5" ry="13"/>
<ellipse fill="#abd0e6" cx="387" cy="968" rx="5" ry="5"/>
<ellipse fill="#abd0e6" cx="1318" cy="1035" rx="5" ry="6"/>
<ellipse fill="#abd0e6" cx="1060" cy="95" rx="26" ry="9"/>
<ellipse fill="#3787c0" cx="440" cy="235" rx="11" ry="9"/>
<ellipse fill="#abd0e6" cx="160" cy="118" rx="11" ry="5"/>
<ellipse fill="#abd0e6" cx="1175" cy="210" rx="6" ry="13"/>
<ellipse fill="#abd0e6" cx="100" cy="492" rx="16" ry="4"/>
</svg>
<rect x="1215.3" y="2968.3" width="353.6" height="353.6" fill="none" stroke="#eef2f6" stroke-width="1"/>
<text x="1392.1" y="2968" font-size="33.5" text-anchor="middle" fill="#262626">UapbMarianna</text>
<svg x="1576.8" y="2968.3" width="353.6" height="353.6" viewBox="43 68.8 1407 1407" preserveAspectRatio="none" shape-rendering="geometricPrecision">
<rect x="43" y="68.8" width="1407" height="1407" fill="#f7fbff"/>
<polygon fill="#08306b" points="48,795 110,780 125,750 95,735 160,715 190,680 160,670 240,665 330,655 385,650 400,635 410,660 440,720 420,740 370,735 330,745 280,755 230,775 200,810 185,795 160,830 130,870 100,890 75,920 80,950 65,945 48,915"/>
<polygon fill="#08306b" points="48,1375 150,1355 300,1335 500,1325 700,1330 820,1350 920,1380 1050,1400 1200,1400 1350,1392 1452,1385 1452,1478 48,1478"/>
<polygon fill="#3787c0" points="180,1400 300,1385 500,1380 640,1385 720,1400 700,1440 600,1455 400,1460 250,1450 150,1440"/>
<polygon fill="#f7fbff" points="700,1440 760,1420 830,1435 800,1460 720,1470"/>
<polygon fill="#abd0e6" points="48,1385 150,1370 160,1385 60,1405"/>
<polygon fill="#3787c0" points="195,1148 310,1145 300,1200 280,1280 205,1315"/>
<polygon fill="#3787c0" points="300,1000 330,975 335,1050 325,1110 298,1110"/>
<polygon fill="#3787c0" points="815,140 880,130 885,180 815,188"/>
<rect fill="#abd0e6" x="825" y="115" width="35" height="20"/>
<polyline fill="none" stroke="#3787c0" stroke-width="14.5" stroke-linejoin="round" stroke-linecap="round" points="580,1195 605,1150"/>
<polyline fill="none" stroke="#3787c0" stroke-width="14.5" stroke-linejoin="round" stroke-linecap="round" points="1150,1250 1220,1242 1290,1250 1340,1275 1380,1305"/>
<polyline fill="none" stroke="#3787c0" stroke-width="11.6" stroke-linejoin="round" stroke-linecap="round" points="1280,1210 1310,1228"/>
<polyline fill="none" stroke="#3787c0" stroke-width="7.2" stroke-linejoin="round" stroke-linecap="round" points="835,1195 880,1125"/>
<polyline fill="none" stroke="#3787c0" stroke-width="11.6" stroke-linejoin="round" stroke-linecap="round" points="1070,660 1105,685"/>
<polyline fill="none" stroke="#3787c0" stroke-width="8.7" stroke-linejoin="round" stroke-linecap="round" points="430,1300 475,1268"/>
<polyline fill="none" stroke="#abd0e6" stroke-width="8.7" stroke-linejoin="round" stroke-linecap="round" points="390,945 450,955 520,990 600,1050"/>
<polyline fill="none" stroke="#3787c0" stroke-width="7.2" stroke-linejoin="round" stroke-linecap="round" points="480,975 530,1000"/>
<polygon fill="#abd0e6" points="1065,545 1105,542 1100,570"/>
<polyline fill="none" stroke="#abd0e6" stroke-width="5.8" stroke-linejoin="round" stroke-linecap="round" points="970,640 1050,645"/>
<polyline fill="none" stroke="#abd0e6" stroke-width="5.8" stroke-linejoin="round" stroke-linecap="round" points="1270,1365 1380,1360"/>
<polyline fill="none" stroke="#abd0e6" stroke-width="5.8" stroke-linejoin="round" stroke-linecap="round" points="940,1325 1080,1340"/>
<polyline fill="none" stroke="#abd0e6" stroke-width="5.8" stroke-linejoin="round" stroke-linecap="round" points="660,1265 780,1285"/>
<polyline fill="none" stroke="#abd0e6" stroke-width="4.3" stroke-linejoin="round" stroke-linecap="round" points="1110,1090 1200,1120 1280,1180"/>
<polyline fill="none" stroke="#abd0e6" stroke-width="4.3" stroke-linejoin="round" stroke-linecap="round" points="350,760 380,745"/>
<ellipse fill="#08306b" cx="248" cy="559" rx="9" ry="7"/>
<ellipse fill="#08306b" cx="947" cy="1182" rx="8" ry="7"/>
<ellipse fill="#3787c0" cx="255" cy="1073" rx="16" ry="13"/>
<ellipse fill="#3787c0" cx="710" cy="1137" rx="16" ry="6"/>
<ellipse fill="#3787c0" cx="512" cy="1238" rx="5" ry="16"/>
<ellipse fill="#3787c0" cx="1240" cy="405" rx="7" ry="11"/>
<ellipse fill="#3787c0" cx="1150" cy="458" rx="13" ry="9"/>
<ellipse fill="#3787c0" cx="420" cy="792" rx="7" ry="5"/>
<ellipse fill="#abd0e6" cx="1290" cy="405" rx="36" ry="15"/>
<ellipse fill="#abd0e6" cx="1155" cy="465" rx="39" ry="15"/>
<ellipse fill="#abd0e6" cx="1400" cy="412" rx="26" ry="4"/>
<ellipse fill="#abd0e6" cx="765" cy="465" rx="7" ry="3"/>
<ellipse fill="#abd0e6" cx="1018" cy="252" rx="5" ry="4"/>
<ellipse fill="#abd0e6" cx="1378" cy="127" rx="4" ry="4"/>
<ellipse fill="#abd0e6" cx="780" cy="588" rx="5" ry="4"/>
<ellipse fill="#abd0e6" cx="160" cy="1145" rx="21" ry="6"/>
<ellipse fill="#abd0e6" cx="100" cy="1195" rx="13" ry="4"/>
<ellipse fill="#abd0e6" cx="1120" cy="1230" rx="9" ry="6"/>
</svg>
<rect x="1576.8" y="2968.3" width="353.6" height="353.6" fill="none" stroke="#eef2f6" stroke-width="1"/>
<text x="1753.6" y="2968" font-size="33.5" text-anchor="middle" fill="#262626">UapbPointRemove</text>
<svg x="1938.7" y="2968.3" width="353.6" height="353.6" viewBox="42.6 68.8 1407 1407" preserveAspectRatio="none" shape-rendering="geometricPrecision">
<rect x="42.6" y="68.8" width="1407" height="1407" fill="#f7fbff"/>
<polyline fill="none" stroke="#3787c0" stroke-width="10.2" stroke-linejoin="round" stroke-linecap="round" points="1188,1338 1210,1326"/>
<polyline fill="none" stroke="#3787c0" stroke-width="8.7" stroke-linejoin="round" stroke-linecap="round" points="195,1360 245,1350"/>
<polyline fill="none" stroke="#3787c0" stroke-width="8.7" stroke-linejoin="round" stroke-linecap="round" points="205,1370 250,1357"/>
<polyline fill="none" stroke="#3787c0" stroke-width="7.2" stroke-linejoin="round" stroke-linecap="round" points="228,1332 255,1340"/>
<ellipse fill="#3787c0" cx="305" cy="303" rx="13" ry="4"/>
<ellipse fill="#3787c0" cx="343" cy="546" rx="6" ry="6"/>
<ellipse fill="#3787c0" cx="816" cy="676" rx="9" ry="4"/>
<ellipse fill="#3787c0" cx="940" cy="852" rx="5" ry="4"/>
<ellipse fill="#3787c0" cx="475" cy="1036" rx="10" ry="5"/>
<ellipse fill="#3787c0" cx="275" cy="1342" rx="13" ry="6"/>
<ellipse fill="#3787c0" cx="192" cy="1400" rx="6" ry="5"/>
<ellipse fill="#3787c0" cx="228" cy="1450" rx="4" ry="7"/>
<ellipse fill="#abd0e6" cx="633" cy="322" rx="5" ry="5"/>
<ellipse fill="#abd0e6" cx="695" cy="603" rx="4" ry="5"/>
<ellipse fill="#abd0e6" cx="903" cy="692" rx="6" ry="6"/>
<ellipse fill="#abd0e6" cx="728" cy="724" rx="4" ry="4"/>
<ellipse fill="#abd0e6" cx="811" cy="1216" rx="6" ry="5"/>
<ellipse fill="#abd0e6" cx="168" cy="1243" rx="4" ry="4"/>
<ellipse fill="#abd0e6" cx="745" cy="720" rx="4" ry="4"/>
</svg>
<rect x="1938.7" y="2968.3" width="353.6" height="353.6" fill="none" stroke="#eef2f6" stroke-width="1"/>
<text x="2115.5" y="2968" font-size="33.5" text-anchor="middle" fill="#262626">Uvalde</text>
<svg x="131.3" y="3360.6" width="353.6" height="353.6" viewBox="45 70 1407 1407" preserveAspectRatio="none" shape-rendering="geometricPrecision">
<rect x="45" y="70" width="1407" height="1407" fill="#f7fbff"/>
<polygon fill="#3787c0" points="775,320 795,330 820,350 815,375 795,372 790,350"/>
<ellipse fill="#08306b" cx="805" cy="360" rx="11" ry="13"/>
<polyline fill="none" stroke="#3787c0" stroke-width="8.7" stroke-linejoin="round" stroke-linecap="round" points="1428,343 1448,358"/>
<polyline fill="none" stroke="#3787c0" stroke-width="8.7" stroke-linejoin="round" stroke-linecap="round" points="660,663 685,677"/>
<polyline fill="none" stroke="#3787c0" stroke-width="8.7" stroke-linejoin="round" stroke-linecap="round" points="1025,1250 1055,1268"/>
<polyline fill="none" stroke="#3787c0" stroke-width="11.6" stroke-linejoin="round" stroke-linecap="round" points="188,1392 218,1417"/>
<polyline fill="none" stroke="#3787c0" stroke-width="7.2" stroke-linejoin="round" stroke-linecap="round" points="828,102 842,88"/>
<ellipse fill="#3787c0" cx="1078" cy="252" rx="13" ry="13"/>
<ellipse fill="#3787c0" cx="975" cy="258" rx="7" ry="7"/>
<ellipse fill="#3787c0" cx="878" cy="517" rx="13" ry="15"/>
<ellipse fill="#3787c0" cx="725" cy="516" rx="6" ry="6"/>
<ellipse fill="#3787c0" cx="1375" cy="303" rx="9" ry="6"/>
<ellipse fill="#3787c0" cx="1222" cy="745" rx="19" ry="9"/>
<ellipse fill="#3787c0" cx="202" cy="722" rx="13" ry="5"/>
<ellipse fill="#3787c0" cx="270" cy="942" rx="11" ry="11"/>
<ellipse fill="#3787c0" cx="328" cy="987" rx="15" ry="15"/>
<ellipse fill="#3787c0" cx="153" cy="994" rx="13" ry="13"/>
<ellipse fill="#3787c0" cx="833" cy="1093" rx="13" ry="16"/>
<ellipse fill="#3787c0" cx="722" cy="1168" rx="13" ry="11"/>
<ellipse fill="#3787c0" cx="1103" cy="1088" rx="6" ry="9"/>
<ellipse fill="#3787c0" cx="1217" cy="1165" rx="6" ry="8"/>
<ellipse fill="#3787c0" cx="1393" cy="1161" rx="8" ry="7"/>
<ellipse fill="#3787c0" cx="1192" cy="1380" rx="23" ry="9"/>
<ellipse fill="#3787c0" cx="342" cy="1277" rx="5" ry="11"/>
<ellipse fill="#3787c0" cx="280" cy="1403" rx="5" ry="9"/>
<ellipse fill="#3787c0" cx="530" cy="126" rx="9" ry="6"/>
<ellipse fill="#3787c0" cx="695" cy="125" rx="9" ry="6"/>
<ellipse fill="#3787c0" cx="564" cy="217" rx="5" ry="9"/>
<ellipse fill="#3787c0" cx="307" cy="311" rx="7" ry="5"/>
<ellipse fill="#3787c0" cx="848" cy="852" rx="9" ry="5"/>
<ellipse fill="#3787c0" cx="792" cy="878" rx="9" ry="5"/>
<ellipse fill="#3787c0" cx="978" cy="888" rx="6" ry="6"/>
<ellipse fill="#3787c0" cx="847" cy="999" rx="7" ry="6"/>
<ellipse fill="#3787c0" cx="1052" cy="605" rx="6" ry="4"/>
<ellipse fill="#3787c0" cx="447" cy="728" rx="7" ry="4"/>
<ellipse fill="#3787c0" cx="243" cy="721" rx="5" ry="4"/>
<ellipse fill="#3787c0" cx="230" cy="1250" rx="5" ry="4"/>
<ellipse fill="#3787c0" cx="625" cy="1465" rx="9" ry="5"/>
<ellipse fill="#3787c0" cx="1252" cy="1428" rx="6" ry="5"/>
<ellipse fill="#3787c0" cx="770" cy="372" rx="6" ry="6"/>
<ellipse fill="#08306b" cx="1130" cy="327" rx="15" ry="8"/>
<ellipse fill="#08306b" cx="1103" cy="494" rx="6" ry="6"/>
<ellipse fill="#08306b" cx="1376" cy="627" rx="7" ry="9"/>
<ellipse fill="#08306b" cx="1106" cy="1135" rx="8" ry="8"/>
<ellipse fill="#abd0e6" cx="1055" cy="1290" rx="13" ry="9"/>
<ellipse fill="#abd0e6" cx="473" cy="298" rx="7" ry="7"/>
<ellipse fill="#abd0e6" cx="500" cy="364" rx="13" ry="4"/>
<ellipse fill="#abd0e6" cx="1210" cy="468" rx="6" ry="11"/>
<ellipse fill="#abd0e6" cx="1407" cy="132" rx="9" ry="4"/>
<ellipse fill="#abd0e6" cx="1278" cy="265" rx="5" ry="5"/>
<ellipse fill="#abd0e6" cx="958" cy="712" rx="4" ry="9"/>
<ellipse fill="#abd0e6" cx="893" cy="858" rx="5" ry="7"/>
<ellipse fill="#abd0e6" cx="660" cy="540" rx="4" ry="11"/>
<ellipse fill="#abd0e6" cx="1025" cy="1200" rx="4" ry="9"/>
<ellipse fill="#abd0e6" cx="388" cy="667" rx="6" ry="3"/>
<ellipse fill="#abd0e6" cx="728" cy="265" rx="4" ry="7"/>
</svg>
<rect x="131.3" y="3360.6" width="353.6" height="353.6" fill="none" stroke="#eef2f6" stroke-width="1"/>
<text x="308.1" y="3360" font-size="33.5" text-anchor="middle" fill="#262626">Vernon</text>
<svg x="492.6" y="3360.6" width="353.6" height="353.6" viewBox="50.1 70 1407 1407" preserveAspectRatio="none" shape-rendering="geometricPrecision">
<rect x="50.1" y="70" width="1407" height="1407" fill="#f7fbff"/>
<polyline fill="none" stroke="#abd0e6" stroke-width="7.2" stroke-linejoin="round" stroke-linecap="round" points="420,130 500,170 590,210"/>
<polyline fill="none" stroke="#abd0e6" stroke-width="7.2" stroke-linejoin="round" stroke-linecap="round" points="685,240 760,280 830,320 880,345"/>
<polyline fill="none" stroke="#abd0e6" stroke-width="11.6" stroke-linejoin="round" stroke-linecap="round" points="890,365 930,410 970,440"/>
<polyline fill="none" stroke="#abd0e6" stroke-width="7.2" stroke-linejoin="round" stroke-linecap="round" points="1000,460 1070,490"/>
<polyline fill="none" stroke="#abd0e6" stroke-width="8.7" stroke-linejoin="round" stroke-linecap="round" points="1110,500 1200,505"/>
<polyline fill="none" stroke="#abd0e6" stroke-width="7.2" stroke-linejoin="round" stroke-linecap="round" points="580,585 640,605 680,650 705,700 708,760"/>
<polyline fill="none" stroke="#abd0e6" stroke-width="5.8" stroke-linejoin="round" stroke-linecap="round" points="880,712 950,718 1050,695 1120,665 1180,610"/>
<polyline fill="none" stroke="#abd0e6" stroke-width="4.3" stroke-linejoin="round" stroke-linecap="round" points="1070,125 1100,128 1130,108"/>
<polyline fill="none" stroke="#abd0e6" stroke-width="4.3" stroke-linejoin="round" stroke-linecap="round" points="1210,75 1280,110 1340,130 1365,180"/>
<polyline fill="none" stroke="#abd0e6" stroke-width="7.2" stroke-linejoin="round" stroke-linecap="round" points="1400,740 1430,755 1455,780"/>
<polyline fill="none" stroke="#abd0e6" stroke-width="7.2" stroke-linejoin="round" stroke-linecap="round" points="55,1265 90,1220 110,1160"/>
<polyline fill="none" stroke="#abd0e6" stroke-width="5.8" stroke-linejoin="round" stroke-linecap="round" points="165,1090 210,1060 270,1045"/>
<polyline fill="none" stroke="#abd0e6" stroke-width="4.3" stroke-linejoin="round" stroke-linecap="round" points="100,610 150,618 200,605"/>
<polyline fill="none" stroke="#abd0e6" stroke-width="4.3" stroke-linejoin="round" stroke-linecap="round" points="165,215 200,185"/>
<polyline fill="none" stroke="#abd0e6" stroke-width="4.3" stroke-linejoin="round" stroke-linecap="round" points="460,1415 515,1453"/>
<polyline fill="none" stroke="#abd0e6" stroke-width="4.3" stroke-linejoin="round" stroke-linecap="round" points="950,1155 985,1180"/>
<polyline fill="none" stroke="#abd0e6" stroke-width="5.8" stroke-linejoin="round" stroke-linecap="round" points="700,930 735,985"/>
<polyline fill="none" stroke="#abd0e6" stroke-width="8.7" stroke-linejoin="round" stroke-linecap="round" points="420,605 455,610"/>
<polyline fill="none" stroke="#3787c0" stroke-width="13" stroke-linejoin="round" stroke-linecap="round" points="1195,225 1240,195 1275,188"/>
<polyline fill="none" stroke="#abd0e6" stroke-width="8.7" stroke-linejoin="round" stroke-linecap="round" points="1275,188 1320,210"/>
<polyline fill="none" stroke="#3787c0" stroke-width="11.6" stroke-linejoin="round" stroke-linecap="round" points="1290,300 1310,335"/>
<polyline fill="none" stroke="#abd0e6" stroke-width="7.2" stroke-linejoin="round" stroke-linecap="round" points="1310,335 1360,370 1350,400 1320,410"/>
<ellipse fill="#3787c0" cx="1305" cy="405" rx="11" ry="7"/>
<polygon fill="#08306b" points="375,72 430,72 420,92"/>
<ellipse fill="#abd0e6" cx="930" cy="975" rx="14" ry="41"/>
<ellipse fill="#3787c0" cx="928" cy="942" rx="9" ry="7"/>
<ellipse fill="#3787c0" cx="703" cy="700" rx="5" ry="16"/>
<ellipse fill="#3787c0" cx="95" cy="1220" rx="6" ry="9"/>
<ellipse fill="#3787c0" cx="1215" cy="298" rx="6" ry="6"/>
<polyline fill="none" stroke="#abd0e6" stroke-width="5.8" stroke-linejoin="round" stroke-linecap="round" points="1130,180 1170,190"/>
<polyline fill="none" stroke="#abd0e6" stroke-width="5.8" stroke-linejoin="round" stroke-linecap="round" points="1135,270 1200,285"/>
<rect fill="#abd0e6" x="1275" y="800" width="20" height="40"/>
<rect fill="#abd0e6" x="1270" y="885" width="100" height="20"/>
<rect fill="#abd0e6" x="1340" y="925" width="30" height="40"/>
<rect fill="#abd0e6" x="1320" y="850" width="45" height="20"/>
<ellipse fill="#3787c0" cx="812" cy="1120" rx="4" ry="4"/>
<ellipse fill="#3787c0" cx="700" cy="940" rx="5" ry="11"/>
<polyline fill="none" stroke="#abd0e6" stroke-width="4.3" stroke-linejoin="round" stroke-linecap="round" points="1035,225 1060,200"/>
<polyline fill="none" stroke="#abd0e6" stroke-width="4.3" stroke-linejoin="round" stroke-linecap="round" points="55,455 80,440"/>
</svg>
<rect x="492.6" y="3360.6" width="353.6" height="353.6" fill="none" stroke="#eef2f6" stroke-width="1"/>
<text x="669.4" y="3360" font-size="33.5" text-anchor="middle" fill="#262626">Vance</text>
<svg x="854" y="3360.6" width="353.6" height="353.6" viewBox="47.7 70 1407 1407" preserveAspectRatio="none" shape-rendering="geometricPrecision">
<rect x="47.7" y="70" width="1407" height="1407" fill="#f7fbff"/>
<ellipse fill="#abd0e6" cx="158" cy="295" rx="6" ry="3"/>
<ellipse fill="#abd0e6" cx="1290" cy="590" rx="3" ry="4"/>
<ellipse fill="#abd0e6" cx="1392" cy="776" rx="3" ry="4"/>
</svg>
<rect x="854" y="3360.6" width="353.6" height="353.6" fill="none" stroke="#eef2f6" stroke-width="1"/>
<text x="1030.8" y="3360" font-size="33.5" text-anchor="middle" fill="#262626">WillowWells</text>
<rect x="1215.3" y="3375" width="353.7" height="324.4" fill="#fff" stroke="#e6ebef" stroke-width="1"/>
<svg x="1230.4" y="3375" width="325.5" height="324.4" viewBox="105 127.3 1295.1 1290.8" preserveAspectRatio="none" shape-rendering="geometricPrecision">
<rect x="105" y="127.3" width="1295.1" height="1290.8" fill="#f7fbff"/>
<polyline fill="none" stroke="#3787c0" stroke-width="5.8" stroke-linejoin="round" stroke-linecap="round" points="455,127 480,150 495,220 510,310 518,380 500,410 440,455 380,500 320,545 275,585 260,650 240,720 200,820 165,900 145,960 130,1040 120,1095 107,1110"/>
<polygon fill="#08306b" points="133,325 180,320 150,340"/>
<polygon fill="#3787c0" points="250,315 270,305 295,320 260,335"/>
<ellipse fill="#3787c0" cx="230" cy="335" rx="6" ry="6"/>
<rect fill="#abd0e6" x="107" y="165" width="43" height="70"/>
<polygon fill="#abd0e6" points="285,135 400,150 410,185 330,175 290,165"/>
<polygon fill="#abd0e6" points="120,380 160,350 210,360 190,410 140,430"/>
<polygon fill="#abd0e6" points="175,455 215,425 260,450 230,490 190,480"/>
<polygon fill="#abd0e6" points="240,480 290,460 300,500 260,510"/>
<ellipse fill="#abd0e6" cx="225" cy="545" rx="26" ry="13"/>
<polygon fill="#abd0e6" points="160,630 225,630 230,665 180,665"/>
<ellipse fill="#abd0e6" cx="210" cy="700" rx="21" ry="26"/>
<rect fill="#abd0e6" x="107" y="745" width="53" height="30"/>
<ellipse fill="#abd0e6" cx="175" cy="788" rx="13" ry="9"/>
<polygon fill="#abd0e6" points="110,830 165,825 150,875 115,880"/>
<rect fill="#abd0e6" x="107" y="910" width="28" height="40"/>
<rect fill="#abd0e6" x="107" y="970" width="18" height="90"/>
<ellipse fill="#abd0e6" cx="270" cy="405" rx="26" ry="21"/>
<ellipse fill="#abd0e6" cx="310" cy="515" rx="11" ry="16"/>
<polyline fill="none" stroke="#abd0e6" stroke-width="11.6" stroke-linejoin="round" stroke-linecap="round" points="450,490 490,515 520,520 525,565 545,570"/>
<ellipse fill="#abd0e6" cx="580" cy="578" rx="11" ry="6"/>
<polyline fill="none" stroke="#abd0e6" stroke-width="11.6" stroke-linejoin="round" stroke-linecap="round" points="1040,605 1080,575"/>
<polyline fill="none" stroke="#abd0e6" stroke-width="14.5" stroke-linejoin="round" stroke-linecap="round" points="1160,990 1220,1000 1300,1005"/>
<ellipse fill="#abd0e6" cx="853" cy="480" rx="11" ry="21"/>
<ellipse fill="#abd0e6" cx="1160" cy="462" rx="9" ry="13"/>
<ellipse fill="#abd0e6" cx="1358" cy="475" rx="21" ry="13"/>
<ellipse fill="#abd0e6" cx="1210" cy="1020" rx="21" ry="9"/>
<ellipse fill="#abd0e6" cx="1300" cy="1020" rx="16" ry="9"/>
<ellipse fill="#abd0e6" cx="978" cy="885" rx="7" ry="19"/>
<ellipse fill="#abd0e6" cx="1200" cy="630" rx="6" ry="26"/>
<ellipse fill="#abd0e6" cx="420" cy="290" rx="11" ry="6"/>
<ellipse fill="#abd0e6" cx="1170" cy="750" rx="31" ry="5"/>
<ellipse fill="#3787c0" cx="1220" cy="1159" rx="6" ry="6"/>
<ellipse fill="#3787c0" cx="1388" cy="1273" rx="5" ry="5"/>
<ellipse fill="#3787c0" cx="1067" cy="258" rx="5" ry="5"/>
<ellipse fill="#3787c0" cx="927" cy="740" rx="5" ry="5"/>
</svg>
<text x="1392.1" y="3372" font-size="33.5" text-anchor="middle" fill="#262626">Yanco-Y7</text>
<rect x="1577.3" y="3375" width="353.7" height="324.4" fill="#fff" stroke="#e6ebef" stroke-width="1"/>
<svg x="1586.6" y="3375" width="326.2" height="324.4" viewBox="82 127.3 1297.9 1290.8" preserveAspectRatio="none" shape-rendering="geometricPrecision">
<rect x="82" y="127.3" width="1297.9" height="1290.8" fill="#f7fbff"/>
<polygon fill="#3787c0" points="935,127 1088,127 1085,155 988,150 982,195 935,175"/>
<ellipse fill="#08306b" cx="938" cy="207" rx="7" ry="5"/>
<polygon fill="#abd0e6" points="1140,127 1180,127 1165,155 1145,155"/>
<polygon fill="#abd0e6" points="1065,320 1100,298 1145,295 1140,312 1090,318"/>
<ellipse fill="#abd0e6" cx="610" cy="217" rx="15" ry="17"/>
<ellipse fill="#abd0e6" cx="1143" cy="205" rx="16" ry="11"/>
<ellipse fill="#abd0e6" cx="893" cy="365" rx="21" ry="11"/>
<ellipse fill="#abd0e6" cx="610" cy="747" rx="11" ry="13"/>
<ellipse fill="#abd0e6" cx="708" cy="733" rx="9" ry="7"/>
<ellipse fill="#abd0e6" cx="460" cy="515" rx="9" ry="5"/>
<ellipse fill="#abd0e6" cx="672" cy="353" rx="5" ry="4"/>
<ellipse fill="#abd0e6" cx="486" cy="1207" rx="4" ry="4"/>
<ellipse fill="#3787c0" cx="538" cy="437" rx="15" ry="15"/>
<ellipse fill="#3787c0" cx="436" cy="359" rx="7" ry="5"/>
<ellipse fill="#3787c0" cx="437" cy="537" rx="6" ry="6"/>
<ellipse fill="#3787c0" cx="85" cy="650" rx="5" ry="6"/>
<ellipse fill="#3787c0" cx="126" cy="580" rx="4" ry="4"/>
<ellipse fill="#3787c0" cx="287" cy="586" rx="5" ry="4"/>
<ellipse fill="#3787c0" cx="700" cy="1150" rx="5" ry="4"/>
</svg>
<text x="1754.1" y="3372" font-size="33.5" text-anchor="middle" fill="#262626">Yanco-Y8</text>
<rect x="1939.3" y="3374.6" width="353.1" height="325.2" fill="#fff" stroke="#e6ebef" stroke-width="1"/>
<svg x="1955.1" y="3374.6" width="324.8" height="325.2" viewBox="107.8 125.7 1292.4 1294" preserveAspectRatio="none" shape-rendering="geometricPrecision">
<rect x="107.8" y="125.7" width="1292.4" height="1294" fill="#f7fbff"/>
<ellipse fill="#abd0e6" cx="1082" cy="1388" rx="11" ry="13"/>
<ellipse fill="#abd0e6" cx="1160" cy="1415" rx="16" ry="5"/>
<ellipse fill="#abd0e6" cx="815" cy="1265" rx="7" ry="4"/>
<ellipse fill="#abd0e6" cx="950" cy="1195" rx="6" ry="4"/>
<ellipse fill="#abd0e6" cx="670" cy="880" rx="5" ry="5"/>
<ellipse fill="#3787c0" cx="1395" cy="1130" rx="6" ry="7"/>
<ellipse fill="#3787c0" cx="1110" cy="1320" rx="6" ry="5"/>
<ellipse fill="#3787c0" cx="855" cy="1243" rx="5" ry="5"/>
<ellipse fill="#3787c0" cx="723" cy="1385" rx="5" ry="4"/>
<ellipse fill="#3787c0" cx="1373" cy="1090" rx="4" ry="5"/>
</svg>
<text x="2115.8" y="3372" font-size="33.5" text-anchor="middle" fill="#262626">Yanco-Y11</text>
<text x="129.5" y="2595.5" font-size="30" text-anchor="end" fill="#262626">35.59</text>
<text x="129.5" y="2767.1" font-size="30" text-anchor="end" fill="#262626">35.55</text>
<text x="129.5" y="2935.5" font-size="30" text-anchor="end" fill="#262626">35.51</text>
<text x="49.5" y="2756" font-size="30" text-anchor="middle" transform="rotate(-90 49.5 2756)" fill="#262626">Latitude</text>
<text x="129.5" y="2986.5" font-size="30" text-anchor="end" fill="#262626">31.59</text>
<text x="129.5" y="3158.1" font-size="30" text-anchor="end" fill="#262626">31.55</text>
<text x="129.5" y="3328.1" font-size="30" text-anchor="end" fill="#262626">31.51</text>
<text x="49.5" y="3147" font-size="30" text-anchor="middle" transform="rotate(-90 49.5 3147)" fill="#262626">Latitude</text>
<text x="129.5" y="3378.1" font-size="30" text-anchor="end" fill="#262626">34.06</text>
<text x="129.5" y="3548.1" font-size="30" text-anchor="end" fill="#262626">34.02</text>
<text x="129.5" y="3717.3" font-size="30" text-anchor="end" fill="#262626">33.98</text>
<text x="49.5" y="3537" font-size="30" text-anchor="middle" transform="rotate(-90 49.5 3537)" fill="#262626">Latitude</text>
<text x="147" y="3716.4" font-size="30" text-anchor="end" transform="rotate(-90 147 3716.4)" fill="#262626">−99.29</text>
<text x="317.2" y="3716.4" font-size="30" text-anchor="end" transform="rotate(-90 317.2 3716.4)" fill="#262626">−99.25</text>
<text x="487.6" y="3716.4" font-size="30" text-anchor="end" transform="rotate(-90 487.6 3716.4)" fill="#262626">−99.21</text>
<text x="307.6" y="3828.9" font-size="30" text-anchor="middle" fill="#262626">Longitude</text>
<text x="509.5" y="3716.4" font-size="30" text-anchor="end" transform="rotate(-90 509.5 3716.4)" fill="#262626">−90.39</text>
<text x="679" y="3716.4" font-size="30" text-anchor="end" transform="rotate(-90 679 3716.4)" fill="#262626">−90.35</text>
<text x="849.2" y="3716.4" font-size="30" text-anchor="end" transform="rotate(-90 849.2 3716.4)" fill="#262626">−90.31</text>
<text x="669.5" y="3828.9" font-size="30" text-anchor="middle" fill="#262626">Longitude</text>
<text x="870.7" y="3716.4" font-size="30" text-anchor="end" transform="rotate(-90 870.7 3716.4)" fill="#262626">−103.67</text>
<text x="1041.9" y="3716.4" font-size="30" text-anchor="end" transform="rotate(-90 1041.9 3716.4)" fill="#262626">−103.63</text>
<text x="1212.1" y="3716.4" font-size="30" text-anchor="end" transform="rotate(-90 1212.1 3716.4)" fill="#262626">−103.59</text>
<text x="1030.5" y="3846.7" font-size="30" text-anchor="middle" fill="#262626">Longitude</text>
<text x="1226" y="3704.8" font-size="30" text-anchor="end" transform="rotate(-90 1226 3704.8)" fill="#262626">146.07</text>
<text x="1422.5" y="3704.8" font-size="30" text-anchor="end" transform="rotate(-90 1422.5 3704.8)" fill="#262626">146.12</text>
<text x="1579.2" y="3704.8" font-size="30" text-anchor="end" transform="rotate(-90 1579.2 3704.8)" fill="#262626">146.16</text>
<text x="1392.4" y="3816.7" font-size="30" text-anchor="middle" fill="#262626">Longitude</text>
<text x="1590.9" y="3704.8" font-size="30" text-anchor="end" transform="rotate(-90 1590.9 3704.8)" fill="#262626">146.37</text>
<text x="1743.1" y="3704.8" font-size="30" text-anchor="end" transform="rotate(-90 1743.1 3704.8)" fill="#262626">146.41</text>
<text x="1939.7" y="3704.8" font-size="30" text-anchor="end" transform="rotate(-90 1939.7 3704.8)" fill="#262626">146.46</text>
<text x="1754.2" y="3816.7" font-size="30" text-anchor="middle" fill="#262626">Longitude</text>
<text x="1952.2" y="3704.8" font-size="30" text-anchor="end" transform="rotate(-90 1952.2 3704.8)" fill="#262626">145.89</text>
<text x="2149.5" y="3704.8" font-size="30" text-anchor="end" transform="rotate(-90 2149.5 3704.8)" fill="#262626">145.94</text>
<text x="2303.3" y="3704.8" font-size="30" text-anchor="end" transform="rotate(-90 2303.3 3704.8)" fill="#262626">145.98</text>
<text x="2116" y="3816.7" font-size="30" text-anchor="middle" fill="#262626">Longitude</text>
<rect x="2313.4" y="2952.1" width="22.9" height="113.7" fill="#08306b"/>
<rect x="2313.4" y="3065.5" width="22.9" height="113.8" fill="#3787c0"/>
<rect x="2313.4" y="3179" width="22.9" height="113.3" fill="#abd0e6"/>
<rect x="2313.4" y="3292" width="22.9" height="107.8" fill="#f7fbff"/>
<text x="2337.5" y="3061.8" font-size="41" text-anchor="start" fill="#262626">3</text>
<text x="2337.5" y="3176" font-size="41" text-anchor="start" fill="#262626">2</text>
<text x="2337.5" y="3289.3" font-size="41" text-anchor="start" fill="#262626">1</text>
<text x="2337.5" y="3403.3" font-size="41" text-anchor="start" fill="#262626">0</text>
<text x="1243" y="3904" font-size="54" text-anchor="middle" font-weight="bold" fill="#000" textLength="62" lengthAdjust="spacingAndGlyphs">(c)</text>
</svg>
</body></html>
